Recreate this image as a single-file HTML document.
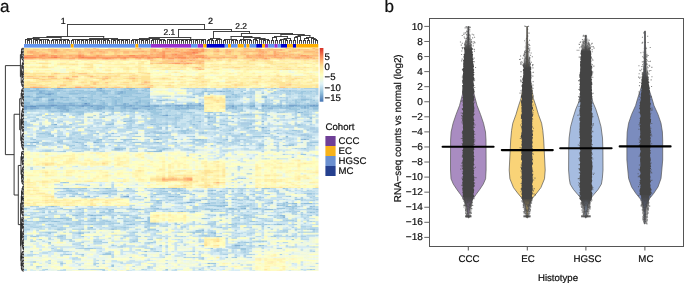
<!DOCTYPE html>
<html><head><meta charset="utf-8"><style>
html,body{margin:0;padding:0;background:#fff;width:685px;height:284px;overflow:hidden;}
body{position:relative;font-family:"Liberation Sans",sans-serif}
text{stroke:#111;stroke-width:0.22px;}
</style></head><body>
<div style="position:absolute;left:0;top:0;width:685px;height:284px;will-change:transform;filter:blur(0.3px)"><svg xmlns="http://www.w3.org/2000/svg" width="685" height="284" viewBox="0 0 685 284" style="position:absolute;left:0;top:0;text-rendering:geometricPrecision;font-family:"Liberation Sans",sans-serif" fill="#111" stroke-width="0.25"><defs><filter id="bl" x="0" y="0" width="1" height="1"><feGaussianBlur stdDeviation="0.35"/></filter></defs><g fill="none" stroke-width="1.61" filter="url(#bl)"><path stroke="#5686bd" d="M51.0 105.12h3.2"/><path stroke="#6494c4" d="M84.1 103.62h3.2M54.0 105.12h3.2M312.3 105.12h3.2M30.0 106.61h6.2"/><path stroke="#72a1cb" d="M99.1 88.69h3.2M48.0 94.66h3.2M51.0 99.14h3.2M39.0 105.12h6.2M48.0 105.12h3.2M63.0 105.12h3.2M69.0 105.12h6.2M81.1 105.12h9.2M129.1 105.12h3.2M174.2 105.12h9.2M186.2 105.12h3.2M198.2 105.12h3.2M261.2 105.12h3.2M288.3 105.12h9.2M309.3 105.12h3.2M315.3 105.12h3.2M24.0 106.61h6.2M81.1 106.61h3.2M90.1 106.61h3.2M144.1 106.61h6.2M231.2 106.61h3.2M24.0 108.11h3.2M30.0 108.11h9.2M57.0 108.11h3.2M99.1 108.11h3.2M132.1 108.11h6.2M165.1 115.58h3.2M126.1 196.25h3.2"/><path stroke="#80afd2" d="M57.0 88.69h6.2M99.1 90.18h3.2M39.0 91.67h3.2M120.1 91.67h3.2M219.2 91.67h3.2M39.0 93.17h6.2M48.0 93.17h6.2M117.1 93.17h6.2M45.0 94.66h3.2M27.0 96.16h3.2M36.0 97.65h6.2M60.0 97.65h3.2M81.1 97.65h3.2M48.0 100.64h6.2M135.1 102.13h3.2M69.0 103.62h3.2M87.1 103.62h3.2M123.1 103.62h3.2M198.2 103.62h3.2M24.0 105.12h3.2M30.0 105.12h3.2M36.0 105.12h3.2M45.0 105.12h3.2M57.0 105.12h6.2M66.0 105.12h3.2M75.1 105.12h6.2M90.1 105.12h12.2M114.1 105.12h12.2M132.1 105.12h3.2M147.1 105.12h3.2M153.1 105.12h6.2M165.1 105.12h6.2M183.2 105.12h3.2M189.2 105.12h9.2M201.2 105.12h3.2M231.2 105.12h3.2M240.2 105.12h3.2M252.2 105.12h3.2M264.2 105.12h3.2M279.3 105.12h3.2M297.3 105.12h3.2M306.3 105.12h3.2M36.0 106.61h18.2M57.0 106.61h9.2M78.1 106.61h3.2M96.1 106.61h9.2M123.1 106.61h9.2M141.1 106.61h3.2M153.1 106.61h6.2M177.2 106.61h3.2M186.2 106.61h3.2M249.2 106.61h6.2M261.2 106.61h3.2M288.3 106.61h6.2M303.3 106.61h3.2M309.3 106.61h9.2M27.0 108.11h3.2M45.0 108.11h6.2M60.0 108.11h6.2M96.1 108.11h3.2M102.1 108.11h3.2M111.1 108.11h3.2M123.1 108.11h3.2M138.1 108.11h3.2M180.2 108.11h15.2M231.2 108.11h3.2M267.2 108.11h6.2M303.3 108.11h3.2M24.0 109.60h3.2M63.0 109.60h6.2M96.1 109.60h3.2M147.1 109.60h3.2M60.0 111.09h3.2M66.0 111.09h3.2M297.3 112.59h3.2M162.1 115.58h3.2M207.2 117.07h3.2M54.0 124.54h3.2M261.2 127.53h3.2M153.1 132.01h3.2M300.3 135.00h6.2M156.1 139.48h3.2M303.3 139.48h3.2M237.2 140.97h3.2M33.0 142.47h3.2M93.1 142.47h3.2M114.1 149.94h6.2M123.1 196.25h3.2M186.2 202.23h6.2M243.2 208.20h3.2M90.1 215.67h3.2M282.3 217.17h3.2M111.1 229.12h3.2M234.2 245.56h6.2"/><path stroke="#8ebcda" d="M36.0 88.69h3.2M63.0 88.69h3.2M96.1 88.69h3.2M126.1 88.69h9.2M147.1 88.69h3.2M30.0 90.18h15.2M57.0 90.18h3.2M75.1 90.18h3.2M96.1 90.18h3.2M102.1 90.18h3.2M129.1 90.18h3.2M141.1 90.18h3.2M27.0 91.67h6.2M42.0 91.67h3.2M48.0 91.67h3.2M90.1 91.67h3.2M99.1 91.67h6.2M117.1 91.67h3.2M123.1 91.67h3.2M204.2 91.67h3.2M216.2 91.67h3.2M222.2 91.67h3.2M36.0 93.17h3.2M45.0 93.17h3.2M69.0 93.17h12.2M87.1 93.17h3.2M102.1 93.17h6.2M123.1 93.17h3.2M135.1 93.17h6.2M243.2 93.17h3.2M261.2 93.17h3.2M270.3 93.17h3.2M36.0 94.66h3.2M51.0 94.66h3.2M117.1 94.66h3.2M231.2 94.66h3.2M24.0 96.16h3.2M39.0 96.16h6.2M48.0 96.16h3.2M123.1 96.16h6.2M63.0 97.65h6.2M78.1 97.65h3.2M84.1 97.65h3.2M105.1 97.65h3.2M114.1 97.65h3.2M225.2 97.65h3.2M264.2 97.65h3.2M33.0 99.14h6.2M48.0 99.14h3.2M54.0 99.14h3.2M78.1 99.14h3.2M90.1 99.14h3.2M117.1 99.14h3.2M300.3 99.14h9.2M33.0 100.64h6.2M81.1 100.64h3.2M99.1 100.64h3.2M114.1 100.64h3.2M138.1 100.64h3.2M159.1 100.64h3.2M24.0 102.13h6.2M48.0 102.13h6.2M57.0 102.13h3.2M102.1 102.13h3.2M114.1 102.13h3.2M138.1 102.13h3.2M147.1 102.13h3.2M24.0 103.62h6.2M48.0 103.62h6.2M57.0 103.62h12.2M72.0 103.62h3.2M81.1 103.62h3.2M102.1 103.62h3.2M114.1 103.62h3.2M126.1 103.62h3.2M135.1 103.62h3.2M147.1 103.62h3.2M189.2 103.62h3.2M27.0 105.12h3.2M33.0 105.12h3.2M102.1 105.12h6.2M126.1 105.12h3.2M135.1 105.12h12.2M150.1 105.12h3.2M162.1 105.12h3.2M171.2 105.12h3.2M225.2 105.12h6.2M237.2 105.12h3.2M249.2 105.12h3.2M267.2 105.12h3.2M276.3 105.12h3.2M285.3 105.12h3.2M300.3 105.12h6.2M54.0 106.61h3.2M66.0 106.61h3.2M72.0 106.61h6.2M84.1 106.61h6.2M93.1 106.61h3.2M105.1 106.61h9.2M120.1 106.61h3.2M132.1 106.61h3.2M138.1 106.61h3.2M150.1 106.61h3.2M159.1 106.61h3.2M165.1 106.61h6.2M174.2 106.61h3.2M180.2 106.61h3.2M189.2 106.61h6.2M198.2 106.61h6.2M228.2 106.61h3.2M234.2 106.61h3.2M264.2 106.61h3.2M270.3 106.61h12.2M285.3 106.61h3.2M294.3 106.61h9.2M306.3 106.61h3.2M39.0 108.11h6.2M54.0 108.11h3.2M66.0 108.11h6.2M75.1 108.11h6.2M87.1 108.11h9.2M108.1 108.11h3.2M120.1 108.11h3.2M126.1 108.11h6.2M141.1 108.11h15.2M174.2 108.11h6.2M225.2 108.11h6.2M234.2 108.11h3.2M249.2 108.11h3.2M279.3 108.11h12.2M300.3 108.11h3.2M306.3 108.11h3.2M312.3 108.11h6.2M30.0 109.60h3.2M60.0 109.60h3.2M93.1 109.60h3.2M99.1 109.60h3.2M111.1 109.60h3.2M132.1 109.60h6.2M150.1 109.60h3.2M159.1 109.60h3.2M174.2 109.60h6.2M198.2 109.60h3.2M51.0 111.09h6.2M63.0 111.09h3.2M120.1 111.09h3.2M129.1 111.09h3.2M261.2 111.09h3.2M300.3 112.59h3.2M78.1 114.08h3.2M246.2 114.08h3.2M261.2 114.08h3.2M87.1 117.07h3.2M102.1 117.07h3.2M210.2 117.07h3.2M111.1 120.06h3.2M150.1 120.06h6.2M174.2 120.06h3.2M243.2 120.06h3.2M123.1 121.55h3.2M198.2 121.55h3.2M261.2 121.55h3.2M96.1 123.05h3.2M165.1 123.05h3.2M240.2 123.05h9.2M108.1 124.54h3.2M150.1 124.54h3.2M192.2 124.54h3.2M207.2 124.54h3.2M174.2 127.53h3.2M39.0 129.02h3.2M156.1 129.02h6.2M165.1 129.02h3.2M210.2 129.02h6.2M231.2 129.02h3.2M309.3 129.02h6.2M45.0 132.01h3.2M150.1 132.01h3.2M156.1 132.01h3.2M297.3 132.01h3.2M312.3 132.01h6.2M111.1 133.50h3.2M162.1 133.50h3.2M306.3 135.00h3.2M261.2 136.49h3.2M285.3 136.49h3.2M69.0 137.99h3.2M249.2 137.99h3.2M99.1 139.48h3.2M153.1 139.48h3.2M198.2 139.48h3.2M225.2 139.48h3.2M300.3 139.48h3.2M60.0 140.97h3.2M201.2 140.97h3.2M234.2 140.97h3.2M30.0 142.47h3.2M36.0 142.47h3.2M75.1 142.47h3.2M96.1 142.47h3.2M156.1 142.47h3.2M45.0 143.96h6.2M81.1 143.96h3.2M258.2 143.96h3.2M27.0 145.46h3.2M84.1 145.46h3.2M288.3 145.46h3.2M57.0 146.95h3.2M114.1 148.44h6.2M87.1 149.94h3.2M93.1 149.94h3.2M159.1 149.94h3.2M186.2 149.94h6.2M153.1 151.43h9.2M63.0 188.78h6.2M105.1 188.78h3.2M126.1 188.78h3.2M162.1 188.78h3.2M171.2 188.78h6.2M210.2 190.28h3.2M219.2 191.77h3.2M102.1 193.26h6.2M240.2 193.26h3.2M87.1 196.25h3.2M168.1 196.25h6.2M231.2 199.24h3.2M198.2 200.73h3.2M222.2 202.23h3.2M270.3 202.23h3.2M285.3 202.23h3.2M204.2 203.72h6.2M291.3 203.72h6.2M303.3 203.72h9.2M222.2 205.22h6.2M276.3 205.22h3.2M51.0 206.71h3.2M219.2 206.71h3.2M285.3 206.71h6.2M309.3 206.71h3.2M156.1 208.20h3.2M228.2 208.20h6.2M240.2 208.20h3.2M255.2 208.20h3.2M111.1 209.70h3.2M135.1 209.70h3.2M213.2 209.70h3.2M264.2 209.70h9.2M315.3 209.70h3.2M180.2 211.19h3.2M192.2 211.19h3.2M309.3 212.69h3.2M75.1 215.67h3.2M93.1 215.67h3.2M99.1 215.67h3.2M279.3 215.67h6.2M252.2 217.17h3.2M60.0 218.66h3.2M93.1 218.66h3.2M42.0 221.65h3.2M54.0 221.65h3.2M144.1 221.65h3.2M117.1 223.14h3.2M150.1 223.14h6.2M129.1 224.64h3.2M276.3 224.64h6.2M90.1 227.63h3.2M57.0 229.12h3.2M81.1 229.12h3.2M309.3 229.12h6.2M201.2 230.61h3.2M195.2 232.11h6.2M210.2 232.11h3.2M78.1 233.60h3.2M213.2 233.60h3.2M132.1 241.07h3.2M261.2 241.07h3.2M72.0 244.06h3.2M258.2 245.56h3.2M120.1 247.05h3.2M234.2 247.05h3.2M216.2 250.04h3.2M144.1 251.53h3.2M243.2 256.01h3.2M201.2 259.00h3.2M33.0 261.99h3.2M207.2 263.48h3.2"/><path stroke="#9cc7df" d="M24.0 88.69h6.2M33.0 88.69h3.2M39.0 88.69h6.2M51.0 88.69h6.2M66.0 88.69h6.2M87.1 88.69h3.2M102.1 88.69h3.2M111.1 88.69h3.2M123.1 88.69h3.2M144.1 88.69h3.2M273.3 88.69h3.2M24.0 90.18h6.2M45.0 90.18h3.2M54.0 90.18h3.2M60.0 90.18h3.2M72.0 90.18h3.2M78.1 90.18h6.2M105.1 90.18h6.2M123.1 90.18h6.2M132.1 90.18h6.2M144.1 90.18h3.2M228.2 90.18h3.2M243.2 90.18h3.2M279.3 90.18h6.2M288.3 90.18h3.2M24.0 91.67h3.2M33.0 91.67h6.2M45.0 91.67h3.2M51.0 91.67h9.2M63.0 91.67h3.2M69.0 91.67h6.2M78.1 91.67h12.2M93.1 91.67h6.2M105.1 91.67h6.2M114.1 91.67h3.2M126.1 91.67h12.2M144.1 91.67h6.2M201.2 91.67h3.2M207.2 91.67h9.2M225.2 91.67h6.2M240.2 91.67h3.2M288.3 91.67h3.2M300.3 91.67h6.2M309.3 91.67h3.2M54.0 93.17h3.2M66.0 93.17h3.2M81.1 93.17h6.2M90.1 93.17h6.2M114.1 93.17h3.2M126.1 93.17h9.2M141.1 93.17h3.2M198.2 93.17h6.2M249.2 93.17h3.2M273.3 93.17h3.2M297.3 93.17h6.2M39.0 94.66h6.2M54.0 94.66h3.2M69.0 94.66h9.2M90.1 94.66h6.2M99.1 94.66h9.2M114.1 94.66h3.2M120.1 94.66h12.2M147.1 94.66h3.2M192.2 94.66h3.2M207.2 94.66h3.2M234.2 94.66h3.2M30.0 96.16h3.2M36.0 96.16h3.2M45.0 96.16h3.2M51.0 96.16h12.2M90.1 96.16h3.2M99.1 96.16h3.2M108.1 96.16h6.2M120.1 96.16h3.2M129.1 96.16h9.2M144.1 96.16h6.2M225.2 96.16h6.2M234.2 96.16h6.2M261.2 96.16h6.2M300.3 96.16h3.2M24.0 97.65h12.2M42.0 97.65h18.2M75.1 97.65h3.2M87.1 97.65h6.2M102.1 97.65h3.2M108.1 97.65h6.2M117.1 97.65h6.2M135.1 97.65h15.2M192.2 97.65h3.2M228.2 97.65h3.2M234.2 97.65h3.2M261.2 97.65h3.2M60.0 99.14h3.2M66.0 99.14h3.2M81.1 99.14h3.2M87.1 99.14h3.2M93.1 99.14h6.2M111.1 99.14h6.2M120.1 99.14h3.2M129.1 99.14h12.2M309.3 99.14h3.2M24.0 100.64h3.2M63.0 100.64h6.2M84.1 100.64h3.2M90.1 100.64h6.2M102.1 100.64h3.2M111.1 100.64h3.2M117.1 100.64h6.2M129.1 100.64h3.2M141.1 100.64h9.2M156.1 100.64h3.2M162.1 100.64h3.2M228.2 100.64h3.2M294.3 100.64h3.2M300.3 100.64h6.2M312.3 100.64h3.2M54.0 102.13h3.2M60.0 102.13h3.2M69.0 102.13h27.2M99.1 102.13h3.2M111.1 102.13h3.2M117.1 102.13h6.2M132.1 102.13h3.2M141.1 102.13h6.2M285.3 102.13h3.2M294.3 102.13h6.2M36.0 103.62h12.2M54.0 103.62h3.2M75.1 103.62h3.2M90.1 103.62h3.2M99.1 103.62h3.2M105.1 103.62h3.2M111.1 103.62h3.2M120.1 103.62h3.2M132.1 103.62h3.2M138.1 103.62h3.2M144.1 103.62h3.2M171.2 103.62h3.2M186.2 103.62h3.2M249.2 103.62h6.2M294.3 103.62h3.2M306.3 103.62h3.2M315.3 103.62h3.2M111.1 105.12h3.2M159.1 105.12h3.2M234.2 105.12h3.2M243.2 105.12h6.2M270.3 105.12h6.2M282.3 105.12h3.2M69.0 106.61h3.2M114.1 106.61h6.2M135.1 106.61h3.2M162.1 106.61h3.2M171.2 106.61h3.2M183.2 106.61h3.2M195.2 106.61h3.2M225.2 106.61h3.2M237.2 106.61h6.2M267.2 106.61h3.2M282.3 106.61h3.2M51.0 108.11h3.2M72.0 108.11h3.2M81.1 108.11h3.2M105.1 108.11h3.2M165.1 108.11h9.2M195.2 108.11h9.2M252.2 108.11h6.2M261.2 108.11h6.2M273.3 108.11h6.2M291.3 108.11h6.2M27.0 109.60h3.2M33.0 109.60h3.2M45.0 109.60h6.2M57.0 109.60h3.2M69.0 109.60h6.2M84.1 109.60h6.2M102.1 109.60h3.2M108.1 109.60h3.2M120.1 109.60h6.2M129.1 109.60h3.2M144.1 109.60h3.2M153.1 109.60h6.2M180.2 109.60h9.2M201.2 109.60h3.2M225.2 109.60h3.2M234.2 109.60h3.2M240.2 109.60h3.2M255.2 109.60h3.2M261.2 109.60h3.2M288.3 109.60h12.2M312.3 109.60h6.2M48.0 111.09h3.2M57.0 111.09h3.2M69.0 111.09h3.2M75.1 111.09h9.2M87.1 111.09h3.2M96.1 111.09h6.2M111.1 111.09h9.2M123.1 111.09h6.2M132.1 111.09h3.2M138.1 111.09h6.2M147.1 111.09h9.2M237.2 111.09h6.2M264.2 111.09h3.2M294.3 111.09h3.2M303.3 111.09h3.2M75.1 112.59h9.2M102.1 112.59h3.2M150.1 112.59h12.2M186.2 112.59h6.2M207.2 112.59h6.2M219.2 112.59h3.2M276.3 112.59h3.2M81.1 114.08h3.2M99.1 114.08h3.2M111.1 114.08h3.2M123.1 114.08h3.2M153.1 114.08h6.2M165.1 114.08h3.2M180.2 114.08h3.2M213.2 114.08h3.2M243.2 114.08h3.2M249.2 114.08h3.2M264.2 114.08h3.2M303.3 114.08h6.2M63.0 115.58h3.2M141.1 115.58h3.2M150.1 115.58h3.2M159.1 115.58h3.2M168.1 115.58h3.2M219.2 115.58h6.2M228.2 115.58h6.2M267.2 115.58h3.2M90.1 117.07h3.2M99.1 117.07h3.2M174.2 117.07h6.2M192.2 117.07h3.2M204.2 117.07h3.2M306.3 117.07h6.2M174.2 118.56h3.2M207.2 118.56h3.2M291.3 118.56h3.2M309.3 118.56h3.2M51.0 120.06h3.2M78.1 120.06h3.2M93.1 120.06h3.2M129.1 120.06h6.2M159.1 120.06h3.2M165.1 120.06h9.2M177.2 120.06h3.2M192.2 120.06h3.2M213.2 120.06h3.2M219.2 120.06h3.2M240.2 120.06h3.2M246.2 120.06h3.2M273.3 120.06h3.2M282.3 120.06h3.2M126.1 121.55h6.2M207.2 121.55h6.2M231.2 121.55h3.2M306.3 121.55h6.2M78.1 123.05h6.2M99.1 123.05h3.2M111.1 123.05h3.2M132.1 123.05h3.2M147.1 123.05h3.2M162.1 123.05h3.2M237.2 123.05h3.2M249.2 123.05h3.2M294.3 123.05h3.2M51.0 124.54h3.2M69.0 124.54h3.2M105.1 124.54h3.2M111.1 124.54h3.2M153.1 124.54h3.2M159.1 124.54h3.2M165.1 124.54h3.2M219.2 124.54h6.2M249.2 124.54h3.2M297.3 124.54h3.2M27.0 126.03h3.2M63.0 126.03h3.2M90.1 126.03h3.2M174.2 126.03h3.2M192.2 126.03h6.2M228.2 126.03h3.2M240.2 126.03h6.2M276.3 126.03h9.2M294.3 126.03h12.2M54.0 127.53h3.2M159.1 127.53h3.2M165.1 127.53h3.2M177.2 127.53h3.2M216.2 127.53h3.2M246.2 127.53h6.2M264.2 127.53h3.2M141.1 129.02h3.2M153.1 129.02h3.2M186.2 129.02h3.2M204.2 129.02h6.2M243.2 129.02h6.2M261.2 129.02h3.2M315.3 129.02h3.2M180.2 130.52h9.2M228.2 130.52h3.2M267.2 130.52h3.2M291.3 130.52h6.2M78.1 132.01h3.2M159.1 132.01h3.2M165.1 132.01h6.2M180.2 132.01h6.2M201.2 132.01h3.2M249.2 132.01h6.2M261.2 132.01h3.2M300.3 132.01h3.2M39.0 133.50h6.2M48.0 133.50h3.2M96.1 133.50h3.2M105.1 133.50h3.2M135.1 133.50h3.2M156.1 133.50h6.2M165.1 133.50h3.2M183.2 133.50h3.2M201.2 133.50h3.2M228.2 133.50h3.2M240.2 133.50h3.2M264.2 133.50h6.2M276.3 133.50h3.2M45.0 135.00h9.2M69.0 135.00h3.2M87.1 135.00h6.2M126.1 135.00h3.2M240.2 135.00h3.2M270.3 135.00h3.2M297.3 135.00h3.2M309.3 135.00h3.2M51.0 136.49h3.2M57.0 136.49h3.2M105.1 136.49h3.2M147.1 136.49h3.2M153.1 136.49h3.2M192.2 136.49h3.2M252.2 136.49h9.2M306.3 136.49h3.2M30.0 137.99h3.2M66.0 137.99h3.2M72.0 137.99h3.2M90.1 137.99h3.2M165.1 137.99h3.2M234.2 137.99h3.2M270.3 137.99h6.2M285.3 137.99h3.2M312.3 137.99h3.2M33.0 139.48h3.2M81.1 139.48h3.2M96.1 139.48h3.2M123.1 139.48h12.2M174.2 139.48h3.2M192.2 139.48h6.2M201.2 139.48h3.2M279.3 139.48h3.2M306.3 139.48h3.2M36.0 140.97h6.2M57.0 140.97h3.2M93.1 140.97h9.2M123.1 140.97h3.2M165.1 140.97h3.2M195.2 140.97h6.2M246.2 140.97h6.2M261.2 140.97h3.2M57.0 142.47h3.2M78.1 142.47h3.2M117.1 142.47h6.2M132.1 142.47h9.2M153.1 142.47h3.2M174.2 142.47h3.2M216.2 142.47h6.2M309.3 142.47h9.2M36.0 143.96h3.2M42.0 143.96h3.2M63.0 143.96h3.2M144.1 143.96h9.2M159.1 143.96h3.2M195.2 143.96h9.2M222.2 143.96h3.2M231.2 143.96h6.2M249.2 143.96h3.2M261.2 143.96h3.2M288.3 143.96h6.2M24.0 145.46h3.2M30.0 145.46h6.2M72.0 145.46h3.2M210.2 145.46h3.2M240.2 145.46h3.2M258.2 145.46h6.2M282.3 145.46h6.2M291.3 145.46h3.2M309.3 145.46h3.2M81.1 146.95h3.2M141.1 146.95h3.2M150.1 146.95h3.2M156.1 146.95h3.2M192.2 146.95h3.2M120.1 148.44h6.2M162.1 148.44h6.2M303.3 148.44h3.2M84.1 149.94h3.2M111.1 149.94h3.2M120.1 149.94h3.2M156.1 149.94h3.2M162.1 149.94h3.2M183.2 149.94h3.2M192.2 149.94h3.2M270.3 149.94h3.2M63.0 151.43h3.2M147.1 151.43h6.2M300.3 154.42h6.2M240.2 178.32h3.2M63.0 182.81h3.2M81.1 188.78h6.2M96.1 188.78h3.2M108.1 188.78h3.2M159.1 188.78h3.2M177.2 188.78h3.2M228.2 188.78h3.2M261.2 188.78h9.2M282.3 188.78h3.2M66.0 190.28h6.2M114.1 190.28h3.2M177.2 190.28h6.2M207.2 190.28h3.2M213.2 190.28h3.2M69.0 191.77h6.2M162.1 191.77h6.2M231.2 191.77h3.2M75.1 193.26h3.2M183.2 193.26h3.2M210.2 193.26h3.2M306.3 193.26h6.2M78.1 194.76h3.2M153.1 194.76h6.2M177.2 194.76h3.2M192.2 194.76h3.2M252.2 194.76h3.2M72.0 196.25h3.2M84.1 196.25h3.2M150.1 196.25h3.2M174.2 196.25h3.2M288.3 196.25h3.2M144.1 197.75h3.2M246.2 197.75h3.2M258.2 197.75h3.2M204.2 199.24h3.2M210.2 199.24h6.2M234.2 199.24h3.2M246.2 199.24h3.2M294.3 199.24h6.2M156.1 200.73h6.2M195.2 200.73h3.2M156.1 202.23h3.2M192.2 202.23h3.2M180.2 203.72h3.2M282.3 203.72h3.2M300.3 203.72h3.2M207.2 205.22h15.2M246.2 205.22h3.2M279.3 205.22h6.2M294.3 205.22h3.2M150.1 206.71h3.2M216.2 206.71h3.2M222.2 206.71h3.2M237.2 206.71h9.2M291.3 206.71h6.2M312.3 206.71h3.2M24.0 208.20h3.2M42.0 208.20h3.2M60.0 208.20h3.2M129.1 208.20h3.2M153.1 208.20h3.2M252.2 208.20h3.2M276.3 208.20h9.2M291.3 208.20h3.2M306.3 208.20h6.2M78.1 209.70h3.2M108.1 209.70h3.2M132.1 209.70h3.2M138.1 209.70h3.2M165.1 209.70h3.2M204.2 209.70h9.2M216.2 209.70h3.2M228.2 209.70h9.2M312.3 209.70h3.2M108.1 211.19h3.2M189.2 211.19h3.2M210.2 211.19h3.2M288.3 211.19h3.2M42.0 212.69h3.2M81.1 212.69h3.2M99.1 212.69h6.2M117.1 212.69h3.2M312.3 212.69h3.2M225.2 214.18h3.2M294.3 214.18h3.2M300.3 214.18h3.2M72.0 215.67h3.2M87.1 215.67h3.2M96.1 215.67h3.2M123.1 215.67h6.2M213.2 215.67h3.2M219.2 215.67h3.2M243.2 215.67h6.2M309.3 215.67h3.2M36.0 217.17h6.2M111.1 217.17h3.2M132.1 217.17h6.2M147.1 217.17h3.2M237.2 217.17h3.2M249.2 217.17h3.2M273.3 217.17h3.2M45.0 218.66h6.2M57.0 218.66h3.2M63.0 218.66h9.2M90.1 218.66h3.2M117.1 218.66h3.2M135.1 218.66h3.2M147.1 218.66h3.2M201.2 218.66h6.2M243.2 218.66h3.2M24.0 220.16h3.2M66.0 220.16h3.2M102.1 220.16h3.2M147.1 220.16h3.2M219.2 220.16h3.2M237.2 220.16h3.2M285.3 220.16h9.2M39.0 221.65h3.2M45.0 221.65h3.2M51.0 221.65h3.2M57.0 221.65h3.2M90.1 221.65h3.2M105.1 221.65h6.2M123.1 221.65h6.2M141.1 221.65h3.2M147.1 221.65h3.2M249.2 221.65h6.2M66.0 223.14h3.2M111.1 223.14h6.2M147.1 223.14h3.2M174.2 223.14h3.2M234.2 223.14h3.2M24.0 224.64h3.2M48.0 224.64h3.2M78.1 224.64h3.2M90.1 224.64h3.2M126.1 224.64h3.2M132.1 224.64h3.2M228.2 224.64h6.2M255.2 224.64h6.2M264.2 224.64h3.2M273.3 224.64h3.2M51.0 226.13h6.2M72.0 226.13h3.2M162.1 226.13h6.2M261.2 226.13h3.2M123.1 227.63h3.2M144.1 227.63h3.2M219.2 227.63h3.2M267.2 227.63h3.2M27.0 229.12h3.2M60.0 229.12h6.2M87.1 229.12h3.2M114.1 229.12h3.2M147.1 229.12h9.2M294.3 229.12h3.2M306.3 229.12h3.2M156.1 230.61h3.2M195.2 230.61h6.2M45.0 232.11h12.2M78.1 232.11h3.2M87.1 232.11h3.2M132.1 232.11h6.2M189.2 232.11h6.2M213.2 232.11h3.2M285.3 232.11h3.2M297.3 232.11h3.2M48.0 233.60h3.2M81.1 233.60h3.2M201.2 235.10h6.2M33.0 236.59h3.2M57.0 236.59h6.2M81.1 236.59h3.2M216.2 236.59h6.2M273.3 236.59h3.2M291.3 236.59h3.2M252.2 238.08h3.2M291.3 239.58h3.2M30.0 241.07h3.2M69.0 241.07h3.2M93.1 241.07h3.2M99.1 241.07h3.2M135.1 241.07h3.2M255.2 241.07h6.2M264.2 241.07h3.2M48.0 242.57h3.2M150.1 242.57h3.2M237.2 242.57h3.2M243.2 242.57h6.2M75.1 244.06h3.2M234.2 244.06h3.2M111.1 245.56h3.2M159.1 245.56h3.2M201.2 245.56h3.2M240.2 245.56h3.2M261.2 245.56h3.2M117.1 247.05h3.2M141.1 247.05h3.2M165.1 247.05h3.2M225.2 247.05h9.2M237.2 247.05h3.2M291.3 247.05h3.2M84.1 248.54h9.2M210.2 248.54h3.2M240.2 248.54h6.2M57.0 250.04h3.2M138.1 250.04h3.2M219.2 250.04h9.2M240.2 250.04h6.2M156.1 251.53h3.2M42.0 253.03h6.2M105.1 253.03h6.2M66.0 254.52h3.2M81.1 254.52h3.2M102.1 254.52h9.2M165.1 254.52h3.2M144.1 256.01h3.2M225.2 257.51h3.2M234.2 257.51h3.2M72.0 259.00h3.2M60.0 263.48h3.2M210.2 263.48h6.2M111.1 264.98h3.2M111.1 266.47h3.2M207.2 266.47h3.2M147.1 267.97h3.2M165.1 269.46h3.2M309.3 269.46h3.2M60.0 270.95h3.2"/><path stroke="#abd0e5" d="M30.0 88.69h3.2M45.0 88.69h3.2M72.0 88.69h15.2M90.1 88.69h6.2M108.1 88.69h3.2M114.1 88.69h3.2M120.1 88.69h3.2M135.1 88.69h3.2M141.1 88.69h3.2M186.2 88.69h3.2M201.2 88.69h6.2M225.2 88.69h3.2M237.2 88.69h3.2M258.2 88.69h6.2M270.3 88.69h3.2M303.3 88.69h15.2M48.0 90.18h6.2M63.0 90.18h3.2M69.0 90.18h3.2M87.1 90.18h3.2M111.1 90.18h6.2M120.1 90.18h3.2M138.1 90.18h3.2M147.1 90.18h3.2M204.2 90.18h3.2M225.2 90.18h3.2M267.2 90.18h3.2M285.3 90.18h3.2M291.3 90.18h6.2M315.3 90.18h3.2M60.0 91.67h3.2M66.0 91.67h3.2M75.1 91.67h3.2M141.1 91.67h3.2M231.2 91.67h3.2M249.2 91.67h6.2M273.3 91.67h3.2M282.3 91.67h6.2M291.3 91.67h9.2M306.3 91.67h3.2M312.3 91.67h6.2M24.0 93.17h12.2M60.0 93.17h6.2M96.1 93.17h6.2M108.1 93.17h3.2M144.1 93.17h6.2M195.2 93.17h3.2M210.2 93.17h3.2M225.2 93.17h9.2M246.2 93.17h3.2M252.2 93.17h3.2M276.3 93.17h3.2M285.3 93.17h6.2M294.3 93.17h3.2M303.3 93.17h9.2M315.3 93.17h3.2M24.0 94.66h9.2M57.0 94.66h12.2M78.1 94.66h12.2M96.1 94.66h3.2M108.1 94.66h6.2M132.1 94.66h15.2M195.2 94.66h9.2M237.2 94.66h3.2M285.3 94.66h6.2M300.3 94.66h3.2M315.3 94.66h3.2M63.0 96.16h6.2M72.0 96.16h12.2M87.1 96.16h3.2M93.1 96.16h6.2M102.1 96.16h6.2M114.1 96.16h3.2M138.1 96.16h6.2M162.1 96.16h6.2M180.2 96.16h3.2M198.2 96.16h3.2M231.2 96.16h3.2M240.2 96.16h3.2M249.2 96.16h3.2M297.3 96.16h3.2M303.3 96.16h3.2M312.3 96.16h3.2M69.0 97.65h3.2M93.1 97.65h9.2M123.1 97.65h12.2M189.2 97.65h3.2M231.2 97.65h3.2M237.2 97.65h3.2M246.2 97.65h6.2M279.3 97.65h3.2M285.3 97.65h3.2M300.3 97.65h6.2M24.0 99.14h9.2M39.0 99.14h3.2M57.0 99.14h3.2M63.0 99.14h3.2M69.0 99.14h9.2M84.1 99.14h3.2M99.1 99.14h3.2M105.1 99.14h6.2M123.1 99.14h6.2M141.1 99.14h12.2M165.1 99.14h3.2M285.3 99.14h3.2M294.3 99.14h6.2M27.0 100.64h6.2M39.0 100.64h3.2M45.0 100.64h3.2M54.0 100.64h9.2M69.0 100.64h6.2M78.1 100.64h3.2M87.1 100.64h3.2M96.1 100.64h3.2M105.1 100.64h6.2M123.1 100.64h6.2M132.1 100.64h6.2M165.1 100.64h3.2M225.2 100.64h3.2M231.2 100.64h3.2M264.2 100.64h3.2M270.3 100.64h3.2M279.3 100.64h9.2M291.3 100.64h3.2M297.3 100.64h3.2M309.3 100.64h3.2M30.0 102.13h3.2M36.0 102.13h12.2M63.0 102.13h6.2M96.1 102.13h3.2M105.1 102.13h6.2M123.1 102.13h9.2M201.2 102.13h3.2M249.2 102.13h6.2M264.2 102.13h3.2M279.3 102.13h3.2M288.3 102.13h3.2M300.3 102.13h3.2M309.3 102.13h9.2M30.0 103.62h6.2M78.1 103.62h3.2M96.1 103.62h3.2M117.1 103.62h3.2M129.1 103.62h3.2M141.1 103.62h3.2M165.1 103.62h3.2M192.2 103.62h6.2M228.2 103.62h6.2M240.2 103.62h3.2M261.2 103.62h12.2M279.3 103.62h3.2M288.3 103.62h6.2M297.3 103.62h3.2M303.3 103.62h3.2M309.3 103.62h6.2M108.1 105.12h3.2M243.2 106.61h6.2M84.1 108.11h3.2M114.1 108.11h6.2M156.1 108.11h3.2M162.1 108.11h3.2M237.2 108.11h6.2M246.2 108.11h3.2M297.3 108.11h3.2M309.3 108.11h3.2M36.0 109.60h9.2M51.0 109.60h6.2M75.1 109.60h9.2M90.1 109.60h3.2M105.1 109.60h3.2M114.1 109.60h6.2M126.1 109.60h3.2M138.1 109.60h6.2M162.1 109.60h3.2M168.1 109.60h6.2M195.2 109.60h3.2M231.2 109.60h3.2M237.2 109.60h3.2M258.2 109.60h3.2M264.2 109.60h9.2M285.3 109.60h3.2M306.3 109.60h6.2M24.0 111.09h12.2M72.0 111.09h3.2M84.1 111.09h3.2M90.1 111.09h6.2M108.1 111.09h3.2M135.1 111.09h3.2M156.1 111.09h6.2M165.1 111.09h6.2M177.2 111.09h9.2M243.2 111.09h3.2M267.2 111.09h3.2M282.3 111.09h12.2M306.3 111.09h3.2M312.3 111.09h6.2M24.0 112.59h3.2M51.0 112.59h3.2M60.0 112.59h15.2M111.1 112.59h3.2M132.1 112.59h3.2M141.1 112.59h3.2M165.1 112.59h3.2M180.2 112.59h6.2M192.2 112.59h3.2M204.2 112.59h3.2M231.2 112.59h6.2M279.3 112.59h6.2M294.3 112.59h3.2M303.3 112.59h6.2M39.0 114.08h3.2M60.0 114.08h3.2M75.1 114.08h3.2M108.1 114.08h3.2M150.1 114.08h3.2M159.1 114.08h3.2M174.2 114.08h3.2M189.2 114.08h3.2M207.2 114.08h3.2M252.2 114.08h3.2M258.2 114.08h3.2M294.3 114.08h3.2M300.3 114.08h3.2M309.3 114.08h3.2M36.0 115.58h3.2M45.0 115.58h6.2M60.0 115.58h3.2M72.0 115.58h3.2M93.1 115.58h3.2M105.1 115.58h3.2M153.1 115.58h6.2M171.2 115.58h12.2M192.2 115.58h9.2M204.2 115.58h6.2M216.2 115.58h3.2M225.2 115.58h3.2M240.2 115.58h12.2M264.2 115.58h3.2M282.3 115.58h3.2M303.3 115.58h6.2M27.0 117.07h9.2M42.0 117.07h3.2M129.1 117.07h6.2M150.1 117.07h18.2M180.2 117.07h3.2M213.2 117.07h3.2M294.3 117.07h6.2M36.0 118.56h3.2M129.1 118.56h3.2M153.1 118.56h3.2M165.1 118.56h9.2M177.2 118.56h6.2M192.2 118.56h3.2M213.2 118.56h3.2M225.2 118.56h3.2M231.2 118.56h3.2M237.2 118.56h3.2M261.2 118.56h3.2M294.3 118.56h3.2M33.0 120.06h6.2M48.0 120.06h3.2M75.1 120.06h3.2M81.1 120.06h3.2M96.1 120.06h6.2M126.1 120.06h3.2M135.1 120.06h3.2M156.1 120.06h3.2M162.1 120.06h3.2M189.2 120.06h3.2M201.2 120.06h3.2M207.2 120.06h6.2M222.2 120.06h3.2M249.2 120.06h6.2M264.2 120.06h3.2M279.3 120.06h3.2M285.3 120.06h3.2M315.3 120.06h3.2M24.0 121.55h3.2M30.0 121.55h6.2M60.0 121.55h3.2M132.1 121.55h3.2M147.1 121.55h9.2M174.2 121.55h3.2M186.2 121.55h6.2M195.2 121.55h3.2M213.2 121.55h3.2M222.2 121.55h9.2M249.2 121.55h6.2M276.3 121.55h3.2M303.3 121.55h3.2M24.0 123.05h3.2M39.0 123.05h3.2M75.1 123.05h3.2M93.1 123.05h3.2M108.1 123.05h3.2M129.1 123.05h3.2M144.1 123.05h3.2M150.1 123.05h12.2M171.2 123.05h6.2M189.2 123.05h3.2M198.2 123.05h3.2M204.2 123.05h15.2M24.0 124.54h6.2M123.1 124.54h3.2M129.1 124.54h3.2M138.1 124.54h6.2M156.1 124.54h3.2M162.1 124.54h3.2M171.2 124.54h6.2M189.2 124.54h3.2M195.2 124.54h3.2M225.2 124.54h3.2M240.2 124.54h9.2M261.2 124.54h3.2M294.3 124.54h3.2M300.3 124.54h3.2M309.3 124.54h3.2M24.0 126.03h3.2M30.0 126.03h3.2M42.0 126.03h3.2M48.0 126.03h9.2M60.0 126.03h3.2M66.0 126.03h3.2M126.1 126.03h6.2M138.1 126.03h6.2M153.1 126.03h6.2M177.2 126.03h9.2M198.2 126.03h3.2M210.2 126.03h6.2M225.2 126.03h3.2M237.2 126.03h3.2M246.2 126.03h3.2M252.2 126.03h6.2M267.2 126.03h9.2M285.3 126.03h9.2M306.3 126.03h3.2M39.0 127.53h9.2M57.0 127.53h12.2M75.1 127.53h6.2M87.1 127.53h3.2M105.1 127.53h6.2M126.1 127.53h12.2M156.1 127.53h3.2M195.2 127.53h3.2M213.2 127.53h3.2M231.2 127.53h3.2M243.2 127.53h3.2M252.2 127.53h3.2M309.3 127.53h6.2M24.0 129.02h6.2M42.0 129.02h3.2M72.0 129.02h3.2M105.1 129.02h3.2M126.1 129.02h6.2M138.1 129.02h3.2M144.1 129.02h3.2M150.1 129.02h3.2M195.2 129.02h9.2M216.2 129.02h3.2M225.2 129.02h6.2M240.2 129.02h3.2M303.3 129.02h6.2M87.1 130.52h6.2M177.2 130.52h3.2M189.2 130.52h3.2M219.2 130.52h3.2M231.2 130.52h3.2M249.2 130.52h9.2M261.2 130.52h6.2M273.3 130.52h6.2M297.3 130.52h3.2M306.3 130.52h3.2M315.3 130.52h3.2M42.0 132.01h3.2M48.0 132.01h3.2M57.0 132.01h6.2M72.0 132.01h6.2M90.1 132.01h3.2M99.1 132.01h6.2M135.1 132.01h3.2M147.1 132.01h3.2M162.1 132.01h3.2M171.2 132.01h3.2M177.2 132.01h3.2M186.2 132.01h9.2M198.2 132.01h3.2M204.2 132.01h6.2M246.2 132.01h3.2M264.2 132.01h3.2M282.3 132.01h6.2M294.3 132.01h3.2M36.0 133.50h3.2M45.0 133.50h3.2M72.0 133.50h6.2M93.1 133.50h3.2M129.1 133.50h6.2M144.1 133.50h6.2M153.1 133.50h3.2M168.1 133.50h3.2M180.2 133.50h3.2M186.2 133.50h3.2M198.2 133.50h3.2M204.2 133.50h3.2M225.2 133.50h3.2M285.3 133.50h9.2M30.0 135.00h3.2M39.0 135.00h6.2M72.0 135.00h3.2M108.1 135.00h3.2M120.1 135.00h6.2M219.2 135.00h3.2M228.2 135.00h12.2M243.2 135.00h3.2M291.3 135.00h6.2M312.3 135.00h3.2M36.0 136.49h3.2M48.0 136.49h3.2M60.0 136.49h6.2M81.1 136.49h3.2M108.1 136.49h3.2M117.1 136.49h3.2M132.1 136.49h9.2M144.1 136.49h3.2M150.1 136.49h3.2M156.1 136.49h3.2M171.2 136.49h3.2M186.2 136.49h6.2M231.2 136.49h9.2M264.2 136.49h3.2M273.3 136.49h6.2M309.3 136.49h3.2M54.0 137.99h6.2M75.1 137.99h9.2M93.1 137.99h3.2M156.1 137.99h9.2M168.1 137.99h3.2M213.2 137.99h6.2M246.2 137.99h3.2M252.2 137.99h3.2M258.2 137.99h3.2M282.3 137.99h3.2M288.3 137.99h3.2M303.3 137.99h9.2M30.0 139.48h3.2M66.0 139.48h6.2M78.1 139.48h3.2M84.1 139.48h6.2M108.1 139.48h6.2M120.1 139.48h3.2M147.1 139.48h3.2M159.1 139.48h3.2M189.2 139.48h3.2M204.2 139.48h3.2M222.2 139.48h3.2M234.2 139.48h12.2M276.3 139.48h3.2M54.0 140.97h3.2M72.0 140.97h6.2M84.1 140.97h9.2M126.1 140.97h3.2M192.2 140.97h3.2M204.2 140.97h3.2M222.2 140.97h6.2M231.2 140.97h3.2M243.2 140.97h3.2M252.2 140.97h6.2M285.3 140.97h3.2M309.3 140.97h9.2M27.0 142.47h3.2M42.0 142.47h6.2M60.0 142.47h3.2M72.0 142.47h3.2M81.1 142.47h3.2M99.1 142.47h3.2M114.1 142.47h3.2M141.1 142.47h6.2M159.1 142.47h3.2M189.2 142.47h6.2M201.2 142.47h6.2M228.2 142.47h6.2M273.3 142.47h3.2M300.3 142.47h3.2M306.3 142.47h3.2M30.0 143.96h3.2M39.0 143.96h3.2M51.0 143.96h3.2M60.0 143.96h3.2M66.0 143.96h3.2M78.1 143.96h3.2M123.1 143.96h3.2M141.1 143.96h3.2M153.1 143.96h6.2M171.2 143.96h3.2M192.2 143.96h3.2M216.2 143.96h6.2M225.2 143.96h3.2M237.2 143.96h3.2M255.2 143.96h3.2M294.3 143.96h3.2M306.3 143.96h6.2M42.0 145.46h3.2M66.0 145.46h6.2M81.1 145.46h3.2M99.1 145.46h6.2M108.1 145.46h3.2M132.1 145.46h3.2M243.2 145.46h3.2M273.3 145.46h6.2M306.3 145.46h3.2M312.3 145.46h3.2M30.0 146.95h6.2M60.0 146.95h3.2M69.0 146.95h3.2M78.1 146.95h3.2M99.1 146.95h6.2M114.1 146.95h9.2M138.1 146.95h3.2M144.1 146.95h6.2M153.1 146.95h3.2M159.1 146.95h3.2M225.2 146.95h3.2M258.2 146.95h6.2M276.3 146.95h3.2M72.0 148.44h3.2M81.1 148.44h6.2M93.1 148.44h6.2M132.1 148.44h3.2M150.1 148.44h6.2M168.1 148.44h3.2M258.2 148.44h3.2M294.3 148.44h3.2M300.3 148.44h3.2M45.0 149.94h9.2M66.0 149.94h6.2M96.1 149.94h3.2M129.1 149.94h3.2M144.1 149.94h3.2M165.1 149.94h3.2M180.2 149.94h3.2M195.2 149.94h3.2M225.2 149.94h9.2M249.2 149.94h3.2M273.3 149.94h3.2M303.3 149.94h6.2M45.0 151.43h6.2M60.0 151.43h3.2M75.1 151.43h6.2M135.1 151.43h3.2M192.2 151.43h3.2M261.2 151.43h3.2M282.3 154.42h3.2M186.2 155.91h3.2M198.2 155.91h3.2M291.3 157.41h3.2M225.2 158.90h3.2M249.2 158.90h3.2M237.2 166.37h3.2M30.0 167.87h3.2M42.0 167.87h3.2M246.2 173.84h6.2M237.2 178.32h3.2M243.2 178.32h3.2M231.2 179.82h3.2M60.0 182.81h3.2M66.0 182.81h3.2M249.2 182.81h3.2M75.1 184.30h3.2M87.1 185.79h3.2M54.0 188.78h9.2M69.0 188.78h12.2M93.1 188.78h3.2M102.1 188.78h3.2M153.1 188.78h6.2M165.1 188.78h6.2M180.2 188.78h3.2M225.2 188.78h3.2M231.2 188.78h3.2M237.2 188.78h9.2M285.3 188.78h3.2M78.1 190.28h6.2M108.1 190.28h6.2M147.1 190.28h6.2M159.1 190.28h3.2M171.2 190.28h6.2M183.2 190.28h3.2M240.2 190.28h3.2M261.2 190.28h3.2M276.3 190.28h3.2M285.3 190.28h3.2M306.3 190.28h3.2M60.0 191.77h9.2M93.1 191.77h3.2M102.1 191.77h15.2M132.1 191.77h6.2M159.1 191.77h3.2M171.2 191.77h9.2M183.2 191.77h3.2M198.2 191.77h6.2M222.2 191.77h3.2M252.2 191.77h3.2M273.3 191.77h6.2M69.0 193.26h6.2M99.1 193.26h3.2M108.1 193.26h3.2M159.1 193.26h12.2M180.2 193.26h3.2M186.2 193.26h3.2M207.2 193.26h3.2M213.2 193.26h3.2M225.2 193.26h3.2M237.2 193.26h3.2M258.2 193.26h3.2M276.3 193.26h3.2M303.3 193.26h3.2M312.3 193.26h3.2M63.0 194.76h3.2M72.0 194.76h6.2M81.1 194.76h3.2M111.1 194.76h6.2M159.1 194.76h3.2M168.1 194.76h3.2M174.2 194.76h3.2M189.2 194.76h3.2M210.2 194.76h6.2M222.2 194.76h3.2M249.2 194.76h3.2M264.2 194.76h6.2M306.3 194.76h6.2M69.0 196.25h3.2M93.1 196.25h6.2M120.1 196.25h3.2M138.1 196.25h3.2M177.2 196.25h9.2M243.2 196.25h6.2M285.3 196.25h3.2M312.3 196.25h3.2M84.1 197.75h3.2M177.2 197.75h6.2M219.2 197.75h6.2M255.2 197.75h3.2M261.2 197.75h3.2M294.3 197.75h3.2M300.3 197.75h3.2M309.3 197.75h3.2M189.2 199.24h6.2M201.2 199.24h3.2M207.2 199.24h3.2M225.2 199.24h3.2M237.2 199.24h3.2M243.2 199.24h3.2M255.2 199.24h6.2M300.3 199.24h3.2M315.3 199.24h3.2M150.1 200.73h6.2M168.1 200.73h6.2M189.2 200.73h6.2M222.2 200.73h3.2M237.2 200.73h6.2M249.2 200.73h6.2M300.3 200.73h3.2M309.3 200.73h6.2M159.1 202.23h3.2M165.1 202.23h3.2M183.2 202.23h3.2M210.2 202.23h6.2M219.2 202.23h3.2M225.2 202.23h3.2M231.2 202.23h3.2M267.2 202.23h3.2M156.1 203.72h6.2M177.2 203.72h3.2M201.2 203.72h3.2M210.2 203.72h6.2M219.2 203.72h6.2M237.2 203.72h6.2M249.2 203.72h3.2M264.2 203.72h9.2M276.3 203.72h6.2M285.3 203.72h6.2M312.3 203.72h3.2M189.2 205.22h3.2M204.2 205.22h3.2M243.2 205.22h3.2M249.2 205.22h3.2M285.3 205.22h3.2M30.0 206.71h3.2M36.0 206.71h3.2M48.0 206.71h3.2M54.0 206.71h3.2M75.1 206.71h3.2M153.1 206.71h3.2M192.2 206.71h6.2M246.2 206.71h3.2M264.2 206.71h3.2M297.3 206.71h3.2M39.0 208.20h3.2M81.1 208.20h3.2M96.1 208.20h3.2M105.1 208.20h3.2M150.1 208.20h3.2M192.2 208.20h6.2M204.2 208.20h6.2M225.2 208.20h3.2M234.2 208.20h3.2M258.2 208.20h3.2M288.3 208.20h3.2M294.3 208.20h3.2M312.3 208.20h3.2M36.0 209.70h6.2M63.0 209.70h9.2M105.1 209.70h3.2M126.1 209.70h6.2M141.1 209.70h3.2M153.1 209.70h12.2M225.2 209.70h3.2M237.2 209.70h3.2M252.2 209.70h6.2M261.2 209.70h3.2M273.3 209.70h3.2M288.3 209.70h6.2M306.3 209.70h6.2M48.0 211.19h3.2M54.0 211.19h3.2M69.0 211.19h3.2M102.1 211.19h3.2M111.1 211.19h3.2M150.1 211.19h6.2M168.1 211.19h6.2M177.2 211.19h3.2M183.2 211.19h3.2M195.2 211.19h3.2M219.2 211.19h3.2M225.2 211.19h3.2M231.2 211.19h3.2M237.2 211.19h3.2M246.2 211.19h3.2M261.2 211.19h3.2M285.3 211.19h3.2M291.3 211.19h9.2M315.3 211.19h3.2M48.0 212.69h3.2M78.1 212.69h3.2M105.1 212.69h9.2M120.1 212.69h3.2M144.1 212.69h6.2M255.2 212.69h3.2M279.3 212.69h3.2M291.3 212.69h6.2M300.3 212.69h3.2M306.3 212.69h3.2M30.0 214.18h3.2M54.0 214.18h3.2M63.0 214.18h3.2M78.1 214.18h6.2M87.1 214.18h3.2M105.1 214.18h6.2M138.1 214.18h3.2M207.2 214.18h3.2M219.2 214.18h6.2M243.2 214.18h3.2M261.2 214.18h3.2M291.3 214.18h3.2M315.3 214.18h3.2M27.0 215.67h3.2M78.1 215.67h3.2M111.1 215.67h6.2M120.1 215.67h3.2M129.1 215.67h3.2M210.2 215.67h3.2M240.2 215.67h3.2M249.2 215.67h3.2M267.2 215.67h6.2M276.3 215.67h3.2M306.3 215.67h3.2M315.3 215.67h3.2M33.0 217.17h3.2M42.0 217.17h3.2M81.1 217.17h3.2M138.1 217.17h3.2M234.2 217.17h3.2M243.2 217.17h6.2M255.2 217.17h3.2M279.3 217.17h3.2M42.0 218.66h3.2M51.0 218.66h6.2M99.1 218.66h3.2M120.1 218.66h3.2M138.1 218.66h6.2M207.2 218.66h3.2M231.2 218.66h6.2M240.2 218.66h3.2M258.2 218.66h6.2M303.3 218.66h3.2M48.0 220.16h3.2M69.0 220.16h3.2M78.1 220.16h6.2M87.1 220.16h9.2M105.1 220.16h3.2M123.1 220.16h3.2M132.1 220.16h3.2M264.2 220.16h3.2M282.3 220.16h3.2M306.3 220.16h3.2M24.0 221.65h9.2M36.0 221.65h3.2M75.1 221.65h6.2M84.1 221.65h6.2M93.1 221.65h3.2M99.1 221.65h6.2M129.1 221.65h3.2M138.1 221.65h3.2M213.2 221.65h3.2M255.2 221.65h3.2M267.2 221.65h6.2M294.3 221.65h3.2M309.3 221.65h3.2M36.0 223.14h3.2M60.0 223.14h6.2M69.0 223.14h3.2M75.1 223.14h6.2M96.1 223.14h9.2M108.1 223.14h3.2M132.1 223.14h3.2M156.1 223.14h3.2M207.2 223.14h9.2M237.2 223.14h3.2M243.2 223.14h3.2M261.2 223.14h3.2M303.3 223.14h3.2M27.0 224.64h3.2M51.0 224.64h3.2M66.0 224.64h6.2M75.1 224.64h3.2M81.1 224.64h3.2M87.1 224.64h3.2M93.1 224.64h12.2M108.1 224.64h3.2M147.1 224.64h12.2M174.2 224.64h6.2M204.2 224.64h12.2M234.2 224.64h3.2M252.2 224.64h3.2M261.2 224.64h3.2M267.2 224.64h3.2M282.3 224.64h3.2M291.3 224.64h6.2M30.0 226.13h3.2M39.0 226.13h3.2M111.1 226.13h3.2M144.1 226.13h6.2M183.2 226.13h3.2M210.2 226.13h3.2M231.2 226.13h6.2M300.3 226.13h6.2M33.0 227.63h6.2M60.0 227.63h3.2M87.1 227.63h3.2M114.1 227.63h3.2M120.1 227.63h3.2M126.1 227.63h3.2M180.2 227.63h3.2M216.2 227.63h3.2M228.2 227.63h3.2M249.2 227.63h3.2M291.3 227.63h3.2M24.0 229.12h3.2M54.0 229.12h3.2M72.0 229.12h9.2M90.1 229.12h6.2M99.1 229.12h3.2M108.1 229.12h3.2M123.1 229.12h3.2M135.1 229.12h3.2M201.2 229.12h3.2M270.3 229.12h3.2M297.3 229.12h3.2M303.3 229.12h3.2M315.3 229.12h3.2M147.1 230.61h3.2M234.2 230.61h3.2M282.3 230.61h6.2M312.3 230.61h3.2M42.0 232.11h3.2M69.0 232.11h3.2M81.1 232.11h3.2M141.1 232.11h3.2M177.2 232.11h6.2M186.2 232.11h3.2M201.2 232.11h3.2M207.2 232.11h3.2M276.3 232.11h9.2M300.3 232.11h15.2M75.1 233.60h3.2M192.2 233.60h3.2M210.2 233.60h3.2M237.2 233.60h3.2M249.2 233.60h3.2M36.0 235.10h12.2M60.0 235.10h6.2M129.1 235.10h6.2M198.2 235.10h3.2M207.2 235.10h3.2M213.2 235.10h3.2M273.3 235.10h6.2M285.3 235.10h3.2M315.3 235.10h3.2M24.0 236.59h3.2M30.0 236.59h3.2M36.0 236.59h3.2M123.1 236.59h3.2M135.1 236.59h6.2M144.1 236.59h3.2M180.2 236.59h3.2M204.2 236.59h6.2M213.2 236.59h3.2M270.3 236.59h3.2M288.3 236.59h3.2M300.3 236.59h6.2M48.0 238.08h3.2M60.0 238.08h3.2M120.1 238.08h3.2M156.1 238.08h6.2M165.1 238.08h3.2M225.2 238.08h3.2M231.2 238.08h6.2M249.2 238.08h3.2M39.0 239.58h3.2M69.0 239.58h3.2M135.1 239.58h3.2M147.1 239.58h6.2M33.0 241.07h3.2M42.0 241.07h3.2M72.0 241.07h3.2M96.1 241.07h3.2M198.2 241.07h6.2M252.2 241.07h3.2M81.1 242.57h3.2M102.1 242.57h6.2M147.1 242.57h3.2M153.1 242.57h3.2M240.2 242.57h3.2M249.2 242.57h3.2M48.0 244.06h3.2M93.1 244.06h3.2M147.1 244.06h3.2M183.2 244.06h3.2M237.2 244.06h3.2M81.1 245.56h3.2M231.2 245.56h3.2M249.2 245.56h3.2M138.1 247.05h3.2M144.1 247.05h3.2M246.2 247.05h9.2M288.3 247.05h3.2M294.3 247.05h3.2M312.3 247.05h3.2M51.0 248.54h3.2M78.1 248.54h6.2M93.1 248.54h3.2M150.1 248.54h3.2M231.2 248.54h9.2M276.3 248.54h6.2M54.0 250.04h3.2M60.0 250.04h3.2M135.1 250.04h3.2M150.1 250.04h3.2M213.2 250.04h3.2M300.3 250.04h3.2M30.0 251.53h3.2M57.0 251.53h12.2M153.1 251.53h3.2M192.2 251.53h3.2M216.2 251.53h3.2M243.2 251.53h3.2M312.3 251.53h3.2M75.1 253.03h3.2M228.2 253.03h3.2M240.2 253.03h6.2M63.0 254.52h3.2M69.0 254.52h3.2M183.2 254.52h3.2M192.2 254.52h3.2M222.2 254.52h6.2M246.2 254.52h6.2M279.3 254.52h3.2M81.1 256.01h3.2M174.2 256.01h6.2M183.2 257.51h3.2M192.2 257.51h3.2M201.2 257.51h3.2M231.2 257.51h3.2M249.2 257.51h3.2M75.1 259.00h6.2M198.2 259.00h3.2M30.0 261.99h3.2M60.0 261.99h3.2M93.1 263.48h6.2M30.0 264.98h3.2M60.0 264.98h3.2M78.1 264.98h3.2M93.1 264.98h3.2M198.2 264.98h3.2M240.2 264.98h3.2M246.2 264.98h6.2M36.0 266.47h3.2M147.1 266.47h3.2M150.1 267.97h3.2M201.2 267.97h3.2M45.0 269.46h3.2M78.1 269.46h3.2M99.1 269.46h6.2M141.1 269.46h3.2M198.2 269.46h3.2M312.3 269.46h3.2M42.0 270.95h3.2M57.0 270.95h3.2M63.0 270.95h3.2M102.1 270.95h3.2M126.1 270.95h3.2M165.1 270.95h3.2M171.2 270.95h6.2"/><path stroke="#b9daea" d="M48.0 88.69h3.2M105.1 88.69h3.2M117.1 88.69h3.2M138.1 88.69h3.2M183.2 88.69h3.2M189.2 88.69h12.2M207.2 88.69h3.2M213.2 88.69h3.2M222.2 88.69h3.2M228.2 88.69h6.2M240.2 88.69h6.2M249.2 88.69h9.2M264.2 88.69h3.2M276.3 88.69h3.2M282.3 88.69h6.2M291.3 88.69h6.2M300.3 88.69h3.2M66.0 90.18h3.2M84.1 90.18h3.2M90.1 90.18h6.2M117.1 90.18h3.2M192.2 90.18h3.2M201.2 90.18h3.2M213.2 90.18h12.2M231.2 90.18h12.2M249.2 90.18h3.2M255.2 90.18h6.2M270.3 90.18h3.2M297.3 90.18h18.2M111.1 91.67h3.2M138.1 91.67h3.2M186.2 91.67h9.2M246.2 91.67h3.2M276.3 91.67h6.2M57.0 93.17h3.2M111.1 93.17h3.2M192.2 93.17h3.2M207.2 93.17h3.2M222.2 93.17h3.2M237.2 93.17h6.2M279.3 93.17h6.2M291.3 93.17h3.2M312.3 93.17h3.2M33.0 94.66h3.2M222.2 94.66h9.2M240.2 94.66h6.2M249.2 94.66h6.2M279.3 94.66h3.2M291.3 94.66h3.2M297.3 94.66h3.2M303.3 94.66h12.2M33.0 96.16h3.2M69.0 96.16h3.2M84.1 96.16h3.2M117.1 96.16h3.2M156.1 96.16h6.2M168.1 96.16h3.2M174.2 96.16h6.2M183.2 96.16h9.2M201.2 96.16h3.2M273.3 96.16h6.2M288.3 96.16h3.2M309.3 96.16h3.2M72.0 97.65h3.2M186.2 97.65h3.2M240.2 97.65h3.2M276.3 97.65h3.2M282.3 97.65h3.2M288.3 97.65h3.2M297.3 97.65h3.2M306.3 97.65h6.2M45.0 99.14h3.2M102.1 99.14h3.2M153.1 99.14h6.2M162.1 99.14h3.2M198.2 99.14h3.2M225.2 99.14h15.2M264.2 99.14h6.2M291.3 99.14h3.2M312.3 99.14h3.2M42.0 100.64h3.2M75.1 100.64h3.2M150.1 100.64h3.2M168.1 100.64h9.2M234.2 100.64h3.2M252.2 100.64h3.2M267.2 100.64h3.2M288.3 100.64h3.2M306.3 100.64h3.2M315.3 100.64h3.2M33.0 102.13h3.2M150.1 102.13h3.2M156.1 102.13h6.2M174.2 102.13h6.2M186.2 102.13h9.2M228.2 102.13h6.2M267.2 102.13h3.2M291.3 102.13h3.2M303.3 102.13h3.2M93.1 103.62h3.2M108.1 103.62h3.2M168.1 103.62h3.2M225.2 103.62h3.2M246.2 103.62h3.2M276.3 103.62h3.2M285.3 103.62h3.2M300.3 103.62h3.2M255.2 105.12h6.2M159.1 108.11h3.2M165.1 109.60h3.2M189.2 109.60h6.2M228.2 109.60h3.2M249.2 109.60h6.2M273.3 109.60h6.2M300.3 109.60h6.2M36.0 111.09h6.2M45.0 111.09h3.2M102.1 111.09h6.2M144.1 111.09h3.2M162.1 111.09h3.2M171.2 111.09h6.2M186.2 111.09h3.2M198.2 111.09h6.2M225.2 111.09h12.2M258.2 111.09h3.2M270.3 111.09h12.2M297.3 111.09h6.2M309.3 111.09h3.2M48.0 112.59h3.2M54.0 112.59h6.2M84.1 112.59h3.2M90.1 112.59h3.2M120.1 112.59h3.2M129.1 112.59h3.2M144.1 112.59h3.2M162.1 112.59h3.2M168.1 112.59h9.2M213.2 112.59h6.2M237.2 112.59h3.2M264.2 112.59h3.2M285.3 112.59h3.2M309.3 112.59h3.2M27.0 114.08h6.2M36.0 114.08h3.2M69.0 114.08h6.2M126.1 114.08h9.2M147.1 114.08h3.2M162.1 114.08h3.2M168.1 114.08h6.2M177.2 114.08h3.2M183.2 114.08h6.2M192.2 114.08h9.2M219.2 114.08h9.2M240.2 114.08h3.2M255.2 114.08h3.2M291.3 114.08h3.2M312.3 114.08h3.2M24.0 115.58h3.2M39.0 115.58h3.2M51.0 115.58h3.2M75.1 115.58h6.2M102.1 115.58h3.2M108.1 115.58h3.2M132.1 115.58h3.2M144.1 115.58h3.2M183.2 115.58h3.2M189.2 115.58h3.2M201.2 115.58h3.2M210.2 115.58h6.2M234.2 115.58h6.2M252.2 115.58h3.2M261.2 115.58h3.2M294.3 115.58h3.2M300.3 115.58h3.2M315.3 115.58h3.2M54.0 117.07h3.2M75.1 117.07h3.2M81.1 117.07h3.2M141.1 117.07h9.2M168.1 117.07h6.2M189.2 117.07h3.2M198.2 117.07h3.2M240.2 117.07h15.2M261.2 117.07h3.2M270.3 117.07h3.2M279.3 117.07h6.2M300.3 117.07h6.2M312.3 117.07h3.2M24.0 118.56h3.2M48.0 118.56h3.2M123.1 118.56h6.2M144.1 118.56h3.2M156.1 118.56h9.2M183.2 118.56h3.2M195.2 118.56h6.2M210.2 118.56h3.2M264.2 118.56h3.2M30.0 120.06h3.2M39.0 120.06h3.2M57.0 120.06h18.2M87.1 120.06h3.2M120.1 120.06h6.2M138.1 120.06h12.2M180.2 120.06h3.2M195.2 120.06h6.2M225.2 120.06h3.2M261.2 120.06h3.2M276.3 120.06h3.2M288.3 120.06h9.2M306.3 120.06h6.2M51.0 121.55h3.2M57.0 121.55h3.2M81.1 121.55h3.2M102.1 121.55h3.2M111.1 121.55h3.2M144.1 121.55h3.2M156.1 121.55h6.2M165.1 121.55h3.2M171.2 121.55h3.2M177.2 121.55h3.2M192.2 121.55h3.2M201.2 121.55h3.2M219.2 121.55h3.2M237.2 121.55h3.2M246.2 121.55h3.2M255.2 121.55h3.2M315.3 121.55h3.2M27.0 123.05h3.2M51.0 123.05h3.2M57.0 123.05h3.2M63.0 123.05h3.2M72.0 123.05h3.2M105.1 123.05h3.2M126.1 123.05h3.2M168.1 123.05h3.2M180.2 123.05h9.2M192.2 123.05h6.2M219.2 123.05h9.2M234.2 123.05h3.2M252.2 123.05h3.2M267.2 123.05h3.2M282.3 123.05h6.2M300.3 123.05h3.2M309.3 123.05h3.2M315.3 123.05h3.2M30.0 124.54h3.2M39.0 124.54h3.2M63.0 124.54h3.2M72.0 124.54h3.2M126.1 124.54h3.2M147.1 124.54h3.2M168.1 124.54h3.2M180.2 124.54h6.2M198.2 124.54h3.2M210.2 124.54h3.2M237.2 124.54h3.2M267.2 124.54h3.2M285.3 124.54h6.2M303.3 124.54h3.2M33.0 126.03h3.2M57.0 126.03h3.2M69.0 126.03h3.2M78.1 126.03h12.2M105.1 126.03h9.2M117.1 126.03h3.2M135.1 126.03h3.2M144.1 126.03h3.2M159.1 126.03h9.2M171.2 126.03h3.2M186.2 126.03h6.2M207.2 126.03h3.2M231.2 126.03h6.2M249.2 126.03h3.2M258.2 126.03h3.2M264.2 126.03h3.2M309.3 126.03h3.2M24.0 127.53h3.2M48.0 127.53h6.2M69.0 127.53h3.2M81.1 127.53h3.2M96.1 127.53h9.2M111.1 127.53h6.2M138.1 127.53h6.2M180.2 127.53h3.2M192.2 127.53h3.2M198.2 127.53h3.2M210.2 127.53h3.2M219.2 127.53h3.2M228.2 127.53h3.2M234.2 127.53h3.2M258.2 127.53h3.2M282.3 127.53h12.2M297.3 127.53h12.2M315.3 127.53h3.2M45.0 129.02h3.2M51.0 129.02h3.2M84.1 129.02h6.2M102.1 129.02h3.2M117.1 129.02h9.2M147.1 129.02h3.2M180.2 129.02h3.2M189.2 129.02h3.2M222.2 129.02h3.2M234.2 129.02h3.2M249.2 129.02h3.2M264.2 129.02h3.2M276.3 129.02h3.2M36.0 130.52h3.2M57.0 130.52h3.2M66.0 130.52h3.2M84.1 130.52h3.2M93.1 130.52h3.2M99.1 130.52h6.2M117.1 130.52h15.2M144.1 130.52h12.2M171.2 130.52h3.2M192.2 130.52h3.2M222.2 130.52h6.2M279.3 130.52h3.2M288.3 130.52h3.2M300.3 130.52h3.2M309.3 130.52h6.2M27.0 132.01h3.2M36.0 132.01h6.2M69.0 132.01h3.2M81.1 132.01h3.2M87.1 132.01h3.2M93.1 132.01h3.2M105.1 132.01h3.2M117.1 132.01h9.2M132.1 132.01h3.2M144.1 132.01h3.2M174.2 132.01h3.2M195.2 132.01h3.2M210.2 132.01h9.2M222.2 132.01h9.2M255.2 132.01h6.2M267.2 132.01h9.2M288.3 132.01h6.2M309.3 132.01h3.2M57.0 133.50h6.2M78.1 133.50h3.2M90.1 133.50h3.2M114.1 133.50h3.2M177.2 133.50h3.2M189.2 133.50h6.2M213.2 133.50h6.2M231.2 133.50h3.2M243.2 133.50h3.2M249.2 133.50h15.2M279.3 133.50h3.2M294.3 133.50h3.2M303.3 133.50h6.2M27.0 135.00h3.2M36.0 135.00h3.2M57.0 135.00h6.2M75.1 135.00h6.2M84.1 135.00h3.2M96.1 135.00h3.2M129.1 135.00h3.2M144.1 135.00h3.2M150.1 135.00h6.2M159.1 135.00h3.2M168.1 135.00h3.2M198.2 135.00h3.2M213.2 135.00h3.2M222.2 135.00h6.2M252.2 135.00h9.2M288.3 135.00h3.2M315.3 135.00h3.2M39.0 136.49h9.2M69.0 136.49h3.2M75.1 136.49h6.2M84.1 136.49h9.2M102.1 136.49h3.2M111.1 136.49h6.2M159.1 136.49h12.2M210.2 136.49h3.2M219.2 136.49h3.2M225.2 136.49h3.2M240.2 136.49h12.2M267.2 136.49h6.2M303.3 136.49h3.2M24.0 137.99h6.2M36.0 137.99h12.2M84.1 137.99h6.2M96.1 137.99h3.2M102.1 137.99h6.2M150.1 137.99h6.2M171.2 137.99h3.2M219.2 137.99h3.2M225.2 137.99h3.2M237.2 137.99h3.2M255.2 137.99h3.2M261.2 137.99h3.2M291.3 137.99h3.2M300.3 137.99h3.2M57.0 139.48h9.2M72.0 139.48h6.2M102.1 139.48h3.2M114.1 139.48h3.2M135.1 139.48h3.2M171.2 139.48h3.2M180.2 139.48h3.2M216.2 139.48h6.2M231.2 139.48h3.2M246.2 139.48h3.2M273.3 139.48h3.2M282.3 139.48h3.2M288.3 139.48h6.2M24.0 140.97h6.2M33.0 140.97h3.2M78.1 140.97h6.2M111.1 140.97h3.2M129.1 140.97h3.2M144.1 140.97h6.2M162.1 140.97h3.2M210.2 140.97h6.2M219.2 140.97h3.2M288.3 140.97h3.2M24.0 142.47h3.2M48.0 142.47h6.2M84.1 142.47h3.2M102.1 142.47h12.2M123.1 142.47h3.2M129.1 142.47h3.2M147.1 142.47h3.2M162.1 142.47h3.2M171.2 142.47h3.2M180.2 142.47h3.2M186.2 142.47h3.2M198.2 142.47h3.2M207.2 142.47h3.2M213.2 142.47h3.2M222.2 142.47h3.2M234.2 142.47h3.2M243.2 142.47h12.2M276.3 142.47h3.2M24.0 143.96h3.2M54.0 143.96h6.2M69.0 143.96h6.2M96.1 143.96h6.2M114.1 143.96h9.2M126.1 143.96h9.2M168.1 143.96h3.2M174.2 143.96h3.2M180.2 143.96h6.2M189.2 143.96h3.2M228.2 143.96h3.2M243.2 143.96h3.2M276.3 143.96h3.2M45.0 145.46h3.2M51.0 145.46h3.2M93.1 145.46h6.2M117.1 145.46h3.2M126.1 145.46h3.2M135.1 145.46h6.2M174.2 145.46h6.2M195.2 145.46h6.2M213.2 145.46h3.2M222.2 145.46h3.2M228.2 145.46h3.2M237.2 145.46h3.2M246.2 145.46h3.2M255.2 145.46h3.2M264.2 145.46h3.2M24.0 146.95h6.2M36.0 146.95h3.2M72.0 146.95h6.2M84.1 146.95h3.2M111.1 146.95h3.2M123.1 146.95h3.2M135.1 146.95h3.2M162.1 146.95h3.2M174.2 146.95h3.2M180.2 146.95h3.2M189.2 146.95h3.2M306.3 146.95h9.2M75.1 148.44h6.2M87.1 148.44h6.2M129.1 148.44h3.2M135.1 148.44h3.2M147.1 148.44h3.2M156.1 148.44h6.2M183.2 148.44h6.2M243.2 148.44h6.2M255.2 148.44h3.2M276.3 148.44h3.2M297.3 148.44h3.2M306.3 148.44h3.2M42.0 149.94h3.2M63.0 149.94h3.2M81.1 149.94h3.2M123.1 149.94h3.2M168.1 149.94h6.2M219.2 149.94h6.2M234.2 149.94h3.2M243.2 149.94h6.2M252.2 149.94h12.2M276.3 149.94h6.2M285.3 149.94h3.2M300.3 149.94h3.2M309.3 149.94h3.2M39.0 151.43h6.2M57.0 151.43h3.2M72.0 151.43h3.2M81.1 151.43h3.2M99.1 151.43h6.2M129.1 151.43h6.2M144.1 151.43h3.2M222.2 151.43h6.2M276.3 151.43h3.2M210.2 152.93h3.2M222.2 154.42h3.2M291.3 154.42h3.2M312.3 155.91h6.2M198.2 158.90h3.2M264.2 158.90h3.2M276.3 158.90h3.2M237.2 167.87h6.2M30.0 169.36h3.2M237.2 169.36h3.2M249.2 169.36h3.2M231.2 173.84h3.2M237.2 182.81h3.2M78.1 184.30h3.2M111.1 184.30h3.2M99.1 185.79h3.2M111.1 185.79h3.2M243.2 185.79h3.2M111.1 187.29h3.2M99.1 188.78h3.2M111.1 188.78h3.2M129.1 188.78h3.2M144.1 188.78h3.2M183.2 188.78h3.2M234.2 188.78h3.2M246.2 188.78h3.2M255.2 188.78h3.2M270.3 188.78h6.2M300.3 188.78h3.2M312.3 188.78h6.2M72.0 190.28h6.2M84.1 190.28h6.2M105.1 190.28h3.2M123.1 190.28h12.2M156.1 190.28h3.2M162.1 190.28h3.2M168.1 190.28h3.2M192.2 190.28h6.2M201.2 190.28h3.2M225.2 190.28h3.2M231.2 190.28h3.2M237.2 190.28h3.2M249.2 190.28h3.2M273.3 190.28h3.2M288.3 190.28h3.2M294.3 190.28h3.2M309.3 190.28h3.2M57.0 191.77h3.2M75.1 191.77h3.2M81.1 191.77h6.2M96.1 191.77h6.2M117.1 191.77h15.2M153.1 191.77h6.2M180.2 191.77h3.2M186.2 191.77h3.2M195.2 191.77h3.2M207.2 191.77h6.2M216.2 191.77h3.2M225.2 191.77h3.2M237.2 191.77h6.2M255.2 191.77h9.2M267.2 191.77h6.2M300.3 191.77h15.2M54.0 193.26h3.2M66.0 193.26h3.2M96.1 193.26h3.2M111.1 193.26h6.2M150.1 193.26h3.2M156.1 193.26h3.2M174.2 193.26h3.2M189.2 193.26h3.2M216.2 193.26h3.2M222.2 193.26h3.2M234.2 193.26h3.2M255.2 193.26h3.2M261.2 193.26h3.2M279.3 193.26h6.2M294.3 193.26h3.2M315.3 193.26h3.2M57.0 194.76h6.2M108.1 194.76h3.2M120.1 194.76h3.2M126.1 194.76h3.2M150.1 194.76h3.2M162.1 194.76h6.2M171.2 194.76h3.2M207.2 194.76h3.2M216.2 194.76h6.2M228.2 194.76h18.2M276.3 194.76h9.2M312.3 194.76h3.2M108.1 196.25h3.2M132.1 196.25h6.2M153.1 196.25h3.2M165.1 196.25h3.2M207.2 196.25h18.2M234.2 196.25h9.2M252.2 196.25h3.2M258.2 196.25h3.2M306.3 196.25h6.2M57.0 197.75h6.2M81.1 197.75h3.2M87.1 197.75h6.2M120.1 197.75h9.2M132.1 197.75h3.2M150.1 197.75h3.2M162.1 197.75h6.2M174.2 197.75h3.2M204.2 197.75h3.2M210.2 197.75h3.2M231.2 197.75h6.2M243.2 197.75h3.2M276.3 197.75h6.2M312.3 197.75h6.2M132.1 199.24h12.2M165.1 199.24h18.2M195.2 199.24h6.2M216.2 199.24h3.2M222.2 199.24h3.2M240.2 199.24h3.2M249.2 199.24h3.2M282.3 199.24h3.2M303.3 199.24h3.2M312.3 199.24h3.2M162.1 200.73h3.2M174.2 200.73h3.2M207.2 200.73h3.2M216.2 200.73h6.2M258.2 200.73h6.2M267.2 200.73h6.2M276.3 200.73h3.2M303.3 200.73h6.2M144.1 202.23h6.2M153.1 202.23h3.2M177.2 202.23h6.2M207.2 202.23h3.2M216.2 202.23h3.2M234.2 202.23h3.2M282.3 202.23h3.2M153.1 203.72h3.2M174.2 203.72h3.2M183.2 203.72h3.2M216.2 203.72h3.2M225.2 203.72h3.2M246.2 203.72h3.2M252.2 203.72h3.2M261.2 203.72h3.2M315.3 203.72h3.2M129.1 205.22h6.2M150.1 205.22h12.2M201.2 205.22h3.2M231.2 205.22h3.2M240.2 205.22h3.2M252.2 205.22h3.2M261.2 205.22h3.2M267.2 205.22h3.2M291.3 205.22h3.2M300.3 205.22h3.2M33.0 206.71h3.2M45.0 206.71h3.2M87.1 206.71h6.2M129.1 206.71h3.2M198.2 206.71h9.2M213.2 206.71h3.2M249.2 206.71h6.2M282.3 206.71h3.2M300.3 206.71h3.2M315.3 206.71h3.2M27.0 208.20h3.2M36.0 208.20h3.2M45.0 208.20h3.2M57.0 208.20h3.2M78.1 208.20h3.2M84.1 208.20h3.2M90.1 208.20h6.2M99.1 208.20h6.2M114.1 208.20h6.2M126.1 208.20h3.2M132.1 208.20h3.2M147.1 208.20h3.2M159.1 208.20h3.2M177.2 208.20h6.2M198.2 208.20h6.2M210.2 208.20h3.2M222.2 208.20h3.2M237.2 208.20h3.2M249.2 208.20h3.2M261.2 208.20h3.2M285.3 208.20h3.2M315.3 208.20h3.2M24.0 209.70h3.2M33.0 209.70h3.2M42.0 209.70h15.2M72.0 209.70h6.2M81.1 209.70h3.2M87.1 209.70h9.2M102.1 209.70h3.2M144.1 209.70h3.2M150.1 209.70h3.2M168.1 209.70h3.2M186.2 209.70h3.2M192.2 209.70h6.2M201.2 209.70h3.2M219.2 209.70h3.2M240.2 209.70h6.2M249.2 209.70h3.2M258.2 209.70h3.2M276.3 209.70h3.2M294.3 209.70h12.2M42.0 211.19h3.2M81.1 211.19h3.2M132.1 211.19h3.2M144.1 211.19h6.2M162.1 211.19h3.2M186.2 211.19h3.2M213.2 211.19h6.2M222.2 211.19h3.2M273.3 211.19h3.2M282.3 211.19h3.2M306.3 211.19h9.2M30.0 212.69h12.2M51.0 212.69h6.2M75.1 212.69h3.2M93.1 212.69h3.2M114.1 212.69h3.2M138.1 212.69h3.2M189.2 212.69h6.2M225.2 212.69h9.2M240.2 212.69h3.2M252.2 212.69h3.2M261.2 212.69h3.2M276.3 212.69h3.2M282.3 212.69h3.2M315.3 212.69h3.2M24.0 214.18h3.2M33.0 214.18h3.2M48.0 214.18h6.2M57.0 214.18h6.2M69.0 214.18h9.2M90.1 214.18h3.2M96.1 214.18h9.2M111.1 214.18h3.2M117.1 214.18h12.2M141.1 214.18h3.2M147.1 214.18h3.2M204.2 214.18h3.2M231.2 214.18h12.2M246.2 214.18h15.2M276.3 214.18h3.2M303.3 214.18h3.2M312.3 214.18h3.2M24.0 215.67h3.2M42.0 215.67h6.2M60.0 215.67h3.2M81.1 215.67h3.2M102.1 215.67h3.2M108.1 215.67h3.2M132.1 215.67h6.2M207.2 215.67h3.2M222.2 215.67h3.2M231.2 215.67h3.2M273.3 215.67h3.2M300.3 215.67h3.2M30.0 217.17h3.2M63.0 217.17h6.2M75.1 217.17h6.2M93.1 217.17h3.2M123.1 217.17h3.2M129.1 217.17h3.2M276.3 217.17h3.2M300.3 217.17h9.2M27.0 218.66h6.2M39.0 218.66h3.2M75.1 218.66h3.2M111.1 218.66h3.2M123.1 218.66h6.2M132.1 218.66h3.2M225.2 218.66h3.2M237.2 218.66h3.2M246.2 218.66h3.2M264.2 218.66h3.2M276.3 218.66h12.2M294.3 218.66h3.2M42.0 220.16h6.2M51.0 220.16h3.2M63.0 220.16h3.2M99.1 220.16h3.2M114.1 220.16h3.2M126.1 220.16h6.2M231.2 220.16h6.2M246.2 220.16h6.2M261.2 220.16h3.2M267.2 220.16h6.2M294.3 220.16h3.2M33.0 221.65h3.2M48.0 221.65h3.2M60.0 221.65h3.2M72.0 221.65h3.2M81.1 221.65h3.2M96.1 221.65h3.2M111.1 221.65h3.2M132.1 221.65h6.2M192.2 221.65h3.2M210.2 221.65h3.2M246.2 221.65h3.2M264.2 221.65h3.2M279.3 221.65h9.2M291.3 221.65h3.2M306.3 221.65h3.2M312.3 221.65h3.2M24.0 223.14h3.2M33.0 223.14h3.2M39.0 223.14h3.2M57.0 223.14h3.2M72.0 223.14h3.2M93.1 223.14h3.2M105.1 223.14h3.2M123.1 223.14h3.2M129.1 223.14h3.2M135.1 223.14h6.2M144.1 223.14h3.2M165.1 223.14h3.2M180.2 223.14h3.2M192.2 223.14h3.2M198.2 223.14h3.2M231.2 223.14h3.2M240.2 223.14h3.2M246.2 223.14h3.2M276.3 223.14h3.2M30.0 224.64h6.2M45.0 224.64h3.2M57.0 224.64h9.2M72.0 224.64h3.2M84.1 224.64h3.2M105.1 224.64h3.2M111.1 224.64h3.2M123.1 224.64h3.2M144.1 224.64h3.2M159.1 224.64h3.2M165.1 224.64h6.2M189.2 224.64h6.2M201.2 224.64h3.2M225.2 224.64h3.2M237.2 224.64h15.2M270.3 224.64h3.2M315.3 224.64h3.2M27.0 226.13h3.2M33.0 226.13h6.2M42.0 226.13h3.2M69.0 226.13h3.2M75.1 226.13h3.2M99.1 226.13h3.2M108.1 226.13h3.2M114.1 226.13h12.2M150.1 226.13h6.2M159.1 226.13h3.2M180.2 226.13h3.2M213.2 226.13h3.2M306.3 226.13h6.2M24.0 227.63h3.2M30.0 227.63h3.2M39.0 227.63h3.2M48.0 227.63h3.2M57.0 227.63h3.2M63.0 227.63h3.2M102.1 227.63h3.2M111.1 227.63h3.2M117.1 227.63h3.2M129.1 227.63h3.2M147.1 227.63h3.2M183.2 227.63h3.2M222.2 227.63h6.2M231.2 227.63h9.2M243.2 227.63h6.2M261.2 227.63h3.2M300.3 227.63h6.2M309.3 227.63h9.2M39.0 229.12h6.2M48.0 229.12h3.2M117.1 229.12h6.2M126.1 229.12h3.2M138.1 229.12h3.2M180.2 229.12h3.2M186.2 229.12h3.2M222.2 229.12h6.2M252.2 229.12h3.2M261.2 229.12h3.2M282.3 229.12h9.2M300.3 229.12h3.2M24.0 230.61h3.2M36.0 230.61h3.2M144.1 230.61h3.2M150.1 230.61h6.2M207.2 230.61h6.2M279.3 230.61h3.2M294.3 230.61h3.2M315.3 230.61h3.2M39.0 232.11h3.2M63.0 232.11h3.2M72.0 232.11h6.2M84.1 232.11h3.2M93.1 232.11h3.2M111.1 232.11h3.2M126.1 232.11h6.2M144.1 232.11h3.2M156.1 232.11h6.2M174.2 232.11h3.2M204.2 232.11h3.2M225.2 232.11h9.2M243.2 232.11h3.2M249.2 232.11h6.2M267.2 232.11h3.2M273.3 232.11h3.2M315.3 232.11h3.2M72.0 233.60h3.2M129.1 233.60h6.2M153.1 233.60h3.2M201.2 233.60h3.2M207.2 233.60h3.2M219.2 233.60h3.2M234.2 233.60h3.2M240.2 233.60h3.2M246.2 233.60h3.2M252.2 233.60h3.2M294.3 233.60h3.2M24.0 235.10h3.2M30.0 235.10h3.2M78.1 235.10h3.2M114.1 235.10h3.2M120.1 235.10h9.2M153.1 235.10h9.2M174.2 235.10h3.2M189.2 235.10h3.2M210.2 235.10h3.2M225.2 235.10h3.2M231.2 235.10h3.2M246.2 235.10h6.2M261.2 235.10h3.2M279.3 235.10h3.2M291.3 235.10h6.2M300.3 235.10h3.2M306.3 235.10h9.2M54.0 236.59h3.2M63.0 236.59h3.2M78.1 236.59h3.2M93.1 236.59h6.2M126.1 236.59h3.2M147.1 236.59h3.2M162.1 236.59h3.2M174.2 236.59h6.2M183.2 236.59h3.2M198.2 236.59h6.2M210.2 236.59h3.2M228.2 236.59h3.2M234.2 236.59h6.2M243.2 236.59h3.2M255.2 236.59h6.2M276.3 236.59h12.2M294.3 236.59h3.2M24.0 238.08h3.2M57.0 238.08h3.2M63.0 238.08h3.2M72.0 238.08h3.2M108.1 238.08h3.2M135.1 238.08h3.2M300.3 238.08h3.2M24.0 239.58h3.2M48.0 239.58h3.2M60.0 239.58h9.2M93.1 239.58h6.2M129.1 239.58h6.2M177.2 239.58h3.2M198.2 239.58h3.2M249.2 239.58h3.2M300.3 239.58h9.2M60.0 241.07h3.2M111.1 241.07h3.2M129.1 241.07h3.2M153.1 241.07h3.2M180.2 241.07h3.2M192.2 241.07h3.2M240.2 241.07h3.2M78.1 242.57h3.2M93.1 242.57h9.2M129.1 242.57h3.2M144.1 242.57h3.2M180.2 242.57h3.2M276.3 242.57h3.2M282.3 242.57h6.2M78.1 244.06h3.2M96.1 244.06h6.2M123.1 244.06h3.2M144.1 244.06h3.2M186.2 244.06h3.2M225.2 244.06h3.2M231.2 244.06h3.2M240.2 244.06h6.2M249.2 244.06h3.2M267.2 244.06h3.2M51.0 245.56h3.2M78.1 245.56h3.2M87.1 245.56h3.2M114.1 245.56h3.2M120.1 245.56h6.2M165.1 245.56h3.2M183.2 245.56h3.2M243.2 245.56h6.2M252.2 245.56h3.2M285.3 245.56h3.2M24.0 247.05h3.2M54.0 247.05h21.2M81.1 247.05h3.2M108.1 247.05h3.2M123.1 247.05h3.2M135.1 247.05h3.2M159.1 247.05h3.2M174.2 247.05h3.2M255.2 247.05h9.2M270.3 247.05h3.2M285.3 247.05h3.2M309.3 247.05h3.2M315.3 247.05h3.2M75.1 248.54h3.2M96.1 248.54h6.2M144.1 248.54h6.2M153.1 248.54h3.2M216.2 248.54h6.2M246.2 248.54h6.2M261.2 248.54h3.2M39.0 250.04h3.2M84.1 250.04h6.2M120.1 250.04h3.2M129.1 250.04h3.2M153.1 250.04h3.2M192.2 250.04h3.2M231.2 250.04h3.2M246.2 250.04h3.2M309.3 250.04h3.2M48.0 251.53h3.2M54.0 251.53h3.2M99.1 251.53h3.2M108.1 251.53h3.2M159.1 251.53h3.2M189.2 251.53h3.2M198.2 251.53h3.2M213.2 251.53h3.2M219.2 251.53h3.2M231.2 251.53h3.2M240.2 251.53h3.2M246.2 251.53h6.2M309.3 251.53h3.2M39.0 253.03h3.2M63.0 253.03h3.2M102.1 253.03h3.2M132.1 253.03h3.2M177.2 253.03h6.2M201.2 253.03h3.2M210.2 253.03h3.2M219.2 253.03h9.2M231.2 253.03h3.2M237.2 253.03h3.2M246.2 253.03h3.2M27.0 254.52h9.2M60.0 254.52h3.2M78.1 254.52h3.2M111.1 254.52h3.2M141.1 254.52h6.2M168.1 254.52h3.2M198.2 254.52h3.2M219.2 254.52h3.2M234.2 254.52h3.2M243.2 254.52h3.2M252.2 254.52h3.2M24.0 256.01h9.2M39.0 256.01h3.2M60.0 256.01h3.2M111.1 256.01h3.2M159.1 256.01h3.2M180.2 256.01h3.2M234.2 256.01h6.2M75.1 257.51h3.2M111.1 257.51h3.2M129.1 257.51h3.2M162.1 257.51h3.2M186.2 257.51h6.2M195.2 257.51h6.2M246.2 257.51h3.2M93.1 259.00h3.2M219.2 259.00h6.2M48.0 260.50h3.2M96.1 260.50h3.2M102.1 260.50h3.2M147.1 260.50h3.2M174.2 260.50h3.2M45.0 261.99h3.2M57.0 261.99h3.2M72.0 261.99h3.2M93.1 261.99h3.2M117.1 261.99h6.2M126.1 261.99h15.2M300.3 261.99h3.2M48.0 263.48h3.2M63.0 263.48h3.2M102.1 263.48h3.2M120.1 263.48h3.2M165.1 263.48h3.2M315.3 263.48h3.2M135.1 264.98h6.2M153.1 264.98h3.2M213.2 264.98h3.2M300.3 264.98h3.2M39.0 266.47h3.2M96.1 266.47h3.2M132.1 266.47h3.2M210.2 266.47h6.2M219.2 266.47h6.2M36.0 267.97h3.2M192.2 267.97h3.2M207.2 267.97h3.2M249.2 267.97h3.2M24.0 269.46h3.2M42.0 269.46h3.2M63.0 269.46h3.2M81.1 269.46h3.2M90.1 269.46h9.2M144.1 269.46h3.2M174.2 269.46h3.2M210.2 269.46h3.2M300.3 269.46h3.2M306.3 269.46h3.2M24.0 270.95h3.2M39.0 270.95h3.2M129.1 270.95h3.2M162.1 270.95h3.2M192.2 270.95h3.2M213.2 270.95h3.2M252.2 270.95h3.2M288.3 270.95h3.2M303.3 270.95h3.2"/><path stroke="#c8e3ef" d="M180.2 88.69h3.2M210.2 88.69h3.2M234.2 88.69h3.2M279.3 88.69h3.2M288.3 88.69h3.2M297.3 88.69h3.2M186.2 90.18h6.2M195.2 90.18h6.2M207.2 90.18h6.2M252.2 90.18h3.2M276.3 90.18h3.2M195.2 91.67h6.2M234.2 91.67h6.2M261.2 91.67h3.2M186.2 93.17h3.2M213.2 93.17h3.2M219.2 93.17h3.2M234.2 93.17h3.2M219.2 94.66h3.2M246.2 94.66h3.2M267.2 94.66h12.2M294.3 94.66h3.2M153.1 96.16h3.2M192.2 96.16h3.2M243.2 96.16h6.2M252.2 96.16h3.2M267.2 96.16h6.2M285.3 96.16h3.2M291.3 96.16h6.2M306.3 96.16h3.2M315.3 96.16h3.2M159.1 97.65h3.2M252.2 97.65h3.2M273.3 97.65h3.2M291.3 97.65h3.2M312.3 97.65h3.2M42.0 99.14h3.2M159.1 99.14h3.2M168.1 99.14h3.2M201.2 99.14h3.2M249.2 99.14h6.2M270.3 99.14h15.2M288.3 99.14h3.2M315.3 99.14h3.2M201.2 100.64h3.2M249.2 100.64h3.2M153.1 102.13h3.2M180.2 102.13h6.2M198.2 102.13h3.2M225.2 102.13h3.2M234.2 102.13h9.2M255.2 102.13h3.2M270.3 102.13h6.2M282.3 102.13h3.2M306.3 102.13h3.2M150.1 103.62h6.2M159.1 103.62h3.2M174.2 103.62h3.2M201.2 103.62h3.2M234.2 103.62h6.2M243.2 103.62h3.2M258.2 103.62h3.2M255.2 106.61h6.2M243.2 108.11h3.2M279.3 109.60h6.2M42.0 111.09h3.2M189.2 111.09h9.2M39.0 112.59h9.2M87.1 112.59h3.2M123.1 112.59h3.2M138.1 112.59h3.2M147.1 112.59h3.2M177.2 112.59h3.2M201.2 112.59h3.2M249.2 112.59h3.2M267.2 112.59h3.2M288.3 112.59h6.2M24.0 114.08h3.2M33.0 114.08h3.2M42.0 114.08h3.2M48.0 114.08h3.2M54.0 114.08h6.2M117.1 114.08h3.2M135.1 114.08h6.2M144.1 114.08h3.2M201.2 114.08h3.2M237.2 114.08h3.2M315.3 114.08h3.2M27.0 115.58h3.2M33.0 115.58h3.2M54.0 115.58h6.2M81.1 115.58h3.2M99.1 115.58h3.2M120.1 115.58h3.2M129.1 115.58h3.2M147.1 115.58h3.2M186.2 115.58h3.2M276.3 115.58h6.2M291.3 115.58h3.2M309.3 115.58h3.2M45.0 117.07h3.2M51.0 117.07h3.2M63.0 117.07h3.2M78.1 117.07h3.2M183.2 117.07h6.2M195.2 117.07h3.2M201.2 117.07h3.2M225.2 117.07h3.2M231.2 117.07h9.2M264.2 117.07h3.2M276.3 117.07h3.2M315.3 117.07h3.2M27.0 118.56h3.2M33.0 118.56h3.2M45.0 118.56h3.2M60.0 118.56h3.2M72.0 118.56h6.2M150.1 118.56h3.2M186.2 118.56h6.2M201.2 118.56h3.2M222.2 118.56h3.2M42.0 120.06h3.2M102.1 120.06h3.2M114.1 120.06h3.2M183.2 120.06h6.2M228.2 120.06h3.2M237.2 120.06h3.2M255.2 120.06h6.2M297.3 120.06h9.2M48.0 121.55h3.2M54.0 121.55h3.2M72.0 121.55h3.2M93.1 121.55h3.2M99.1 121.55h3.2M105.1 121.55h6.2M114.1 121.55h3.2M135.1 121.55h3.2M162.1 121.55h3.2M168.1 121.55h3.2M180.2 121.55h6.2M243.2 121.55h3.2M60.0 123.05h3.2M141.1 123.05h3.2M177.2 123.05h3.2M201.2 123.05h3.2M231.2 123.05h3.2M261.2 123.05h3.2M303.3 123.05h6.2M75.1 124.54h3.2M93.1 124.54h9.2M132.1 124.54h6.2M144.1 124.54h3.2M177.2 124.54h3.2M186.2 124.54h3.2M201.2 124.54h3.2M270.3 124.54h3.2M312.3 124.54h3.2M36.0 126.03h6.2M72.0 126.03h6.2M96.1 126.03h3.2M102.1 126.03h3.2M114.1 126.03h3.2M120.1 126.03h6.2M132.1 126.03h3.2M147.1 126.03h6.2M201.2 126.03h6.2M219.2 126.03h6.2M261.2 126.03h3.2M312.3 126.03h3.2M90.1 127.53h6.2M123.1 127.53h3.2M153.1 127.53h3.2M168.1 127.53h3.2M183.2 127.53h6.2M201.2 127.53h9.2M225.2 127.53h3.2M237.2 127.53h6.2M267.2 127.53h3.2M30.0 129.02h3.2M48.0 129.02h3.2M63.0 129.02h3.2M75.1 129.02h3.2M90.1 129.02h12.2M108.1 129.02h9.2M132.1 129.02h6.2M171.2 129.02h3.2M192.2 129.02h3.2M219.2 129.02h3.2M252.2 129.02h3.2M267.2 129.02h3.2M279.3 129.02h3.2M288.3 129.02h6.2M24.0 130.52h3.2M39.0 130.52h3.2M48.0 130.52h6.2M69.0 130.52h6.2M96.1 130.52h3.2M105.1 130.52h6.2M132.1 130.52h3.2M156.1 130.52h3.2M162.1 130.52h6.2M174.2 130.52h3.2M198.2 130.52h6.2M213.2 130.52h3.2M237.2 130.52h12.2M282.3 130.52h6.2M30.0 132.01h6.2M84.1 132.01h3.2M219.2 132.01h3.2M231.2 132.01h3.2M276.3 132.01h6.2M54.0 133.50h3.2M69.0 133.50h3.2M87.1 133.50h3.2M108.1 133.50h3.2M150.1 133.50h3.2M207.2 133.50h6.2M219.2 133.50h6.2M237.2 133.50h3.2M246.2 133.50h3.2M282.3 133.50h3.2M297.3 133.50h6.2M309.3 133.50h9.2M24.0 135.00h3.2M63.0 135.00h3.2M81.1 135.00h3.2M102.1 135.00h6.2M132.1 135.00h3.2M147.1 135.00h3.2M162.1 135.00h6.2M177.2 135.00h3.2M201.2 135.00h12.2M261.2 135.00h3.2M267.2 135.00h3.2M279.3 135.00h3.2M285.3 135.00h3.2M72.0 136.49h3.2M93.1 136.49h3.2M126.1 136.49h6.2M297.3 136.49h6.2M48.0 137.99h6.2M60.0 137.99h6.2M129.1 137.99h3.2M192.2 137.99h3.2M222.2 137.99h3.2M240.2 137.99h6.2M276.3 137.99h3.2M294.3 137.99h3.2M36.0 139.48h21.2M90.1 139.48h6.2M105.1 139.48h3.2M144.1 139.48h3.2M162.1 139.48h6.2M186.2 139.48h3.2M207.2 139.48h3.2M213.2 139.48h3.2M249.2 139.48h3.2M264.2 139.48h3.2M285.3 139.48h3.2M294.3 139.48h3.2M309.3 139.48h3.2M30.0 140.97h3.2M51.0 140.97h3.2M69.0 140.97h3.2M105.1 140.97h6.2M153.1 140.97h3.2M207.2 140.97h3.2M216.2 140.97h3.2M276.3 140.97h6.2M291.3 140.97h3.2M63.0 142.47h9.2M150.1 142.47h3.2M165.1 142.47h3.2M183.2 142.47h3.2M210.2 142.47h3.2M225.2 142.47h3.2M237.2 142.47h6.2M255.2 142.47h9.2M282.3 142.47h3.2M288.3 142.47h12.2M75.1 143.96h3.2M93.1 143.96h3.2M102.1 143.96h3.2M111.1 143.96h3.2M165.1 143.96h3.2M177.2 143.96h3.2M186.2 143.96h3.2M285.3 143.96h3.2M312.3 143.96h6.2M48.0 145.46h3.2M54.0 145.46h3.2M75.1 145.46h6.2M129.1 145.46h3.2M141.1 145.46h3.2M147.1 145.46h3.2M159.1 145.46h9.2M201.2 145.46h6.2M225.2 145.46h3.2M231.2 145.46h3.2M249.2 145.46h6.2M294.3 145.46h3.2M315.3 145.46h3.2M87.1 146.95h3.2M105.1 146.95h3.2M132.1 146.95h3.2M165.1 146.95h6.2M177.2 146.95h3.2M201.2 146.95h3.2M210.2 146.95h6.2M219.2 146.95h6.2M243.2 146.95h3.2M255.2 146.95h3.2M285.3 146.95h3.2M27.0 148.44h6.2M69.0 148.44h3.2M99.1 148.44h3.2M171.2 148.44h3.2M177.2 148.44h6.2M219.2 148.44h3.2M240.2 148.44h3.2M261.2 148.44h3.2M291.3 148.44h3.2M309.3 148.44h6.2M27.0 149.94h6.2M39.0 149.94h3.2M72.0 149.94h9.2M102.1 149.94h3.2M132.1 149.94h6.2M198.2 149.94h6.2M240.2 149.94h3.2M264.2 149.94h3.2M282.3 149.94h3.2M288.3 149.94h3.2M297.3 149.94h3.2M312.3 149.94h3.2M51.0 151.43h6.2M93.1 151.43h3.2M219.2 151.43h3.2M282.3 151.43h3.2M306.3 151.43h3.2M186.2 152.93h3.2M192.2 152.93h3.2M207.2 152.93h3.2M213.2 152.93h3.2M219.2 152.93h3.2M300.3 152.93h3.2M234.2 154.42h3.2M246.2 154.42h3.2M255.2 154.42h3.2M285.3 154.42h3.2M213.2 155.91h3.2M219.2 155.91h6.2M252.2 155.91h3.2M261.2 155.91h3.2M216.2 157.41h6.2M201.2 158.90h3.2M213.2 158.90h6.2M240.2 158.90h3.2M261.2 158.90h3.2M267.2 158.90h3.2M279.3 158.90h9.2M237.2 160.40h3.2M240.2 161.89h6.2M75.1 166.37h3.2M60.0 167.87h3.2M225.2 167.87h3.2M237.2 170.85h3.2M231.2 175.34h3.2M237.2 176.83h3.2M234.2 178.32h3.2M234.2 179.82h3.2M111.1 182.81h3.2M231.2 182.81h3.2M54.0 184.30h6.2M81.1 184.30h3.2M99.1 184.30h3.2M135.1 184.30h3.2M243.2 184.30h3.2M60.0 185.79h3.2M84.1 185.79h3.2M114.1 188.78h3.2M150.1 188.78h3.2M207.2 188.78h6.2M222.2 188.78h3.2M249.2 188.78h6.2M294.3 188.78h3.2M63.0 190.28h3.2M99.1 190.28h6.2M153.1 190.28h3.2M165.1 190.28h3.2M186.2 190.28h3.2M198.2 190.28h3.2M219.2 190.28h6.2M243.2 190.28h3.2M252.2 190.28h3.2M270.3 190.28h3.2M297.3 190.28h6.2M312.3 190.28h6.2M78.1 191.77h3.2M87.1 191.77h6.2M150.1 191.77h3.2M192.2 191.77h3.2M243.2 191.77h3.2M249.2 191.77h3.2M288.3 191.77h6.2M315.3 191.77h3.2M60.0 193.26h6.2M81.1 193.26h3.2M87.1 193.26h9.2M129.1 193.26h6.2M219.2 193.26h3.2M231.2 193.26h3.2M252.2 193.26h3.2M300.3 193.26h3.2M54.0 194.76h3.2M96.1 194.76h12.2M261.2 194.76h3.2M315.3 194.76h3.2M60.0 196.25h6.2M78.1 196.25h6.2M192.2 196.25h3.2M255.2 196.25h3.2M276.3 196.25h9.2M93.1 197.75h3.2M105.1 197.75h3.2M129.1 197.75h3.2M153.1 197.75h9.2M168.1 197.75h6.2M192.2 197.75h3.2M201.2 197.75h3.2M213.2 197.75h3.2M228.2 197.75h3.2M270.3 197.75h6.2M129.1 199.24h3.2M150.1 199.24h3.2M162.1 199.24h3.2M219.2 199.24h3.2M252.2 199.24h3.2M261.2 199.24h21.2M285.3 199.24h3.2M306.3 199.24h6.2M129.1 200.73h3.2M138.1 200.73h3.2M165.1 200.73h3.2M177.2 200.73h6.2M210.2 200.73h6.2M234.2 200.73h3.2M243.2 200.73h6.2M264.2 200.73h3.2M291.3 200.73h3.2M315.3 200.73h3.2M150.1 202.23h3.2M168.1 202.23h3.2M174.2 202.23h3.2M237.2 202.23h9.2M252.2 202.23h3.2M264.2 202.23h3.2M291.3 202.23h3.2M306.3 202.23h3.2M186.2 203.72h3.2M198.2 203.72h3.2M234.2 203.72h3.2M243.2 203.72h3.2M255.2 203.72h3.2M180.2 205.22h3.2M192.2 205.22h3.2M234.2 205.22h3.2M255.2 205.22h3.2M303.3 205.22h3.2M312.3 205.22h3.2M57.0 206.71h3.2M99.1 206.71h3.2M105.1 206.71h12.2M120.1 206.71h3.2M171.2 206.71h15.2M207.2 206.71h6.2M234.2 206.71h3.2M255.2 206.71h3.2M261.2 206.71h3.2M54.0 208.20h3.2M75.1 208.20h3.2M87.1 208.20h3.2M108.1 208.20h6.2M120.1 208.20h6.2M144.1 208.20h3.2M165.1 208.20h6.2M174.2 208.20h3.2M183.2 208.20h3.2M213.2 208.20h9.2M264.2 208.20h3.2M57.0 209.70h6.2M96.1 209.70h6.2M147.1 209.70h3.2M183.2 209.70h3.2M189.2 209.70h3.2M198.2 209.70h3.2M222.2 209.70h3.2M246.2 209.70h3.2M279.3 209.70h3.2M285.3 209.70h3.2M39.0 211.19h3.2M75.1 211.19h6.2M99.1 211.19h3.2M129.1 211.19h3.2M135.1 211.19h3.2M165.1 211.19h3.2M174.2 211.19h3.2M198.2 211.19h3.2M249.2 211.19h3.2M276.3 211.19h3.2M27.0 212.69h3.2M66.0 212.69h9.2M84.1 212.69h3.2M90.1 212.69h3.2M123.1 212.69h9.2M234.2 212.69h6.2M243.2 212.69h9.2M264.2 212.69h3.2M270.3 212.69h6.2M288.3 212.69h3.2M36.0 214.18h3.2M45.0 214.18h3.2M93.1 214.18h3.2M114.1 214.18h3.2M135.1 214.18h3.2M144.1 214.18h3.2M210.2 214.18h6.2M279.3 214.18h3.2M297.3 214.18h3.2M306.3 214.18h6.2M30.0 215.67h3.2M39.0 215.67h3.2M48.0 215.67h6.2M63.0 215.67h3.2M84.1 215.67h3.2M225.2 215.67h3.2M237.2 215.67h3.2M252.2 215.67h3.2M303.3 215.67h3.2M48.0 217.17h6.2M60.0 217.17h3.2M84.1 217.17h3.2M90.1 217.17h3.2M210.2 217.17h3.2M219.2 217.17h3.2M78.1 218.66h3.2M87.1 218.66h3.2M96.1 218.66h3.2M129.1 218.66h3.2M249.2 218.66h3.2M255.2 218.66h3.2M267.2 218.66h6.2M291.3 218.66h3.2M306.3 218.66h9.2M39.0 220.16h3.2M54.0 220.16h9.2M108.1 220.16h6.2M243.2 220.16h3.2M303.3 220.16h3.2M63.0 221.65h9.2M114.1 221.65h3.2M207.2 221.65h3.2M216.2 221.65h3.2M231.2 221.65h9.2M243.2 221.65h3.2M258.2 221.65h6.2M273.3 221.65h6.2M288.3 221.65h3.2M300.3 221.65h3.2M315.3 221.65h3.2M27.0 223.14h6.2M42.0 223.14h3.2M48.0 223.14h9.2M81.1 223.14h3.2M87.1 223.14h6.2M126.1 223.14h3.2M159.1 223.14h3.2M189.2 223.14h3.2M225.2 223.14h3.2M255.2 223.14h6.2M279.3 223.14h9.2M291.3 223.14h3.2M315.3 223.14h3.2M36.0 224.64h3.2M54.0 224.64h3.2M135.1 224.64h9.2M162.1 224.64h3.2M183.2 224.64h6.2M195.2 224.64h6.2M219.2 224.64h6.2M285.3 224.64h6.2M300.3 224.64h3.2M309.3 224.64h6.2M24.0 226.13h3.2M48.0 226.13h3.2M57.0 226.13h6.2M78.1 226.13h6.2M93.1 226.13h6.2M126.1 226.13h3.2M135.1 226.13h3.2M186.2 226.13h3.2M216.2 226.13h6.2M225.2 226.13h3.2M246.2 226.13h3.2M288.3 226.13h6.2M27.0 227.63h3.2M42.0 227.63h6.2M51.0 227.63h6.2M66.0 227.63h6.2M78.1 227.63h6.2M96.1 227.63h6.2M105.1 227.63h6.2M132.1 227.63h3.2M174.2 227.63h3.2M210.2 227.63h6.2M285.3 227.63h3.2M294.3 227.63h3.2M306.3 227.63h3.2M30.0 229.12h3.2M36.0 229.12h3.2M51.0 229.12h3.2M102.1 229.12h6.2M165.1 229.12h3.2M171.2 229.12h9.2M198.2 229.12h3.2M207.2 229.12h3.2M234.2 229.12h6.2M249.2 229.12h3.2M255.2 229.12h3.2M276.3 229.12h3.2M27.0 230.61h3.2M57.0 230.61h6.2M78.1 230.61h3.2M123.1 230.61h3.2M165.1 230.61h3.2M213.2 230.61h3.2M246.2 230.61h9.2M258.2 230.61h3.2M276.3 230.61h3.2M300.3 230.61h3.2M24.0 232.11h3.2M147.1 232.11h3.2M153.1 232.11h3.2M171.2 232.11h3.2M222.2 232.11h3.2M234.2 232.11h3.2M240.2 232.11h3.2M246.2 232.11h3.2M255.2 232.11h3.2M261.2 232.11h3.2M270.3 232.11h3.2M39.0 233.60h3.2M45.0 233.60h3.2M150.1 233.60h3.2M231.2 233.60h3.2M261.2 233.60h3.2M291.3 233.60h3.2M27.0 235.10h3.2M48.0 235.10h3.2M57.0 235.10h3.2M72.0 235.10h6.2M102.1 235.10h3.2M111.1 235.10h3.2M117.1 235.10h3.2M135.1 235.10h3.2M150.1 235.10h3.2M165.1 235.10h3.2M234.2 235.10h6.2M303.3 235.10h3.2M45.0 236.59h9.2M72.0 236.59h3.2M129.1 236.59h6.2M150.1 236.59h3.2M159.1 236.59h3.2M165.1 236.59h6.2M192.2 236.59h6.2M231.2 236.59h3.2M240.2 236.59h3.2M297.3 236.59h3.2M306.3 236.59h9.2M75.1 238.08h6.2M96.1 238.08h3.2M123.1 238.08h3.2M132.1 238.08h3.2M150.1 238.08h3.2M261.2 238.08h3.2M276.3 238.08h3.2M294.3 238.08h3.2M303.3 238.08h6.2M30.0 239.58h3.2M36.0 239.58h3.2M51.0 239.58h3.2M99.1 239.58h6.2M174.2 239.58h3.2M180.2 239.58h3.2M201.2 239.58h3.2M225.2 239.58h3.2M81.1 241.07h9.2M114.1 241.07h12.2M225.2 241.07h3.2M231.2 241.07h3.2M243.2 241.07h3.2M249.2 241.07h3.2M75.1 242.57h3.2M132.1 242.57h3.2M138.1 242.57h3.2M165.1 242.57h3.2M174.2 242.57h6.2M198.2 242.57h3.2M225.2 242.57h3.2M252.2 242.57h3.2M258.2 242.57h3.2M300.3 242.57h3.2M33.0 244.06h6.2M111.1 244.06h3.2M150.1 244.06h3.2M171.2 244.06h6.2M228.2 244.06h3.2M294.3 244.06h3.2M315.3 244.06h3.2M75.1 245.56h3.2M126.1 245.56h9.2M141.1 245.56h6.2M174.2 245.56h6.2M198.2 245.56h3.2M264.2 245.56h3.2M276.3 245.56h3.2M294.3 245.56h3.2M306.3 245.56h3.2M27.0 247.05h3.2M36.0 247.05h9.2M48.0 247.05h6.2M75.1 247.05h6.2M93.1 247.05h9.2M111.1 247.05h6.2M126.1 247.05h9.2M147.1 247.05h3.2M156.1 247.05h3.2M192.2 247.05h3.2M201.2 247.05h3.2M240.2 247.05h6.2M264.2 247.05h6.2M297.3 247.05h12.2M54.0 248.54h3.2M60.0 248.54h3.2M129.1 248.54h3.2M174.2 248.54h3.2M192.2 248.54h3.2M207.2 248.54h3.2M228.2 248.54h3.2M51.0 250.04h3.2M99.1 250.04h6.2M174.2 250.04h3.2M210.2 250.04h3.2M234.2 250.04h3.2M249.2 250.04h3.2M267.2 250.04h3.2M282.3 250.04h3.2M312.3 250.04h3.2M51.0 251.53h3.2M69.0 251.53h3.2M111.1 251.53h3.2M120.1 251.53h15.2M141.1 251.53h3.2M147.1 251.53h6.2M165.1 251.53h3.2M171.2 251.53h3.2M183.2 251.53h6.2M210.2 251.53h3.2M225.2 251.53h3.2M234.2 251.53h3.2M261.2 251.53h3.2M30.0 253.03h3.2M48.0 253.03h3.2M96.1 253.03h3.2M111.1 253.03h3.2M120.1 253.03h3.2M135.1 253.03h3.2M165.1 253.03h3.2M198.2 253.03h3.2M207.2 253.03h3.2M213.2 253.03h3.2M234.2 253.03h3.2M291.3 253.03h3.2M36.0 254.52h3.2M75.1 254.52h3.2M99.1 254.52h3.2M120.1 254.52h3.2M159.1 254.52h3.2M180.2 254.52h3.2M210.2 254.52h3.2M288.3 254.52h3.2M48.0 256.01h3.2M162.1 256.01h3.2M198.2 256.01h3.2M72.0 257.51h3.2M159.1 257.51h3.2M219.2 257.51h3.2M243.2 257.51h3.2M147.1 259.00h3.2M93.1 260.50h3.2M111.1 260.50h6.2M129.1 260.50h6.2M144.1 260.50h3.2M165.1 260.50h3.2M27.0 261.99h3.2M48.0 261.99h3.2M111.1 261.99h6.2M141.1 261.99h3.2M75.1 263.48h3.2M81.1 263.48h3.2M123.1 263.48h9.2M138.1 263.48h3.2M150.1 263.48h6.2M231.2 263.48h3.2M237.2 263.48h3.2M291.3 263.48h3.2M177.2 264.98h3.2M294.3 264.98h3.2M150.1 266.47h6.2M225.2 266.47h3.2M309.3 266.47h6.2M189.2 267.97h3.2M195.2 267.97h6.2M243.2 267.97h6.2M84.1 269.46h6.2M132.1 269.46h3.2M192.2 269.46h3.2M201.2 269.46h3.2M222.2 269.46h3.2M249.2 269.46h3.2M303.3 269.46h3.2M33.0 270.95h3.2M105.1 270.95h3.2M114.1 270.95h3.2M144.1 270.95h3.2M153.1 270.95h3.2M195.2 270.95h12.2M234.2 270.95h6.2"/><path stroke="#d6edf4" d="M267.2 88.69h3.2M261.2 90.18h3.2M174.2 93.17h3.2M216.2 93.17h3.2M267.2 93.17h3.2M213.2 94.66h6.2M150.1 96.16h3.2M156.1 97.65h3.2M267.2 97.65h3.2M294.3 97.65h3.2M315.3 97.65h3.2M171.2 99.14h6.2M183.2 99.14h3.2M240.2 99.14h3.2M198.2 100.64h3.2M237.2 100.64h3.2M243.2 100.64h3.2M246.2 102.13h3.2M156.1 103.62h3.2M180.2 103.62h3.2M255.2 103.62h3.2M243.2 109.60h6.2M249.2 111.09h6.2M30.0 112.59h3.2M99.1 112.59h3.2M126.1 112.59h3.2M195.2 112.59h6.2M273.3 112.59h3.2M312.3 112.59h3.2M114.1 114.08h3.2M120.1 114.08h3.2M141.1 114.08h3.2M30.0 115.58h3.2M111.1 115.58h6.2M123.1 115.58h3.2M258.2 115.58h3.2M285.3 115.58h3.2M48.0 117.07h3.2M66.0 117.07h3.2M117.1 117.07h3.2M222.2 117.07h3.2M267.2 117.07h3.2M30.0 118.56h3.2M57.0 118.56h3.2M63.0 118.56h9.2M78.1 118.56h3.2M99.1 118.56h3.2M114.1 118.56h3.2M132.1 118.56h3.2M219.2 118.56h3.2M249.2 118.56h3.2M279.3 118.56h6.2M288.3 118.56h3.2M303.3 118.56h3.2M24.0 120.06h6.2M270.3 120.06h3.2M69.0 121.55h3.2M87.1 121.55h6.2M96.1 121.55h3.2M240.2 121.55h3.2M285.3 121.55h3.2M294.3 121.55h3.2M273.3 123.05h3.2M87.1 124.54h6.2M282.3 124.54h3.2M99.1 126.03h3.2M315.3 126.03h3.2M144.1 127.53h3.2M171.2 127.53h3.2M222.2 127.53h3.2M270.3 127.53h3.2M276.3 127.53h3.2M54.0 129.02h6.2M162.1 129.02h3.2M174.2 129.02h6.2M183.2 129.02h3.2M282.3 129.02h3.2M27.0 130.52h6.2M45.0 130.52h3.2M135.1 130.52h3.2M159.1 130.52h3.2M207.2 130.52h6.2M63.0 132.01h6.2M111.1 132.01h3.2M234.2 132.01h6.2M306.3 132.01h3.2M30.0 133.50h3.2M117.1 133.50h6.2M234.2 133.50h3.2M111.1 135.00h3.2M180.2 135.00h15.2M249.2 135.00h3.2M264.2 135.00h3.2M273.3 135.00h3.2M282.3 135.00h3.2M24.0 136.49h3.2M96.1 136.49h6.2M174.2 136.49h6.2M204.2 136.49h6.2M291.3 136.49h6.2M312.3 136.49h6.2M126.1 137.99h3.2M180.2 137.99h3.2M189.2 137.99h3.2M210.2 137.99h3.2M231.2 137.99h3.2M279.3 137.99h3.2M315.3 137.99h3.2M24.0 139.48h6.2M210.2 139.48h3.2M252.2 139.48h3.2M261.2 139.48h3.2M45.0 140.97h6.2M66.0 140.97h3.2M135.1 140.97h6.2M240.2 140.97h3.2M273.3 140.97h3.2M294.3 140.97h3.2M300.3 140.97h3.2M126.1 142.47h3.2M168.1 142.47h3.2M285.3 142.47h3.2M108.1 143.96h3.2M213.2 143.96h3.2M267.2 143.96h3.2M273.3 143.96h3.2M87.1 145.46h3.2M111.1 145.46h3.2M144.1 145.46h3.2M150.1 145.46h3.2M156.1 145.46h3.2M192.2 145.46h3.2M234.2 145.46h3.2M48.0 146.95h3.2M93.1 146.95h3.2M108.1 146.95h3.2M126.1 146.95h3.2M186.2 146.95h3.2M228.2 146.95h3.2M249.2 146.95h6.2M33.0 148.44h3.2M102.1 148.44h6.2M111.1 148.44h3.2M174.2 148.44h3.2M189.2 148.44h6.2M216.2 148.44h3.2M234.2 148.44h6.2M33.0 149.94h6.2M90.1 149.94h3.2M99.1 149.94h3.2M153.1 149.94h3.2M204.2 149.94h3.2M213.2 149.94h3.2M237.2 149.94h3.2M315.3 149.94h3.2M30.0 151.43h3.2M36.0 151.43h3.2M96.1 151.43h3.2M210.2 151.43h3.2M228.2 151.43h6.2M189.2 152.93h3.2M222.2 152.93h6.2M231.2 152.93h3.2M216.2 154.42h6.2M231.2 154.42h3.2M252.2 154.42h3.2M288.3 154.42h3.2M309.3 154.42h3.2M207.2 155.91h6.2M270.3 155.91h3.2M291.3 155.91h3.2M309.3 155.91h3.2M225.2 157.41h3.2M249.2 157.41h3.2M207.2 158.90h6.2M306.3 158.90h3.2M240.2 160.40h3.2M72.0 166.37h3.2M111.1 166.37h3.2M108.1 167.87h3.2M300.3 173.84h3.2M240.2 176.83h6.2M240.2 181.31h3.2M99.1 182.81h3.2M120.1 182.81h3.2M147.1 182.81h3.2M60.0 184.30h3.2M84.1 184.30h3.2M81.1 185.79h3.2M231.2 185.79h3.2M87.1 188.78h6.2M132.1 188.78h3.2M147.1 188.78h3.2M213.2 188.78h9.2M288.3 188.78h3.2M306.3 188.78h3.2M144.1 190.28h3.2M234.2 190.28h3.2M267.2 190.28h3.2M141.1 191.77h3.2M189.2 191.77h3.2M213.2 191.77h3.2M246.2 191.77h3.2M294.3 191.77h6.2M57.0 193.26h3.2M243.2 193.26h3.2M249.2 193.26h3.2M297.3 193.26h3.2M69.0 194.76h3.2M87.1 194.76h9.2M129.1 194.76h3.2M147.1 194.76h3.2M162.1 196.25h3.2M195.2 196.25h3.2M231.2 196.25h3.2M261.2 196.25h6.2M108.1 197.75h6.2M189.2 197.75h3.2M153.1 199.24h3.2M159.1 199.24h3.2M288.3 199.24h3.2M141.1 200.73h3.2M231.2 200.73h3.2M285.3 200.73h6.2M294.3 200.73h3.2M195.2 202.23h3.2M246.2 202.23h6.2M276.3 202.23h3.2M300.3 202.23h6.2M312.3 202.23h3.2M171.2 203.72h3.2M189.2 203.72h6.2M231.2 203.72h3.2M198.2 205.22h3.2M237.2 205.22h3.2M306.3 205.22h6.2M102.1 206.71h3.2M123.1 206.71h6.2M156.1 206.71h6.2M231.2 206.71h3.2M276.3 206.71h6.2M48.0 208.20h6.2M135.1 208.20h6.2M162.1 208.20h3.2M171.2 208.20h3.2M267.2 208.20h3.2M297.3 208.20h3.2M27.0 209.70h6.2M171.2 209.70h12.2M282.3 209.70h3.2M87.1 211.19h9.2M105.1 211.19h3.2M258.2 211.19h3.2M279.3 211.19h3.2M24.0 212.69h3.2M57.0 212.69h3.2M87.1 212.69h3.2M132.1 212.69h6.2M267.2 212.69h3.2M285.3 212.69h3.2M39.0 214.18h6.2M129.1 214.18h3.2M273.3 214.18h3.2M33.0 215.67h6.2M105.1 215.67h3.2M87.1 217.17h3.2M96.1 217.17h6.2M144.1 217.17h3.2M207.2 217.17h3.2M294.3 217.17h6.2M30.0 220.16h3.2M144.1 220.16h3.2M258.2 220.16h3.2M300.3 220.16h3.2M240.2 221.65h3.2M45.0 223.14h3.2M84.1 223.14h3.2M162.1 223.14h3.2M171.2 223.14h3.2M186.2 223.14h3.2M249.2 223.14h6.2M273.3 223.14h3.2M306.3 223.14h3.2M39.0 224.64h3.2M114.1 224.64h9.2M303.3 224.64h6.2M45.0 226.13h3.2M87.1 226.13h3.2M129.1 226.13h6.2M174.2 226.13h3.2M192.2 226.13h3.2M237.2 226.13h3.2M249.2 226.13h3.2M72.0 227.63h6.2M186.2 227.63h3.2M282.3 227.63h3.2M33.0 229.12h3.2M84.1 229.12h3.2M231.2 229.12h3.2M30.0 230.61h3.2M69.0 230.61h3.2M120.1 230.61h3.2M129.1 230.61h9.2M177.2 230.61h3.2M192.2 230.61h3.2M261.2 230.61h3.2M36.0 232.11h3.2M99.1 232.11h3.2M150.1 232.11h3.2M237.2 232.11h3.2M258.2 232.11h3.2M42.0 233.60h3.2M51.0 233.60h3.2M144.1 233.60h3.2M216.2 233.60h3.2M243.2 233.60h3.2M276.3 233.60h3.2M300.3 233.60h3.2M51.0 235.10h3.2M192.2 235.10h6.2M222.2 235.10h3.2M240.2 235.10h6.2M252.2 235.10h3.2M39.0 236.59h3.2M75.1 236.59h3.2M84.1 236.59h3.2M99.1 236.59h3.2M111.1 236.59h3.2M153.1 236.59h6.2M186.2 236.59h3.2M261.2 236.59h3.2M267.2 236.59h3.2M315.3 236.59h3.2M81.1 238.08h3.2M87.1 238.08h3.2M129.1 238.08h3.2M147.1 238.08h3.2M198.2 238.08h3.2M285.3 238.08h6.2M111.1 239.58h3.2M120.1 239.58h3.2M165.1 239.58h3.2M171.2 239.58h3.2M186.2 239.58h3.2M258.2 239.58h3.2M285.3 239.58h3.2M45.0 241.07h3.2M126.1 241.07h3.2M159.1 241.07h3.2M177.2 241.07h3.2M234.2 241.07h6.2M246.2 241.07h3.2M306.3 241.07h3.2M36.0 242.57h3.2M45.0 242.57h3.2M72.0 242.57h3.2M135.1 242.57h3.2M201.2 242.57h3.2M255.2 242.57h3.2M261.2 242.57h3.2M267.2 242.57h3.2M90.1 244.06h3.2M153.1 244.06h3.2M279.3 244.06h3.2M36.0 245.56h6.2M72.0 245.56h3.2M138.1 245.56h3.2M225.2 245.56h3.2M30.0 247.05h3.2M87.1 247.05h6.2M153.1 247.05h3.2M189.2 247.05h3.2M276.3 247.05h3.2M102.1 248.54h3.2M156.1 248.54h6.2M165.1 248.54h3.2M204.2 248.54h3.2M222.2 248.54h3.2M300.3 248.54h3.2M96.1 250.04h3.2M156.1 250.04h6.2M165.1 250.04h3.2M42.0 251.53h6.2M72.0 251.53h3.2M96.1 251.53h3.2M174.2 251.53h9.2M201.2 251.53h3.2M207.2 251.53h3.2M222.2 251.53h3.2M237.2 251.53h3.2M51.0 253.03h3.2M66.0 253.03h6.2M99.1 253.03h3.2M129.1 253.03h3.2M162.1 253.03h3.2M216.2 253.03h3.2M24.0 254.52h3.2M39.0 254.52h3.2M48.0 254.52h6.2M123.1 254.52h3.2M213.2 254.52h6.2M237.2 254.52h6.2M261.2 254.52h3.2M93.1 256.01h6.2M183.2 256.01h3.2M219.2 256.01h3.2M225.2 256.01h3.2M69.0 257.51h3.2M150.1 257.51h9.2M222.2 257.51h3.2M69.0 259.00h3.2M192.2 259.00h3.2M72.0 260.50h9.2M150.1 260.50h3.2M210.2 260.50h3.2M24.0 261.99h3.2M36.0 261.99h3.2M102.1 261.99h3.2M144.1 261.99h3.2M174.2 261.99h3.2M195.2 261.99h3.2M30.0 263.48h3.2M39.0 263.48h3.2M78.1 263.48h3.2M147.1 263.48h3.2M198.2 263.48h3.2M204.2 263.48h3.2M294.3 263.48h3.2M300.3 263.48h3.2M72.0 264.98h3.2M123.1 264.98h3.2M291.3 264.98h3.2M108.1 266.47h3.2M117.1 266.47h3.2M204.2 266.47h3.2M39.0 267.97h3.2M216.2 267.97h3.2M222.2 267.97h3.2M231.2 267.97h3.2M30.0 269.46h3.2M60.0 269.46h3.2M111.1 269.46h3.2M147.1 269.46h3.2M171.2 269.46h3.2M177.2 269.46h6.2M219.2 269.46h3.2M231.2 269.46h3.2M30.0 270.95h3.2M132.1 270.95h3.2M138.1 270.95h6.2M147.1 270.95h6.2M210.2 270.95h3.2M228.2 270.95h6.2M249.2 270.95h3.2"/><path stroke="#e2f4f5" d="M219.2 88.69h3.2M168.1 90.18h3.2M246.2 90.18h3.2M150.1 91.67h3.2M243.2 91.67h3.2M264.2 91.67h3.2M258.2 93.17h3.2M264.2 93.17h3.2M189.2 94.66h3.2M204.2 94.66h3.2M150.1 97.65h3.2M174.2 97.65h6.2M195.2 97.65h3.2M186.2 99.14h3.2M240.2 100.64h3.2M261.2 100.64h3.2M165.1 102.13h3.2M177.2 103.62h3.2M258.2 108.11h3.2M246.2 111.09h3.2M33.0 112.59h6.2M108.1 112.59h3.2M222.2 112.59h3.2M63.0 114.08h3.2M102.1 114.08h3.2M210.2 114.08h3.2M231.2 114.08h3.2M66.0 115.58h6.2M135.1 115.58h6.2M39.0 117.07h3.2M84.1 117.07h3.2M105.1 117.07h3.2M111.1 117.07h3.2M219.2 117.07h3.2M39.0 118.56h3.2M81.1 118.56h3.2M111.1 118.56h3.2M117.1 118.56h3.2M135.1 118.56h3.2M246.2 118.56h3.2M54.0 120.06h3.2M90.1 120.06h3.2M204.2 120.06h3.2M216.2 120.06h3.2M39.0 121.55h3.2M234.2 121.55h3.2M264.2 121.55h3.2M282.3 121.55h3.2M288.3 121.55h3.2M270.3 123.05h3.2M276.3 123.05h3.2M297.3 123.05h3.2M57.0 124.54h3.2M66.0 124.54h3.2M117.1 124.54h6.2M204.2 124.54h3.2M252.2 124.54h3.2M315.3 124.54h3.2M93.1 126.03h3.2M36.0 127.53h3.2M162.1 127.53h3.2M273.3 127.53h3.2M168.1 129.02h3.2M237.2 129.02h3.2M63.0 130.52h3.2M75.1 130.52h3.2M270.3 130.52h3.2M138.1 132.01h3.2M27.0 133.50h3.2M51.0 133.50h3.2M63.0 133.50h3.2M126.1 133.50h3.2M114.1 135.00h6.2M276.3 135.00h3.2M33.0 136.49h3.2M54.0 136.49h3.2M120.1 136.49h3.2M180.2 136.49h6.2M213.2 136.49h6.2M288.3 136.49h3.2M33.0 137.99h3.2M177.2 137.99h3.2M207.2 137.99h3.2M228.2 137.99h3.2M177.2 139.48h3.2M228.2 139.48h3.2M255.2 139.48h3.2M312.3 139.48h6.2M120.1 140.97h3.2M168.1 140.97h6.2M258.2 140.97h3.2M267.2 140.97h3.2M90.1 142.47h3.2M33.0 143.96h3.2M84.1 143.96h3.2M57.0 145.46h6.2M105.1 145.46h3.2M120.1 145.46h6.2M153.1 145.46h3.2M183.2 145.46h3.2M129.1 146.95h3.2M207.2 146.95h3.2M231.2 146.95h3.2M237.2 146.95h3.2M246.2 146.95h3.2M60.0 148.44h3.2M108.1 148.44h3.2M213.2 148.44h3.2M231.2 148.44h3.2M249.2 148.44h6.2M108.1 149.94h3.2M141.1 149.94h3.2M147.1 149.94h3.2M207.2 149.94h6.2M33.0 151.43h3.2M66.0 151.43h3.2M105.1 151.43h3.2M117.1 151.43h6.2M138.1 151.43h3.2M162.1 151.43h3.2M186.2 151.43h3.2M195.2 151.43h3.2M258.2 151.43h3.2M198.2 152.93h3.2M261.2 152.93h3.2M165.1 154.42h3.2M186.2 154.42h3.2M249.2 154.42h3.2M312.3 154.42h3.2M246.2 155.91h6.2M273.3 155.91h3.2M294.3 155.91h3.2M303.3 155.91h3.2M192.2 157.41h3.2M213.2 157.41h3.2M228.2 157.41h3.2M243.2 157.41h3.2M252.2 157.41h3.2M315.3 157.41h3.2M234.2 158.90h3.2M306.3 160.40h3.2M231.2 161.89h3.2M54.0 166.37h3.2M87.1 166.37h3.2M105.1 167.87h3.2M57.0 169.36h3.2M84.1 169.36h6.2M129.1 169.36h3.2M192.2 169.36h3.2M129.1 170.85h3.2M111.1 173.84h3.2M237.2 173.84h3.2M117.1 178.32h6.2M246.2 178.32h3.2M90.1 182.81h9.2M102.1 182.81h3.2M72.0 184.30h3.2M87.1 184.30h3.2M102.1 184.30h3.2M123.1 184.30h3.2M225.2 184.30h3.2M78.1 185.79h3.2M132.1 185.79h3.2M225.2 187.29h3.2M240.2 187.29h3.2M123.1 188.78h3.2M135.1 188.78h3.2M195.2 188.78h3.2M276.3 188.78h3.2M291.3 188.78h3.2M60.0 190.28h3.2M234.2 191.77h3.2M66.0 194.76h3.2M132.1 194.76h6.2M258.2 194.76h3.2M270.3 194.76h3.2M54.0 196.25h6.2M99.1 196.25h3.2M129.1 196.25h3.2M156.1 196.25h6.2M303.3 196.25h3.2M141.1 197.75h3.2M249.2 197.75h3.2M297.3 197.75h3.2M228.2 199.24h3.2M186.2 200.73h3.2M132.1 202.23h3.2M171.2 202.23h3.2M273.3 202.23h3.2M279.3 202.23h3.2M138.1 203.72h6.2M165.1 203.72h3.2M174.2 205.22h6.2M297.3 205.22h3.2M66.0 206.71h3.2M78.1 206.71h6.2M138.1 206.71h6.2M306.3 206.71h3.2M30.0 208.20h6.2M273.3 208.20h3.2M300.3 208.20h3.2M114.1 209.70h3.2M27.0 211.19h6.2M45.0 211.19h3.2M156.1 211.19h6.2M228.2 211.19h3.2M243.2 211.19h3.2M252.2 211.19h6.2M45.0 212.69h3.2M63.0 212.69h3.2M132.1 214.18h3.2M228.2 214.18h3.2M264.2 214.18h3.2M270.3 214.18h3.2M312.3 215.67h3.2M114.1 217.17h3.2M141.1 217.17h3.2M213.2 217.17h3.2M225.2 217.17h3.2M270.3 217.17h3.2M285.3 217.17h3.2M81.1 218.66h3.2M114.1 218.66h3.2M144.1 218.66h3.2M300.3 218.66h3.2M120.1 220.16h3.2M141.1 220.16h3.2M204.2 220.16h6.2M240.2 220.16h3.2M255.2 220.16h3.2M165.1 221.65h3.2M120.1 223.14h3.2M168.1 223.14h3.2M264.2 223.14h3.2M270.3 223.14h3.2M300.3 223.14h3.2M141.1 226.13h3.2M168.1 226.13h3.2M264.2 226.13h3.2M273.3 226.13h3.2M93.1 227.63h3.2M141.1 227.63h3.2M270.3 227.63h3.2M96.1 229.12h3.2M156.1 229.12h3.2M210.2 229.12h3.2M291.3 229.12h3.2M48.0 230.61h3.2M138.1 230.61h3.2M159.1 230.61h3.2M174.2 230.61h3.2M204.2 230.61h3.2M237.2 230.61h6.2M309.3 230.61h3.2M27.0 232.11h3.2M90.1 232.11h3.2M138.1 232.11h3.2M219.2 232.11h3.2M141.1 233.60h3.2M33.0 235.10h3.2M42.0 236.59h3.2M87.1 236.59h3.2M102.1 236.59h3.2M246.2 236.59h6.2M93.1 238.08h3.2M183.2 238.08h3.2M138.1 239.58h6.2M189.2 239.58h3.2M273.3 239.58h3.2M54.0 241.07h3.2M102.1 241.07h6.2M162.1 241.07h3.2M42.0 242.57h3.2M66.0 242.57h3.2M114.1 242.57h6.2M264.2 242.57h3.2M69.0 244.06h3.2M87.1 244.06h3.2M192.2 244.06h3.2M309.3 244.06h6.2M228.2 245.56h3.2M273.3 245.56h3.2M186.2 247.05h3.2M198.2 247.05h3.2M279.3 247.05h6.2M39.0 248.54h3.2M66.0 248.54h3.2M111.1 248.54h3.2M213.2 248.54h3.2M225.2 248.54h3.2M264.2 248.54h3.2M303.3 248.54h3.2M138.1 251.53h3.2M204.2 251.53h3.2M57.0 253.03h6.2M123.1 253.03h3.2M159.1 253.03h3.2M192.2 253.03h3.2M42.0 254.52h6.2M174.2 254.52h6.2M255.2 254.52h3.2M36.0 256.01h3.2M69.0 256.01h3.2M147.1 256.01h3.2M222.2 256.01h3.2M240.2 256.01h3.2M315.3 256.01h3.2M87.1 257.51h6.2M96.1 257.51h3.2M204.2 257.51h3.2M66.0 259.00h3.2M312.3 259.00h3.2M138.1 260.50h3.2M153.1 260.50h3.2M183.2 260.50h3.2M207.2 260.50h3.2M216.2 260.50h3.2M303.3 261.99h3.2M108.1 263.48h6.2M132.1 263.48h6.2M216.2 263.48h3.2M69.0 264.98h3.2M243.2 264.98h3.2M60.0 266.47h3.2M72.0 266.47h6.2M120.1 266.47h3.2M165.1 266.47h3.2M303.3 266.47h3.2M108.1 267.97h3.2M129.1 267.97h3.2M168.1 267.97h3.2M219.2 267.97h3.2M48.0 269.46h3.2M72.0 269.46h6.2M120.1 269.46h3.2M129.1 269.46h3.2M150.1 269.46h3.2M213.2 269.46h3.2M234.2 269.46h6.2M45.0 270.95h3.2M99.1 270.95h3.2M111.1 270.95h3.2M135.1 270.95h3.2M207.2 270.95h3.2M219.2 270.95h3.2"/><path stroke="#e8f6ea" d="M156.1 70.76h3.2M165.1 72.25h3.2M291.3 72.25h3.2M168.1 88.69h3.2M216.2 88.69h3.2M246.2 88.69h3.2M165.1 90.18h3.2M168.1 91.67h6.2M255.2 93.17h3.2M177.2 94.66h3.2M186.2 94.66h3.2M279.3 96.16h3.2M153.1 97.65h3.2M180.2 97.65h3.2M198.2 97.65h3.2M243.2 97.65h3.2M180.2 99.14h3.2M189.2 99.14h3.2M153.1 100.64h3.2M177.2 100.64h15.2M246.2 100.64h3.2M258.2 100.64h3.2M162.1 102.13h3.2M168.1 102.13h3.2M261.2 102.13h3.2M276.3 102.13h3.2M162.1 103.62h3.2M282.3 103.62h3.2M93.1 112.59h6.2M105.1 112.59h3.2M243.2 112.59h3.2M270.3 112.59h3.2M228.2 114.08h3.2M273.3 114.08h6.2M297.3 114.08h3.2M270.3 115.58h3.2M288.3 115.58h3.2M24.0 117.07h3.2M36.0 117.07h3.2M57.0 117.07h6.2M93.1 117.07h6.2M114.1 117.07h3.2M135.1 117.07h3.2M285.3 117.07h9.2M87.1 118.56h9.2M108.1 118.56h3.2M141.1 118.56h3.2M204.2 118.56h3.2M216.2 118.56h3.2M234.2 118.56h3.2M240.2 118.56h3.2M252.2 118.56h3.2M285.3 118.56h3.2M297.3 118.56h3.2M306.3 118.56h3.2M117.1 120.06h3.2M231.2 120.06h6.2M267.2 120.06h3.2M312.3 120.06h3.2M27.0 121.55h3.2M36.0 121.55h3.2M120.1 121.55h3.2M204.2 121.55h3.2M267.2 121.55h3.2M279.3 121.55h3.2M300.3 121.55h3.2M33.0 123.05h6.2M54.0 123.05h3.2M84.1 123.05h3.2M114.1 123.05h3.2M135.1 123.05h3.2M279.3 123.05h3.2M114.1 124.54h3.2M228.2 124.54h3.2M306.3 124.54h3.2M45.0 126.03h3.2M33.0 127.53h3.2M84.1 127.53h3.2M36.0 129.02h3.2M60.0 129.02h3.2M69.0 129.02h3.2M273.3 129.02h3.2M300.3 129.02h3.2M60.0 130.52h3.2M216.2 130.52h3.2M141.1 132.01h3.2M99.1 133.50h3.2M123.1 133.50h3.2M171.2 133.50h3.2M33.0 135.00h3.2M54.0 135.00h3.2M30.0 136.49h3.2M66.0 136.49h3.2M141.1 136.49h3.2M195.2 136.49h3.2M228.2 136.49h3.2M108.1 137.99h6.2M144.1 137.99h3.2M183.2 137.99h3.2M195.2 137.99h3.2M150.1 139.48h3.2M258.2 139.48h3.2M297.3 139.48h3.2M63.0 140.97h3.2M102.1 140.97h3.2M117.1 140.97h3.2M132.1 140.97h3.2M183.2 140.97h9.2M264.2 140.97h3.2M306.3 140.97h3.2M39.0 142.47h3.2M54.0 142.47h3.2M177.2 142.47h3.2M195.2 142.47h3.2M267.2 142.47h6.2M204.2 143.96h3.2M240.2 143.96h3.2M246.2 143.96h3.2M252.2 143.96h3.2M279.3 143.96h3.2M297.3 143.96h6.2M36.0 145.46h3.2M90.1 145.46h3.2M219.2 145.46h3.2M279.3 145.46h3.2M39.0 146.95h3.2M51.0 146.95h3.2M183.2 146.95h3.2M198.2 146.95h3.2M234.2 146.95h3.2M240.2 146.95h3.2M279.3 146.95h3.2M300.3 146.95h6.2M39.0 148.44h9.2M57.0 148.44h3.2M54.0 149.94h9.2M105.1 149.94h3.2M126.1 149.94h3.2M150.1 149.94h3.2M174.2 149.94h6.2M291.3 149.94h6.2M90.1 151.43h3.2M108.1 151.43h3.2M123.1 151.43h3.2M141.1 151.43h3.2M165.1 151.43h9.2M183.2 151.43h3.2M189.2 151.43h3.2M300.3 151.43h6.2M195.2 152.93h3.2M237.2 152.93h3.2M243.2 152.93h3.2M111.1 154.42h3.2M267.2 154.42h3.2M294.3 154.42h6.2M51.0 155.91h3.2M144.1 155.91h3.2M165.1 155.91h3.2M195.2 155.91h3.2M234.2 155.91h3.2M267.2 155.91h3.2M306.3 155.91h3.2M240.2 157.41h3.2M246.2 157.41h3.2M24.0 158.90h3.2M30.0 158.90h3.2M96.1 158.90h3.2M111.1 158.90h3.2M132.1 158.90h6.2M147.1 158.90h6.2M222.2 158.90h3.2M228.2 158.90h6.2M237.2 158.90h3.2M252.2 158.90h3.2M300.3 158.90h6.2M309.3 158.90h3.2M96.1 160.40h3.2M132.1 160.40h3.2M192.2 161.89h3.2M234.2 161.89h3.2M282.3 161.89h3.2M249.2 163.38h3.2M36.0 166.37h3.2M99.1 166.37h6.2M240.2 166.37h3.2M27.0 167.87h3.2M87.1 167.87h9.2M111.1 167.87h3.2M126.1 167.87h3.2M33.0 169.36h6.2M60.0 169.36h3.2M81.1 169.36h3.2M105.1 169.36h3.2M117.1 169.36h3.2M126.1 169.36h3.2M147.1 172.35h3.2M282.3 173.84h3.2M303.3 173.84h3.2M282.3 175.34h3.2M72.0 176.83h3.2M228.2 176.83h3.2M282.3 176.83h3.2M237.2 181.31h3.2M87.1 182.81h3.2M105.1 182.81h3.2M240.2 182.81h3.2M249.2 184.30h3.2M57.0 185.79h3.2M69.0 185.79h3.2M102.1 185.79h3.2M129.1 185.79h3.2M135.1 185.79h6.2M240.2 185.79h3.2M66.0 187.29h3.2M117.1 187.29h3.2M237.2 187.29h3.2M198.2 188.78h6.2M258.2 188.78h3.2M279.3 188.78h3.2M303.3 188.78h3.2M309.3 188.78h3.2M117.1 190.28h3.2M204.2 190.28h3.2M216.2 190.28h3.2M228.2 190.28h3.2M279.3 190.28h6.2M291.3 190.28h3.2M303.3 190.28h3.2M147.1 191.77h3.2M168.1 191.77h3.2M78.1 193.26h3.2M171.2 193.26h3.2M204.2 193.26h3.2M273.3 193.26h3.2M123.1 194.76h3.2M180.2 194.76h3.2M195.2 194.76h3.2M225.2 194.76h3.2M273.3 194.76h3.2M75.1 196.25h3.2M90.1 196.25h3.2M111.1 196.25h6.2M249.2 196.25h3.2M291.3 196.25h3.2M300.3 196.25h3.2M63.0 197.75h6.2M135.1 197.75h6.2M252.2 197.75h3.2M282.3 197.75h12.2M303.3 197.75h6.2M183.2 199.24h6.2M291.3 199.24h3.2M132.1 200.73h6.2M183.2 200.73h3.2M201.2 200.73h3.2M279.3 200.73h6.2M129.1 202.23h3.2M135.1 202.23h3.2M162.1 202.23h3.2M198.2 202.23h3.2M204.2 202.23h3.2M288.3 202.23h3.2M273.3 203.72h3.2M297.3 203.72h3.2M165.1 205.22h6.2M183.2 205.22h6.2M228.2 205.22h3.2M264.2 205.22h3.2M273.3 205.22h3.2M39.0 206.71h6.2M63.0 206.71h3.2M69.0 206.71h6.2M84.1 206.71h3.2M93.1 206.71h6.2M135.1 206.71h3.2M144.1 206.71h3.2M225.2 206.71h3.2M267.2 206.71h3.2M72.0 208.20h3.2M246.2 208.20h3.2M117.1 209.70h9.2M51.0 211.19h3.2M66.0 211.19h3.2M117.1 211.19h6.2M207.2 211.19h3.2M234.2 211.19h3.2M240.2 211.19h3.2M264.2 211.19h3.2M60.0 212.69h3.2M96.1 212.69h3.2M141.1 212.69h3.2M258.2 212.69h3.2M303.3 212.69h3.2M27.0 214.18h3.2M66.0 214.18h3.2M84.1 214.18h3.2M216.2 214.18h3.2M267.2 214.18h3.2M117.1 215.67h3.2M144.1 215.67h6.2M204.2 215.67h3.2M216.2 215.67h3.2M297.3 215.67h3.2M72.0 217.17h3.2M108.1 217.17h3.2M117.1 217.17h6.2M204.2 217.17h3.2M228.2 217.17h3.2M240.2 217.17h3.2M258.2 217.17h3.2M288.3 217.17h3.2M24.0 218.66h3.2M105.1 218.66h6.2M198.2 218.66h3.2M273.3 218.66h3.2M297.3 218.66h3.2M84.1 220.16h3.2M117.1 220.16h3.2M216.2 220.16h3.2M309.3 220.16h3.2M120.1 221.65h3.2M177.2 223.14h3.2M195.2 223.14h3.2M219.2 223.14h6.2M267.2 223.14h3.2M309.3 223.14h3.2M180.2 224.64h3.2M102.1 226.13h3.2M138.1 226.13h3.2M207.2 226.13h3.2M258.2 226.13h3.2M270.3 226.13h3.2M276.3 226.13h3.2M282.3 226.13h6.2M156.1 227.63h6.2M264.2 227.63h3.2M273.3 227.63h3.2M288.3 227.63h3.2M66.0 229.12h6.2M132.1 229.12h3.2M144.1 229.12h3.2M204.2 229.12h3.2M216.2 229.12h6.2M243.2 229.12h3.2M264.2 229.12h6.2M51.0 230.61h3.2M90.1 230.61h6.2M126.1 230.61h3.2M189.2 230.61h3.2M243.2 230.61h3.2M297.3 230.61h3.2M30.0 232.11h3.2M57.0 232.11h3.2M66.0 232.11h3.2M183.2 232.11h3.2M288.3 232.11h3.2M294.3 232.11h3.2M24.0 233.60h3.2M54.0 233.60h3.2M84.1 233.60h6.2M126.1 233.60h3.2M171.2 233.60h6.2M273.3 233.60h3.2M279.3 233.60h6.2M69.0 235.10h3.2M162.1 235.10h3.2M219.2 235.10h3.2M288.3 235.10h3.2M297.3 235.10h3.2M66.0 236.59h6.2M141.1 236.59h3.2M222.2 236.59h3.2M36.0 238.08h3.2M51.0 238.08h3.2M111.1 238.08h3.2M117.1 238.08h3.2M153.1 238.08h3.2M162.1 238.08h3.2M180.2 238.08h3.2M255.2 238.08h6.2M42.0 239.58h3.2M72.0 239.58h3.2M144.1 239.58h3.2M162.1 239.58h3.2M237.2 239.58h12.2M270.3 239.58h3.2M276.3 239.58h6.2M288.3 239.58h3.2M309.3 239.58h3.2M27.0 241.07h3.2M39.0 241.07h3.2M48.0 241.07h6.2M63.0 241.07h6.2M90.1 241.07h3.2M144.1 241.07h6.2M165.1 241.07h3.2M183.2 241.07h3.2M228.2 241.07h3.2M267.2 241.07h3.2M303.3 241.07h3.2M30.0 242.57h3.2M84.1 242.57h3.2M195.2 242.57h3.2M234.2 242.57h3.2M24.0 244.06h3.2M51.0 244.06h3.2M57.0 244.06h6.2M102.1 244.06h6.2M138.1 244.06h3.2M165.1 244.06h3.2M180.2 244.06h3.2M189.2 244.06h3.2M276.3 244.06h3.2M282.3 244.06h3.2M90.1 245.56h3.2M108.1 245.56h3.2M153.1 245.56h6.2M162.1 245.56h3.2M255.2 245.56h3.2M270.3 245.56h3.2M297.3 245.56h6.2M162.1 247.05h3.2M195.2 247.05h3.2M24.0 248.54h6.2M48.0 248.54h3.2M63.0 248.54h3.2M69.0 248.54h3.2M114.1 248.54h3.2M252.2 248.54h3.2M267.2 248.54h3.2M288.3 248.54h3.2M297.3 248.54h3.2M306.3 248.54h3.2M63.0 250.04h3.2M117.1 250.04h3.2M189.2 250.04h3.2M195.2 250.04h3.2M33.0 251.53h6.2M102.1 251.53h3.2M135.1 251.53h3.2M195.2 251.53h3.2M276.3 251.53h3.2M303.3 251.53h3.2M24.0 253.03h3.2M78.1 253.03h12.2M126.1 253.03h3.2M150.1 253.03h6.2M168.1 253.03h6.2M285.3 253.03h3.2M294.3 253.03h6.2M84.1 254.52h3.2M93.1 254.52h6.2M135.1 254.52h6.2M195.2 254.52h3.2M291.3 254.52h9.2M33.0 256.01h3.2M84.1 256.01h3.2M117.1 256.01h6.2M138.1 256.01h6.2M165.1 256.01h3.2M171.2 256.01h3.2M213.2 256.01h3.2M231.2 256.01h3.2M246.2 256.01h3.2M285.3 256.01h3.2M312.3 256.01h3.2M51.0 257.51h3.2M93.1 257.51h3.2M99.1 257.51h6.2M171.2 257.51h6.2M180.2 257.51h3.2M273.3 257.51h3.2M27.0 259.00h12.2M54.0 259.00h12.2M99.1 259.00h9.2M144.1 259.00h3.2M174.2 259.00h3.2M204.2 259.00h3.2M246.2 259.00h9.2M309.3 259.00h3.2M315.3 259.00h3.2M30.0 260.50h3.2M57.0 260.50h6.2M99.1 260.50h3.2M141.1 260.50h3.2M168.1 260.50h6.2M186.2 260.50h3.2M237.2 260.50h6.2M249.2 260.50h6.2M39.0 261.99h3.2M81.1 261.99h6.2M183.2 261.99h3.2M192.2 261.99h3.2M198.2 261.99h3.2M234.2 261.99h3.2M285.3 261.99h3.2M306.3 261.99h3.2M72.0 263.48h3.2M105.1 263.48h3.2M114.1 263.48h6.2M201.2 263.48h3.2M27.0 264.98h3.2M45.0 264.98h3.2M57.0 264.98h3.2M75.1 264.98h3.2M81.1 264.98h3.2M114.1 264.98h3.2M165.1 264.98h6.2M180.2 264.98h3.2M42.0 266.47h6.2M69.0 266.47h3.2M105.1 266.47h3.2M114.1 266.47h3.2M171.2 266.47h3.2M183.2 266.47h3.2M192.2 266.47h3.2M201.2 266.47h3.2M291.3 266.47h6.2M306.3 266.47h3.2M78.1 267.97h6.2M120.1 267.97h3.2M144.1 267.97h3.2M177.2 267.97h6.2M204.2 267.97h3.2M210.2 267.97h6.2M294.3 267.97h3.2M303.3 267.97h3.2M36.0 269.46h3.2M51.0 269.46h3.2M153.1 269.46h3.2M216.2 269.46h3.2M243.2 269.46h3.2M48.0 270.95h9.2M168.1 270.95h3.2M285.3 270.95h3.2M291.3 270.95h3.2M300.3 270.95h3.2"/><path stroke="#edf8e0" d="M63.0 69.26h3.2M165.1 70.76h3.2M180.2 70.76h3.2M231.2 70.76h3.2M279.3 70.76h3.2M288.3 70.76h3.2M288.3 72.25h3.2M210.2 75.24h3.2M294.3 75.24h3.2M222.2 81.22h3.2M153.1 88.69h3.2M171.2 88.69h3.2M153.1 90.18h9.2M171.2 90.18h3.2M174.2 91.67h9.2M255.2 91.67h6.2M189.2 93.17h3.2M204.2 93.17h3.2M159.1 94.66h6.2M174.2 94.66h3.2M180.2 94.66h3.2M258.2 94.66h9.2M282.3 94.66h3.2M171.2 96.16h3.2M195.2 96.16h3.2M282.3 96.16h3.2M171.2 97.65h3.2M183.2 97.65h3.2M201.2 97.65h3.2M255.2 97.65h6.2M270.3 97.65h3.2M192.2 99.14h6.2M243.2 99.14h3.2M261.2 99.14h3.2M243.2 102.13h3.2M273.3 103.62h3.2M255.2 111.09h3.2M27.0 112.59h3.2M225.2 112.59h3.2M240.2 112.59h3.2M246.2 112.59h3.2M252.2 112.59h3.2M261.2 112.59h3.2M51.0 114.08h3.2M66.0 114.08h3.2M84.1 114.08h3.2M96.1 114.08h3.2M105.1 114.08h3.2M204.2 114.08h3.2M216.2 114.08h3.2M234.2 114.08h3.2M267.2 114.08h6.2M279.3 114.08h3.2M285.3 114.08h6.2M96.1 115.58h3.2M117.1 115.58h3.2M108.1 117.07h3.2M120.1 117.07h9.2M138.1 117.07h3.2M258.2 117.07h3.2M273.3 117.07h3.2M42.0 118.56h3.2M51.0 118.56h3.2M96.1 118.56h3.2M105.1 118.56h3.2M120.1 118.56h3.2M228.2 118.56h3.2M267.2 118.56h6.2M312.3 118.56h6.2M108.1 120.06h3.2M42.0 121.55h3.2M63.0 121.55h3.2M78.1 121.55h3.2M258.2 121.55h3.2M270.3 121.55h6.2M312.3 121.55h3.2M30.0 123.05h3.2M42.0 123.05h3.2M66.0 123.05h3.2M87.1 123.05h6.2M102.1 123.05h3.2M138.1 123.05h3.2M228.2 123.05h3.2M264.2 123.05h3.2M288.3 123.05h6.2M312.3 123.05h3.2M42.0 124.54h3.2M48.0 124.54h3.2M102.1 124.54h3.2M216.2 124.54h3.2M255.2 124.54h6.2M264.2 124.54h3.2M273.3 124.54h6.2M291.3 124.54h3.2M216.2 126.03h3.2M30.0 127.53h3.2M72.0 127.53h3.2M117.1 127.53h3.2M294.3 127.53h3.2M258.2 129.02h3.2M270.3 129.02h3.2M297.3 129.02h3.2M33.0 130.52h3.2M114.1 130.52h3.2M168.1 130.52h3.2M195.2 130.52h3.2M234.2 130.52h3.2M258.2 130.52h3.2M303.3 130.52h3.2M24.0 132.01h3.2M96.1 132.01h3.2M126.1 132.01h6.2M243.2 132.01h3.2M33.0 133.50h3.2M102.1 133.50h3.2M138.1 133.50h3.2M174.2 133.50h3.2M195.2 133.50h3.2M270.3 133.50h6.2M93.1 135.00h3.2M99.1 135.00h3.2M135.1 135.00h3.2M141.1 135.00h3.2M156.1 135.00h3.2M195.2 135.00h3.2M216.2 135.00h3.2M123.1 136.49h3.2M198.2 136.49h3.2M279.3 136.49h6.2M99.1 137.99h3.2M114.1 137.99h9.2M147.1 137.99h3.2M174.2 137.99h3.2M264.2 137.99h6.2M270.3 139.48h3.2M42.0 140.97h3.2M114.1 140.97h3.2M141.1 140.97h3.2M156.1 140.97h6.2M174.2 140.97h3.2M180.2 140.97h3.2M228.2 140.97h3.2M282.3 140.97h3.2M303.3 140.97h3.2M87.1 142.47h3.2M264.2 142.47h3.2M303.3 142.47h3.2M27.0 143.96h3.2M87.1 143.96h3.2M162.1 143.96h3.2M264.2 143.96h3.2M303.3 143.96h3.2M39.0 145.46h3.2M180.2 145.46h3.2M186.2 145.46h3.2M207.2 145.46h3.2M216.2 145.46h3.2M270.3 145.46h3.2M300.3 145.46h6.2M96.1 146.95h3.2M171.2 146.95h3.2M195.2 146.95h3.2M264.2 146.95h3.2M273.3 146.95h3.2M282.3 146.95h3.2M24.0 148.44h3.2M48.0 148.44h3.2M54.0 148.44h3.2M126.1 148.44h3.2M144.1 148.44h3.2M195.2 148.44h6.2M222.2 148.44h6.2M267.2 148.44h9.2M279.3 148.44h6.2M24.0 149.94h3.2M138.1 149.94h3.2M216.2 149.94h3.2M267.2 149.94h3.2M69.0 151.43h3.2M84.1 151.43h3.2M126.1 151.43h3.2M180.2 151.43h3.2M198.2 151.43h9.2M237.2 151.43h3.2M243.2 151.43h6.2M255.2 151.43h3.2M273.3 151.43h3.2M294.3 151.43h6.2M57.0 152.93h9.2M156.1 152.93h3.2M201.2 152.93h3.2M240.2 152.93h3.2M246.2 152.93h3.2M282.3 152.93h3.2M294.3 152.93h3.2M93.1 154.42h3.2M129.1 154.42h3.2M144.1 154.42h3.2M201.2 154.42h3.2M213.2 154.42h3.2M270.3 154.42h3.2M279.3 154.42h3.2M306.3 154.42h3.2M39.0 155.91h6.2M48.0 155.91h3.2M108.1 155.91h3.2M147.1 155.91h3.2M159.1 155.91h3.2M231.2 155.91h3.2M237.2 155.91h6.2M255.2 155.91h3.2M264.2 155.91h3.2M276.3 155.91h3.2M147.1 157.41h6.2M204.2 157.41h6.2M222.2 157.41h3.2M234.2 157.41h6.2M261.2 157.41h3.2M294.3 157.41h3.2M81.1 158.90h3.2M93.1 158.90h3.2M99.1 158.90h3.2M129.1 158.90h3.2M165.1 158.90h3.2M174.2 158.90h3.2M219.2 158.90h3.2M246.2 158.90h3.2M273.3 158.90h3.2M297.3 158.90h3.2M93.1 160.40h3.2M141.1 160.40h3.2M207.2 160.40h9.2M225.2 160.40h3.2M255.2 160.40h3.2M285.3 160.40h3.2M309.3 160.40h3.2M54.0 161.89h3.2M249.2 161.89h6.2M111.1 163.38h3.2M225.2 163.38h3.2M246.2 163.38h3.2M252.2 163.38h3.2M27.0 166.37h9.2M39.0 166.37h3.2M63.0 166.37h3.2M81.1 166.37h3.2M96.1 166.37h3.2M105.1 166.37h3.2M147.1 166.37h3.2M243.2 166.37h12.2M33.0 167.87h3.2M39.0 167.87h3.2M69.0 167.87h12.2M84.1 167.87h3.2M102.1 167.87h3.2M120.1 167.87h6.2M231.2 167.87h6.2M24.0 169.36h3.2M54.0 169.36h3.2M78.1 169.36h3.2M90.1 169.36h3.2M99.1 169.36h6.2M108.1 169.36h3.2M114.1 169.36h3.2M120.1 169.36h3.2M180.2 169.36h6.2M198.2 169.36h3.2M234.2 169.36h3.2M240.2 169.36h9.2M252.2 169.36h3.2M261.2 169.36h3.2M306.3 169.36h3.2M111.1 170.85h3.2M126.1 170.85h3.2M249.2 170.85h6.2M60.0 172.35h3.2M81.1 172.35h3.2M150.1 172.35h3.2M231.2 172.35h3.2M243.2 172.35h3.2M276.3 172.35h6.2M108.1 173.84h3.2M147.1 173.84h3.2M24.0 176.83h3.2M39.0 176.83h3.2M60.0 176.83h6.2M225.2 176.83h3.2M285.3 176.83h3.2M66.0 178.32h12.2M87.1 178.32h3.2M129.1 178.32h6.2M315.3 178.32h3.2M228.2 179.82h3.2M249.2 179.82h6.2M306.3 179.82h3.2M111.1 181.31h3.2M114.1 182.81h6.2M126.1 182.81h3.2M132.1 182.81h6.2M225.2 182.81h3.2M252.2 182.81h3.2M108.1 184.30h3.2M129.1 184.30h6.2M246.2 184.30h3.2M252.2 184.30h3.2M54.0 185.79h3.2M63.0 185.79h6.2M72.0 185.79h3.2M90.1 185.79h3.2M105.1 185.79h6.2M141.1 185.79h3.2M237.2 185.79h3.2M57.0 187.29h9.2M99.1 187.29h6.2M114.1 187.29h3.2M120.1 187.29h3.2M243.2 187.29h3.2M252.2 187.29h3.2M141.1 188.78h3.2M297.3 188.78h3.2M54.0 190.28h3.2M90.1 190.28h6.2M258.2 190.28h3.2M48.0 191.77h3.2M138.1 191.77h3.2M144.1 191.77h3.2M228.2 191.77h3.2M264.2 191.77h3.2M279.3 191.77h6.2M117.1 193.26h3.2M123.1 193.26h6.2M177.2 193.26h3.2M195.2 193.26h9.2M246.2 193.26h3.2M285.3 193.26h9.2M117.1 194.76h3.2M183.2 194.76h3.2M198.2 194.76h9.2M297.3 194.76h3.2M66.0 196.25h3.2M102.1 196.25h3.2M117.1 196.25h3.2M141.1 196.25h3.2M147.1 196.25h3.2M186.2 196.25h3.2M204.2 196.25h3.2M315.3 196.25h3.2M69.0 197.75h9.2M99.1 197.75h6.2M147.1 197.75h3.2M183.2 197.75h3.2M195.2 197.75h6.2M207.2 197.75h3.2M225.2 197.75h3.2M237.2 197.75h3.2M204.2 200.73h3.2M255.2 200.73h3.2M297.3 200.73h3.2M228.2 202.23h3.2M258.2 202.23h6.2M315.3 202.23h3.2M162.1 203.72h3.2M168.1 203.72h3.2M135.1 205.22h3.2M162.1 205.22h3.2M288.3 205.22h3.2M27.0 206.71h3.2M132.1 206.71h3.2M147.1 206.71h3.2M165.1 206.71h6.2M270.3 206.71h3.2M303.3 206.71h3.2M63.0 208.20h3.2M69.0 208.20h3.2M189.2 208.20h3.2M270.3 208.20h3.2M24.0 211.19h3.2M33.0 211.19h3.2M57.0 211.19h9.2M72.0 211.19h3.2M114.1 211.19h3.2M123.1 211.19h3.2M204.2 211.19h3.2M267.2 211.19h3.2M300.3 211.19h6.2M201.2 212.69h15.2M297.3 212.69h3.2M282.3 214.18h9.2M69.0 215.67h3.2M138.1 215.67h6.2M186.2 215.67h6.2M201.2 215.67h3.2M228.2 215.67h3.2M258.2 215.67h6.2M285.3 215.67h3.2M291.3 215.67h6.2M45.0 217.17h3.2M69.0 217.17h3.2M126.1 217.17h3.2M222.2 217.17h3.2M231.2 217.17h3.2M261.2 217.17h3.2M267.2 217.17h3.2M291.3 217.17h3.2M309.3 217.17h3.2M33.0 218.66h3.2M72.0 218.66h3.2M102.1 218.66h3.2M210.2 218.66h3.2M228.2 218.66h3.2M27.0 220.16h3.2M96.1 220.16h3.2M135.1 220.16h6.2M201.2 220.16h3.2M210.2 220.16h3.2M222.2 220.16h3.2M279.3 220.16h3.2M312.3 220.16h3.2M189.2 221.65h3.2M195.2 221.65h3.2M204.2 221.65h3.2M228.2 221.65h3.2M297.3 221.65h3.2M141.1 223.14h3.2M204.2 223.14h3.2M216.2 223.14h3.2M297.3 223.14h3.2M171.2 224.64h3.2M216.2 224.64h3.2M297.3 224.64h3.2M105.1 226.13h3.2M171.2 226.13h3.2M204.2 226.13h3.2M228.2 226.13h3.2M267.2 226.13h3.2M279.3 226.13h3.2M297.3 226.13h3.2M138.1 227.63h3.2M162.1 227.63h12.2M204.2 227.63h6.2M252.2 227.63h9.2M276.3 227.63h6.2M45.0 229.12h3.2M129.1 229.12h3.2M141.1 229.12h3.2M159.1 229.12h3.2M183.2 229.12h3.2M192.2 229.12h6.2M240.2 229.12h3.2M246.2 229.12h3.2M273.3 229.12h3.2M45.0 230.61h3.2M54.0 230.61h3.2M63.0 230.61h6.2M87.1 230.61h3.2M108.1 230.61h6.2M141.1 230.61h3.2M162.1 230.61h3.2M180.2 230.61h9.2M219.2 230.61h6.2M231.2 230.61h3.2M288.3 230.61h3.2M306.3 230.61h3.2M102.1 232.11h9.2M114.1 232.11h3.2M120.1 232.11h3.2M264.2 232.11h3.2M291.3 232.11h3.2M57.0 233.60h3.2M90.1 233.60h3.2M99.1 233.60h9.2M123.1 233.60h3.2M135.1 233.60h6.2M147.1 233.60h3.2M165.1 233.60h6.2M195.2 233.60h6.2M285.3 233.60h6.2M66.0 235.10h3.2M105.1 235.10h6.2M138.1 235.10h9.2M171.2 235.10h3.2M177.2 235.10h3.2M186.2 235.10h3.2M216.2 235.10h3.2M228.2 235.10h3.2M258.2 235.10h3.2M264.2 235.10h9.2M282.3 235.10h3.2M27.0 236.59h3.2M90.1 236.59h3.2M120.1 236.59h3.2M171.2 236.59h3.2M225.2 236.59h3.2M252.2 236.59h3.2M54.0 238.08h3.2M66.0 238.08h6.2M105.1 238.08h3.2M114.1 238.08h3.2M228.2 238.08h3.2M279.3 238.08h3.2M309.3 238.08h9.2M45.0 239.58h3.2M81.1 239.58h3.2M105.1 239.58h3.2M153.1 239.58h3.2M183.2 239.58h3.2M192.2 239.58h3.2M312.3 239.58h3.2M24.0 241.07h3.2M36.0 241.07h3.2M75.1 241.07h6.2M108.1 241.07h3.2M150.1 241.07h3.2M186.2 241.07h3.2M195.2 241.07h3.2M294.3 241.07h6.2M309.3 241.07h3.2M24.0 242.57h6.2M33.0 242.57h3.2M39.0 242.57h3.2M69.0 242.57h3.2M87.1 242.57h3.2M123.1 242.57h6.2M141.1 242.57h3.2M183.2 242.57h3.2M279.3 242.57h3.2M303.3 242.57h9.2M39.0 244.06h6.2M54.0 244.06h3.2M63.0 244.06h6.2M84.1 244.06h3.2M108.1 244.06h3.2M114.1 244.06h9.2M135.1 244.06h3.2M141.1 244.06h3.2M159.1 244.06h3.2M195.2 244.06h3.2M246.2 244.06h3.2M252.2 244.06h6.2M300.3 244.06h6.2M27.0 245.56h3.2M54.0 245.56h3.2M63.0 245.56h6.2M84.1 245.56h3.2M93.1 245.56h3.2M117.1 245.56h3.2M150.1 245.56h3.2M180.2 245.56h3.2M186.2 245.56h9.2M288.3 245.56h3.2M303.3 245.56h3.2M84.1 247.05h3.2M105.1 247.05h3.2M168.1 247.05h3.2M177.2 247.05h9.2M108.1 248.54h3.2M117.1 248.54h6.2M132.1 248.54h3.2M177.2 248.54h9.2M270.3 248.54h6.2M291.3 248.54h3.2M309.3 248.54h6.2M24.0 250.04h9.2M36.0 250.04h3.2M66.0 250.04h3.2M72.0 250.04h12.2M132.1 250.04h3.2M141.1 250.04h3.2M186.2 250.04h3.2M198.2 250.04h3.2M228.2 250.04h3.2M237.2 250.04h3.2M252.2 250.04h12.2M297.3 250.04h3.2M303.3 250.04h6.2M27.0 251.53h3.2M78.1 251.53h6.2M87.1 251.53h6.2M105.1 251.53h3.2M168.1 251.53h3.2M228.2 251.53h3.2M273.3 251.53h3.2M279.3 251.53h3.2M291.3 251.53h3.2M300.3 251.53h3.2M306.3 251.53h3.2M315.3 251.53h3.2M27.0 253.03h3.2M90.1 253.03h6.2M144.1 253.03h6.2M174.2 253.03h3.2M183.2 253.03h3.2M204.2 253.03h3.2M249.2 253.03h6.2M288.3 253.03h3.2M306.3 253.03h6.2M57.0 254.52h3.2M72.0 254.52h3.2M126.1 254.52h3.2M162.1 254.52h3.2M186.2 254.52h6.2M228.2 254.52h6.2M300.3 254.52h6.2M54.0 256.01h6.2M63.0 256.01h3.2M78.1 256.01h3.2M87.1 256.01h6.2M102.1 256.01h6.2M114.1 256.01h3.2M123.1 256.01h6.2M150.1 256.01h3.2M189.2 256.01h3.2M210.2 256.01h3.2M216.2 256.01h3.2M249.2 256.01h3.2M282.3 256.01h3.2M306.3 256.01h6.2M39.0 257.51h6.2M48.0 257.51h3.2M54.0 257.51h3.2M105.1 257.51h3.2M114.1 257.51h3.2M120.1 257.51h6.2M132.1 257.51h3.2M207.2 257.51h3.2M213.2 257.51h3.2M228.2 257.51h3.2M237.2 257.51h3.2M252.2 257.51h3.2M258.2 257.51h3.2M276.3 257.51h6.2M303.3 257.51h3.2M24.0 259.00h3.2M39.0 259.00h3.2M51.0 259.00h3.2M81.1 259.00h12.2M96.1 259.00h3.2M108.1 259.00h3.2M129.1 259.00h6.2M156.1 259.00h6.2M171.2 259.00h3.2M177.2 259.00h6.2M216.2 259.00h3.2M225.2 259.00h6.2M306.3 259.00h3.2M27.0 260.50h3.2M126.1 260.50h3.2M135.1 260.50h3.2M180.2 260.50h3.2M189.2 260.50h3.2M213.2 260.50h3.2M219.2 260.50h3.2M228.2 260.50h3.2M243.2 260.50h6.2M42.0 261.99h3.2M63.0 261.99h3.2M75.1 261.99h6.2M87.1 261.99h3.2M96.1 261.99h3.2M123.1 261.99h3.2M168.1 261.99h6.2M186.2 261.99h6.2M222.2 261.99h6.2M231.2 261.99h3.2M237.2 261.99h9.2M261.2 261.99h3.2M45.0 263.48h3.2M99.1 263.48h3.2M156.1 263.48h9.2M189.2 263.48h6.2M234.2 263.48h3.2M252.2 263.48h3.2M285.3 263.48h3.2M312.3 263.48h3.2M24.0 264.98h3.2M54.0 264.98h3.2M66.0 264.98h3.2M90.1 264.98h3.2M96.1 264.98h3.2M108.1 264.98h3.2M117.1 264.98h6.2M132.1 264.98h3.2M141.1 264.98h3.2M156.1 264.98h3.2M162.1 264.98h3.2M183.2 264.98h3.2M195.2 264.98h3.2M210.2 264.98h3.2M231.2 264.98h3.2M252.2 264.98h3.2M297.3 264.98h3.2M306.3 264.98h6.2M24.0 266.47h6.2M78.1 266.47h3.2M90.1 266.47h6.2M129.1 266.47h3.2M135.1 266.47h3.2M144.1 266.47h3.2M186.2 266.47h6.2M195.2 266.47h3.2M216.2 266.47h3.2M288.3 266.47h3.2M300.3 266.47h3.2M315.3 266.47h3.2M24.0 267.97h3.2M48.0 267.97h3.2M75.1 267.97h3.2M114.1 267.97h6.2M123.1 267.97h3.2M135.1 267.97h3.2M225.2 267.97h6.2M273.3 267.97h6.2M300.3 267.97h3.2M39.0 269.46h3.2M54.0 269.46h3.2M66.0 269.46h6.2M117.1 269.46h3.2M123.1 269.46h3.2M138.1 269.46h3.2M162.1 269.46h3.2M168.1 269.46h3.2M195.2 269.46h3.2M207.2 269.46h3.2M240.2 269.46h3.2M246.2 269.46h3.2M315.3 269.46h3.2M36.0 270.95h3.2M66.0 270.95h6.2M96.1 270.95h3.2M189.2 270.95h3.2M255.2 270.95h3.2M294.3 270.95h3.2"/><path stroke="#f3fad5" d="M99.1 64.78h3.2M147.1 66.28h3.2M51.0 69.26h3.2M60.0 69.26h3.2M96.1 69.26h6.2M228.2 69.26h3.2M30.0 70.76h3.2M54.0 70.76h3.2M60.0 70.76h6.2M153.1 70.76h3.2M60.0 72.25h6.2M192.2 72.25h6.2M258.2 72.25h3.2M309.3 72.25h3.2M315.3 72.25h3.2M174.2 73.75h3.2M234.2 73.75h3.2M174.2 75.24h3.2M192.2 75.24h3.2M213.2 75.24h3.2M297.3 75.24h6.2M204.2 76.73h3.2M174.2 81.22h3.2M219.2 81.22h3.2M150.1 88.69h3.2M156.1 88.69h6.2M174.2 88.69h6.2M150.1 90.18h3.2M162.1 90.18h3.2M183.2 91.67h3.2M270.3 91.67h3.2M150.1 93.17h9.2M150.1 94.66h9.2M165.1 94.66h3.2M183.2 94.66h3.2M210.2 94.66h3.2M255.2 94.66h3.2M258.2 96.16h3.2M162.1 97.65h3.2M168.1 97.65h3.2M246.2 99.14h3.2M258.2 99.14h3.2M192.2 100.64h3.2M273.3 100.64h6.2M171.2 102.13h3.2M258.2 102.13h3.2M183.2 103.62h3.2M114.1 112.59h6.2M135.1 112.59h3.2M228.2 112.59h3.2M255.2 112.59h6.2M87.1 114.08h9.2M282.3 114.08h3.2M42.0 115.58h3.2M84.1 115.58h9.2M273.3 115.58h3.2M297.3 115.58h3.2M312.3 115.58h3.2M72.0 117.07h3.2M255.2 117.07h3.2M54.0 118.56h3.2M84.1 118.56h3.2M138.1 118.56h3.2M243.2 118.56h3.2M255.2 118.56h6.2M273.3 118.56h3.2M300.3 118.56h3.2M45.0 120.06h3.2M84.1 120.06h3.2M66.0 121.55h3.2M75.1 121.55h3.2M84.1 121.55h3.2M216.2 121.55h3.2M291.3 121.55h3.2M297.3 121.55h3.2M69.0 123.05h3.2M117.1 123.05h9.2M45.0 124.54h3.2M60.0 124.54h3.2M78.1 124.54h6.2M213.2 124.54h3.2M231.2 124.54h6.2M279.3 124.54h3.2M168.1 126.03h3.2M27.0 127.53h3.2M120.1 127.53h3.2M255.2 127.53h3.2M279.3 127.53h3.2M66.0 129.02h3.2M78.1 129.02h6.2M285.3 129.02h3.2M294.3 129.02h3.2M111.1 130.52h3.2M204.2 130.52h3.2M54.0 132.01h3.2M240.2 132.01h3.2M303.3 132.01h3.2M81.1 133.50h6.2M141.1 133.50h3.2M66.0 135.00h3.2M138.1 135.00h3.2M171.2 135.00h3.2M201.2 136.49h3.2M222.2 136.49h3.2M123.1 137.99h3.2M141.1 137.99h3.2M186.2 137.99h3.2M198.2 137.99h3.2M297.3 137.99h3.2M117.1 139.48h3.2M138.1 139.48h3.2M168.1 139.48h3.2M267.2 139.48h3.2M150.1 140.97h3.2M177.2 140.97h3.2M270.3 140.97h3.2M279.3 142.47h3.2M90.1 143.96h3.2M135.1 143.96h6.2M207.2 143.96h3.2M282.3 143.96h3.2M63.0 145.46h3.2M267.2 145.46h3.2M297.3 145.46h3.2M42.0 146.95h3.2M66.0 146.95h3.2M216.2 146.95h3.2M267.2 146.95h6.2M288.3 146.95h6.2M297.3 146.95h3.2M315.3 146.95h3.2M36.0 148.44h3.2M51.0 148.44h3.2M63.0 148.44h3.2M141.1 148.44h3.2M201.2 148.44h9.2M264.2 148.44h3.2M285.3 148.44h3.2M315.3 148.44h3.2M24.0 151.43h3.2M87.1 151.43h3.2M114.1 151.43h3.2M174.2 151.43h3.2M207.2 151.43h3.2M213.2 151.43h6.2M234.2 151.43h3.2M240.2 151.43h3.2M249.2 151.43h6.2M264.2 151.43h3.2M279.3 151.43h3.2M285.3 151.43h9.2M75.1 152.93h3.2M81.1 152.93h3.2M111.1 152.93h3.2M132.1 152.93h3.2M153.1 152.93h3.2M159.1 152.93h3.2M165.1 152.93h3.2M204.2 152.93h3.2M216.2 152.93h3.2M234.2 152.93h3.2M249.2 152.93h6.2M285.3 152.93h3.2M309.3 152.93h3.2M30.0 154.42h3.2M39.0 154.42h3.2M57.0 154.42h3.2M90.1 154.42h3.2M108.1 154.42h3.2M114.1 154.42h3.2M147.1 154.42h3.2M153.1 154.42h3.2M162.1 154.42h3.2M177.2 154.42h3.2M204.2 154.42h3.2M210.2 154.42h3.2M225.2 154.42h3.2M243.2 154.42h3.2M54.0 155.91h3.2M81.1 155.91h3.2M93.1 155.91h3.2M111.1 155.91h3.2M129.1 155.91h3.2M150.1 155.91h6.2M168.1 155.91h15.2M189.2 155.91h3.2M216.2 155.91h3.2M243.2 155.91h3.2M258.2 155.91h3.2M279.3 155.91h6.2M39.0 157.41h6.2M81.1 157.41h3.2M87.1 157.41h3.2M132.1 157.41h3.2M144.1 157.41h3.2M174.2 157.41h3.2M231.2 157.41h3.2M258.2 157.41h3.2M288.3 157.41h3.2M306.3 157.41h3.2M78.1 158.90h3.2M102.1 158.90h3.2M138.1 158.90h3.2M195.2 158.90h3.2M243.2 158.90h3.2M255.2 158.90h6.2M270.3 158.90h3.2M288.3 158.90h3.2M294.3 158.90h3.2M315.3 158.90h3.2M24.0 160.40h3.2M60.0 160.40h3.2M78.1 160.40h6.2M129.1 160.40h3.2M135.1 160.40h6.2M150.1 160.40h9.2M165.1 160.40h6.2M186.2 160.40h3.2M198.2 160.40h3.2M30.0 161.89h3.2M129.1 161.89h3.2M168.1 161.89h3.2M198.2 161.89h3.2M228.2 161.89h3.2M237.2 161.89h3.2M246.2 161.89h3.2M285.3 161.89h3.2M300.3 161.89h3.2M30.0 163.38h3.2M129.1 163.38h3.2M147.1 163.38h3.2M192.2 163.38h3.2M228.2 163.38h3.2M243.2 163.38h3.2M261.2 163.38h3.2M69.0 164.88h3.2M123.1 164.88h3.2M144.1 164.88h3.2M189.2 164.88h6.2M198.2 164.88h3.2M225.2 164.88h6.2M24.0 166.37h3.2M42.0 166.37h9.2M60.0 166.37h3.2M78.1 166.37h3.2M93.1 166.37h3.2M108.1 166.37h3.2M132.1 166.37h3.2M141.1 166.37h6.2M192.2 166.37h3.2M234.2 166.37h3.2M261.2 166.37h3.2M24.0 167.87h3.2M36.0 167.87h3.2M45.0 167.87h9.2M57.0 167.87h3.2M63.0 167.87h6.2M81.1 167.87h3.2M96.1 167.87h3.2M114.1 167.87h6.2M150.1 167.87h3.2M192.2 167.87h3.2M228.2 167.87h3.2M243.2 167.87h9.2M294.3 167.87h3.2M306.3 167.87h3.2M27.0 169.36h3.2M39.0 169.36h3.2M63.0 169.36h3.2M72.0 169.36h6.2M93.1 169.36h6.2M111.1 169.36h3.2M132.1 169.36h3.2M165.1 169.36h3.2M186.2 169.36h3.2M201.2 169.36h3.2M225.2 169.36h9.2M291.3 169.36h3.2M309.3 169.36h3.2M27.0 170.85h3.2M114.1 170.85h3.2M228.2 170.85h3.2M243.2 170.85h6.2M261.2 170.85h3.2M276.3 170.85h3.2M57.0 172.35h3.2M90.1 172.35h6.2M225.2 172.35h6.2M234.2 172.35h3.2M240.2 172.35h3.2M246.2 172.35h3.2M291.3 172.35h3.2M39.0 173.84h3.2M123.1 173.84h9.2M153.1 173.84h3.2M234.2 173.84h3.2M243.2 173.84h3.2M252.2 173.84h3.2M261.2 173.84h3.2M306.3 173.84h9.2M87.1 175.34h3.2M228.2 175.34h3.2M237.2 175.34h6.2M246.2 175.34h3.2M42.0 176.83h3.2M51.0 176.83h6.2M66.0 176.83h6.2M87.1 176.83h3.2M111.1 176.83h6.2M129.1 176.83h3.2M207.2 176.83h3.2M231.2 176.83h6.2M249.2 176.83h15.2M279.3 176.83h3.2M288.3 176.83h3.2M315.3 176.83h3.2M48.0 178.32h3.2M81.1 178.32h3.2M111.1 178.32h6.2M123.1 178.32h3.2M276.3 178.32h3.2M39.0 179.82h3.2M69.0 179.82h9.2M81.1 179.82h3.2M132.1 179.82h3.2M243.2 179.82h6.2M300.3 179.82h6.2M309.3 179.82h3.2M129.1 181.31h6.2M243.2 181.31h9.2M291.3 181.31h6.2M300.3 181.31h9.2M81.1 182.81h6.2M108.1 182.81h3.2M129.1 182.81h3.2M138.1 182.81h9.2M150.1 182.81h6.2M228.2 182.81h3.2M234.2 182.81h3.2M243.2 182.81h6.2M261.2 182.81h3.2M282.3 182.81h3.2M303.3 182.81h3.2M48.0 184.30h3.2M69.0 184.30h3.2M96.1 184.30h3.2M114.1 184.30h3.2M126.1 184.30h3.2M141.1 184.30h3.2M147.1 184.30h3.2M228.2 184.30h3.2M234.2 184.30h6.2M276.3 184.30h3.2M300.3 184.30h3.2M306.3 184.30h9.2M36.0 185.79h3.2M93.1 185.79h6.2M123.1 185.79h6.2M159.1 185.79h3.2M219.2 185.79h3.2M228.2 185.79h3.2M69.0 187.29h3.2M90.1 187.29h9.2M126.1 187.29h3.2M132.1 187.29h6.2M42.0 188.78h6.2M51.0 188.78h3.2M120.1 188.78h3.2M192.2 188.78h3.2M96.1 190.28h3.2M120.1 190.28h3.2M135.1 190.28h3.2M189.2 190.28h3.2M246.2 190.28h3.2M264.2 190.28h3.2M54.0 191.77h3.2M204.2 191.77h3.2M285.3 191.77h3.2M48.0 193.26h3.2M120.1 193.26h3.2M141.1 193.26h9.2M153.1 193.26h3.2M192.2 193.26h3.2M228.2 193.26h3.2M270.3 193.26h3.2M84.1 194.76h3.2M186.2 194.76h3.2M246.2 194.76h3.2M285.3 194.76h6.2M300.3 194.76h6.2M189.2 196.25h3.2M267.2 196.25h3.2M294.3 196.25h6.2M54.0 197.75h3.2M78.1 197.75h3.2M117.1 197.75h3.2M216.2 197.75h3.2M240.2 197.75h3.2M264.2 197.75h6.2M144.1 199.24h3.2M147.1 200.73h3.2M225.2 200.73h3.2M273.3 200.73h3.2M201.2 202.23h3.2M255.2 202.23h3.2M96.1 203.72h6.2M114.1 203.72h3.2M135.1 203.72h3.2M144.1 203.72h3.2M150.1 203.72h3.2M195.2 203.72h3.2M228.2 203.72h3.2M258.2 203.72h3.2M138.1 205.22h3.2M144.1 205.22h6.2M258.2 205.22h3.2M270.3 205.22h3.2M315.3 205.22h3.2M24.0 206.71h3.2M60.0 206.71h3.2M117.1 206.71h3.2M162.1 206.71h3.2M189.2 206.71h3.2M228.2 206.71h3.2M273.3 206.71h3.2M141.1 208.20h3.2M186.2 208.20h3.2M303.3 208.20h3.2M36.0 211.19h3.2M84.1 211.19h3.2M126.1 211.19h3.2M138.1 211.19h6.2M201.2 211.19h3.2M270.3 211.19h3.2M165.1 212.69h3.2M186.2 212.69h3.2M195.2 212.69h6.2M216.2 212.69h3.2M174.2 214.18h3.2M180.2 214.18h3.2M54.0 215.67h6.2M192.2 215.67h3.2M234.2 215.67h3.2M255.2 215.67h3.2M264.2 215.67h3.2M288.3 215.67h3.2M54.0 217.17h6.2M105.1 217.17h3.2M165.1 217.17h3.2M189.2 217.17h15.2M216.2 217.17h3.2M264.2 217.17h3.2M36.0 218.66h3.2M189.2 218.66h9.2M213.2 218.66h3.2M252.2 218.66h3.2M315.3 218.66h3.2M33.0 220.16h6.2M72.0 220.16h6.2M198.2 220.16h3.2M213.2 220.16h3.2M225.2 220.16h6.2M273.3 220.16h3.2M315.3 220.16h3.2M117.1 221.65h3.2M162.1 221.65h3.2M198.2 221.65h6.2M225.2 221.65h3.2M201.2 223.14h3.2M294.3 223.14h3.2M63.0 226.13h3.2M84.1 226.13h3.2M156.1 226.13h3.2M201.2 226.13h3.2M255.2 226.13h3.2M294.3 226.13h3.2M84.1 227.63h3.2M135.1 227.63h3.2M153.1 227.63h3.2M177.2 227.63h3.2M192.2 227.63h12.2M240.2 227.63h3.2M162.1 229.12h3.2M189.2 229.12h3.2M213.2 229.12h3.2M258.2 229.12h3.2M279.3 229.12h3.2M33.0 230.61h3.2M39.0 230.61h3.2M75.1 230.61h3.2M81.1 230.61h6.2M96.1 230.61h3.2M105.1 230.61h3.2M216.2 230.61h3.2M225.2 230.61h6.2M255.2 230.61h3.2M267.2 230.61h6.2M291.3 230.61h3.2M60.0 232.11h3.2M117.1 232.11h3.2M123.1 232.11h3.2M69.0 233.60h3.2M93.1 233.60h6.2M120.1 233.60h3.2M156.1 233.60h3.2M162.1 233.60h3.2M183.2 233.60h3.2M189.2 233.60h3.2M204.2 233.60h3.2M228.2 233.60h3.2M258.2 233.60h3.2M297.3 233.60h3.2M306.3 233.60h12.2M96.1 235.10h3.2M147.1 235.10h3.2M168.1 235.10h3.2M180.2 235.10h3.2M255.2 235.10h3.2M189.2 236.59h3.2M27.0 238.08h3.2M45.0 238.08h3.2M99.1 238.08h6.2M138.1 238.08h6.2M168.1 238.08h12.2M186.2 238.08h3.2M237.2 238.08h3.2M246.2 238.08h3.2M267.2 238.08h6.2M282.3 238.08h3.2M291.3 238.08h3.2M297.3 238.08h3.2M27.0 239.58h3.2M54.0 239.58h6.2M75.1 239.58h3.2M84.1 239.58h3.2M90.1 239.58h3.2M108.1 239.58h3.2M117.1 239.58h3.2M126.1 239.58h3.2M195.2 239.58h3.2M252.2 239.58h6.2M267.2 239.58h3.2M282.3 239.58h3.2M57.0 241.07h3.2M141.1 241.07h3.2M156.1 241.07h3.2M189.2 241.07h3.2M270.3 241.07h3.2M291.3 241.07h3.2M312.3 241.07h3.2M51.0 242.57h3.2M90.1 242.57h3.2M156.1 242.57h6.2M168.1 242.57h6.2M273.3 242.57h3.2M288.3 242.57h3.2M297.3 242.57h3.2M312.3 242.57h3.2M27.0 244.06h6.2M45.0 244.06h3.2M81.1 244.06h3.2M126.1 244.06h3.2M156.1 244.06h3.2M177.2 244.06h3.2M264.2 244.06h3.2M270.3 244.06h3.2M285.3 244.06h9.2M297.3 244.06h3.2M306.3 244.06h3.2M24.0 245.56h3.2M30.0 245.56h3.2M48.0 245.56h3.2M57.0 245.56h6.2M69.0 245.56h3.2M96.1 245.56h12.2M135.1 245.56h3.2M147.1 245.56h3.2M267.2 245.56h3.2M309.3 245.56h3.2M45.0 247.05h3.2M102.1 247.05h3.2M171.2 247.05h3.2M219.2 247.05h3.2M273.3 247.05h3.2M45.0 248.54h3.2M72.0 248.54h3.2M123.1 248.54h3.2M141.1 248.54h3.2M186.2 248.54h3.2M195.2 248.54h3.2M255.2 248.54h3.2M282.3 248.54h6.2M294.3 248.54h3.2M315.3 248.54h3.2M33.0 250.04h3.2M45.0 250.04h3.2M69.0 250.04h3.2M105.1 250.04h6.2M126.1 250.04h3.2M147.1 250.04h3.2M162.1 250.04h3.2M171.2 250.04h3.2M180.2 250.04h6.2M201.2 250.04h3.2M264.2 250.04h3.2M270.3 250.04h12.2M24.0 251.53h3.2M39.0 251.53h3.2M75.1 251.53h3.2M84.1 251.53h3.2M93.1 251.53h3.2M252.2 251.53h3.2M264.2 251.53h3.2M288.3 251.53h3.2M294.3 251.53h6.2M54.0 253.03h3.2M72.0 253.03h3.2M156.1 253.03h3.2M255.2 253.03h9.2M270.3 253.03h6.2M282.3 253.03h3.2M300.3 253.03h6.2M312.3 253.03h6.2M54.0 254.52h3.2M117.1 254.52h3.2M129.1 254.52h6.2M147.1 254.52h12.2M204.2 254.52h6.2M264.2 254.52h6.2M282.3 254.52h3.2M306.3 254.52h3.2M45.0 256.01h3.2M51.0 256.01h3.2M66.0 256.01h3.2M108.1 256.01h3.2M129.1 256.01h3.2M156.1 256.01h3.2M186.2 256.01h3.2M195.2 256.01h3.2M228.2 256.01h3.2M252.2 256.01h3.2M279.3 256.01h3.2M288.3 256.01h3.2M297.3 256.01h9.2M30.0 257.51h3.2M36.0 257.51h3.2M45.0 257.51h3.2M108.1 257.51h3.2M117.1 257.51h3.2M126.1 257.51h3.2M147.1 257.51h3.2M165.1 257.51h3.2M177.2 257.51h3.2M240.2 257.51h3.2M255.2 257.51h3.2M261.2 257.51h3.2M270.3 257.51h3.2M282.3 257.51h3.2M288.3 257.51h9.2M306.3 257.51h3.2M312.3 257.51h3.2M135.1 259.00h6.2M150.1 259.00h3.2M231.2 259.00h9.2M303.3 259.00h3.2M33.0 260.50h3.2M39.0 260.50h3.2M45.0 260.50h3.2M54.0 260.50h3.2M63.0 260.50h3.2M84.1 260.50h3.2M105.1 260.50h6.2M117.1 260.50h3.2M123.1 260.50h3.2M156.1 260.50h3.2M192.2 260.50h3.2M201.2 260.50h6.2M225.2 260.50h3.2M234.2 260.50h3.2M261.2 260.50h3.2M288.3 260.50h3.2M51.0 261.99h6.2M90.1 261.99h3.2M99.1 261.99h3.2M108.1 261.99h3.2M153.1 261.99h6.2M165.1 261.99h3.2M180.2 261.99h3.2M210.2 261.99h3.2M228.2 261.99h3.2M288.3 261.99h3.2M309.3 261.99h3.2M315.3 261.99h3.2M42.0 263.48h3.2M51.0 263.48h3.2M57.0 263.48h3.2M69.0 263.48h3.2M168.1 263.48h3.2M174.2 263.48h15.2M240.2 263.48h12.2M288.3 263.48h3.2M303.3 263.48h3.2M309.3 263.48h3.2M42.0 264.98h3.2M48.0 264.98h6.2M63.0 264.98h3.2M84.1 264.98h6.2M99.1 264.98h3.2M159.1 264.98h3.2M171.2 264.98h3.2M186.2 264.98h6.2M201.2 264.98h3.2M216.2 264.98h3.2M228.2 264.98h3.2M234.2 264.98h6.2M285.3 264.98h3.2M303.3 264.98h3.2M312.3 264.98h3.2M30.0 266.47h6.2M48.0 266.47h3.2M84.1 266.47h6.2M99.1 266.47h6.2M123.1 266.47h6.2M138.1 266.47h6.2M156.1 266.47h3.2M168.1 266.47h3.2M174.2 266.47h3.2M180.2 266.47h3.2M198.2 266.47h3.2M249.2 266.47h3.2M297.3 266.47h3.2M27.0 267.97h3.2M33.0 267.97h3.2M45.0 267.97h3.2M51.0 267.97h3.2M84.1 267.97h3.2M93.1 267.97h3.2M111.1 267.97h3.2M138.1 267.97h6.2M153.1 267.97h12.2M174.2 267.97h3.2M183.2 267.97h3.2M240.2 267.97h3.2M252.2 267.97h3.2M270.3 267.97h3.2M288.3 267.97h3.2M306.3 267.97h3.2M315.3 267.97h3.2M27.0 269.46h3.2M33.0 269.46h3.2M105.1 269.46h3.2M114.1 269.46h3.2M159.1 269.46h3.2M204.2 269.46h3.2M225.2 269.46h6.2M252.2 269.46h3.2M285.3 269.46h3.2M297.3 269.46h3.2M81.1 270.95h6.2M177.2 270.95h3.2M240.2 270.95h3.2M258.2 270.95h3.2M297.3 270.95h3.2M306.3 270.95h6.2"/><path stroke="#f9fdcb" d="M39.0 61.79h6.2M51.0 61.79h3.2M81.1 61.79h3.2M102.1 61.79h3.2M126.1 61.79h3.2M222.2 61.79h3.2M51.0 63.29h3.2M27.0 64.78h12.2M51.0 64.78h3.2M93.1 64.78h6.2M261.2 64.78h3.2M303.3 64.78h3.2M48.0 66.28h3.2M57.0 66.28h3.2M78.1 66.28h3.2M96.1 66.28h6.2M54.0 67.77h6.2M24.0 69.26h3.2M42.0 69.26h3.2M48.0 69.26h3.2M54.0 69.26h6.2M78.1 69.26h3.2M114.1 69.26h3.2M207.2 69.26h3.2M222.2 69.26h6.2M231.2 69.26h3.2M57.0 70.76h3.2M99.1 70.76h3.2M120.1 70.76h3.2M129.1 70.76h6.2M150.1 70.76h3.2M159.1 70.76h3.2M168.1 70.76h12.2M189.2 70.76h3.2M204.2 70.76h3.2M216.2 70.76h3.2M228.2 70.76h3.2M234.2 70.76h6.2M282.3 70.76h6.2M291.3 70.76h3.2M30.0 72.25h3.2M66.0 72.25h3.2M102.1 72.25h6.2M111.1 72.25h3.2M150.1 72.25h3.2M162.1 72.25h3.2M168.1 72.25h3.2M180.2 72.25h12.2M222.2 72.25h3.2M231.2 72.25h3.2M249.2 72.25h3.2M255.2 72.25h3.2M261.2 72.25h3.2M279.3 72.25h9.2M294.3 72.25h3.2M312.3 72.25h3.2M171.2 73.75h3.2M177.2 73.75h3.2M186.2 73.75h9.2M222.2 73.75h3.2M291.3 73.75h3.2M300.3 73.75h3.2M153.1 75.24h9.2M177.2 75.24h3.2M207.2 75.24h3.2M216.2 75.24h6.2M291.3 75.24h3.2M303.3 75.24h3.2M213.2 78.23h3.2M27.0 79.72h3.2M189.2 79.72h3.2M222.2 79.72h3.2M309.3 79.72h3.2M156.1 81.22h3.2M165.1 81.22h3.2M177.2 81.22h3.2M216.2 81.22h3.2M261.2 85.70h3.2M162.1 88.69h6.2M174.2 90.18h3.2M183.2 90.18h3.2M264.2 90.18h3.2M273.3 90.18h3.2M153.1 91.67h3.2M165.1 91.67h3.2M159.1 93.17h9.2M168.1 94.66h6.2M255.2 96.16h3.2M165.1 97.65h3.2M177.2 99.14h3.2M255.2 99.14h3.2M195.2 100.64h3.2M255.2 100.64h3.2M195.2 102.13h3.2M222.2 109.60h3.2M315.3 112.59h3.2M69.0 117.07h3.2M216.2 117.07h3.2M228.2 117.07h3.2M102.1 118.56h3.2M147.1 118.56h3.2M276.3 118.56h3.2M105.1 120.06h3.2M45.0 121.55h3.2M117.1 121.55h3.2M138.1 121.55h6.2M45.0 123.05h6.2M33.0 124.54h6.2M84.1 124.54h3.2M189.2 127.53h3.2M33.0 129.02h3.2M255.2 129.02h3.2M42.0 130.52h3.2M54.0 130.52h3.2M81.1 130.52h3.2M138.1 130.52h6.2M51.0 132.01h3.2M108.1 132.01h3.2M114.1 132.01h3.2M24.0 133.50h3.2M174.2 135.00h3.2M246.2 135.00h3.2M27.0 136.49h3.2M132.1 137.99h9.2M201.2 137.99h3.2M141.1 139.48h3.2M183.2 139.48h3.2M105.1 143.96h3.2M114.1 145.46h3.2M171.2 145.46h3.2M45.0 146.95h3.2M54.0 146.95h3.2M63.0 146.95h3.2M90.1 146.95h3.2M294.3 146.95h3.2M138.1 148.44h3.2M210.2 148.44h3.2M228.2 148.44h3.2M288.3 148.44h3.2M27.0 151.43h3.2M111.1 151.43h3.2M177.2 151.43h3.2M267.2 151.43h6.2M309.3 151.43h6.2M30.0 152.93h3.2M39.0 152.93h3.2M51.0 152.93h6.2M78.1 152.93h3.2M84.1 152.93h6.2M114.1 152.93h3.2M120.1 152.93h3.2M129.1 152.93h3.2M135.1 152.93h3.2M180.2 152.93h6.2M228.2 152.93h3.2M255.2 152.93h3.2M270.3 152.93h6.2M279.3 152.93h3.2M288.3 152.93h3.2M303.3 152.93h6.2M312.3 152.93h3.2M33.0 154.42h3.2M42.0 154.42h3.2M51.0 154.42h6.2M60.0 154.42h3.2M87.1 154.42h3.2M117.1 154.42h6.2M126.1 154.42h3.2M132.1 154.42h3.2M168.1 154.42h3.2M180.2 154.42h6.2M198.2 154.42h3.2M207.2 154.42h3.2M237.2 154.42h3.2M258.2 154.42h6.2M276.3 154.42h3.2M315.3 154.42h3.2M24.0 155.91h3.2M30.0 155.91h9.2M45.0 155.91h3.2M78.1 155.91h3.2M87.1 155.91h6.2M96.1 155.91h3.2M114.1 155.91h3.2M132.1 155.91h3.2M141.1 155.91h3.2M156.1 155.91h3.2M162.1 155.91h3.2M183.2 155.91h3.2M192.2 155.91h3.2M201.2 155.91h6.2M225.2 155.91h6.2M285.3 155.91h6.2M300.3 155.91h3.2M24.0 157.41h3.2M30.0 157.41h9.2M78.1 157.41h3.2M84.1 157.41h3.2M90.1 157.41h9.2M111.1 157.41h3.2M129.1 157.41h3.2M135.1 157.41h3.2M153.1 157.41h3.2M165.1 157.41h3.2M198.2 157.41h6.2M210.2 157.41h3.2M255.2 157.41h3.2M264.2 157.41h3.2M273.3 157.41h15.2M297.3 157.41h3.2M303.3 157.41h3.2M309.3 157.41h3.2M27.0 158.90h3.2M48.0 158.90h3.2M90.1 158.90h3.2M108.1 158.90h3.2M123.1 158.90h3.2M144.1 158.90h3.2M153.1 158.90h6.2M177.2 158.90h3.2M192.2 158.90h3.2M204.2 158.90h3.2M291.3 158.90h3.2M30.0 160.40h3.2M39.0 160.40h3.2M63.0 160.40h3.2M99.1 160.40h3.2M111.1 160.40h3.2M120.1 160.40h6.2M144.1 160.40h3.2M159.1 160.40h3.2M189.2 160.40h3.2M216.2 160.40h3.2M222.2 160.40h3.2M228.2 160.40h3.2M234.2 160.40h3.2M249.2 160.40h6.2M258.2 160.40h3.2M282.3 160.40h3.2M288.3 160.40h3.2M300.3 160.40h6.2M315.3 160.40h3.2M24.0 161.89h6.2M57.0 161.89h3.2M81.1 161.89h3.2M111.1 161.89h3.2M138.1 161.89h3.2M144.1 161.89h3.2M153.1 161.89h6.2M189.2 161.89h3.2M207.2 161.89h3.2M255.2 161.89h3.2M279.3 161.89h3.2M288.3 161.89h3.2M294.3 161.89h3.2M132.1 163.38h3.2M144.1 163.38h3.2M156.1 163.38h6.2M165.1 163.38h3.2M186.2 163.38h6.2M195.2 163.38h6.2M234.2 163.38h9.2M258.2 163.38h3.2M30.0 164.88h3.2M75.1 164.88h6.2M108.1 164.88h6.2M126.1 164.88h3.2M135.1 164.88h3.2M195.2 164.88h3.2M210.2 164.88h3.2M231.2 164.88h3.2M240.2 164.88h15.2M261.2 164.88h3.2M276.3 164.88h3.2M51.0 166.37h3.2M84.1 166.37h3.2M138.1 166.37h3.2M150.1 166.37h3.2M159.1 166.37h3.2M174.2 166.37h3.2M189.2 166.37h3.2M198.2 166.37h3.2M225.2 166.37h3.2M54.0 167.87h3.2M99.1 167.87h3.2M129.1 167.87h6.2M147.1 167.87h3.2M153.1 167.87h3.2M165.1 167.87h3.2M174.2 167.87h3.2M198.2 167.87h6.2M252.2 167.87h3.2M291.3 167.87h3.2M300.3 167.87h6.2M309.3 167.87h6.2M42.0 169.36h12.2M66.0 169.36h3.2M123.1 169.36h3.2M135.1 169.36h3.2M171.2 169.36h9.2M189.2 169.36h3.2M195.2 169.36h3.2M264.2 169.36h3.2M276.3 169.36h3.2M294.3 169.36h3.2M303.3 169.36h3.2M312.3 169.36h3.2M24.0 170.85h3.2M30.0 170.85h3.2M60.0 170.85h3.2M108.1 170.85h3.2M123.1 170.85h3.2M132.1 170.85h3.2M165.1 170.85h3.2M192.2 170.85h3.2M225.2 170.85h3.2M231.2 170.85h6.2M240.2 170.85h3.2M267.2 170.85h3.2M279.3 170.85h6.2M30.0 172.35h3.2M63.0 172.35h3.2M78.1 172.35h3.2M108.1 172.35h9.2M144.1 172.35h3.2M153.1 172.35h3.2M180.2 172.35h3.2M192.2 172.35h6.2M237.2 172.35h3.2M249.2 172.35h6.2M261.2 172.35h3.2M282.3 172.35h3.2M300.3 172.35h3.2M42.0 173.84h3.2M57.0 173.84h6.2M75.1 173.84h9.2M87.1 173.84h3.2M93.1 173.84h3.2M144.1 173.84h3.2M150.1 173.84h3.2M165.1 173.84h3.2M177.2 173.84h6.2M219.2 173.84h3.2M228.2 173.84h3.2M276.3 173.84h6.2M285.3 173.84h9.2M39.0 175.34h3.2M60.0 175.34h3.2M72.0 175.34h6.2M81.1 175.34h3.2M111.1 175.34h3.2M129.1 175.34h3.2M225.2 175.34h3.2M234.2 175.34h3.2M243.2 175.34h3.2M249.2 175.34h3.2M285.3 175.34h3.2M306.3 175.34h3.2M27.0 176.83h12.2M57.0 176.83h3.2M93.1 176.83h3.2M108.1 176.83h3.2M123.1 176.83h6.2M144.1 176.83h3.2M210.2 176.83h3.2M246.2 176.83h3.2M276.3 176.83h3.2M312.3 176.83h3.2M24.0 178.32h3.2M30.0 178.32h9.2M45.0 178.32h3.2M51.0 178.32h12.2M78.1 178.32h3.2M84.1 178.32h3.2M90.1 178.32h3.2M108.1 178.32h3.2M141.1 178.32h3.2M225.2 178.32h3.2M252.2 178.32h3.2M261.2 178.32h3.2M267.2 178.32h3.2M279.3 178.32h3.2M312.3 178.32h3.2M24.0 179.82h3.2M33.0 179.82h6.2M66.0 179.82h3.2M99.1 179.82h6.2M108.1 179.82h3.2M120.1 179.82h3.2M129.1 179.82h3.2M225.2 179.82h3.2M237.2 179.82h6.2M288.3 179.82h6.2M30.0 181.31h3.2M108.1 181.31h3.2M135.1 181.31h3.2M225.2 181.31h3.2M252.2 181.31h3.2M309.3 181.31h3.2M36.0 182.81h3.2M57.0 182.81h3.2M69.0 182.81h3.2M75.1 182.81h6.2M123.1 182.81h3.2M165.1 182.81h3.2M174.2 182.81h3.2M264.2 182.81h3.2M276.3 182.81h6.2M306.3 182.81h3.2M36.0 184.30h3.2M51.0 184.30h3.2M66.0 184.30h3.2M93.1 184.30h3.2M105.1 184.30h3.2M138.1 184.30h3.2M144.1 184.30h3.2M153.1 184.30h3.2M165.1 184.30h9.2M177.2 184.30h3.2M231.2 184.30h3.2M240.2 184.30h3.2M261.2 184.30h3.2M282.3 184.30h3.2M297.3 184.30h3.2M303.3 184.30h3.2M315.3 184.30h3.2M39.0 185.79h3.2M48.0 185.79h3.2M75.1 185.79h3.2M156.1 185.79h3.2M225.2 185.79h3.2M234.2 185.79h3.2M252.2 185.79h3.2M54.0 187.29h3.2M72.0 187.29h3.2M105.1 187.29h6.2M123.1 187.29h3.2M129.1 187.29h3.2M138.1 187.29h9.2M159.1 187.29h3.2M165.1 187.29h3.2M228.2 187.29h9.2M249.2 187.29h3.2M30.0 188.78h3.2M48.0 188.78h3.2M117.1 188.78h3.2M186.2 188.78h6.2M204.2 188.78h3.2M57.0 190.28h3.2M138.1 190.28h3.2M255.2 190.28h3.2M84.1 193.26h3.2M135.1 193.26h6.2M264.2 193.26h3.2M138.1 194.76h9.2M255.2 194.76h3.2M294.3 194.76h3.2M105.1 196.25h3.2M144.1 196.25h3.2M201.2 196.25h3.2M225.2 196.25h3.2M270.3 196.25h6.2M30.0 197.75h3.2M96.1 197.75h3.2M114.1 197.75h3.2M186.2 197.75h3.2M126.1 199.24h3.2M147.1 199.24h3.2M144.1 200.73h3.2M228.2 200.73h3.2M138.1 202.23h6.2M294.3 202.23h3.2M117.1 203.72h3.2M129.1 203.72h3.2M147.1 203.72h3.2M99.1 205.22h3.2M141.1 205.22h3.2M171.2 205.22h3.2M186.2 206.71h3.2M66.0 208.20h3.2M84.1 209.70h3.2M96.1 211.19h3.2M150.1 212.69h3.2M162.1 212.69h3.2M171.2 212.69h6.2M219.2 212.69h6.2M159.1 214.18h3.2M165.1 214.18h3.2M177.2 214.18h3.2M186.2 214.18h6.2M201.2 214.18h3.2M66.0 215.67h3.2M198.2 215.67h3.2M24.0 217.17h6.2M102.1 217.17h3.2M162.1 217.17h3.2M312.3 217.17h6.2M186.2 218.66h3.2M216.2 218.66h3.2M222.2 218.66h3.2M288.3 218.66h3.2M159.1 220.16h3.2M186.2 220.16h6.2M195.2 220.16h3.2M252.2 220.16h3.2M276.3 220.16h3.2M297.3 220.16h3.2M159.1 221.65h3.2M180.2 221.65h3.2M186.2 221.65h3.2M303.3 221.65h3.2M183.2 223.14h3.2M228.2 223.14h3.2M288.3 223.14h3.2M66.0 226.13h3.2M90.1 226.13h3.2M189.2 226.13h3.2M195.2 226.13h3.2M222.2 226.13h3.2M252.2 226.13h3.2M312.3 226.13h6.2M189.2 227.63h3.2M297.3 227.63h3.2M168.1 229.12h3.2M228.2 229.12h3.2M42.0 230.61h3.2M102.1 230.61h3.2M114.1 230.61h3.2M168.1 230.61h3.2M264.2 230.61h3.2M273.3 230.61h3.2M303.3 230.61h3.2M96.1 232.11h3.2M162.1 232.11h3.2M168.1 232.11h3.2M216.2 232.11h3.2M30.0 233.60h9.2M60.0 233.60h3.2M66.0 233.60h3.2M108.1 233.60h3.2M117.1 233.60h3.2M159.1 233.60h3.2M177.2 233.60h6.2M186.2 233.60h3.2M222.2 233.60h3.2M255.2 233.60h3.2M264.2 233.60h9.2M303.3 233.60h3.2M54.0 235.10h3.2M81.1 235.10h3.2M90.1 235.10h6.2M99.1 235.10h3.2M183.2 235.10h3.2M114.1 236.59h6.2M30.0 238.08h3.2M42.0 238.08h3.2M84.1 238.08h3.2M126.1 238.08h3.2M144.1 238.08h3.2M189.2 238.08h3.2M195.2 238.08h3.2M201.2 238.08h3.2M210.2 238.08h3.2M264.2 238.08h3.2M273.3 238.08h3.2M78.1 239.58h3.2M87.1 239.58h3.2M114.1 239.58h3.2M123.1 239.58h3.2M168.1 239.58h3.2M222.2 239.58h3.2M234.2 239.58h3.2M261.2 239.58h6.2M294.3 239.58h6.2M315.3 239.58h3.2M138.1 241.07h3.2M174.2 241.07h3.2M273.3 241.07h3.2M300.3 241.07h3.2M315.3 241.07h3.2M54.0 242.57h3.2M63.0 242.57h3.2M108.1 242.57h3.2M120.1 242.57h3.2M162.1 242.57h3.2M186.2 242.57h3.2M192.2 242.57h3.2M228.2 242.57h6.2M270.3 242.57h3.2M291.3 242.57h6.2M315.3 242.57h3.2M129.1 244.06h6.2M198.2 244.06h6.2M258.2 244.06h6.2M33.0 245.56h3.2M168.1 245.56h6.2M282.3 245.56h3.2M291.3 245.56h3.2M312.3 245.56h3.2M33.0 247.05h3.2M150.1 247.05h3.2M207.2 247.05h3.2M30.0 248.54h6.2M42.0 248.54h3.2M57.0 248.54h3.2M135.1 248.54h6.2M162.1 248.54h3.2M171.2 248.54h3.2M198.2 248.54h6.2M258.2 248.54h3.2M42.0 250.04h3.2M48.0 250.04h3.2M114.1 250.04h3.2M123.1 250.04h3.2M168.1 250.04h3.2M177.2 250.04h3.2M294.3 250.04h3.2M315.3 250.04h3.2M114.1 251.53h6.2M162.1 251.53h3.2M258.2 251.53h3.2M267.2 251.53h6.2M282.3 251.53h3.2M33.0 253.03h6.2M117.1 253.03h3.2M141.1 253.03h3.2M186.2 253.03h3.2M264.2 253.03h3.2M87.1 254.52h3.2M114.1 254.52h3.2M201.2 254.52h3.2M276.3 254.52h3.2M42.0 256.01h3.2M75.1 256.01h3.2M99.1 256.01h3.2M153.1 256.01h3.2M168.1 256.01h3.2M192.2 256.01h3.2M207.2 256.01h3.2M261.2 256.01h3.2M27.0 257.51h3.2M33.0 257.51h3.2M57.0 257.51h9.2M78.1 257.51h3.2M84.1 257.51h3.2M135.1 257.51h3.2M144.1 257.51h3.2M168.1 257.51h3.2M264.2 257.51h6.2M285.3 257.51h3.2M297.3 257.51h6.2M309.3 257.51h3.2M315.3 257.51h3.2M42.0 259.00h3.2M48.0 259.00h3.2M111.1 259.00h3.2M120.1 259.00h3.2M126.1 259.00h3.2M153.1 259.00h3.2M162.1 259.00h3.2M168.1 259.00h3.2M183.2 259.00h3.2M189.2 259.00h3.2M195.2 259.00h3.2M213.2 259.00h3.2M240.2 259.00h6.2M285.3 259.00h3.2M297.3 259.00h6.2M24.0 260.50h3.2M36.0 260.50h3.2M42.0 260.50h3.2M51.0 260.50h3.2M66.0 260.50h6.2M81.1 260.50h3.2M87.1 260.50h6.2M120.1 260.50h3.2M159.1 260.50h6.2M177.2 260.50h3.2M222.2 260.50h3.2M231.2 260.50h3.2M291.3 260.50h6.2M303.3 260.50h3.2M315.3 260.50h3.2M66.0 261.99h6.2M105.1 261.99h3.2M150.1 261.99h3.2M159.1 261.99h6.2M201.2 261.99h3.2M207.2 261.99h3.2M213.2 261.99h3.2M219.2 261.99h3.2M246.2 261.99h3.2M255.2 261.99h6.2M276.3 261.99h3.2M291.3 261.99h3.2M312.3 261.99h3.2M24.0 263.48h6.2M66.0 263.48h3.2M84.1 263.48h3.2M90.1 263.48h3.2M141.1 263.48h3.2M171.2 263.48h3.2M195.2 263.48h3.2M219.2 263.48h3.2M261.2 263.48h3.2M282.3 263.48h3.2M306.3 263.48h3.2M33.0 264.98h3.2M102.1 264.98h6.2M144.1 264.98h3.2M150.1 264.98h3.2M192.2 264.98h3.2M207.2 264.98h3.2M225.2 264.98h3.2M255.2 264.98h9.2M54.0 266.47h6.2M66.0 266.47h3.2M81.1 266.47h3.2M159.1 266.47h3.2M177.2 266.47h3.2M228.2 266.47h3.2M240.2 266.47h3.2M246.2 266.47h3.2M252.2 266.47h3.2M261.2 266.47h3.2M270.3 266.47h6.2M285.3 266.47h3.2M30.0 267.97h3.2M42.0 267.97h3.2M54.0 267.97h3.2M72.0 267.97h3.2M87.1 267.97h6.2M96.1 267.97h3.2M132.1 267.97h3.2M165.1 267.97h3.2M171.2 267.97h3.2M186.2 267.97h3.2M285.3 267.97h3.2M291.3 267.97h3.2M309.3 267.97h6.2M57.0 269.46h3.2M108.1 269.46h3.2M135.1 269.46h3.2M156.1 269.46h3.2M183.2 269.46h9.2M261.2 269.46h3.2M288.3 269.46h3.2M27.0 270.95h3.2M72.0 270.95h3.2M78.1 270.95h3.2M87.1 270.95h3.2M93.1 270.95h3.2M117.1 270.95h3.2M123.1 270.95h3.2M156.1 270.95h6.2M180.2 270.95h9.2M216.2 270.95h3.2M225.2 270.95h3.2M243.2 270.95h3.2M282.3 270.95h3.2M315.3 270.95h3.2"/><path stroke="#feffc0" d="M105.1 48.35h3.2M126.1 48.35h6.2M156.1 48.35h3.2M207.2 48.35h3.2M222.2 48.35h3.2M261.2 48.35h3.2M27.0 60.30h3.2M78.1 60.30h3.2M141.1 60.30h3.2M273.3 60.30h6.2M36.0 61.79h3.2M48.0 61.79h3.2M54.0 61.79h3.2M69.0 61.79h6.2M84.1 61.79h3.2M99.1 61.79h3.2M123.1 61.79h3.2M129.1 61.79h3.2M147.1 61.79h3.2M54.0 63.29h3.2M78.1 63.29h3.2M111.1 63.29h3.2M123.1 63.29h3.2M135.1 63.29h3.2M144.1 63.29h6.2M207.2 63.29h3.2M219.2 63.29h3.2M24.0 64.78h3.2M39.0 64.78h3.2M48.0 64.78h3.2M258.2 64.78h3.2M306.3 64.78h3.2M27.0 66.28h3.2M60.0 66.28h6.2M72.0 66.28h3.2M81.1 66.28h3.2M102.1 66.28h3.2M129.1 66.28h3.2M144.1 66.28h3.2M261.2 66.28h3.2M306.3 66.28h3.2M315.3 66.28h3.2M60.0 67.77h3.2M69.0 67.77h12.2M96.1 67.77h3.2M27.0 69.26h15.2M45.0 69.26h3.2M75.1 69.26h3.2M81.1 69.26h3.2M102.1 69.26h3.2M111.1 69.26h3.2M120.1 69.26h3.2M147.1 69.26h3.2M153.1 69.26h3.2M186.2 69.26h6.2M204.2 69.26h3.2M27.0 70.76h3.2M51.0 70.76h3.2M87.1 70.76h3.2M96.1 70.76h3.2M114.1 70.76h6.2M135.1 70.76h3.2M147.1 70.76h3.2M162.1 70.76h3.2M183.2 70.76h3.2M192.2 70.76h3.2M201.2 70.76h3.2M207.2 70.76h6.2M219.2 70.76h9.2M240.2 70.76h3.2M252.2 70.76h6.2M264.2 70.76h9.2M294.3 70.76h3.2M300.3 70.76h3.2M309.3 70.76h3.2M90.1 72.25h3.2M132.1 72.25h3.2M153.1 72.25h6.2M198.2 72.25h3.2M219.2 72.25h3.2M228.2 72.25h3.2M234.2 72.25h3.2M264.2 72.25h3.2M306.3 72.25h3.2M153.1 73.75h3.2M159.1 73.75h9.2M195.2 73.75h3.2M219.2 73.75h3.2M261.2 73.75h3.2M270.3 73.75h6.2M279.3 73.75h12.2M294.3 73.75h6.2M315.3 73.75h3.2M150.1 75.24h3.2M171.2 75.24h3.2M180.2 75.24h3.2M186.2 75.24h6.2M195.2 75.24h3.2M204.2 75.24h3.2M228.2 75.24h9.2M255.2 75.24h3.2M282.3 75.24h3.2M315.3 75.24h3.2M153.1 76.73h3.2M207.2 76.73h9.2M174.2 78.23h3.2M183.2 78.23h3.2M204.2 78.23h3.2M210.2 78.23h3.2M216.2 78.23h3.2M222.2 78.23h3.2M93.1 79.72h3.2M186.2 79.72h3.2M192.2 79.72h3.2M216.2 79.72h6.2M237.2 79.72h3.2M153.1 81.22h3.2M168.1 81.22h3.2M210.2 81.22h6.2M282.3 81.22h3.2M186.2 82.71h3.2M315.3 82.71h3.2M171.2 84.20h6.2M261.2 84.20h3.2M264.2 85.70h3.2M207.2 87.19h3.2M177.2 90.18h6.2M156.1 91.67h3.2M162.1 91.67h3.2M168.1 93.17h6.2M183.2 93.17h3.2M207.2 96.16h3.2M216.2 96.16h3.2M207.2 109.60h3.2M219.2 109.60h3.2M213.2 111.09h3.2M45.0 114.08h3.2M126.1 115.58h3.2M255.2 123.05h6.2M150.1 127.53h3.2M66.0 133.50h3.2M297.3 140.97h3.2M210.2 143.96h3.2M270.3 143.96h3.2M168.1 145.46h3.2M189.2 145.46h3.2M315.3 151.43h3.2M33.0 152.93h6.2M42.0 152.93h3.2M48.0 152.93h3.2M66.0 152.93h9.2M102.1 152.93h3.2M117.1 152.93h3.2M123.1 152.93h3.2M138.1 152.93h3.2M144.1 152.93h3.2M162.1 152.93h3.2M174.2 152.93h3.2M258.2 152.93h3.2M276.3 152.93h3.2M291.3 152.93h3.2M315.3 152.93h3.2M27.0 154.42h3.2M48.0 154.42h3.2M63.0 154.42h9.2M75.1 154.42h3.2M84.1 154.42h3.2M123.1 154.42h3.2M150.1 154.42h3.2M156.1 154.42h6.2M171.2 154.42h6.2M195.2 154.42h3.2M228.2 154.42h3.2M240.2 154.42h3.2M264.2 154.42h3.2M27.0 155.91h3.2M75.1 155.91h3.2M84.1 155.91h3.2M99.1 155.91h3.2M117.1 155.91h6.2M126.1 155.91h3.2M297.3 155.91h3.2M45.0 157.41h3.2M63.0 157.41h6.2M102.1 157.41h3.2M108.1 157.41h3.2M156.1 157.41h3.2M171.2 157.41h3.2M177.2 157.41h3.2M195.2 157.41h3.2M267.2 157.41h6.2M300.3 157.41h3.2M312.3 157.41h3.2M39.0 158.90h6.2M54.0 158.90h6.2M63.0 158.90h3.2M75.1 158.90h3.2M84.1 158.90h3.2M105.1 158.90h3.2M141.1 158.90h3.2M180.2 158.90h12.2M312.3 158.90h3.2M27.0 160.40h3.2M42.0 160.40h3.2M48.0 160.40h3.2M54.0 160.40h3.2M108.1 160.40h3.2M171.2 160.40h3.2M177.2 160.40h6.2M201.2 160.40h6.2M219.2 160.40h3.2M231.2 160.40h3.2M243.2 160.40h6.2M261.2 160.40h9.2M312.3 160.40h3.2M33.0 161.89h3.2M45.0 161.89h6.2M60.0 161.89h3.2M84.1 161.89h6.2M96.1 161.89h3.2M114.1 161.89h3.2M132.1 161.89h6.2M141.1 161.89h3.2M147.1 161.89h3.2M165.1 161.89h3.2M171.2 161.89h3.2M180.2 161.89h3.2M186.2 161.89h3.2M195.2 161.89h3.2M210.2 161.89h3.2M222.2 161.89h6.2M258.2 161.89h3.2M267.2 161.89h6.2M291.3 161.89h3.2M303.3 161.89h6.2M24.0 163.38h6.2M33.0 163.38h3.2M57.0 163.38h6.2M108.1 163.38h3.2M114.1 163.38h3.2M135.1 163.38h9.2M150.1 163.38h6.2M168.1 163.38h3.2M183.2 163.38h3.2M219.2 163.38h3.2M231.2 163.38h3.2M255.2 163.38h3.2M273.3 163.38h3.2M294.3 163.38h3.2M315.3 163.38h3.2M24.0 164.88h3.2M66.0 164.88h3.2M72.0 164.88h3.2M87.1 164.88h3.2M129.1 164.88h6.2M153.1 164.88h9.2M165.1 164.88h3.2M174.2 164.88h3.2M180.2 164.88h3.2M201.2 164.88h3.2M234.2 164.88h6.2M258.2 164.88h3.2M279.3 164.88h6.2M288.3 164.88h9.2M303.3 164.88h15.2M66.0 166.37h3.2M114.1 166.37h9.2M129.1 166.37h3.2M135.1 166.37h3.2M165.1 166.37h3.2M180.2 166.37h3.2M228.2 166.37h6.2M258.2 166.37h3.2M270.3 166.37h3.2M282.3 166.37h3.2M300.3 166.37h9.2M312.3 166.37h3.2M135.1 167.87h3.2M144.1 167.87h3.2M156.1 167.87h6.2M180.2 167.87h3.2M189.2 167.87h3.2M264.2 167.87h6.2M288.3 167.87h3.2M69.0 169.36h3.2M144.1 169.36h3.2M150.1 169.36h6.2M213.2 169.36h3.2M267.2 169.36h3.2M273.3 169.36h3.2M282.3 169.36h9.2M300.3 169.36h3.2M48.0 170.85h3.2M57.0 170.85h3.2M63.0 170.85h3.2M75.1 170.85h3.2M84.1 170.85h6.2M102.1 170.85h6.2M117.1 170.85h6.2M144.1 170.85h12.2M171.2 170.85h3.2M258.2 170.85h3.2M264.2 170.85h3.2M273.3 170.85h3.2M312.3 170.85h3.2M27.0 172.35h3.2M36.0 172.35h3.2M75.1 172.35h3.2M96.1 172.35h3.2M123.1 172.35h6.2M156.1 172.35h6.2M183.2 172.35h3.2M267.2 172.35h3.2M273.3 172.35h3.2M294.3 172.35h3.2M303.3 172.35h3.2M24.0 173.84h15.2M48.0 173.84h3.2M63.0 173.84h3.2M69.0 173.84h6.2M84.1 173.84h3.2M90.1 173.84h3.2M96.1 173.84h3.2M102.1 173.84h6.2M114.1 173.84h3.2M156.1 173.84h3.2M174.2 173.84h3.2M192.2 173.84h3.2M240.2 173.84h3.2M264.2 173.84h6.2M297.3 173.84h3.2M57.0 175.34h3.2M78.1 175.34h3.2M84.1 175.34h3.2M90.1 175.34h6.2M99.1 175.34h3.2M114.1 175.34h3.2M120.1 175.34h9.2M147.1 175.34h9.2M165.1 175.34h3.2M252.2 175.34h3.2M261.2 175.34h3.2M288.3 175.34h6.2M300.3 175.34h3.2M309.3 175.34h3.2M315.3 175.34h3.2M48.0 176.83h3.2M75.1 176.83h3.2M84.1 176.83h3.2M90.1 176.83h3.2M99.1 176.83h3.2M117.1 176.83h6.2M141.1 176.83h3.2M147.1 176.83h3.2M270.3 176.83h3.2M291.3 176.83h3.2M309.3 176.83h3.2M39.0 178.32h6.2M63.0 178.32h3.2M126.1 178.32h3.2M135.1 178.32h3.2M144.1 178.32h6.2M219.2 178.32h6.2M228.2 178.32h6.2M255.2 178.32h6.2M270.3 178.32h3.2M282.3 178.32h3.2M300.3 178.32h3.2M30.0 179.82h3.2M42.0 179.82h9.2M60.0 179.82h3.2M78.1 179.82h3.2M84.1 179.82h6.2M96.1 179.82h3.2M111.1 179.82h3.2M117.1 179.82h3.2M147.1 179.82h3.2M312.3 179.82h6.2M60.0 181.31h6.2M96.1 181.31h3.2M114.1 181.31h3.2M147.1 181.31h3.2M219.2 181.31h3.2M261.2 181.31h3.2M288.3 181.31h3.2M297.3 181.31h3.2M54.0 182.81h3.2M72.0 182.81h3.2M156.1 182.81h3.2M171.2 182.81h3.2M177.2 182.81h3.2M198.2 182.81h6.2M258.2 182.81h3.2M267.2 182.81h3.2M294.3 182.81h3.2M300.3 182.81h3.2M39.0 184.30h3.2M63.0 184.30h3.2M90.1 184.30h3.2M117.1 184.30h3.2M192.2 184.30h3.2M267.2 184.30h3.2M279.3 184.30h3.2M285.3 184.30h6.2M51.0 185.79h3.2M114.1 185.79h3.2M120.1 185.79h3.2M144.1 185.79h3.2M150.1 185.79h6.2M162.1 185.79h6.2M192.2 185.79h3.2M246.2 185.79h6.2M276.3 185.79h3.2M288.3 185.79h3.2M300.3 185.79h3.2M306.3 185.79h6.2M39.0 187.29h6.2M48.0 187.29h6.2M87.1 187.29h3.2M156.1 187.29h3.2M195.2 187.29h3.2M219.2 187.29h3.2M246.2 187.29h3.2M261.2 187.29h3.2M300.3 187.29h3.2M306.3 187.29h6.2M24.0 188.78h6.2M39.0 188.78h3.2M138.1 188.78h3.2M42.0 190.28h12.2M141.1 190.28h3.2M30.0 191.77h3.2M39.0 191.77h9.2M51.0 191.77h3.2M51.0 193.26h3.2M267.2 193.26h3.2M51.0 194.76h3.2M291.3 194.76h3.2M36.0 196.25h3.2M198.2 196.25h3.2M228.2 196.25h3.2M27.0 197.75h3.2M33.0 197.75h9.2M24.0 199.24h3.2M39.0 199.24h3.2M57.0 199.24h6.2M72.0 199.24h6.2M87.1 199.24h3.2M123.1 199.24h3.2M156.1 199.24h3.2M117.1 200.73h12.2M30.0 202.23h3.2M81.1 202.23h3.2M93.1 202.23h3.2M99.1 202.23h3.2M111.1 202.23h6.2M126.1 202.23h3.2M297.3 202.23h3.2M309.3 202.23h3.2M36.0 203.72h6.2M48.0 203.72h6.2M102.1 203.72h3.2M111.1 203.72h3.2M132.1 203.72h3.2M42.0 205.22h3.2M78.1 205.22h3.2M111.1 205.22h3.2M195.2 205.22h3.2M258.2 206.71h3.2M153.1 212.69h3.2M159.1 212.69h3.2M150.1 214.18h9.2M171.2 214.18h3.2M183.2 214.18h3.2M192.2 214.18h9.2M177.2 215.67h6.2M195.2 215.67h3.2M159.1 217.17h3.2M177.2 217.17h6.2M186.2 217.17h3.2M150.1 218.66h6.2M165.1 218.66h6.2M219.2 218.66h3.2M156.1 220.16h3.2M165.1 220.16h3.2M192.2 220.16h3.2M174.2 221.65h6.2M219.2 221.65h6.2M312.3 223.14h3.2M42.0 224.64h3.2M177.2 226.13h3.2M198.2 226.13h3.2M243.2 226.13h3.2M150.1 227.63h3.2M72.0 230.61h3.2M99.1 230.61h3.2M117.1 230.61h3.2M33.0 232.11h3.2M165.1 232.11h3.2M27.0 233.60h3.2M63.0 233.60h3.2M225.2 233.60h3.2M84.1 235.10h6.2M105.1 236.59h6.2M39.0 238.08h3.2M90.1 238.08h3.2M192.2 238.08h3.2M219.2 238.08h3.2M240.2 238.08h6.2M33.0 239.58h3.2M156.1 239.58h3.2M228.2 239.58h3.2M171.2 241.07h3.2M222.2 241.07h3.2M276.3 241.07h15.2M111.1 242.57h3.2M189.2 242.57h3.2M219.2 242.57h3.2M162.1 244.06h3.2M168.1 244.06h3.2M210.2 244.06h3.2M216.2 244.06h6.2M273.3 244.06h3.2M42.0 245.56h6.2M195.2 245.56h3.2M219.2 245.56h3.2M279.3 245.56h3.2M315.3 245.56h3.2M204.2 247.05h3.2M222.2 247.05h3.2M36.0 248.54h3.2M105.1 248.54h3.2M126.1 248.54h3.2M168.1 248.54h3.2M189.2 248.54h3.2M90.1 250.04h6.2M111.1 250.04h3.2M144.1 250.04h3.2M204.2 250.04h6.2M285.3 250.04h6.2M255.2 251.53h3.2M285.3 251.53h3.2M114.1 253.03h3.2M138.1 253.03h3.2M189.2 253.03h3.2M195.2 253.03h3.2M267.2 253.03h3.2M276.3 253.03h6.2M90.1 254.52h3.2M171.2 254.52h3.2M258.2 254.52h3.2M270.3 254.52h3.2M285.3 254.52h3.2M309.3 254.52h9.2M72.0 256.01h3.2M135.1 256.01h3.2M201.2 256.01h6.2M255.2 256.01h6.2M264.2 256.01h3.2M276.3 256.01h3.2M294.3 256.01h3.2M24.0 257.51h3.2M66.0 257.51h3.2M81.1 257.51h3.2M138.1 257.51h3.2M210.2 257.51h3.2M45.0 259.00h3.2M114.1 259.00h6.2M123.1 259.00h3.2M141.1 259.00h3.2M165.1 259.00h3.2M186.2 259.00h3.2M207.2 259.00h6.2M195.2 260.50h6.2M282.3 260.50h6.2M297.3 260.50h6.2M306.3 260.50h9.2M147.1 261.99h3.2M177.2 261.99h3.2M204.2 261.99h3.2M216.2 261.99h3.2M249.2 261.99h3.2M297.3 261.99h3.2M33.0 263.48h6.2M54.0 263.48h3.2M87.1 263.48h3.2M144.1 263.48h3.2M228.2 263.48h3.2M255.2 263.48h3.2M276.3 263.48h6.2M297.3 263.48h3.2M36.0 264.98h6.2M129.1 264.98h3.2M147.1 264.98h3.2M174.2 264.98h3.2M204.2 264.98h3.2M219.2 264.98h3.2M279.3 264.98h6.2M288.3 264.98h3.2M315.3 264.98h3.2M51.0 266.47h3.2M63.0 266.47h3.2M162.1 266.47h3.2M243.2 266.47h3.2M258.2 266.47h3.2M276.3 266.47h3.2M57.0 267.97h9.2M99.1 267.97h6.2M126.1 267.97h3.2M234.2 267.97h6.2M261.2 267.97h3.2M279.3 267.97h3.2M297.3 267.97h3.2M258.2 269.46h3.2M270.3 269.46h9.2M294.3 269.46h3.2M75.1 270.95h3.2M90.1 270.95h3.2M108.1 270.95h3.2M222.2 270.95h3.2M246.2 270.95h3.2M261.2 270.95h3.2M312.3 270.95h3.2"/><path stroke="#fffab7" d="M45.0 48.35h3.2M69.0 48.35h3.2M99.1 48.35h6.2M159.1 48.35h3.2M219.2 48.35h3.2M225.2 48.35h3.2M24.0 60.30h3.2M30.0 60.30h9.2M51.0 60.30h9.2M75.1 60.30h3.2M93.1 60.30h3.2M129.1 60.30h9.2M144.1 60.30h3.2M240.2 60.30h3.2M24.0 61.79h6.2M57.0 61.79h9.2M78.1 61.79h3.2M87.1 61.79h3.2M105.1 61.79h3.2M114.1 61.79h3.2M120.1 61.79h3.2M132.1 61.79h6.2M219.2 61.79h3.2M291.3 61.79h3.2M297.3 61.79h3.2M30.0 63.29h6.2M81.1 63.29h3.2M102.1 63.29h6.2M114.1 63.29h3.2M126.1 63.29h3.2M204.2 63.29h3.2M210.2 63.29h3.2M216.2 63.29h3.2M222.2 63.29h3.2M231.2 63.29h6.2M258.2 63.29h3.2M312.3 63.29h3.2M54.0 64.78h3.2M78.1 64.78h6.2M102.1 64.78h3.2M135.1 64.78h3.2M255.2 64.78h3.2M264.2 64.78h6.2M309.3 64.78h3.2M315.3 64.78h3.2M36.0 66.28h3.2M51.0 66.28h6.2M66.0 66.28h6.2M75.1 66.28h3.2M84.1 66.28h3.2M93.1 66.28h3.2M105.1 66.28h15.2M126.1 66.28h3.2M132.1 66.28h3.2M141.1 66.28h3.2M150.1 66.28h3.2M165.1 66.28h3.2M207.2 66.28h3.2M270.3 66.28h3.2M297.3 66.28h6.2M309.3 66.28h3.2M63.0 67.77h3.2M93.1 67.77h3.2M105.1 67.77h3.2M114.1 67.77h3.2M147.1 67.77h3.2M186.2 67.77h3.2M219.2 67.77h3.2M66.0 69.26h3.2M84.1 69.26h3.2M93.1 69.26h3.2M117.1 69.26h3.2M132.1 69.26h6.2M150.1 69.26h3.2M156.1 69.26h3.2M210.2 69.26h3.2M219.2 69.26h3.2M240.2 69.26h3.2M306.3 69.26h6.2M33.0 70.76h3.2M39.0 70.76h6.2M66.0 70.76h6.2M75.1 70.76h6.2M84.1 70.76h3.2M90.1 70.76h3.2M102.1 70.76h3.2M111.1 70.76h3.2M123.1 70.76h3.2M144.1 70.76h3.2M186.2 70.76h3.2M198.2 70.76h3.2M213.2 70.76h3.2M249.2 70.76h3.2M258.2 70.76h6.2M273.3 70.76h6.2M297.3 70.76h3.2M306.3 70.76h3.2M45.0 72.25h6.2M57.0 72.25h3.2M78.1 72.25h3.2M99.1 72.25h3.2M108.1 72.25h3.2M114.1 72.25h3.2M120.1 72.25h3.2M129.1 72.25h3.2M135.1 72.25h3.2M147.1 72.25h3.2M159.1 72.25h3.2M201.2 72.25h9.2M216.2 72.25h3.2M225.2 72.25h3.2M240.2 72.25h3.2M246.2 72.25h3.2M252.2 72.25h3.2M267.2 72.25h6.2M276.3 72.25h3.2M297.3 72.25h9.2M135.1 73.75h3.2M150.1 73.75h3.2M156.1 73.75h3.2M168.1 73.75h3.2M183.2 73.75h3.2M207.2 73.75h6.2M225.2 73.75h3.2M237.2 73.75h3.2M243.2 73.75h9.2M255.2 73.75h6.2M264.2 73.75h6.2M312.3 73.75h3.2M123.1 75.24h3.2M162.1 75.24h3.2M222.2 75.24h6.2M243.2 75.24h12.2M261.2 75.24h3.2M267.2 75.24h6.2M279.3 75.24h3.2M306.3 75.24h3.2M81.1 76.73h3.2M150.1 76.73h3.2M156.1 76.73h15.2M240.2 76.73h3.2M171.2 78.23h3.2M180.2 78.23h3.2M186.2 78.23h6.2M207.2 78.23h3.2M225.2 78.23h3.2M261.2 78.23h9.2M24.0 79.72h3.2M30.0 79.72h3.2M96.1 79.72h3.2M174.2 79.72h3.2M213.2 79.72h3.2M249.2 79.72h6.2M267.2 79.72h3.2M282.3 79.72h3.2M297.3 79.72h3.2M306.3 79.72h3.2M75.1 81.22h3.2M159.1 81.22h6.2M171.2 81.22h3.2M261.2 81.22h3.2M303.3 81.22h3.2M75.1 82.71h3.2M174.2 82.71h6.2M189.2 82.71h3.2M210.2 82.71h3.2M219.2 82.71h6.2M234.2 82.71h3.2M312.3 82.71h3.2M162.1 84.20h6.2M186.2 84.20h3.2M207.2 84.20h9.2M219.2 84.20h12.2M258.2 84.20h3.2M264.2 84.20h3.2M207.2 85.70h3.2M252.2 85.70h3.2M267.2 85.70h3.2M156.1 87.19h9.2M180.2 87.19h6.2M249.2 87.19h3.2M261.2 87.19h3.2M159.1 91.67h3.2M267.2 91.67h3.2M177.2 93.17h6.2M204.2 96.16h3.2M219.2 96.16h6.2M222.2 97.65h3.2M204.2 102.13h3.2M213.2 103.62h9.2M204.2 105.12h12.2M216.2 106.61h3.2M207.2 108.11h3.2M213.2 108.11h6.2M210.2 109.60h6.2M219.2 111.09h3.2M255.2 115.58h3.2M147.1 127.53h3.2M78.1 130.52h3.2M204.2 137.99h3.2M204.2 146.95h3.2M66.0 148.44h3.2M24.0 152.93h6.2M45.0 152.93h3.2M93.1 152.93h3.2M108.1 152.93h3.2M141.1 152.93h3.2M150.1 152.93h3.2M168.1 152.93h6.2M177.2 152.93h3.2M264.2 152.93h6.2M24.0 154.42h3.2M36.0 154.42h3.2M78.1 154.42h3.2M96.1 154.42h12.2M135.1 154.42h3.2M141.1 154.42h3.2M189.2 154.42h6.2M273.3 154.42h3.2M57.0 155.91h6.2M105.1 155.91h3.2M123.1 155.91h3.2M138.1 155.91h3.2M27.0 157.41h3.2M48.0 157.41h3.2M60.0 157.41h3.2M69.0 157.41h3.2M75.1 157.41h3.2M99.1 157.41h3.2M105.1 157.41h3.2M114.1 157.41h3.2M120.1 157.41h3.2M126.1 157.41h3.2M138.1 157.41h3.2M159.1 157.41h6.2M168.1 157.41h3.2M180.2 157.41h3.2M186.2 157.41h6.2M33.0 158.90h6.2M45.0 158.90h3.2M60.0 158.90h3.2M66.0 158.90h3.2M87.1 158.90h3.2M114.1 158.90h3.2M120.1 158.90h3.2M126.1 158.90h3.2M159.1 158.90h6.2M168.1 158.90h6.2M36.0 160.40h3.2M57.0 160.40h3.2M72.0 160.40h6.2M90.1 160.40h3.2M102.1 160.40h6.2M147.1 160.40h3.2M162.1 160.40h3.2M174.2 160.40h3.2M183.2 160.40h3.2M192.2 160.40h6.2M270.3 160.40h12.2M291.3 160.40h3.2M36.0 161.89h9.2M51.0 161.89h3.2M78.1 161.89h3.2M99.1 161.89h3.2M159.1 161.89h3.2M177.2 161.89h3.2M183.2 161.89h3.2M219.2 161.89h3.2M261.2 161.89h6.2M276.3 161.89h3.2M297.3 161.89h3.2M309.3 161.89h9.2M36.0 163.38h3.2M72.0 163.38h6.2M87.1 163.38h3.2M126.1 163.38h3.2M162.1 163.38h3.2M174.2 163.38h3.2M207.2 163.38h3.2M216.2 163.38h3.2M264.2 163.38h3.2M270.3 163.38h3.2M282.3 163.38h6.2M312.3 163.38h3.2M33.0 164.88h3.2M39.0 164.88h3.2M54.0 164.88h3.2M63.0 164.88h3.2M99.1 164.88h3.2M138.1 164.88h3.2M147.1 164.88h6.2M171.2 164.88h3.2M186.2 164.88h3.2M207.2 164.88h3.2M213.2 164.88h3.2M219.2 164.88h3.2M267.2 164.88h3.2M273.3 164.88h3.2M285.3 164.88h3.2M300.3 164.88h3.2M57.0 166.37h3.2M69.0 166.37h3.2M90.1 166.37h3.2M153.1 166.37h6.2M183.2 166.37h6.2M195.2 166.37h3.2M201.2 166.37h3.2M207.2 166.37h6.2M264.2 166.37h6.2M276.3 166.37h3.2M285.3 166.37h12.2M309.3 166.37h3.2M315.3 166.37h3.2M141.1 167.87h3.2M177.2 167.87h3.2M186.2 167.87h3.2M195.2 167.87h3.2M204.2 167.87h12.2M219.2 167.87h3.2M261.2 167.87h3.2M270.3 167.87h3.2M282.3 167.87h6.2M297.3 167.87h3.2M315.3 167.87h3.2M138.1 169.36h6.2M147.1 169.36h3.2M156.1 169.36h3.2M168.1 169.36h3.2M210.2 169.36h3.2M219.2 169.36h3.2M258.2 169.36h3.2M270.3 169.36h3.2M279.3 169.36h3.2M297.3 169.36h3.2M315.3 169.36h3.2M33.0 170.85h9.2M45.0 170.85h3.2M51.0 170.85h6.2M81.1 170.85h3.2M90.1 170.85h9.2M186.2 170.85h6.2M255.2 170.85h3.2M285.3 170.85h3.2M291.3 170.85h3.2M300.3 170.85h3.2M306.3 170.85h6.2M24.0 172.35h3.2M33.0 172.35h3.2M39.0 172.35h3.2M48.0 172.35h3.2M54.0 172.35h3.2M72.0 172.35h3.2M87.1 172.35h3.2M99.1 172.35h3.2M117.1 172.35h6.2M129.1 172.35h6.2M141.1 172.35h3.2M162.1 172.35h6.2M219.2 172.35h3.2M255.2 172.35h6.2M264.2 172.35h3.2M270.3 172.35h3.2M288.3 172.35h3.2M297.3 172.35h3.2M306.3 172.35h3.2M51.0 173.84h6.2M66.0 173.84h3.2M99.1 173.84h3.2M120.1 173.84h3.2M138.1 173.84h6.2M159.1 173.84h3.2M183.2 173.84h9.2M195.2 173.84h3.2M210.2 173.84h9.2M225.2 173.84h3.2M255.2 173.84h6.2M270.3 173.84h3.2M294.3 173.84h3.2M315.3 173.84h3.2M24.0 175.34h3.2M33.0 175.34h6.2M42.0 175.34h3.2M54.0 175.34h3.2M63.0 175.34h3.2M96.1 175.34h3.2M117.1 175.34h3.2M132.1 175.34h3.2M138.1 175.34h9.2M159.1 175.34h3.2M201.2 175.34h3.2M294.3 175.34h3.2M312.3 175.34h3.2M45.0 176.83h3.2M81.1 176.83h3.2M132.1 176.83h3.2M138.1 176.83h3.2M150.1 176.83h6.2M165.1 176.83h3.2M177.2 176.83h3.2M192.2 176.83h3.2M264.2 176.83h6.2M273.3 176.83h3.2M306.3 176.83h3.2M27.0 178.32h3.2M96.1 178.32h12.2M207.2 178.32h3.2M216.2 178.32h3.2M264.2 178.32h3.2M273.3 178.32h3.2M285.3 178.32h9.2M309.3 178.32h3.2M57.0 179.82h3.2M63.0 179.82h3.2M90.1 179.82h6.2M105.1 179.82h3.2M114.1 179.82h3.2M126.1 179.82h3.2M135.1 179.82h3.2M144.1 179.82h3.2M192.2 179.82h3.2M219.2 179.82h3.2M261.2 179.82h3.2M285.3 179.82h3.2M33.0 181.31h3.2M51.0 181.31h3.2M69.0 181.31h6.2M81.1 181.31h3.2M93.1 181.31h3.2M99.1 181.31h3.2M126.1 181.31h3.2M138.1 181.31h3.2M144.1 181.31h3.2M153.1 181.31h3.2M198.2 181.31h3.2M210.2 181.31h3.2M222.2 181.31h3.2M228.2 181.31h9.2M258.2 181.31h3.2M282.3 181.31h6.2M312.3 181.31h6.2M51.0 182.81h3.2M159.1 182.81h6.2M168.1 182.81h3.2M270.3 182.81h3.2M291.3 182.81h3.2M24.0 184.30h3.2M45.0 184.30h3.2M120.1 184.30h3.2M150.1 184.30h3.2M159.1 184.30h6.2M174.2 184.30h3.2M180.2 184.30h3.2M195.2 184.30h3.2M210.2 184.30h3.2M219.2 184.30h3.2M255.2 184.30h3.2M264.2 184.30h3.2M270.3 184.30h6.2M294.3 184.30h3.2M24.0 185.79h3.2M33.0 185.79h3.2M45.0 185.79h3.2M117.1 185.79h3.2M168.1 185.79h6.2M213.2 185.79h3.2M222.2 185.79h3.2M258.2 185.79h6.2M267.2 185.79h9.2M279.3 185.79h6.2M291.3 185.79h3.2M312.3 185.79h6.2M75.1 187.29h3.2M81.1 187.29h3.2M147.1 187.29h9.2M162.1 187.29h3.2M192.2 187.29h3.2M198.2 187.29h3.2M222.2 187.29h3.2M285.3 187.29h3.2M294.3 187.29h3.2M303.3 187.29h3.2M312.3 187.29h3.2M36.0 188.78h3.2M24.0 190.28h3.2M39.0 190.28h3.2M33.0 191.77h3.2M30.0 193.26h6.2M45.0 193.26h3.2M24.0 194.76h3.2M27.0 196.25h9.2M39.0 196.25h3.2M24.0 197.75h3.2M42.0 197.75h3.2M48.0 197.75h3.2M30.0 199.24h9.2M42.0 199.24h3.2M54.0 199.24h3.2M69.0 199.24h3.2M78.1 199.24h6.2M105.1 199.24h3.2M24.0 200.73h3.2M33.0 200.73h9.2M69.0 200.73h3.2M81.1 200.73h6.2M99.1 200.73h6.2M27.0 202.23h3.2M78.1 202.23h3.2M84.1 202.23h3.2M96.1 202.23h3.2M120.1 202.23h6.2M42.0 203.72h3.2M60.0 203.72h3.2M75.1 203.72h9.2M87.1 203.72h3.2M120.1 203.72h6.2M24.0 205.22h3.2M45.0 205.22h3.2M60.0 205.22h3.2M75.1 205.22h3.2M81.1 205.22h3.2M96.1 205.22h3.2M108.1 205.22h3.2M156.1 212.69h3.2M168.1 212.69h3.2M183.2 212.69h3.2M150.1 215.67h3.2M159.1 215.67h3.2M165.1 215.67h3.2M171.2 215.67h6.2M168.1 217.17h3.2M174.2 217.17h3.2M84.1 218.66h3.2M156.1 218.66h6.2M171.2 218.66h9.2M150.1 220.16h3.2M174.2 220.16h9.2M168.1 221.65h6.2M183.2 221.65h3.2M240.2 226.13h3.2M171.2 230.61h3.2M111.1 233.60h6.2M264.2 236.59h3.2M33.0 238.08h3.2M207.2 238.08h3.2M213.2 238.08h3.2M222.2 238.08h3.2M231.2 239.58h3.2M168.1 241.07h3.2M210.2 241.07h3.2M219.2 241.07h3.2M57.0 242.57h6.2M210.2 242.57h3.2M216.2 242.57h3.2M222.2 242.57h3.2M213.2 244.06h3.2M222.2 244.06h3.2M207.2 245.56h6.2M222.2 245.56h3.2M210.2 247.05h3.2M291.3 250.04h3.2M132.1 256.01h3.2M267.2 256.01h3.2M291.3 256.01h3.2M141.1 257.51h3.2M261.2 259.00h3.2M267.2 259.00h6.2M288.3 259.00h3.2M294.3 259.00h3.2M255.2 260.50h3.2M267.2 260.50h9.2M252.2 261.99h3.2M264.2 261.99h3.2M294.3 261.99h3.2M225.2 263.48h3.2M258.2 263.48h3.2M264.2 263.48h3.2M273.3 263.48h3.2M126.1 264.98h3.2M222.2 264.98h3.2M264.2 264.98h9.2M276.3 264.98h3.2M231.2 266.47h3.2M237.2 266.47h3.2M255.2 266.47h3.2M279.3 266.47h3.2M66.0 267.97h6.2M258.2 267.97h3.2M264.2 267.97h6.2M126.1 269.46h3.2M255.2 269.46h3.2M267.2 269.46h3.2M279.3 269.46h3.2M291.3 269.46h3.2M120.1 270.95h3.2M267.2 270.95h9.2"/><path stroke="#fff4af" d="M66.0 48.35h3.2M81.1 48.35h3.2M120.1 48.35h6.2M132.1 48.35h3.2M192.2 48.35h3.2M228.2 48.35h6.2M273.3 48.35h9.2M306.3 48.35h3.2M39.0 60.30h3.2M48.0 60.30h3.2M60.0 60.30h9.2M72.0 60.30h3.2M81.1 60.30h3.2M87.1 60.30h6.2M96.1 60.30h9.2M108.1 60.30h3.2M114.1 60.30h6.2M138.1 60.30h3.2M147.1 60.30h3.2M213.2 60.30h3.2M222.2 60.30h3.2M237.2 60.30h3.2M270.3 60.30h3.2M285.3 60.30h15.2M309.3 60.30h3.2M30.0 61.79h3.2M45.0 61.79h3.2M66.0 61.79h3.2M90.1 61.79h9.2M111.1 61.79h3.2M117.1 61.79h3.2M216.2 61.79h3.2M225.2 61.79h3.2M231.2 61.79h6.2M276.3 61.79h6.2M288.3 61.79h3.2M294.3 61.79h3.2M300.3 61.79h3.2M306.3 61.79h6.2M27.0 63.29h3.2M57.0 63.29h3.2M66.0 63.29h12.2M87.1 63.29h3.2M93.1 63.29h3.2M108.1 63.29h3.2M117.1 63.29h6.2M213.2 63.29h3.2M225.2 63.29h6.2M255.2 63.29h3.2M261.2 63.29h3.2M285.3 63.29h3.2M300.3 63.29h3.2M42.0 64.78h6.2M105.1 64.78h9.2M126.1 64.78h9.2M144.1 64.78h6.2M153.1 64.78h3.2M162.1 64.78h3.2M192.2 64.78h3.2M204.2 64.78h6.2M219.2 64.78h3.2M231.2 64.78h6.2M297.3 64.78h6.2M24.0 66.28h3.2M30.0 66.28h6.2M39.0 66.28h3.2M87.1 66.28h3.2M120.1 66.28h6.2M153.1 66.28h3.2M162.1 66.28h3.2M204.2 66.28h3.2M219.2 66.28h9.2M234.2 66.28h9.2M249.2 66.28h6.2M258.2 66.28h3.2M267.2 66.28h3.2M273.3 66.28h3.2M288.3 66.28h6.2M303.3 66.28h3.2M312.3 66.28h3.2M24.0 67.77h6.2M33.0 67.77h3.2M51.0 67.77h3.2M102.1 67.77h3.2M111.1 67.77h3.2M117.1 67.77h3.2M129.1 67.77h6.2M144.1 67.77h3.2M171.2 67.77h6.2M213.2 67.77h6.2M255.2 67.77h3.2M273.3 67.77h3.2M291.3 67.77h6.2M312.3 67.77h3.2M69.0 69.26h6.2M90.1 69.26h3.2M105.1 69.26h6.2M129.1 69.26h3.2M144.1 69.26h3.2M159.1 69.26h3.2M234.2 69.26h3.2M243.2 69.26h3.2M252.2 69.26h3.2M261.2 69.26h15.2M303.3 69.26h3.2M312.3 69.26h3.2M24.0 70.76h3.2M36.0 70.76h3.2M45.0 70.76h6.2M72.0 70.76h3.2M81.1 70.76h3.2M93.1 70.76h3.2M126.1 70.76h3.2M141.1 70.76h3.2M195.2 70.76h3.2M243.2 70.76h6.2M312.3 70.76h6.2M27.0 72.25h3.2M33.0 72.25h12.2M51.0 72.25h6.2M81.1 72.25h3.2M87.1 72.25h3.2M93.1 72.25h6.2M117.1 72.25h3.2M123.1 72.25h6.2M171.2 72.25h3.2M177.2 72.25h3.2M213.2 72.25h3.2M237.2 72.25h3.2M243.2 72.25h3.2M48.0 73.75h3.2M138.1 73.75h3.2M180.2 73.75h3.2M198.2 73.75h9.2M213.2 73.75h6.2M231.2 73.75h3.2M240.2 73.75h3.2M276.3 73.75h3.2M303.3 73.75h3.2M309.3 73.75h3.2M57.0 75.24h12.2M93.1 75.24h3.2M120.1 75.24h3.2M126.1 75.24h3.2M138.1 75.24h3.2M165.1 75.24h3.2M183.2 75.24h3.2M198.2 75.24h3.2M237.2 75.24h6.2M258.2 75.24h3.2M264.2 75.24h3.2M273.3 75.24h3.2M285.3 75.24h3.2M312.3 75.24h3.2M57.0 76.73h3.2M171.2 76.73h6.2M192.2 76.73h3.2M216.2 76.73h12.2M234.2 76.73h6.2M243.2 76.73h3.2M252.2 76.73h6.2M261.2 76.73h6.2M270.3 76.73h3.2M291.3 76.73h3.2M306.3 76.73h3.2M312.3 76.73h6.2M78.1 78.23h6.2M150.1 78.23h3.2M177.2 78.23h3.2M219.2 78.23h3.2M237.2 78.23h6.2M249.2 78.23h3.2M276.3 78.23h3.2M282.3 78.23h3.2M303.3 78.23h6.2M33.0 79.72h3.2M78.1 79.72h3.2M90.1 79.72h3.2M123.1 79.72h3.2M153.1 79.72h6.2M171.2 79.72h3.2M183.2 79.72h3.2M210.2 79.72h3.2M228.2 79.72h9.2M240.2 79.72h9.2M255.2 79.72h3.2M264.2 79.72h3.2M300.3 79.72h3.2M30.0 81.22h6.2M54.0 81.22h3.2M78.1 81.22h3.2M117.1 81.22h6.2M150.1 81.22h3.2M180.2 81.22h3.2M186.2 81.22h3.2M225.2 81.22h3.2M237.2 81.22h9.2M249.2 81.22h3.2M294.3 81.22h3.2M300.3 81.22h3.2M306.3 81.22h3.2M42.0 82.71h3.2M48.0 82.71h3.2M57.0 82.71h6.2M72.0 82.71h3.2M87.1 82.71h3.2M117.1 82.71h3.2M135.1 82.71h6.2M159.1 82.71h9.2M192.2 82.71h3.2M207.2 82.71h3.2M231.2 82.71h3.2M246.2 82.71h3.2M258.2 82.71h6.2M267.2 82.71h6.2M300.3 82.71h6.2M42.0 84.20h3.2M72.0 84.20h9.2M111.1 84.20h6.2M153.1 84.20h3.2M159.1 84.20h3.2M183.2 84.20h3.2M198.2 84.20h3.2M267.2 84.20h3.2M273.3 84.20h3.2M303.3 84.20h6.2M48.0 85.70h3.2M54.0 85.70h3.2M117.1 85.70h6.2M159.1 85.70h3.2M174.2 85.70h6.2M186.2 85.70h3.2M192.2 85.70h3.2M210.2 85.70h6.2M249.2 85.70h3.2M255.2 85.70h3.2M177.2 87.19h3.2M186.2 87.19h3.2M192.2 87.19h3.2M198.2 87.19h3.2M204.2 87.19h3.2M210.2 87.19h3.2M222.2 87.19h3.2M237.2 87.19h12.2M258.2 87.19h3.2M273.3 87.19h3.2M213.2 96.16h3.2M216.2 97.65h3.2M216.2 99.14h3.2M204.2 100.64h6.2M207.2 102.13h9.2M222.2 103.62h3.2M216.2 105.12h3.2M204.2 106.61h6.2M213.2 106.61h3.2M210.2 108.11h3.2M219.2 108.11h3.2M204.2 109.60h3.2M216.2 109.60h3.2M204.2 111.09h3.2M210.2 111.09h3.2M216.2 111.09h3.2M222.2 111.09h3.2M90.1 152.93h3.2M99.1 152.93h3.2M105.1 152.93h3.2M126.1 152.93h3.2M297.3 152.93h3.2M72.0 154.42h3.2M81.1 154.42h3.2M63.0 155.91h12.2M102.1 155.91h3.2M135.1 155.91h3.2M51.0 157.41h9.2M72.0 157.41h3.2M117.1 157.41h3.2M123.1 157.41h3.2M183.2 157.41h3.2M51.0 158.90h3.2M33.0 160.40h3.2M45.0 160.40h3.2M51.0 160.40h3.2M66.0 160.40h3.2M84.1 160.40h3.2M114.1 160.40h6.2M126.1 160.40h3.2M294.3 160.40h3.2M63.0 161.89h3.2M72.0 161.89h6.2M90.1 161.89h6.2M102.1 161.89h3.2M108.1 161.89h3.2M117.1 161.89h3.2M123.1 161.89h6.2M150.1 161.89h3.2M174.2 161.89h3.2M201.2 161.89h3.2M273.3 161.89h3.2M39.0 163.38h3.2M54.0 163.38h3.2M63.0 163.38h3.2M69.0 163.38h3.2M78.1 163.38h6.2M93.1 163.38h3.2M99.1 163.38h3.2M120.1 163.38h6.2M171.2 163.38h3.2M177.2 163.38h6.2M204.2 163.38h3.2M210.2 163.38h6.2M222.2 163.38h3.2M267.2 163.38h3.2M276.3 163.38h3.2M288.3 163.38h6.2M297.3 163.38h6.2M306.3 163.38h6.2M27.0 164.88h3.2M60.0 164.88h3.2M81.1 164.88h3.2M90.1 164.88h9.2M105.1 164.88h3.2M114.1 164.88h3.2M120.1 164.88h3.2M141.1 164.88h3.2M162.1 164.88h3.2M177.2 164.88h3.2M183.2 164.88h3.2M204.2 164.88h3.2M222.2 164.88h3.2M255.2 164.88h3.2M264.2 164.88h3.2M270.3 164.88h3.2M123.1 166.37h6.2M162.1 166.37h3.2M171.2 166.37h3.2M177.2 166.37h3.2M213.2 166.37h3.2M219.2 166.37h6.2M273.3 166.37h3.2M279.3 166.37h3.2M138.1 167.87h3.2M162.1 167.87h3.2M171.2 167.87h3.2M183.2 167.87h3.2M216.2 167.87h3.2M222.2 167.87h3.2M276.3 167.87h3.2M204.2 169.36h6.2M216.2 169.36h3.2M42.0 170.85h3.2M66.0 170.85h9.2M78.1 170.85h3.2M99.1 170.85h3.2M156.1 170.85h9.2M168.1 170.85h3.2M174.2 170.85h3.2M195.2 170.85h3.2M201.2 170.85h3.2M219.2 170.85h3.2M270.3 170.85h3.2M288.3 170.85h3.2M294.3 170.85h6.2M303.3 170.85h3.2M315.3 170.85h3.2M51.0 172.35h3.2M84.1 172.35h3.2M102.1 172.35h3.2M135.1 172.35h6.2M171.2 172.35h9.2M186.2 172.35h3.2M198.2 172.35h3.2M213.2 172.35h6.2M285.3 172.35h3.2M309.3 172.35h3.2M45.0 173.84h3.2M117.1 173.84h3.2M132.1 173.84h6.2M162.1 173.84h3.2M168.1 173.84h6.2M198.2 173.84h3.2M207.2 173.84h3.2M273.3 173.84h3.2M27.0 175.34h6.2M51.0 175.34h3.2M69.0 175.34h3.2M102.1 175.34h3.2M108.1 175.34h3.2M156.1 175.34h3.2M198.2 175.34h3.2M210.2 175.34h3.2M219.2 175.34h3.2M258.2 175.34h3.2M270.3 175.34h3.2M279.3 175.34h3.2M297.3 175.34h3.2M78.1 176.83h3.2M96.1 176.83h3.2M102.1 176.83h6.2M135.1 176.83h3.2M180.2 176.83h3.2M195.2 176.83h6.2M204.2 176.83h3.2M213.2 176.83h3.2M219.2 176.83h3.2M294.3 176.83h3.2M300.3 176.83h6.2M93.1 178.32h3.2M138.1 178.32h3.2M192.2 178.32h9.2M210.2 178.32h6.2M249.2 178.32h3.2M294.3 178.32h3.2M303.3 178.32h3.2M51.0 179.82h6.2M123.1 179.82h3.2M195.2 179.82h6.2M210.2 179.82h3.2M222.2 179.82h3.2M255.2 179.82h6.2M276.3 179.82h3.2M282.3 179.82h3.2M294.3 179.82h3.2M24.0 181.31h3.2M36.0 181.31h6.2M48.0 181.31h3.2M66.0 181.31h3.2M75.1 181.31h6.2M102.1 181.31h6.2M117.1 181.31h6.2M141.1 181.31h3.2M150.1 181.31h3.2M171.2 181.31h6.2M207.2 181.31h3.2M213.2 181.31h3.2M255.2 181.31h3.2M267.2 181.31h3.2M33.0 182.81h3.2M39.0 182.81h3.2M48.0 182.81h3.2M195.2 182.81h3.2M210.2 182.81h3.2M255.2 182.81h3.2M285.3 182.81h3.2M297.3 182.81h3.2M315.3 182.81h3.2M30.0 184.30h6.2M42.0 184.30h3.2M156.1 184.30h3.2M198.2 184.30h3.2M222.2 184.30h3.2M258.2 184.30h3.2M27.0 185.79h6.2M42.0 185.79h3.2M147.1 185.79h3.2M195.2 185.79h3.2M255.2 185.79h3.2M264.2 185.79h3.2M285.3 185.79h3.2M294.3 185.79h6.2M303.3 185.79h3.2M24.0 187.29h3.2M33.0 187.29h6.2M45.0 187.29h3.2M78.1 187.29h3.2M84.1 187.29h3.2M180.2 187.29h3.2M213.2 187.29h6.2M258.2 187.29h3.2M267.2 187.29h3.2M282.3 187.29h3.2M291.3 187.29h3.2M33.0 188.78h3.2M30.0 190.28h3.2M24.0 191.77h6.2M36.0 191.77h3.2M24.0 193.26h6.2M27.0 194.76h3.2M33.0 194.76h12.2M48.0 194.76h3.2M24.0 196.25h3.2M45.0 197.75h3.2M27.0 199.24h3.2M45.0 199.24h6.2M66.0 199.24h3.2M99.1 199.24h6.2M108.1 199.24h6.2M120.1 199.24h3.2M30.0 200.73h3.2M66.0 200.73h3.2M87.1 200.73h3.2M93.1 200.73h6.2M114.1 200.73h3.2M24.0 202.23h3.2M39.0 202.23h6.2M60.0 202.23h6.2M75.1 202.23h3.2M87.1 202.23h3.2M108.1 202.23h3.2M117.1 202.23h3.2M30.0 203.72h3.2M45.0 203.72h3.2M54.0 203.72h6.2M63.0 203.72h3.2M72.0 203.72h3.2M84.1 203.72h3.2M93.1 203.72h3.2M105.1 203.72h6.2M126.1 203.72h3.2M36.0 205.22h6.2M48.0 205.22h3.2M57.0 205.22h3.2M69.0 205.22h3.2M84.1 205.22h6.2M102.1 205.22h3.2M114.1 205.22h3.2M120.1 205.22h9.2M180.2 212.69h3.2M162.1 214.18h3.2M168.1 214.18h3.2M162.1 215.67h3.2M150.1 217.17h9.2M171.2 217.17h3.2M162.1 218.66h3.2M180.2 218.66h6.2M153.1 220.16h3.2M162.1 220.16h3.2M171.2 220.16h3.2M183.2 220.16h3.2M150.1 221.65h3.2M156.1 221.65h3.2M204.2 238.08h3.2M159.1 239.58h3.2M219.2 239.58h3.2M207.2 241.07h3.2M207.2 242.57h3.2M213.2 242.57h3.2M216.2 247.05h3.2M273.3 254.52h3.2M270.3 256.01h6.2M276.3 259.00h6.2M291.3 259.00h3.2M258.2 260.50h3.2M264.2 260.50h3.2M276.3 260.50h6.2M273.3 261.99h3.2M279.3 261.99h6.2M222.2 263.48h3.2M267.2 263.48h6.2M273.3 264.98h3.2M234.2 266.47h3.2M264.2 266.47h6.2M105.1 267.97h3.2M255.2 267.97h3.2M282.3 267.97h3.2M282.3 269.46h3.2M264.2 270.95h3.2M276.3 270.95h3.2"/><path stroke="#feefa6" d="M30.0 48.35h3.2M36.0 48.35h9.2M54.0 48.35h6.2M63.0 48.35h3.2M78.1 48.35h3.2M111.1 48.35h6.2M153.1 48.35h3.2M204.2 48.35h3.2M210.2 48.35h3.2M258.2 48.35h3.2M282.3 48.35h3.2M303.3 48.35h3.2M294.3 52.83h3.2M42.0 60.30h3.2M69.0 60.30h3.2M84.1 60.30h3.2M105.1 60.30h3.2M111.1 60.30h3.2M120.1 60.30h3.2M126.1 60.30h3.2M234.2 60.30h3.2M243.2 60.30h3.2M258.2 60.30h3.2M279.3 60.30h6.2M300.3 60.30h3.2M312.3 60.30h3.2M33.0 61.79h3.2M75.1 61.79h3.2M108.1 61.79h3.2M138.1 61.79h3.2M144.1 61.79h3.2M213.2 61.79h3.2M240.2 61.79h6.2M255.2 61.79h9.2M273.3 61.79h3.2M282.3 61.79h6.2M303.3 61.79h3.2M24.0 63.29h3.2M36.0 63.29h3.2M48.0 63.29h3.2M84.1 63.29h3.2M90.1 63.29h3.2M96.1 63.29h6.2M129.1 63.29h6.2M237.2 63.29h6.2M249.2 63.29h6.2M264.2 63.29h3.2M273.3 63.29h6.2M297.3 63.29h3.2M303.3 63.29h3.2M309.3 63.29h3.2M315.3 63.29h3.2M57.0 64.78h3.2M63.0 64.78h6.2M114.1 64.78h12.2M138.1 64.78h6.2M156.1 64.78h6.2M165.1 64.78h9.2M213.2 64.78h6.2M237.2 64.78h12.2M276.3 64.78h21.2M312.3 64.78h3.2M45.0 66.28h3.2M135.1 66.28h6.2M156.1 66.28h3.2M168.1 66.28h12.2M189.2 66.28h9.2M210.2 66.28h3.2M228.2 66.28h3.2M255.2 66.28h3.2M264.2 66.28h3.2M282.3 66.28h6.2M294.3 66.28h3.2M30.0 67.77h3.2M36.0 67.77h3.2M48.0 67.77h3.2M66.0 67.77h3.2M81.1 67.77h3.2M99.1 67.77h3.2M108.1 67.77h3.2M120.1 67.77h6.2M135.1 67.77h3.2M150.1 67.77h3.2M156.1 67.77h9.2M177.2 67.77h3.2M189.2 67.77h3.2M204.2 67.77h3.2M210.2 67.77h3.2M243.2 67.77h6.2M252.2 67.77h3.2M258.2 67.77h6.2M270.3 67.77h3.2M276.3 67.77h6.2M300.3 67.77h3.2M309.3 67.77h3.2M315.3 67.77h3.2M87.1 69.26h3.2M123.1 69.26h3.2M141.1 69.26h3.2M171.2 69.26h6.2M180.2 69.26h6.2M192.2 69.26h3.2M237.2 69.26h3.2M249.2 69.26h3.2M255.2 69.26h6.2M294.3 69.26h6.2M315.3 69.26h3.2M105.1 70.76h3.2M138.1 70.76h3.2M303.3 70.76h3.2M24.0 72.25h3.2M69.0 72.25h3.2M75.1 72.25h3.2M84.1 72.25h3.2M144.1 72.25h3.2M210.2 72.25h3.2M273.3 72.25h3.2M45.0 73.75h3.2M90.1 73.75h3.2M228.2 73.75h3.2M252.2 73.75h3.2M306.3 73.75h3.2M42.0 75.24h6.2M78.1 75.24h3.2M99.1 75.24h6.2M141.1 75.24h9.2M168.1 75.24h3.2M201.2 75.24h3.2M288.3 75.24h3.2M309.3 75.24h3.2M60.0 76.73h3.2M78.1 76.73h3.2M99.1 76.73h3.2M120.1 76.73h3.2M177.2 76.73h3.2M186.2 76.73h3.2M195.2 76.73h3.2M228.2 76.73h6.2M249.2 76.73h3.2M267.2 76.73h3.2M273.3 76.73h3.2M282.3 76.73h3.2M294.3 76.73h12.2M309.3 76.73h3.2M75.1 78.23h3.2M84.1 78.23h9.2M111.1 78.23h3.2M117.1 78.23h6.2M153.1 78.23h6.2M168.1 78.23h3.2M201.2 78.23h3.2M228.2 78.23h9.2M243.2 78.23h6.2M270.3 78.23h3.2M279.3 78.23h3.2M309.3 78.23h9.2M60.0 79.72h3.2M81.1 79.72h3.2M87.1 79.72h3.2M108.1 79.72h3.2M120.1 79.72h3.2M126.1 79.72h3.2M138.1 79.72h3.2M150.1 79.72h3.2M159.1 79.72h3.2M165.1 79.72h3.2M180.2 79.72h3.2M195.2 79.72h15.2M225.2 79.72h3.2M258.2 79.72h6.2M279.3 79.72h3.2M285.3 79.72h3.2M294.3 79.72h3.2M303.3 79.72h3.2M315.3 79.72h3.2M24.0 81.22h3.2M51.0 81.22h3.2M57.0 81.22h6.2M72.0 81.22h3.2M87.1 81.22h3.2M102.1 81.22h6.2M114.1 81.22h3.2M123.1 81.22h9.2M138.1 81.22h3.2M183.2 81.22h3.2M189.2 81.22h3.2M198.2 81.22h3.2M207.2 81.22h3.2M231.2 81.22h3.2M246.2 81.22h3.2M258.2 81.22h3.2M264.2 81.22h3.2M291.3 81.22h3.2M297.3 81.22h3.2M309.3 81.22h3.2M315.3 81.22h3.2M39.0 82.71h3.2M45.0 82.71h3.2M51.0 82.71h6.2M99.1 82.71h3.2M111.1 82.71h6.2M129.1 82.71h6.2M150.1 82.71h3.2M183.2 82.71h3.2M195.2 82.71h3.2M204.2 82.71h3.2M213.2 82.71h3.2M237.2 82.71h3.2M243.2 82.71h3.2M249.2 82.71h3.2M264.2 82.71h3.2M291.3 82.71h6.2M51.0 84.20h6.2M81.1 84.20h3.2M108.1 84.20h3.2M132.1 84.20h3.2M150.1 84.20h3.2M156.1 84.20h3.2M168.1 84.20h3.2M177.2 84.20h6.2M195.2 84.20h3.2M216.2 84.20h3.2M243.2 84.20h12.2M270.3 84.20h3.2M300.3 84.20h3.2M309.3 84.20h6.2M51.0 85.70h3.2M69.0 85.70h3.2M81.1 85.70h3.2M90.1 85.70h6.2M102.1 85.70h3.2M111.1 85.70h3.2M123.1 85.70h3.2M132.1 85.70h3.2M153.1 85.70h6.2M162.1 85.70h3.2M180.2 85.70h6.2M195.2 85.70h3.2M204.2 85.70h3.2M219.2 85.70h6.2M231.2 85.70h3.2M258.2 85.70h3.2M276.3 85.70h3.2M291.3 85.70h3.2M51.0 87.19h3.2M63.0 87.19h3.2M153.1 87.19h3.2M174.2 87.19h3.2M189.2 87.19h3.2M201.2 87.19h3.2M213.2 87.19h9.2M252.2 87.19h6.2M276.3 87.19h3.2M312.3 87.19h3.2M210.2 96.16h3.2M213.2 97.65h3.2M207.2 99.14h3.2M210.2 100.64h3.2M219.2 102.13h3.2M210.2 103.62h3.2M219.2 105.12h6.2M210.2 106.61h3.2M219.2 106.61h3.2M204.2 108.11h3.2M222.2 108.11h3.2M207.2 111.09h3.2M96.1 152.93h3.2M147.1 152.93h3.2M45.0 154.42h3.2M138.1 154.42h3.2M141.1 157.41h3.2M69.0 158.90h6.2M117.1 158.90h3.2M69.0 160.40h3.2M87.1 160.40h3.2M66.0 161.89h6.2M105.1 161.89h3.2M120.1 161.89h3.2M162.1 161.89h3.2M204.2 161.89h3.2M213.2 161.89h3.2M66.0 163.38h3.2M84.1 163.38h3.2M90.1 163.38h3.2M96.1 163.38h3.2M117.1 163.38h3.2M201.2 163.38h3.2M279.3 163.38h3.2M36.0 164.88h3.2M42.0 164.88h3.2M51.0 164.88h3.2M57.0 164.88h3.2M84.1 164.88h3.2M102.1 164.88h3.2M168.1 164.88h3.2M216.2 164.88h3.2M297.3 164.88h3.2M168.1 166.37h3.2M255.2 166.37h3.2M297.3 166.37h3.2M168.1 167.87h3.2M255.2 167.87h6.2M273.3 167.87h3.2M279.3 167.87h3.2M162.1 169.36h3.2M255.2 169.36h3.2M135.1 170.85h3.2M141.1 170.85h3.2M180.2 170.85h6.2M198.2 170.85h3.2M210.2 170.85h3.2M42.0 172.35h3.2M66.0 172.35h6.2M105.1 172.35h3.2M189.2 172.35h3.2M312.3 172.35h3.2M201.2 173.84h3.2M222.2 173.84h3.2M45.0 175.34h6.2M66.0 175.34h3.2M135.1 175.34h3.2M162.1 175.34h3.2M171.2 175.34h3.2M195.2 175.34h3.2M207.2 175.34h3.2M213.2 175.34h3.2M255.2 175.34h3.2M273.3 175.34h6.2M303.3 175.34h3.2M159.1 176.83h3.2M174.2 176.83h3.2M201.2 176.83h3.2M216.2 176.83h3.2M222.2 176.83h3.2M297.3 176.83h3.2M204.2 178.32h3.2M27.0 179.82h3.2M138.1 179.82h6.2M207.2 179.82h3.2M213.2 179.82h3.2M264.2 179.82h6.2M273.3 179.82h3.2M279.3 179.82h3.2M297.3 179.82h3.2M27.0 181.31h3.2M84.1 181.31h3.2M123.1 181.31h3.2M168.1 181.31h3.2M177.2 181.31h6.2M201.2 181.31h6.2M216.2 181.31h3.2M264.2 181.31h3.2M270.3 181.31h3.2M276.3 181.31h6.2M24.0 182.81h3.2M30.0 182.81h3.2M45.0 182.81h3.2M180.2 182.81h6.2M192.2 182.81h3.2M207.2 182.81h3.2M273.3 182.81h3.2M288.3 182.81h3.2M309.3 182.81h6.2M27.0 184.30h3.2M186.2 184.30h3.2M201.2 184.30h3.2M213.2 184.30h3.2M291.3 184.30h3.2M174.2 185.79h6.2M189.2 185.79h3.2M210.2 185.79h3.2M216.2 185.79h3.2M30.0 187.29h3.2M177.2 187.29h3.2M186.2 187.29h3.2M201.2 187.29h3.2M207.2 187.29h6.2M264.2 187.29h3.2M270.3 187.29h9.2M288.3 187.29h3.2M297.3 187.29h3.2M36.0 190.28h3.2M36.0 193.26h3.2M30.0 194.76h3.2M45.0 194.76h3.2M42.0 196.25h3.2M51.0 199.24h3.2M63.0 199.24h3.2M84.1 199.24h3.2M90.1 199.24h3.2M114.1 199.24h3.2M27.0 200.73h3.2M42.0 200.73h3.2M48.0 200.73h3.2M57.0 200.73h9.2M72.0 200.73h3.2M108.1 200.73h6.2M33.0 202.23h6.2M51.0 202.23h3.2M66.0 202.23h9.2M90.1 202.23h3.2M102.1 202.23h3.2M24.0 203.72h3.2M33.0 203.72h3.2M66.0 203.72h6.2M27.0 205.22h9.2M51.0 205.22h6.2M63.0 205.22h3.2M72.0 205.22h3.2M105.1 205.22h3.2M117.1 205.22h3.2M177.2 212.69h3.2M153.1 215.67h3.2M168.1 215.67h3.2M183.2 215.67h3.2M183.2 217.17h3.2M168.1 220.16h3.2M153.1 221.65h3.2M216.2 238.08h3.2M204.2 239.58h6.2M204.2 241.07h3.2M207.2 244.06h3.2M213.2 247.05h3.2M216.2 257.51h3.2M255.2 259.00h3.2M264.2 259.00h3.2M273.3 259.00h3.2M282.3 259.00h3.2M267.2 261.99h3.2M282.3 266.47h3.2M279.3 270.95h3.2"/><path stroke="#fee99e" d="M27.0 48.35h3.2M33.0 48.35h3.2M48.0 48.35h3.2M60.0 48.35h3.2M72.0 48.35h6.2M90.1 48.35h3.2M96.1 48.35h3.2M108.1 48.35h3.2M117.1 48.35h3.2M147.1 48.35h3.2M189.2 48.35h3.2M216.2 48.35h3.2M237.2 48.35h6.2M249.2 48.35h3.2M264.2 48.35h3.2M300.3 48.35h3.2M309.3 48.35h3.2M210.2 52.83h3.2M249.2 52.83h3.2M297.3 52.83h3.2M105.1 54.32h3.2M219.2 54.32h3.2M45.0 60.30h3.2M123.1 60.30h3.2M159.1 60.30h3.2M204.2 60.30h3.2M225.2 60.30h3.2M231.2 60.30h3.2M246.2 60.30h3.2M261.2 60.30h3.2M306.3 60.30h3.2M141.1 61.79h3.2M204.2 61.79h9.2M237.2 61.79h3.2M249.2 61.79h6.2M312.3 61.79h3.2M60.0 63.29h6.2M138.1 63.29h6.2M243.2 63.29h3.2M279.3 63.29h6.2M288.3 63.29h6.2M306.3 63.29h3.2M60.0 64.78h3.2M69.0 64.78h3.2M75.1 64.78h3.2M84.1 64.78h3.2M90.1 64.78h3.2M150.1 64.78h3.2M174.2 64.78h3.2M189.2 64.78h3.2M195.2 64.78h3.2M210.2 64.78h3.2M222.2 64.78h3.2M228.2 64.78h3.2M249.2 64.78h6.2M270.3 64.78h6.2M90.1 66.28h3.2M159.1 66.28h3.2M180.2 66.28h3.2M186.2 66.28h3.2M198.2 66.28h3.2M213.2 66.28h6.2M231.2 66.28h3.2M246.2 66.28h3.2M276.3 66.28h3.2M39.0 67.77h3.2M84.1 67.77h3.2M126.1 67.77h3.2M138.1 67.77h6.2M153.1 67.77h3.2M165.1 67.77h3.2M183.2 67.77h3.2M207.2 67.77h3.2M222.2 67.77h3.2M228.2 67.77h3.2M240.2 67.77h3.2M249.2 67.77h3.2M282.3 67.77h3.2M288.3 67.77h3.2M306.3 67.77h3.2M126.1 69.26h3.2M138.1 69.26h3.2M162.1 69.26h9.2M177.2 69.26h3.2M213.2 69.26h6.2M246.2 69.26h3.2M276.3 69.26h6.2M291.3 69.26h3.2M300.3 69.26h3.2M108.1 70.76h3.2M141.1 72.25h3.2M174.2 72.25h3.2M30.0 73.75h3.2M60.0 73.75h9.2M87.1 73.75h3.2M93.1 73.75h3.2M105.1 73.75h3.2M114.1 73.75h3.2M126.1 73.75h3.2M132.1 73.75h3.2M141.1 73.75h3.2M24.0 75.24h9.2M36.0 75.24h6.2M48.0 75.24h3.2M54.0 75.24h3.2M69.0 75.24h3.2M75.1 75.24h3.2M81.1 75.24h3.2M96.1 75.24h3.2M105.1 75.24h9.2M129.1 75.24h3.2M63.0 76.73h3.2M69.0 76.73h3.2M84.1 76.73h3.2M123.1 76.73h6.2M138.1 76.73h3.2M183.2 76.73h3.2M189.2 76.73h3.2M198.2 76.73h6.2M246.2 76.73h3.2M288.3 76.73h3.2M42.0 78.23h6.2M57.0 78.23h3.2M93.1 78.23h3.2M114.1 78.23h3.2M159.1 78.23h3.2M192.2 78.23h3.2M198.2 78.23h3.2M252.2 78.23h9.2M273.3 78.23h3.2M285.3 78.23h9.2M300.3 78.23h3.2M36.0 79.72h3.2M63.0 79.72h3.2M84.1 79.72h3.2M99.1 79.72h3.2M111.1 79.72h9.2M162.1 79.72h3.2M168.1 79.72h3.2M177.2 79.72h3.2M270.3 79.72h3.2M276.3 79.72h3.2M288.3 79.72h3.2M312.3 79.72h3.2M27.0 81.22h3.2M36.0 81.22h6.2M81.1 81.22h6.2M99.1 81.22h3.2M108.1 81.22h6.2M192.2 81.22h6.2M228.2 81.22h3.2M234.2 81.22h3.2M252.2 81.22h3.2M267.2 81.22h15.2M285.3 81.22h6.2M312.3 81.22h3.2M24.0 82.71h3.2M66.0 82.71h6.2M78.1 82.71h3.2M102.1 82.71h3.2M108.1 82.71h3.2M120.1 82.71h3.2M153.1 82.71h6.2M168.1 82.71h3.2M180.2 82.71h3.2M198.2 82.71h3.2M216.2 82.71h3.2M273.3 82.71h3.2M285.3 82.71h3.2M297.3 82.71h3.2M306.3 82.71h6.2M24.0 84.20h3.2M36.0 84.20h6.2M45.0 84.20h6.2M57.0 84.20h3.2M66.0 84.20h6.2M84.1 84.20h6.2M99.1 84.20h6.2M117.1 84.20h3.2M129.1 84.20h3.2M135.1 84.20h3.2M189.2 84.20h6.2M201.2 84.20h6.2M231.2 84.20h3.2M255.2 84.20h3.2M276.3 84.20h3.2M291.3 84.20h9.2M315.3 84.20h3.2M45.0 85.70h3.2M57.0 85.70h3.2M66.0 85.70h3.2M72.0 85.70h9.2M96.1 85.70h6.2M105.1 85.70h6.2M114.1 85.70h3.2M129.1 85.70h3.2M135.1 85.70h12.2M171.2 85.70h3.2M189.2 85.70h3.2M198.2 85.70h6.2M216.2 85.70h3.2M228.2 85.70h3.2M243.2 85.70h6.2M270.3 85.70h6.2M294.3 85.70h21.2M54.0 87.19h3.2M123.1 87.19h3.2M132.1 87.19h3.2M165.1 87.19h9.2M195.2 87.19h3.2M225.2 87.19h9.2M264.2 87.19h3.2M270.3 87.19h3.2M288.3 87.19h3.2M300.3 87.19h12.2M219.2 97.65h3.2M204.2 99.14h3.2M210.2 99.14h6.2M219.2 99.14h6.2M219.2 100.64h6.2M222.2 102.13h3.2M204.2 103.62h6.2M297.3 160.40h3.2M216.2 161.89h3.2M42.0 163.38h3.2M48.0 163.38h3.2M105.1 163.38h3.2M303.3 163.38h3.2M48.0 164.88h3.2M117.1 164.88h3.2M204.2 166.37h3.2M216.2 166.37h3.2M159.1 169.36h3.2M222.2 169.36h3.2M177.2 170.85h3.2M213.2 170.85h6.2M222.2 170.85h3.2M168.1 172.35h3.2M201.2 172.35h3.2M222.2 172.35h3.2M315.3 172.35h3.2M105.1 175.34h3.2M168.1 175.34h3.2M174.2 175.34h9.2M186.2 175.34h9.2M204.2 175.34h3.2M216.2 175.34h3.2M264.2 175.34h6.2M156.1 176.83h3.2M162.1 176.83h3.2M186.2 176.83h6.2M150.1 178.32h6.2M201.2 178.32h3.2M297.3 178.32h3.2M306.3 178.32h3.2M204.2 179.82h3.2M216.2 179.82h3.2M270.3 179.82h3.2M42.0 181.31h6.2M54.0 181.31h6.2M87.1 181.31h6.2M156.1 181.31h6.2M192.2 181.31h3.2M273.3 181.31h3.2M27.0 182.81h3.2M42.0 182.81h3.2M186.2 182.81h6.2M204.2 182.81h3.2M183.2 184.30h3.2M189.2 184.30h3.2M204.2 184.30h6.2M216.2 184.30h3.2M180.2 185.79h3.2M186.2 185.79h3.2M198.2 185.79h6.2M27.0 187.29h3.2M168.1 187.29h9.2M189.2 187.29h3.2M255.2 187.29h3.2M315.3 187.29h3.2M27.0 190.28h3.2M33.0 190.28h3.2M39.0 193.26h6.2M45.0 196.25h6.2M51.0 197.75h3.2M96.1 199.24h3.2M117.1 199.24h3.2M51.0 200.73h6.2M75.1 200.73h6.2M105.1 200.73h3.2M45.0 202.23h6.2M54.0 202.23h6.2M27.0 203.72h3.2M90.1 203.72h3.2M90.1 205.22h3.2M210.2 239.58h6.2M213.2 241.07h3.2M204.2 242.57h3.2M213.2 245.56h3.2M258.2 259.00h3.2M270.3 261.99h3.2M264.2 269.46h3.2"/><path stroke="#fee395" d="M51.0 48.35h3.2M87.1 48.35h3.2M141.1 48.35h6.2M150.1 48.35h3.2M171.2 48.35h3.2M180.2 48.35h3.2M186.2 48.35h3.2M195.2 48.35h3.2M234.2 48.35h3.2M252.2 48.35h6.2M270.3 48.35h3.2M294.3 48.35h6.2M132.1 49.84h6.2M144.1 49.84h3.2M219.2 49.84h3.2M237.2 49.84h3.2M285.3 49.84h3.2M48.0 52.83h3.2M69.0 52.83h6.2M108.1 52.83h6.2M120.1 52.83h3.2M204.2 52.83h6.2M219.2 52.83h3.2M234.2 52.83h6.2M291.3 52.83h3.2M87.1 54.32h3.2M108.1 54.32h6.2M120.1 54.32h3.2M207.2 54.32h6.2M222.2 54.32h3.2M234.2 54.32h6.2M225.2 55.82h3.2M237.2 57.31h6.2M225.2 58.80h3.2M237.2 58.80h3.2M156.1 60.30h3.2M210.2 60.30h3.2M216.2 60.30h6.2M255.2 60.30h3.2M264.2 60.30h6.2M303.3 60.30h3.2M315.3 60.30h3.2M150.1 61.79h9.2M228.2 61.79h3.2M246.2 61.79h3.2M264.2 61.79h9.2M315.3 61.79h3.2M39.0 63.29h9.2M246.2 63.29h3.2M267.2 63.29h6.2M294.3 63.29h3.2M72.0 64.78h3.2M87.1 64.78h3.2M177.2 64.78h6.2M186.2 64.78h3.2M225.2 64.78h3.2M42.0 66.28h3.2M183.2 66.28h3.2M243.2 66.28h3.2M279.3 66.28h3.2M42.0 67.77h6.2M87.1 67.77h6.2M168.1 67.77h3.2M180.2 67.77h3.2M201.2 67.77h3.2M225.2 67.77h3.2M231.2 67.77h3.2M264.2 67.77h6.2M285.3 67.77h3.2M297.3 67.77h3.2M303.3 67.77h3.2M195.2 69.26h3.2M282.3 69.26h3.2M288.3 69.26h3.2M138.1 72.25h3.2M27.0 73.75h3.2M33.0 73.75h12.2M51.0 73.75h3.2M69.0 73.75h9.2M96.1 73.75h9.2M111.1 73.75h3.2M117.1 73.75h9.2M129.1 73.75h3.2M144.1 73.75h3.2M33.0 75.24h3.2M51.0 75.24h3.2M72.0 75.24h3.2M84.1 75.24h3.2M90.1 75.24h3.2M114.1 75.24h6.2M135.1 75.24h3.2M276.3 75.24h3.2M36.0 76.73h3.2M54.0 76.73h3.2M66.0 76.73h3.2M96.1 76.73h3.2M111.1 76.73h3.2M117.1 76.73h3.2M132.1 76.73h6.2M141.1 76.73h9.2M276.3 76.73h6.2M285.3 76.73h3.2M24.0 78.23h3.2M39.0 78.23h3.2M60.0 78.23h3.2M72.0 78.23h3.2M123.1 78.23h3.2M138.1 78.23h12.2M165.1 78.23h3.2M297.3 78.23h3.2M51.0 79.72h9.2M75.1 79.72h3.2M105.1 79.72h3.2M129.1 79.72h3.2M135.1 79.72h3.2M141.1 79.72h9.2M273.3 79.72h3.2M42.0 81.22h9.2M63.0 81.22h6.2M93.1 81.22h6.2M135.1 81.22h3.2M141.1 81.22h3.2M204.2 81.22h3.2M255.2 81.22h3.2M27.0 82.71h12.2M63.0 82.71h3.2M84.1 82.71h3.2M90.1 82.71h3.2M171.2 82.71h3.2M201.2 82.71h3.2M225.2 82.71h6.2M240.2 82.71h3.2M252.2 82.71h3.2M276.3 82.71h9.2M288.3 82.71h3.2M27.0 84.20h3.2M60.0 84.20h3.2M90.1 84.20h3.2M96.1 84.20h3.2M105.1 84.20h3.2M120.1 84.20h9.2M147.1 84.20h3.2M237.2 84.20h6.2M279.3 84.20h6.2M24.0 85.70h15.2M42.0 85.70h3.2M126.1 85.70h3.2M165.1 85.70h3.2M225.2 85.70h3.2M237.2 85.70h6.2M279.3 85.70h6.2M315.3 85.70h3.2M60.0 87.19h3.2M66.0 87.19h3.2M96.1 87.19h3.2M108.1 87.19h3.2M135.1 87.19h6.2M234.2 87.19h3.2M267.2 87.19h3.2M285.3 87.19h3.2M291.3 87.19h6.2M315.3 87.19h3.2M204.2 97.65h3.2M213.2 100.64h3.2M216.2 102.13h3.2M222.2 106.61h3.2M45.0 163.38h3.2M51.0 163.38h3.2M138.1 170.85h3.2M204.2 170.85h6.2M45.0 172.35h3.2M204.2 172.35h9.2M204.2 173.84h3.2M183.2 175.34h3.2M222.2 175.34h3.2M168.1 176.83h6.2M183.2 176.83h3.2M156.1 178.32h6.2M180.2 178.32h3.2M150.1 179.82h6.2M201.2 179.82h3.2M189.2 181.31h3.2M195.2 181.31h3.2M219.2 182.81h6.2M204.2 185.79h3.2M183.2 187.29h3.2M204.2 187.29h3.2M279.3 187.29h3.2M51.0 196.25h3.2M93.1 199.24h3.2M45.0 200.73h3.2M90.1 200.73h3.2M105.1 202.23h3.2M66.0 205.22h3.2M93.1 205.22h3.2M156.1 215.67h3.2M216.2 239.58h3.2M204.2 244.06h3.2M204.2 245.56h3.2M216.2 245.56h3.2"/><path stroke="#feda8c" d="M24.0 48.35h3.2M84.1 48.35h3.2M162.1 48.35h3.2M177.2 48.35h3.2M183.2 48.35h3.2M198.2 48.35h3.2M213.2 48.35h3.2M267.2 48.35h3.2M291.3 48.35h3.2M315.3 48.35h3.2M24.0 49.84h9.2M39.0 49.84h3.2M60.0 49.84h3.2M72.0 49.84h3.2M81.1 49.84h3.2M120.1 49.84h12.2M141.1 49.84h3.2M147.1 49.84h3.2M159.1 49.84h3.2M210.2 49.84h3.2M222.2 49.84h3.2M234.2 49.84h3.2M240.2 49.84h3.2M252.2 49.84h3.2M288.3 49.84h3.2M309.3 49.84h6.2M24.0 51.34h3.2M36.0 51.34h3.2M42.0 51.34h6.2M66.0 51.34h3.2M108.1 51.34h3.2M207.2 51.34h6.2M222.2 51.34h3.2M234.2 51.34h3.2M270.3 51.34h3.2M279.3 51.34h9.2M297.3 51.34h6.2M24.0 52.83h3.2M45.0 52.83h3.2M66.0 52.83h3.2M75.1 52.83h3.2M84.1 52.83h3.2M96.1 52.83h3.2M129.1 52.83h3.2M138.1 52.83h6.2M147.1 52.83h3.2M201.2 52.83h3.2M213.2 52.83h6.2M222.2 52.83h3.2M231.2 52.83h3.2M246.2 52.83h3.2M252.2 52.83h6.2M267.2 52.83h6.2M288.3 52.83h3.2M300.3 52.83h3.2M24.0 54.32h9.2M54.0 54.32h3.2M63.0 54.32h3.2M84.1 54.32h3.2M102.1 54.32h3.2M117.1 54.32h3.2M123.1 54.32h15.2M204.2 54.32h3.2M231.2 54.32h3.2M249.2 54.32h3.2M303.3 54.32h9.2M207.2 55.82h12.2M228.2 55.82h3.2M237.2 55.82h9.2M315.3 57.31h3.2M129.1 58.80h6.2M156.1 58.80h6.2M198.2 58.80h3.2M210.2 58.80h6.2M222.2 58.80h3.2M228.2 58.80h3.2M240.2 58.80h3.2M270.3 58.80h6.2M285.3 58.80h6.2M153.1 60.30h3.2M162.1 60.30h3.2M174.2 60.30h3.2M207.2 60.30h3.2M228.2 60.30h3.2M249.2 60.30h3.2M159.1 61.79h3.2M174.2 61.79h3.2M186.2 61.79h9.2M153.1 63.29h3.2M198.2 64.78h6.2M201.2 66.28h3.2M192.2 67.77h3.2M234.2 67.77h6.2M285.3 69.26h3.2M72.0 72.25h3.2M24.0 73.75h3.2M57.0 73.75h3.2M108.1 73.75h3.2M147.1 73.75h3.2M87.1 75.24h3.2M132.1 75.24h3.2M24.0 76.73h3.2M33.0 76.73h3.2M39.0 76.73h3.2M45.0 76.73h3.2M87.1 76.73h3.2M93.1 76.73h3.2M102.1 76.73h3.2M108.1 76.73h3.2M114.1 76.73h3.2M129.1 76.73h3.2M180.2 76.73h3.2M258.2 76.73h3.2M27.0 78.23h6.2M48.0 78.23h3.2M69.0 78.23h3.2M96.1 78.23h6.2M108.1 78.23h3.2M126.1 78.23h3.2M135.1 78.23h3.2M162.1 78.23h3.2M195.2 78.23h3.2M294.3 78.23h3.2M39.0 79.72h3.2M45.0 79.72h6.2M66.0 79.72h3.2M72.0 79.72h3.2M132.1 79.72h3.2M291.3 79.72h3.2M69.0 81.22h3.2M90.1 81.22h3.2M132.1 81.22h3.2M147.1 81.22h3.2M201.2 81.22h3.2M81.1 82.71h3.2M96.1 82.71h3.2M123.1 82.71h6.2M141.1 82.71h3.2M255.2 82.71h3.2M30.0 84.20h6.2M63.0 84.20h3.2M138.1 84.20h3.2M144.1 84.20h3.2M234.2 84.20h3.2M285.3 84.20h3.2M39.0 85.70h3.2M84.1 85.70h6.2M147.1 85.70h3.2M168.1 85.70h3.2M234.2 85.70h3.2M285.3 85.70h6.2M24.0 87.19h6.2M48.0 87.19h3.2M69.0 87.19h6.2M99.1 87.19h6.2M111.1 87.19h3.2M120.1 87.19h3.2M129.1 87.19h3.2M141.1 87.19h3.2M150.1 87.19h3.2M297.3 87.19h3.2M207.2 97.65h6.2M216.2 100.64h3.2M102.1 163.38h3.2M45.0 164.88h3.2M165.1 178.32h3.2M177.2 178.32h3.2M156.1 179.82h6.2M162.1 181.31h6.2M183.2 181.31h6.2M213.2 182.81h3.2M183.2 185.79h3.2M207.2 185.79h3.2M216.2 241.07h3.2"/><path stroke="#fdca82" d="M93.1 48.35h3.2M135.1 48.35h3.2M168.1 48.35h3.2M201.2 48.35h3.2M243.2 48.35h6.2M285.3 48.35h6.2M33.0 49.84h6.2M42.0 49.84h6.2M57.0 49.84h3.2M63.0 49.84h3.2M69.0 49.84h3.2M75.1 49.84h6.2M84.1 49.84h3.2M90.1 49.84h6.2M99.1 49.84h6.2M138.1 49.84h3.2M156.1 49.84h3.2M162.1 49.84h3.2M177.2 49.84h3.2M183.2 49.84h3.2M207.2 49.84h3.2M213.2 49.84h3.2M228.2 49.84h6.2M243.2 49.84h9.2M264.2 49.84h3.2M282.3 49.84h3.2M291.3 49.84h6.2M300.3 49.84h9.2M39.0 51.34h3.2M48.0 51.34h3.2M60.0 51.34h6.2M69.0 51.34h9.2M81.1 51.34h9.2M105.1 51.34h3.2M111.1 51.34h3.2M117.1 51.34h6.2M129.1 51.34h3.2M147.1 51.34h3.2M159.1 51.34h3.2M204.2 51.34h3.2M219.2 51.34h3.2M231.2 51.34h3.2M237.2 51.34h6.2M267.2 51.34h3.2M276.3 51.34h3.2M291.3 51.34h6.2M315.3 51.34h3.2M39.0 52.83h6.2M51.0 52.83h3.2M57.0 52.83h9.2M81.1 52.83h3.2M87.1 52.83h3.2M93.1 52.83h3.2M99.1 52.83h3.2M105.1 52.83h3.2M114.1 52.83h6.2M132.1 52.83h6.2M144.1 52.83h3.2M153.1 52.83h3.2M165.1 52.83h12.2M228.2 52.83h3.2M240.2 52.83h6.2M285.3 52.83h3.2M303.3 52.83h12.2M48.0 54.32h6.2M57.0 54.32h6.2M66.0 54.32h12.2M90.1 54.32h12.2M114.1 54.32h3.2M138.1 54.32h3.2M144.1 54.32h6.2M195.2 54.32h9.2M213.2 54.32h6.2M225.2 54.32h6.2M240.2 54.32h3.2M246.2 54.32h3.2M252.2 54.32h3.2M264.2 54.32h9.2M279.3 54.32h3.2M285.3 54.32h3.2M294.3 54.32h3.2M300.3 54.32h3.2M312.3 54.32h6.2M87.1 55.82h6.2M105.1 55.82h6.2M186.2 55.82h3.2M219.2 55.82h6.2M231.2 55.82h3.2M291.3 55.82h6.2M66.0 57.31h3.2M243.2 57.31h3.2M267.2 57.31h3.2M285.3 57.31h3.2M312.3 57.31h3.2M36.0 58.80h3.2M57.0 58.80h3.2M75.1 58.80h3.2M117.1 58.80h3.2M126.1 58.80h3.2M141.1 58.80h3.2M153.1 58.80h3.2M219.2 58.80h3.2M231.2 58.80h6.2M243.2 58.80h12.2M258.2 58.80h3.2M276.3 58.80h3.2M282.3 58.80h3.2M291.3 58.80h3.2M300.3 58.80h3.2M309.3 58.80h3.2M315.3 58.80h3.2M150.1 60.30h3.2M165.1 60.30h9.2M177.2 60.30h3.2M183.2 60.30h6.2M195.2 60.30h9.2M252.2 60.30h3.2M162.1 61.79h12.2M177.2 61.79h3.2M195.2 61.79h3.2M150.1 63.29h3.2M156.1 63.29h3.2M162.1 63.29h6.2M192.2 63.29h6.2M201.2 63.29h3.2M183.2 64.78h3.2M198.2 67.77h3.2M201.2 69.26h3.2M54.0 73.75h3.2M78.1 73.75h9.2M27.0 76.73h6.2M42.0 76.73h3.2M105.1 76.73h3.2M33.0 78.23h6.2M51.0 78.23h6.2M63.0 78.23h3.2M102.1 78.23h3.2M129.1 78.23h3.2M42.0 79.72h3.2M69.0 79.72h3.2M102.1 79.72h3.2M144.1 81.22h3.2M93.1 82.71h3.2M105.1 82.71h3.2M147.1 82.71h3.2M93.1 84.20h3.2M141.1 84.20h3.2M288.3 84.20h3.2M60.0 85.70h6.2M150.1 85.70h3.2M42.0 87.19h6.2M57.0 87.19h3.2M81.1 87.19h9.2M93.1 87.19h3.2M105.1 87.19h3.2M114.1 87.19h6.2M126.1 87.19h3.2M144.1 87.19h3.2M279.3 87.19h6.2M168.1 178.32h3.2M174.2 178.32h3.2M177.2 179.82h6.2"/><path stroke="#fdbb78" d="M138.1 48.35h3.2M174.2 48.35h3.2M312.3 48.35h3.2M48.0 49.84h6.2M66.0 49.84h3.2M87.1 49.84h3.2M96.1 49.84h3.2M105.1 49.84h15.2M150.1 49.84h3.2M165.1 49.84h12.2M180.2 49.84h3.2M186.2 49.84h3.2M198.2 49.84h3.2M204.2 49.84h3.2M216.2 49.84h3.2M225.2 49.84h3.2M255.2 49.84h3.2M261.2 49.84h3.2M267.2 49.84h12.2M297.3 49.84h3.2M315.3 49.84h3.2M27.0 51.34h3.2M33.0 51.34h3.2M51.0 51.34h3.2M57.0 51.34h3.2M78.1 51.34h3.2M90.1 51.34h9.2M102.1 51.34h3.2M114.1 51.34h3.2M123.1 51.34h6.2M132.1 51.34h9.2M144.1 51.34h3.2M150.1 51.34h3.2M156.1 51.34h3.2M171.2 51.34h3.2M180.2 51.34h6.2M213.2 51.34h3.2M225.2 51.34h3.2M243.2 51.34h15.2M264.2 51.34h3.2M288.3 51.34h3.2M303.3 51.34h12.2M27.0 52.83h3.2M33.0 52.83h6.2M54.0 52.83h3.2M78.1 52.83h3.2M102.1 52.83h3.2M123.1 52.83h6.2M150.1 52.83h3.2M156.1 52.83h3.2M177.2 52.83h3.2M198.2 52.83h3.2M225.2 52.83h3.2M258.2 52.83h3.2M264.2 52.83h3.2M276.3 52.83h9.2M315.3 52.83h3.2M33.0 54.32h9.2M81.1 54.32h3.2M141.1 54.32h3.2M153.1 54.32h3.2M165.1 54.32h6.2M243.2 54.32h3.2M255.2 54.32h3.2M261.2 54.32h3.2M282.3 54.32h3.2M288.3 54.32h6.2M297.3 54.32h3.2M36.0 55.82h3.2M48.0 55.82h3.2M57.0 55.82h3.2M63.0 55.82h6.2M72.0 55.82h3.2M84.1 55.82h3.2M93.1 55.82h3.2M102.1 55.82h3.2M111.1 55.82h6.2M123.1 55.82h3.2M150.1 55.82h6.2M168.1 55.82h3.2M183.2 55.82h3.2M204.2 55.82h3.2M234.2 55.82h3.2M249.2 55.82h6.2M264.2 55.82h3.2M276.3 55.82h6.2M288.3 55.82h3.2M297.3 55.82h3.2M309.3 55.82h9.2M63.0 57.31h3.2M69.0 57.31h3.2M207.2 57.31h15.2M225.2 57.31h9.2M252.2 57.31h6.2M264.2 57.31h3.2M270.3 57.31h3.2M282.3 57.31h3.2M288.3 57.31h6.2M300.3 57.31h6.2M33.0 58.80h3.2M39.0 58.80h3.2M45.0 58.80h12.2M60.0 58.80h9.2M96.1 58.80h6.2M114.1 58.80h3.2M135.1 58.80h3.2M144.1 58.80h3.2M165.1 58.80h3.2M174.2 58.80h3.2M189.2 58.80h3.2M195.2 58.80h3.2M201.2 58.80h6.2M216.2 58.80h3.2M255.2 58.80h3.2M261.2 58.80h3.2M267.2 58.80h3.2M279.3 58.80h3.2M294.3 58.80h6.2M303.3 58.80h6.2M312.3 58.80h3.2M180.2 60.30h3.2M192.2 60.30h3.2M183.2 61.79h3.2M198.2 61.79h6.2M159.1 63.29h3.2M168.1 63.29h3.2M180.2 63.29h3.2M198.2 63.29h3.2M195.2 67.77h3.2M198.2 69.26h3.2M48.0 76.73h6.2M72.0 76.73h6.2M90.1 76.73h3.2M105.1 78.23h3.2M132.1 78.23h3.2M144.1 82.71h3.2M30.0 87.19h3.2M36.0 87.19h6.2M90.1 87.19h3.2M147.1 87.19h3.2M162.1 178.32h3.2M171.2 178.32h3.2M183.2 178.32h3.2M165.1 179.82h12.2M183.2 179.82h3.2M216.2 182.81h3.2"/><path stroke="#fdac6e" d="M165.1 48.35h3.2M54.0 49.84h3.2M153.1 49.84h3.2M258.2 49.84h3.2M279.3 49.84h3.2M30.0 51.34h3.2M54.0 51.34h3.2M99.1 51.34h3.2M141.1 51.34h3.2M153.1 51.34h3.2M165.1 51.34h6.2M174.2 51.34h6.2M186.2 51.34h6.2M216.2 51.34h3.2M228.2 51.34h3.2M258.2 51.34h6.2M273.3 51.34h3.2M30.0 52.83h3.2M90.1 52.83h3.2M159.1 52.83h3.2M180.2 52.83h3.2M261.2 52.83h3.2M273.3 52.83h3.2M42.0 54.32h6.2M78.1 54.32h3.2M150.1 54.32h3.2M156.1 54.32h6.2M177.2 54.32h9.2M192.2 54.32h3.2M258.2 54.32h3.2M273.3 54.32h6.2M24.0 55.82h3.2M33.0 55.82h3.2M45.0 55.82h3.2M60.0 55.82h3.2M69.0 55.82h3.2M75.1 55.82h3.2M99.1 55.82h3.2M120.1 55.82h3.2M126.1 55.82h3.2M135.1 55.82h6.2M147.1 55.82h3.2M156.1 55.82h6.2M165.1 55.82h3.2M171.2 55.82h6.2M189.2 55.82h6.2M246.2 55.82h3.2M255.2 55.82h3.2M261.2 55.82h3.2M267.2 55.82h6.2M282.3 55.82h6.2M306.3 55.82h3.2M42.0 57.31h6.2M60.0 57.31h3.2M72.0 57.31h6.2M129.1 57.31h3.2M144.1 57.31h3.2M165.1 57.31h9.2M186.2 57.31h6.2M204.2 57.31h3.2M222.2 57.31h3.2M234.2 57.31h3.2M246.2 57.31h6.2M258.2 57.31h6.2M273.3 57.31h9.2M294.3 57.31h6.2M309.3 57.31h3.2M24.0 58.80h9.2M42.0 58.80h3.2M69.0 58.80h6.2M78.1 58.80h9.2M111.1 58.80h3.2M120.1 58.80h3.2M138.1 58.80h3.2M150.1 58.80h3.2M162.1 58.80h3.2M177.2 58.80h3.2M186.2 58.80h3.2M192.2 58.80h3.2M207.2 58.80h3.2M189.2 60.30h3.2M180.2 61.79h3.2M171.2 63.29h3.2M183.2 63.29h3.2M189.2 63.29h3.2M66.0 78.23h3.2M33.0 87.19h3.2M75.1 87.19h6.2M186.2 178.32h6.2M162.1 179.82h3.2M186.2 179.82h3.2"/><path stroke="#fc9d63" d="M189.2 49.84h9.2M201.2 49.84h3.2M162.1 51.34h3.2M192.2 51.34h12.2M162.1 52.83h3.2M183.2 52.83h9.2M162.1 54.32h3.2M171.2 54.32h3.2M186.2 54.32h6.2M27.0 55.82h6.2M39.0 55.82h3.2M51.0 55.82h6.2M81.1 55.82h3.2M96.1 55.82h3.2M117.1 55.82h3.2M141.1 55.82h6.2M177.2 55.82h6.2M195.2 55.82h9.2M258.2 55.82h3.2M273.3 55.82h3.2M300.3 55.82h6.2M36.0 57.31h6.2M48.0 57.31h3.2M57.0 57.31h3.2M96.1 57.31h27.2M126.1 57.31h3.2M132.1 57.31h3.2M138.1 57.31h6.2M150.1 57.31h6.2M159.1 57.31h3.2M174.2 57.31h3.2M192.2 57.31h3.2M198.2 57.31h3.2M306.3 57.31h3.2M87.1 58.80h9.2M102.1 58.80h3.2M108.1 58.80h3.2M123.1 58.80h3.2M147.1 58.80h3.2M168.1 58.80h6.2M180.2 58.80h6.2M264.2 58.80h3.2M174.2 63.29h6.2M186.2 63.29h3.2M189.2 179.82h3.2"/><path stroke="#fc8e59" d="M195.2 52.83h3.2M174.2 54.32h3.2M42.0 55.82h3.2M78.1 55.82h3.2M129.1 55.82h6.2M162.1 55.82h3.2M27.0 57.31h9.2M51.0 57.31h3.2M78.1 57.31h3.2M84.1 57.31h12.2M123.1 57.31h3.2M135.1 57.31h3.2M147.1 57.31h3.2M156.1 57.31h3.2M162.1 57.31h3.2M177.2 57.31h9.2M195.2 57.31h3.2M201.2 57.31h3.2M105.1 58.80h3.2"/><path stroke="#f67d50" d="M192.2 52.83h3.2M24.0 57.31h3.2M54.0 57.31h3.2M81.1 57.31h3.2"/></g><rect x="24.0" y="44" width="46.8" height="3.6" fill="#6495ed"/><rect x="70.8" y="44" width="2.9" height="3.6" fill="#ffb000"/><rect x="73.7" y="44" width="61.8" height="3.6" fill="#6495ed"/><rect x="135.5" y="44" width="3.0" height="3.6" fill="#ffb000"/><rect x="138.5" y="44" width="12.4" height="3.6" fill="#6495ed"/><rect x="150.9" y="44" width="40.1" height="3.6" fill="#9a32cd"/><rect x="191.0" y="44" width="6.6" height="3.6" fill="#6495ed"/><rect x="197.6" y="44" width="5.6" height="3.6" fill="#9a32cd"/><rect x="203.2" y="44" width="3.4" height="3.6" fill="#ffb000"/><rect x="206.6" y="44" width="18.2" height="3.6" fill="#0000cd"/><rect x="224.8" y="44" width="3.2" height="3.6" fill="#6495ed"/><rect x="228.0" y="44" width="3.0" height="3.6" fill="#ffb000"/><rect x="231.0" y="44" width="6.7" height="3.6" fill="#6495ed"/><rect x="237.7" y="44" width="6.1" height="3.6" fill="#ffb000"/><rect x="243.8" y="44" width="2.6" height="3.6" fill="#6495ed"/><rect x="246.4" y="44" width="3.2" height="3.6" fill="#ffb000"/><rect x="249.6" y="44" width="6.6" height="3.6" fill="#6495ed"/><rect x="256.2" y="44" width="5.9" height="3.6" fill="#0000cd"/><rect x="262.1" y="44" width="2.9" height="3.6" fill="#ffb000"/><rect x="265.0" y="44" width="3.2" height="3.6" fill="#9a32cd"/><rect x="268.2" y="44" width="6.2" height="3.6" fill="#6495ed"/><rect x="274.4" y="44" width="3.3" height="3.6" fill="#9a32cd"/><rect x="277.7" y="44" width="3.1" height="3.6" fill="#6495ed"/><rect x="280.8" y="44" width="6.2" height="3.6" fill="#0000cd"/><rect x="287.0" y="44" width="5.9" height="3.6" fill="#ffb000"/><rect x="292.9" y="44" width="3.3" height="3.6" fill="#0000cd"/><rect x="296.2" y="44" width="22.1" height="3.6" fill="#ffb000"/><path d="M27.50 40.50L29.50 40.50M27.50 40.50L27.50 43.30M29.50 40.50L29.50 43.30M28.50 39.50L31.50 39.50M28.50 39.50L28.50 40.50M31.50 39.50L31.50 43.30M25.50 39.50L30.00 39.50M25.50 39.50L25.50 43.30M30.00 39.50L30.00 39.50M35.50 40.50L37.50 40.50M35.50 40.50L35.50 43.30M37.50 40.50L37.50 43.30M33.50 39.50L36.50 39.50M33.50 39.50L33.50 43.30M36.50 39.50L36.50 40.50M39.50 40.50L41.50 40.50M39.50 40.50L39.50 43.30M41.50 40.50L41.50 43.30M47.50 40.50L49.50 40.50M47.50 40.50L47.50 43.30M49.50 40.50L49.50 43.30M45.50 39.50L48.50 39.50M45.50 39.50L45.50 43.30M48.50 39.50L48.50 40.50M43.50 39.50L47.00 39.50M43.50 39.50L43.50 43.30M47.00 39.50L47.00 39.50M40.50 39.50L45.25 39.50M40.50 39.50L40.50 40.50M45.25 39.50L45.25 39.50M35.00 39.50L42.88 39.50M35.00 39.50L35.00 39.50M42.88 39.50L42.88 39.50M27.75 38.50L38.94 38.50M27.75 38.50L27.75 39.50M38.94 38.50L38.94 39.50M51.50 40.50L53.50 40.50M51.50 40.50L51.50 43.30M53.50 40.50L53.50 43.30M55.50 40.50L57.50 40.50M55.50 40.50L55.50 43.30M57.50 40.50L57.50 43.30M59.50 40.50L61.50 40.50M59.50 40.50L59.50 43.30M61.50 40.50L61.50 43.30M56.50 39.50L60.50 39.50M56.50 39.50L56.50 40.50M60.50 39.50L60.50 40.50M52.50 39.50L58.50 39.50M52.50 39.50L52.50 40.50M58.50 39.50L58.50 39.50M63.50 40.50L65.50 40.50M63.50 40.50L63.50 43.30M65.50 40.50L65.50 43.30M67.50 40.50L69.50 40.50M67.50 40.50L67.50 43.30M69.50 40.50L69.50 43.30M64.50 39.50L68.50 39.50M64.50 39.50L64.50 40.50M68.50 39.50L68.50 40.50M55.50 39.50L66.50 39.50M55.50 39.50L55.50 39.50M66.50 39.50L66.50 39.50M33.34 37.50L61.00 37.50M33.34 37.50L33.34 38.50M61.00 37.50L61.00 39.50M71.50 40.50L73.50 40.50M71.50 40.50L71.50 43.30M73.50 40.50L73.50 43.30M77.50 40.50L79.50 40.50M77.50 40.50L77.50 43.30M79.50 40.50L79.50 43.30M75.50 39.50L78.50 39.50M75.50 39.50L75.50 43.30M78.50 39.50L78.50 40.50M72.50 39.50L77.00 39.50M72.50 39.50L72.50 40.50M77.00 39.50L77.00 39.50M81.50 40.50L83.50 40.50M81.50 40.50L81.50 43.30M83.50 40.50L83.50 43.30M85.50 40.50L87.50 40.50M85.50 40.50L85.50 43.30M87.50 40.50L87.50 43.30M82.50 39.50L86.50 39.50M82.50 39.50L82.50 40.50M86.50 39.50L86.50 40.50M74.75 39.50L84.50 39.50M74.75 39.50L74.75 39.50M84.50 39.50L84.50 39.50M89.50 40.50L91.50 40.50M89.50 40.50L89.50 43.30M91.50 40.50L91.50 43.30M90.50 39.50L93.50 39.50M90.50 39.50L90.50 40.50M93.50 39.50L93.50 43.30M97.50 40.50L99.50 40.50M97.50 40.50L97.50 43.30M99.50 40.50L99.50 43.30M95.50 39.50L98.50 39.50M95.50 39.50L95.50 43.30M98.50 39.50L98.50 40.50M92.00 39.50L97.00 39.50M92.00 39.50L92.00 39.50M97.00 39.50L97.00 39.50M103.50 40.50L105.50 40.50M103.50 40.50L103.50 43.30M105.50 40.50L105.50 43.30M101.50 39.50L104.50 39.50M101.50 39.50L101.50 43.30M104.50 39.50L104.50 40.50M107.50 40.50L109.50 40.50M107.50 40.50L107.50 43.30M109.50 40.50L109.50 43.30M103.00 39.50L108.50 39.50M103.00 39.50L103.00 39.50M108.50 39.50L108.50 40.50M94.50 39.50L105.75 39.50M94.50 39.50L94.50 39.50M105.75 39.50L105.75 39.50M79.62 39.50L100.12 39.50M79.62 39.50L79.62 39.50M100.12 39.50L100.12 39.50M113.50 40.50L115.50 40.50M113.50 40.50L113.50 43.30M115.50 40.50L115.50 43.30M111.50 39.50L114.50 39.50M111.50 39.50L111.50 43.30M114.50 39.50L114.50 40.50M117.50 40.50L119.50 40.50M117.50 40.50L117.50 43.30M119.50 40.50L119.50 43.30M121.50 40.50L123.50 40.50M121.50 40.50L121.50 43.30M123.50 40.50L123.50 43.30M125.50 40.50L127.50 40.50M125.50 40.50L125.50 43.30M127.50 40.50L127.50 43.30M126.50 39.50L129.50 39.50M126.50 39.50L126.50 40.50M129.50 39.50L129.50 43.30M122.50 39.50L128.00 39.50M122.50 39.50L122.50 40.50M128.00 39.50L128.00 39.50M118.50 39.50L125.25 39.50M118.50 39.50L118.50 40.50M125.25 39.50L125.25 39.50M113.00 39.50L121.88 39.50M113.00 39.50L113.00 39.50M121.88 39.50L121.88 39.50M89.88 38.50L117.44 38.50M89.88 38.50L89.88 39.50M117.44 38.50L117.44 39.50M47.17 36.50L103.66 36.50M47.17 36.50L47.17 37.50M103.66 36.50L103.66 38.50M131.50 40.50L133.50 40.50M131.50 40.50L131.50 43.30M133.50 40.50L133.50 43.30M135.50 40.50L137.50 40.50M135.50 40.50L135.50 43.30M137.50 40.50L137.50 43.30M132.50 39.50L136.50 39.50M132.50 39.50L132.50 40.50M136.50 39.50L136.50 40.50M141.50 40.50L143.50 40.50M141.50 40.50L141.50 43.30M143.50 40.50L143.50 43.30M139.50 39.50L142.50 39.50M139.50 39.50L139.50 43.30M142.50 39.50L142.50 40.50M145.50 40.50L147.50 40.50M145.50 40.50L145.50 43.30M147.50 40.50L147.50 43.30M146.50 39.50L149.50 39.50M146.50 39.50L146.50 40.50M149.50 39.50L149.50 43.30M141.00 39.50L148.00 39.50M141.00 39.50L141.00 39.50M148.00 39.50L148.00 39.50M134.50 39.50L144.50 39.50M134.50 39.50L134.50 39.50M144.50 39.50L144.50 39.50M151.50 40.50L153.50 40.50M151.50 40.50L151.50 43.30M153.50 40.50L153.50 43.30M152.50 39.50L155.50 39.50M152.50 39.50L152.50 40.50M155.50 39.50L155.50 43.30M154.00 39.50L157.50 39.50M154.00 39.50L154.00 39.50M157.50 39.50L157.50 43.30M159.50 40.50L161.50 40.50M159.50 40.50L159.50 43.30M161.50 40.50L161.50 43.30M163.50 40.50L165.50 40.50M163.50 40.50L163.50 43.30M165.50 40.50L165.50 43.30M160.50 39.50L164.50 39.50M160.50 39.50L160.50 40.50M164.50 39.50L164.50 40.50M155.75 39.50L162.50 39.50M155.75 39.50L155.75 39.50M162.50 39.50L162.50 39.50M139.50 38.50L159.12 38.50M139.50 38.50L139.50 39.50M159.12 38.50L159.12 39.50M169.50 40.50L171.50 40.50M169.50 40.50L169.50 43.30M171.50 40.50L171.50 43.30M167.50 39.50L170.50 39.50M167.50 39.50L167.50 43.30M170.50 39.50L170.50 40.50M175.50 40.50L177.50 40.50M175.50 40.50L175.50 43.30M177.50 40.50L177.50 43.30M176.50 39.50L179.50 39.50M176.50 39.50L176.50 40.50M179.50 39.50L179.50 43.30M173.50 39.50L178.00 39.50M173.50 39.50L173.50 43.30M178.00 39.50L178.00 39.50M169.00 39.50L175.75 39.50M169.00 39.50L169.00 39.50M175.75 39.50L175.75 39.50M181.50 40.50L183.50 40.50M181.50 40.50L181.50 43.30M183.50 40.50L183.50 43.30M185.50 40.50L187.50 40.50M185.50 40.50L185.50 43.30M187.50 40.50L187.50 43.30M182.50 39.50L186.50 39.50M182.50 39.50L182.50 40.50M186.50 39.50L186.50 40.50M189.50 40.50L191.50 40.50M189.50 40.50L189.50 43.30M191.50 40.50L191.50 43.30M190.50 39.50L193.50 39.50M190.50 39.50L190.50 40.50M193.50 39.50L193.50 43.30M184.50 39.50L192.00 39.50M184.50 39.50L184.50 39.50M192.00 39.50L192.00 39.50M172.38 39.50L188.25 39.50M172.38 39.50L172.38 39.50M188.25 39.50L188.25 39.50M195.50 40.50L197.50 40.50M195.50 40.50L195.50 43.30M197.50 40.50L197.50 43.30M196.50 39.50L199.50 39.50M196.50 39.50L196.50 40.50M199.50 39.50L199.50 43.30M201.50 40.50L203.50 40.50M201.50 40.50L201.50 43.30M203.50 40.50L203.50 43.30M202.50 39.50L205.50 39.50M202.50 39.50L202.50 40.50M205.50 39.50L205.50 43.30M198.00 39.50L204.00 39.50M198.00 39.50L198.00 39.50M204.00 39.50L204.00 39.50M180.31 39.50L201.00 39.50M180.31 39.50L180.31 39.50M201.00 39.50L201.00 39.50M149.31 37.50L190.66 37.50M149.31 37.50L149.31 38.50M190.66 37.50L190.66 39.50M207.50 40.50L209.50 40.50M207.50 40.50L207.50 43.30M209.50 40.50L209.50 43.30M211.50 40.50L213.50 40.50M211.50 40.50L211.50 43.30M213.50 40.50L213.50 43.30M208.50 39.50L212.50 39.50M208.50 39.50L208.50 40.50M212.50 39.50L212.50 40.50M215.50 40.50L217.50 40.50M215.50 40.50L215.50 43.30M217.50 40.50L217.50 43.30M216.50 39.50L219.50 39.50M216.50 39.50L216.50 40.50M219.50 39.50L219.50 43.30M218.00 39.50L221.50 39.50M218.00 39.50L218.00 39.50M221.50 39.50L221.50 43.30M210.50 38.50L219.75 38.50M210.50 38.50L210.50 39.50M219.75 38.50L219.75 39.50M223.50 40.50L225.50 40.50M223.50 40.50L223.50 43.30M225.50 40.50L225.50 43.30M224.50 39.50L227.50 39.50M224.50 39.50L224.50 40.50M227.50 39.50L227.50 43.30M226.00 39.50L229.50 39.50M226.00 39.50L226.00 39.50M229.50 39.50L229.50 43.30M231.50 40.50L233.50 40.50M231.50 40.50L231.50 43.30M233.50 40.50L233.50 43.30M235.50 40.50L237.50 40.50M235.50 40.50L235.50 43.30M237.50 40.50L237.50 43.30M232.50 39.50L236.50 39.50M232.50 39.50L232.50 40.50M236.50 39.50L236.50 40.50M227.75 39.50L234.50 39.50M227.75 39.50L227.75 39.50M234.50 39.50L234.50 39.50M239.50 40.50L241.50 40.50M239.50 40.50L239.50 43.30M241.50 40.50L241.50 43.30M243.50 40.50L245.50 40.50M243.50 40.50L243.50 43.30M245.50 40.50L245.50 43.30M249.50 40.50L251.50 40.50M249.50 40.50L249.50 43.30M251.50 40.50L251.50 43.30M247.50 39.50L250.50 39.50M247.50 39.50L247.50 43.30M250.50 39.50L250.50 40.50M244.50 39.50L249.00 39.50M244.50 39.50L244.50 40.50M249.00 39.50L249.00 39.50M240.50 39.50L246.75 39.50M240.50 39.50L240.50 40.50M246.75 39.50L246.75 39.50M255.50 40.50L257.50 40.50M255.50 40.50L255.50 43.30M257.50 40.50L257.50 43.30M253.50 39.50L256.50 39.50M253.50 39.50L253.50 43.30M256.50 39.50L256.50 40.50M263.50 40.50L265.50 40.50M263.50 40.50L263.50 43.30M265.50 40.50L265.50 43.30M261.50 39.50L264.50 39.50M261.50 39.50L261.50 43.30M264.50 39.50L264.50 40.50M259.50 39.50L263.00 39.50M259.50 39.50L259.50 43.30M263.00 39.50L263.00 39.50M267.50 40.50L269.50 40.50M267.50 40.50L267.50 43.30M269.50 40.50L269.50 43.30M261.25 39.50L268.50 39.50M261.25 39.50L261.25 39.50M268.50 39.50L268.50 40.50M255.00 38.50L264.88 38.50M255.00 38.50L255.00 39.50M264.88 38.50L264.88 39.50M243.62 37.50L259.94 37.50M243.62 37.50L243.62 39.50M259.94 37.50L259.94 38.50M231.12 36.50L251.78 36.50M231.12 36.50L231.12 39.50M251.78 36.50L251.78 37.50M271.50 40.50L273.50 40.50M271.50 40.50L271.50 43.30M273.50 40.50L273.50 43.30M275.50 40.50L277.50 40.50M275.50 40.50L275.50 43.30M277.50 40.50L277.50 43.30M272.50 37.50L276.50 37.50M272.50 37.50L272.50 40.50M276.50 37.50L276.50 40.50M279.50 40.50L281.50 40.50M279.50 40.50L279.50 43.30M281.50 40.50L281.50 43.30M280.50 39.50L283.50 39.50M280.50 39.50L280.50 40.50M283.50 39.50L283.50 43.30M285.50 40.50L287.50 40.50M285.50 40.50L285.50 43.30M287.50 40.50L287.50 43.30M282.00 39.50L286.50 39.50M282.00 39.50L282.00 39.50M286.50 39.50L286.50 40.50M289.50 40.50L291.50 40.50M289.50 40.50L289.50 43.30M291.50 40.50L291.50 43.30M284.25 38.50L290.50 38.50M284.25 38.50L284.25 39.50M290.50 38.50L290.50 40.50M274.50 36.50L287.38 36.50M274.50 36.50L274.50 37.50M287.38 36.50L287.38 38.50M293.50 40.50L295.50 40.50M293.50 40.50L293.50 43.30M295.50 40.50L295.50 43.30M294.50 37.50L297.50 37.50M294.50 37.50L294.50 40.50M297.50 37.50L297.50 43.30M299.50 40.50L301.50 40.50M299.50 40.50L299.50 43.30M301.50 40.50L301.50 43.30M296.00 36.50L300.50 36.50M296.00 36.50L296.00 37.50M300.50 36.50L300.50 40.50M303.50 40.50L305.50 40.50M303.50 40.50L303.50 43.30M305.50 40.50L305.50 43.30M307.50 40.50L309.50 40.50M307.50 40.50L307.50 43.30M309.50 40.50L309.50 43.30M304.50 38.50L308.50 38.50M304.50 38.50L304.50 40.50M308.50 38.50L308.50 40.50M315.50 40.50L317.50 40.50M315.50 40.50L315.50 43.30M317.50 40.50L317.50 43.30M313.50 39.50L316.50 39.50M313.50 39.50L313.50 43.30M316.50 39.50L316.50 40.50M311.50 38.50L315.00 38.50M311.50 38.50L311.50 43.30M315.00 38.50L315.00 39.50M306.50 37.50L313.25 37.50M306.50 37.50L306.50 38.50M313.25 37.50L313.25 38.50M298.25 35.50L309.88 35.50M298.25 35.50L298.25 36.50M309.88 35.50L309.88 37.50M280.94 34.50L304.06 34.50M280.94 34.50L280.94 36.50M304.06 34.50L304.06 35.50M241.45 33.50L292.50 33.50M241.45 33.50L241.45 36.50M292.50 33.50L292.50 34.50M67.50 24.50L204.50 24.50M67.50 24.50L67.50 36.50M204.50 24.50L204.50 29.50M178.50 29.50L231.50 29.50M178.50 29.50L178.50 37.50M231.50 29.50L231.50 31.50M213.50 31.50L249.50 31.50M213.50 31.50L213.50 38.50M249.50 31.50L249.50 33.50" stroke="#3a3a3a" stroke-width="0.95" fill="none" stroke-linecap="square"/><path d="M21.95 48.35L21.95 49.84M21.95 48.35L24.00 48.35M21.95 49.84L24.00 49.84M22.38 51.34L22.38 52.83M22.38 51.34L24.00 51.34M22.38 52.83L24.00 52.83M21.88 52.08L21.88 54.32M21.88 52.08L22.38 52.08M21.88 54.32L24.00 54.32M21.61 49.09L21.61 53.20M21.61 49.09L21.95 49.09M21.61 53.20L21.88 53.20M22.28 55.82L22.28 57.31M22.28 55.82L24.00 55.82M22.28 57.31L24.00 57.31M22.65 58.80L22.65 60.30M22.65 58.80L24.00 58.80M22.65 60.30L24.00 60.30M22.02 56.56L22.02 59.55M22.02 56.56L22.28 56.56M22.02 59.55L22.65 59.55M21.40 51.15L21.40 58.06M21.40 51.15L21.61 51.15M21.40 58.06L22.02 58.06M23.28 63.29L23.28 64.78M23.28 63.29L24.00 63.29M23.28 64.78L24.00 64.78M22.84 61.79L22.84 64.03M22.84 61.79L24.00 61.79M22.84 64.03L23.28 64.03M23.06 67.77L23.06 69.26M23.06 67.77L24.00 67.77M23.06 69.26L24.00 69.26M22.76 66.28L22.76 68.52M22.76 66.28L24.00 66.28M22.76 68.52L23.06 68.52M22.36 62.91L22.36 67.40M22.36 62.91L22.84 62.91M22.36 67.40L22.76 67.40M23.07 70.76L23.07 72.25M23.07 70.76L24.00 70.76M23.07 72.25L24.00 72.25M23.30 73.75L23.30 75.24M23.30 73.75L24.00 73.75M23.30 75.24L24.00 75.24M22.82 71.50L22.82 74.49M22.82 71.50L23.07 71.50M22.82 74.49L23.30 74.49M22.66 76.73L22.66 78.23M22.66 76.73L24.00 76.73M22.66 78.23L24.00 78.23M22.40 73.00L22.40 77.48M22.40 73.00L22.82 73.00M22.40 77.48L22.66 77.48M21.73 65.15L21.73 75.24M21.73 65.15L22.36 65.15M21.73 75.24L22.40 75.24M22.75 81.22L22.75 82.71M22.75 81.22L24.00 81.22M22.75 82.71L24.00 82.71M22.44 79.72L22.44 81.96M22.44 79.72L24.00 79.72M22.44 81.96L22.75 81.96M22.79 85.70L22.79 87.19M22.79 85.70L24.00 85.70M22.79 87.19L24.00 87.19M22.28 84.20L22.28 86.44M22.28 84.20L24.00 84.20M22.28 86.44L22.79 86.44M21.77 80.84L21.77 85.32M21.77 80.84L22.44 80.84M21.77 85.32L22.28 85.32M21.20 70.20L21.20 83.08M21.20 70.20L21.73 70.20M21.20 83.08L21.77 83.08M20.40 54.60L20.40 76.64M20.40 54.60L21.40 54.60M20.40 76.64L21.20 76.64M22.50 90.18L22.50 91.67M22.50 90.18L24.00 90.18M22.50 91.67L24.00 91.67M22.15 88.69L22.15 90.93M22.15 88.69L24.00 88.69M22.15 90.93L22.50 90.93M22.96 93.17L22.96 94.66M22.96 93.17L24.00 93.17M22.96 94.66L24.00 94.66M23.30 96.16L23.30 97.65M23.30 96.16L24.00 96.16M23.30 97.65L24.00 97.65M23.30 99.14L23.30 100.64M23.30 99.14L24.00 99.14M23.30 100.64L24.00 100.64M22.96 96.90L22.96 99.89M22.96 96.90L23.30 96.90M22.96 99.89L23.30 99.89M22.39 93.91L22.39 98.40M22.39 93.91L22.96 93.91M22.39 98.40L22.96 98.40M21.70 89.81L21.70 96.16M21.70 89.81L22.15 89.81M21.70 96.16L22.39 96.16M22.31 102.13L22.31 103.62M22.31 102.13L24.00 102.13M22.31 103.62L24.00 103.62M22.02 105.12L22.02 106.61M22.02 105.12L24.00 105.12M22.02 106.61L24.00 106.61M21.64 102.88L21.64 105.87M21.64 102.88L22.31 102.88M21.64 105.87L22.02 105.87M21.20 92.98L21.20 104.37M21.20 92.98L21.70 92.98M21.20 104.37L21.64 104.37M22.75 108.11L22.75 109.60M22.75 108.11L24.00 108.11M22.75 109.60L24.00 109.60M22.91 111.09L22.91 112.59M22.91 111.09L24.00 111.09M22.91 112.59L24.00 112.59M22.44 108.85L22.44 111.84M22.44 108.85L22.75 108.85M22.44 111.84L22.91 111.84M23.15 114.08L23.15 115.58M23.15 114.08L24.00 114.08M23.15 115.58L24.00 115.58M22.63 114.83L22.63 117.07M22.63 114.83L23.15 114.83M22.63 117.07L24.00 117.07M21.98 110.35L21.98 115.95M21.98 110.35L22.44 110.35M21.98 115.95L22.63 115.95M22.62 118.56L22.62 120.06M22.62 118.56L24.00 118.56M22.62 120.06L24.00 120.06M23.00 121.55L23.00 123.05M23.00 121.55L24.00 121.55M23.00 123.05L24.00 123.05M22.70 122.30L22.70 124.54M22.70 122.30L23.00 122.30M22.70 124.54L24.00 124.54M22.30 119.31L22.30 123.42M22.30 119.31L22.62 119.31M22.30 123.42L22.70 123.42M22.85 126.03L22.85 127.53M22.85 126.03L24.00 126.03M22.85 127.53L24.00 127.53M23.30 129.02L23.30 130.52M23.30 129.02L24.00 129.02M23.30 130.52L24.00 130.52M22.98 129.77L22.98 132.01M22.98 129.77L23.30 129.77M22.98 132.01L24.00 132.01M22.28 126.78L22.28 130.89M22.28 126.78L22.85 126.78M22.28 130.89L22.98 130.89M21.70 121.37L21.70 128.84M21.70 121.37L22.30 121.37M21.70 128.84L22.28 128.84M21.46 113.15L21.46 125.10M21.46 113.15L21.98 113.15M21.46 125.10L21.70 125.10M22.68 133.50L22.68 135.00M22.68 133.50L24.00 133.50M22.68 135.00L24.00 135.00M22.44 134.25L22.44 136.49M22.44 134.25L22.68 134.25M22.44 136.49L24.00 136.49M22.26 137.99L22.26 139.48M22.26 137.99L24.00 137.99M22.26 139.48L24.00 139.48M21.88 135.37L21.88 138.73M21.88 135.37L22.44 135.37M21.88 138.73L22.26 138.73M22.19 140.97L22.19 142.47M22.19 140.97L24.00 140.97M22.19 142.47L24.00 142.47M22.81 143.96L22.81 145.46M22.81 143.96L24.00 143.96M22.81 145.46L24.00 145.46M23.28 148.44L23.28 149.94M23.28 148.44L24.00 148.44M23.28 149.94L24.00 149.94M22.63 146.95L22.63 149.19M22.63 146.95L24.00 146.95M22.63 149.19L23.28 149.19M22.12 144.71L22.12 148.07M22.12 144.71L22.81 144.71M22.12 148.07L22.63 148.07M21.75 141.72L21.75 146.39M21.75 141.72L22.19 141.72M21.75 146.39L22.12 146.39M21.38 137.05L21.38 144.06M21.38 137.05L21.88 137.05M21.38 144.06L21.75 144.06M20.80 119.13L20.80 140.55M20.80 119.13L21.46 119.13M20.80 140.55L21.38 140.55M19.70 98.68L19.70 129.84M19.70 98.68L21.20 98.68M19.70 129.84L20.80 129.84M22.56 152.93L22.56 154.42M22.56 152.93L24.00 152.93M22.56 154.42L24.00 154.42M21.92 151.43L21.92 153.67M21.92 151.43L24.00 151.43M21.92 153.67L22.56 153.67M23.16 155.91L23.16 157.41M23.16 155.91L24.00 155.91M23.16 157.41L24.00 157.41M22.60 156.66L22.60 158.90M22.60 156.66L23.16 156.66M22.60 158.90L24.00 158.90M22.89 160.40L22.89 161.89M22.89 160.40L24.00 160.40M22.89 161.89L24.00 161.89M22.56 163.38L22.56 164.88M22.56 163.38L24.00 163.38M22.56 164.88L24.00 164.88M22.32 161.14L22.32 164.13M22.32 161.14L22.89 161.14M22.32 164.13L22.56 164.13M22.08 157.78L22.08 162.64M22.08 157.78L22.60 157.78M22.08 162.64L22.32 162.64M21.52 152.55L21.52 160.21M21.52 152.55L21.92 152.55M21.52 160.21L22.08 160.21M23.24 166.37L23.24 167.87M23.24 166.37L24.00 166.37M23.24 167.87L24.00 167.87M22.75 167.12L22.75 169.36M22.75 167.12L23.24 167.12M22.75 169.36L24.00 169.36M22.84 170.85L22.84 172.35M22.84 170.85L24.00 170.85M22.84 172.35L24.00 172.35M22.31 168.24L22.31 171.60M22.31 168.24L22.75 168.24M22.31 171.60L22.84 171.60M22.71 173.84L22.71 175.34M22.71 173.84L24.00 173.84M22.71 175.34L24.00 175.34M23.10 176.83L23.10 178.32M23.10 176.83L24.00 176.83M23.10 178.32L24.00 178.32M22.50 174.59L22.50 177.58M22.50 174.59L22.71 174.59M22.50 177.58L23.10 177.58M22.36 179.82L22.36 181.31M22.36 179.82L24.00 179.82M22.36 181.31L24.00 181.31M22.68 182.81L22.68 184.30M22.68 182.81L24.00 182.81M22.68 184.30L24.00 184.30M22.11 180.57L22.11 183.55M22.11 180.57L22.36 180.57M22.11 183.55L22.68 183.55M21.83 176.08L21.83 182.06M21.83 176.08L22.50 176.08M21.83 182.06L22.11 182.06M21.62 169.92L21.62 179.07M21.62 169.92L22.31 169.92M21.62 179.07L21.83 179.07M21.00 156.38L21.00 174.50M21.00 156.38L21.52 156.38M21.00 174.50L21.62 174.50M23.30 185.79L23.30 187.29M23.30 185.79L24.00 185.79M23.30 187.29L24.00 187.29M23.24 188.78L23.24 190.28M23.24 188.78L24.00 188.78M23.24 190.28L24.00 190.28M22.71 186.54L22.71 189.53M22.71 186.54L23.30 186.54M22.71 189.53L23.24 189.53M22.78 191.77L22.78 193.26M22.78 191.77L24.00 191.77M22.78 193.26L24.00 193.26M22.32 192.52L22.32 194.76M22.32 192.52L22.78 192.52M22.32 194.76L24.00 194.76M22.09 188.04L22.09 193.64M22.09 188.04L22.71 188.04M22.09 193.64L22.32 193.64M23.30 197.75L23.30 199.24M23.30 197.75L24.00 197.75M23.30 199.24L24.00 199.24M22.96 198.49L22.96 200.73M22.96 198.49L23.30 198.49M22.96 200.73L24.00 200.73M22.51 196.25L22.51 199.61M22.51 196.25L24.00 196.25M22.51 199.61L22.96 199.61M22.72 202.23L22.72 203.72M22.72 202.23L24.00 202.23M22.72 203.72L24.00 203.72M22.14 202.98L22.14 205.22M22.14 202.98L22.72 202.98M22.14 205.22L24.00 205.22M21.87 197.93L21.87 204.10M21.87 197.93L22.51 197.93M21.87 204.10L22.14 204.10M21.51 190.84L21.51 201.02M21.51 190.84L22.09 190.84M21.51 201.02L21.87 201.02M22.10 208.20L22.10 209.70M22.10 208.20L24.00 208.20M22.10 209.70L24.00 209.70M21.87 206.71L21.87 208.95M21.87 206.71L24.00 206.71M21.87 208.95L22.10 208.95M22.57 211.19L22.57 212.69M22.57 211.19L24.00 211.19M22.57 212.69L24.00 212.69M22.55 214.18L22.55 215.67M22.55 214.18L24.00 214.18M22.55 215.67L24.00 215.67M22.11 211.94L22.11 214.93M22.11 211.94L22.57 211.94M22.11 214.93L22.55 214.93M21.60 207.83L21.60 213.43M21.60 207.83L21.87 207.83M21.60 213.43L22.11 213.43M21.29 195.93L21.29 210.63M21.29 195.93L21.51 195.93M21.29 210.63L21.60 210.63M22.84 218.66L22.84 220.16M22.84 218.66L24.00 218.66M22.84 220.16L24.00 220.16M22.34 219.41L22.34 221.65M22.34 219.41L22.84 219.41M22.34 221.65L24.00 221.65M21.97 217.17L21.97 220.53M21.97 217.17L24.00 217.17M21.97 220.53L22.34 220.53M22.75 223.14L22.75 224.64M22.75 223.14L24.00 223.14M22.75 224.64L24.00 224.64M23.30 226.13L23.30 227.63M23.30 226.13L24.00 226.13M23.30 227.63L24.00 227.63M22.86 226.88L22.86 229.12M22.86 226.88L23.30 226.88M22.86 229.12L24.00 229.12M22.41 223.89L22.41 228.00M22.41 223.89L22.75 223.89M22.41 228.00L22.86 228.00M21.76 218.85L21.76 225.95M21.76 218.85L21.97 218.85M21.76 225.95L22.41 225.95M23.30 230.61L23.30 232.11M23.30 230.61L24.00 230.61M23.30 232.11L24.00 232.11M23.30 233.60L23.30 235.10M23.30 233.60L24.00 233.60M23.30 235.10L24.00 235.10M22.91 231.36L22.91 234.35M22.91 231.36L23.30 231.36M22.91 234.35L23.30 234.35M22.90 236.59L22.90 238.08M22.90 236.59L24.00 236.59M22.90 238.08L24.00 238.08M22.25 232.86L22.25 237.34M22.25 232.86L22.91 232.86M22.25 237.34L22.90 237.34M23.09 239.58L23.09 241.07M23.09 239.58L24.00 239.58M23.09 241.07L24.00 241.07M23.14 242.57L23.14 244.06M23.14 242.57L24.00 242.57M23.14 244.06L24.00 244.06M22.78 240.33L22.78 243.31M22.78 240.33L23.09 240.33M22.78 243.31L23.14 243.31M23.50 247.05L23.50 248.54M23.50 247.05L24.00 247.05M23.50 248.54L24.00 248.54M23.30 247.80L23.30 250.04M23.30 247.80L23.50 247.80M23.30 250.04L24.00 250.04M22.96 245.56L22.96 248.92M22.96 245.56L24.00 245.56M22.96 248.92L23.30 248.92M22.43 241.82L22.43 247.24M22.43 241.82L22.78 241.82M22.43 247.24L22.96 247.24M21.79 235.10L21.79 244.53M21.79 235.10L22.25 235.10M21.79 244.53L22.43 244.53M21.54 222.40L21.54 239.81M21.54 222.40L21.76 222.40M21.54 239.81L21.79 239.81M22.31 251.53L22.31 253.03M22.31 251.53L24.00 251.53M22.31 253.03L24.00 253.03M22.03 252.28L22.03 254.52M22.03 252.28L22.31 252.28M22.03 254.52L24.00 254.52M22.01 256.01L22.01 257.51M22.01 256.01L24.00 256.01M22.01 257.51L24.00 257.51M21.70 256.76L21.70 259.00M21.70 256.76L22.01 256.76M21.70 259.00L24.00 259.00M21.45 253.40L21.45 257.88M21.45 253.40L22.03 253.40M21.45 257.88L21.70 257.88M22.47 260.50L22.47 261.99M22.47 260.50L24.00 260.50M22.47 261.99L24.00 261.99M22.71 264.98L22.71 266.47M22.71 264.98L24.00 264.98M22.71 266.47L24.00 266.47M22.34 263.48L22.34 265.72M22.34 263.48L24.00 263.48M22.34 265.72L22.71 265.72M22.09 261.24L22.09 264.60M22.09 261.24L22.47 261.24M22.09 264.60L22.34 264.60M22.35 269.46L22.35 270.95M22.35 269.46L24.00 269.46M22.35 270.95L24.00 270.95M21.80 267.97L21.80 270.21M21.80 267.97L24.00 267.97M21.80 270.21L22.35 270.21M21.39 262.92L21.39 269.09M21.39 262.92L22.09 262.92M21.39 269.09L21.80 269.09M21.13 255.64L21.13 266.00M21.13 255.64L21.45 255.64M21.13 266.00L21.39 266.00M20.90 231.11L20.90 260.82M20.90 231.11L21.54 231.11M20.90 260.82L21.13 260.82M20.60 203.28L20.60 245.96M20.60 203.28L21.29 203.28M20.60 245.96L20.90 245.96M18.30 165.44L18.30 224.62M18.30 165.44L21.00 165.44M18.30 224.62L20.60 224.62M14.10 114.26L14.10 195.03M14.10 114.26L19.70 114.26M14.10 195.03L18.30 195.03M5.40 65.62L5.40 154.64M5.40 65.62L20.40 65.62M5.40 154.64L14.10 154.64" stroke="#222" stroke-width="0.9" fill="none"/><defs><linearGradient id="cs" x1="0" y1="1" x2="0" y2="0"><stop offset="0.000" stop-color="#4575b4"/><stop offset="0.167" stop-color="#91bfdb"/><stop offset="0.333" stop-color="#e0f3f8"/><stop offset="0.500" stop-color="#ffffbf"/><stop offset="0.667" stop-color="#fee090"/><stop offset="0.833" stop-color="#fc8d59"/><stop offset="1.000" stop-color="#d73027"/></linearGradient></defs><rect x="319.7" y="48" width="3.7" height="53.7" fill="url(#cs)"/><text x="324.6" y="59.6" font-size="9.6">5</text><text x="324.6" y="69.8" font-size="9.6">0</text><text x="324.6" y="80.3" font-size="9.6">−5</text><text x="324.6" y="90.5" font-size="9.6">−10</text><text x="324.6" y="100.6" font-size="9.6">−15</text><text x="325.6" y="130.2" font-size="9.6">Cohort</text><rect x="325.4" y="136.0" width="10.2" height="10" fill="#6f3f97"/><text x="338.6" y="144.4" font-size="9.6">CCC</text><rect x="325.4" y="146.0" width="10.2" height="10" fill="#f7b21b"/><text x="338.6" y="154.4" font-size="9.6">EC</text><rect x="325.4" y="156.0" width="10.2" height="10" fill="#6a8fd0"/><text x="338.6" y="164.4" font-size="9.6">HGSC</text><rect x="325.4" y="166.0" width="10.2" height="10" fill="#25408f"/><text x="338.6" y="174.4" font-size="9.6">MC</text><path d="M468.00 26.50L467.80 60.00L466.80 72.00L464.30 85.00L462.30 95.00L459.50 105.60L456.10 114.40L453.10 123.20L451.10 132.00L450.60 140.00L450.50 160.00L450.50 170.00L451.00 178.80L453.30 184.10L456.80 189.40L460.60 194.60L464.30 200.00L466.50 206.00L467.50 212.00L468.00 218.00L468.60 218.00L469.10 212.00L470.10 206.00L472.30 200.00L476.00 194.60L479.80 189.40L483.30 184.10L485.60 178.80L486.10 170.00L486.10 160.00L486.00 140.00L485.50 132.00L483.50 123.20L480.50 114.40L477.10 105.60L474.30 95.00L472.30 85.00L469.80 72.00L468.80 60.00L468.60 26.50Z" fill="#a98cc1" stroke="#555" stroke-width="0.7"/><path d="M526.90 26.50L526.70 60.00L525.40 75.00L522.60 88.00L521.00 98.60L518.60 105.60L516.00 114.40L512.80 123.20L511.60 130.30L510.70 140.00L509.70 160.00L509.20 170.00L509.90 178.80L513.50 187.60L517.50 192.90L521.90 198.20L525.00 204.00L526.20 210.00L526.90 218.00L527.50 218.00L528.20 210.00L529.40 204.00L532.50 198.20L536.90 192.90L540.90 187.60L544.50 178.80L545.20 170.00L544.70 160.00L543.70 140.00L542.80 130.30L541.60 123.20L538.40 114.40L535.80 105.60L533.40 98.60L531.80 88.00L529.00 75.00L527.70 60.00L527.50 26.50Z" fill="#f9d377" stroke="#555" stroke-width="0.7"/><path d="M585.50 35.60L585.30 60.00L583.30 78.00L580.80 92.00L578.80 102.00L575.80 109.10L573.00 117.90L570.60 126.70L569.10 138.00L568.70 150.00L568.60 170.00L569.30 178.80L570.20 184.10L573.40 189.40L577.80 194.60L580.80 198.00L583.80 205.00L584.80 212.00L585.50 218.00L586.10 218.00L586.80 212.00L587.80 205.00L590.80 198.00L593.80 194.60L598.20 189.40L601.40 184.10L602.30 178.80L603.00 170.00L602.90 150.00L602.50 138.00L601.00 126.70L598.60 117.90L595.80 109.10L592.80 102.00L590.80 92.00L588.30 78.00L586.30 60.00L586.10 35.60Z" fill="#a6bce0" stroke="#555" stroke-width="0.7"/><path d="M644.50 31.30L644.40 60.00L643.80 75.00L641.90 85.00L639.90 91.50L637.60 98.60L635.60 105.60L631.60 114.40L628.60 123.20L627.20 132.00L626.90 140.00L626.90 160.00L627.80 170.00L628.60 178.50L631.60 186.90L635.80 193.30L640.00 198.50L642.30 202.00L644.00 210.00L644.50 224.00L645.10 224.00L645.60 210.00L647.30 202.00L649.60 198.50L653.80 193.30L658.00 186.90L661.00 178.50L661.80 170.00L662.70 160.00L662.70 140.00L662.40 132.00L661.00 123.20L658.00 114.40L654.00 105.60L652.00 98.60L649.70 91.50L647.70 85.00L645.80 75.00L645.20 60.00L645.10 31.30Z" fill="#7b8cbe" stroke="#555" stroke-width="0.7"/><linearGradient id="jt0" x1="0" y1="28.0" x2="0" y2="49.0" gradientUnits="userSpaceOnUse"><stop offset="0" stop-color="#444" stop-opacity="0.15"/><stop offset="0.6" stop-color="#444" stop-opacity="0.5"/><stop offset="1" stop-color="#444" stop-opacity="1"/></linearGradient><path d="M467.0 28.0L466.7 29.2L466.3 30.4L466.3 31.6L465.9 32.8L466.8 34.0L466.4 35.2L466.4 36.4L466.3 37.6L465.6 38.8L465.4 40.0L465.0 41.2L464.7 42.4L464.7 43.6L464.3 44.8L464.8 46.0L464.3 47.2L463.9 48.4L464.2 49.6L464.4 50.8L464.4 52.0L464.6 53.2L463.5 54.4L464.0 55.6L463.4 56.8L463.8 58.0L463.9 59.2L462.9 60.4L463.4 61.6L463.3 62.8L463.1 64.0L463.3 65.2L463.1 66.4L463.5 67.6L462.5 68.8L462.4 70.0L462.9 71.2L463.2 72.4L463.0 73.6L462.8 74.8L462.5 76.0L462.8 77.2L462.6 78.4L462.7 79.6L462.1 80.8L462.3 82.0L462.4 83.2L463.2 84.4L462.0 85.6L462.3 86.8L462.4 88.0L462.3 89.2L462.3 90.4L462.1 91.6L462.2 92.8L462.5 94.0L462.8 95.2L463.1 96.4L462.2 97.6L462.9 98.8L462.9 100.0L462.6 101.2L462.7 102.4L463.0 103.6L462.6 104.8L462.8 106.0L463.1 107.2L462.7 108.4L462.0 109.6L463.0 110.8L463.1 112.0L462.1 113.2L462.8 114.4L462.5 115.6L462.1 116.8L462.6 118.0L462.3 119.2L462.1 120.4L463.1 121.6L462.6 122.8L462.6 124.0L463.0 125.2L462.9 126.4L462.8 127.6L463.0 128.8L463.1 130.0L462.1 131.2L462.2 132.4L462.4 133.6L462.8 134.8L462.2 136.0L462.6 137.2L462.1 138.4L462.6 139.6L462.3 140.8L462.9 142.0L462.7 143.2L462.1 144.4L462.3 145.6L462.6 146.8L463.2 148.0L463.1 149.2L462.1 150.4L462.9 151.6L462.4 152.8L462.8 154.0L462.1 155.2L462.6 156.4L462.5 157.6L463.1 158.8L462.5 160.0L462.5 161.2L462.1 162.4L462.4 163.6L462.5 164.8L462.2 166.0L462.9 167.2L462.1 168.4L463.0 169.6L463.1 170.8L463.0 172.0L462.1 173.2L462.8 174.4L463.2 175.6L462.4 176.8L462.9 178.0L462.0 179.2L462.5 180.4L462.7 181.6L462.1 182.8L462.5 184.0L462.2 185.2L462.6 186.4L462.7 187.6L462.5 188.8L462.3 190.0L462.8 191.2L462.3 192.4L462.8 193.6L462.8 194.8L462.6 196.0L462.7 197.2L473.9 197.2L474.4 196.0L473.5 194.8L473.5 193.6L474.0 192.4L473.9 191.2L474.3 190.0L473.7 188.8L473.6 187.6L474.5 186.4L474.4 185.2L474.1 184.0L474.5 182.8L473.6 181.6L474.5 180.4L474.3 179.2L473.9 178.0L474.3 176.8L473.9 175.6L473.6 174.4L474.2 173.2L473.7 172.0L474.3 170.8L473.5 169.6L473.9 168.4L473.7 167.2L473.4 166.0L474.5 164.8L473.8 163.6L473.8 162.4L473.9 161.2L474.3 160.0L474.2 158.8L473.6 157.6L474.5 156.4L473.8 155.2L473.7 154.0L474.1 152.8L473.7 151.6L473.5 150.4L474.5 149.2L473.9 148.0L474.6 146.8L473.5 145.6L474.0 144.4L473.8 143.2L474.6 142.0L474.0 140.8L474.3 139.6L473.7 138.4L474.6 137.2L474.0 136.0L474.1 134.8L474.2 133.6L474.1 132.4L474.2 131.2L473.7 130.0L473.5 128.8L474.0 127.6L473.7 126.4L473.7 125.2L474.4 124.0L474.3 122.8L473.5 121.6L474.5 120.4L473.9 119.2L473.7 118.0L473.4 116.8L473.9 115.6L474.6 114.4L473.5 113.2L474.2 112.0L474.3 110.8L474.2 109.6L474.4 108.4L474.3 107.2L474.0 106.0L473.9 104.8L474.3 103.6L473.6 102.4L473.7 101.2L474.3 100.0L474.1 98.8L474.5 97.6L474.4 96.4L473.5 95.2L473.8 94.0L474.1 92.8L474.4 91.6L474.3 90.4L474.2 89.2L473.5 88.0L473.6 86.8L474.5 85.6L473.8 84.4L473.8 83.2L473.4 82.0L473.6 80.8L474.2 79.6L474.6 78.4L473.9 77.2L473.5 76.0L474.5 74.8L473.4 73.6L474.6 72.4L473.5 71.2L474.3 70.0L473.5 68.8L473.5 67.6L474.1 66.4L473.7 65.2L473.6 64.0L473.0 62.8L473.8 61.6L472.6 60.4L473.7 59.2L472.7 58.0L472.8 56.8L472.8 55.6L473.2 54.4L472.3 53.2L473.0 52.0L471.8 50.8L472.8 49.6L472.8 48.4L471.6 47.2L471.6 46.0L471.5 44.8L471.1 43.6L472.0 42.4L471.7 41.2L471.0 40.0L471.0 38.8L470.7 37.6L470.9 36.4L470.9 35.2L469.9 34.0L469.9 32.8L470.5 31.6L470.3 30.4L470.2 29.2L469.5 28.0Z" fill="url(#jt0)"/><linearGradient id="jg0" x1="0" y1="198.0" x2="0" y2="217.5" gradientUnits="userSpaceOnUse"><stop offset="0" stop-color="#444" stop-opacity="0.95"/><stop offset="0.5" stop-color="#444" stop-opacity="0.6"/><stop offset="1" stop-color="#444" stop-opacity="0.3"/></linearGradient><path d="M463.6 196.5L463.2 197.5L463.6 198.5L463.6 199.5L464.1 200.5L464.3 201.5L464.1 202.5L464.4 203.5L464.5 204.5L464.2 205.5L465.0 206.5L465.3 207.5L464.6 208.5L465.3 209.5L465.0 210.5L465.7 211.5L465.8 212.5L465.5 213.5L465.9 214.5L465.9 215.5L466.3 216.5L466.1 217.5L470.5 217.5L470.3 216.5L470.7 215.5L470.7 214.5L471.1 213.5L470.8 212.5L470.9 211.5L471.6 210.5L471.3 209.5L472.0 208.5L471.3 207.5L471.6 206.5L472.4 205.5L472.1 204.5L472.2 203.5L472.5 202.5L472.3 201.5L472.5 200.5L473.0 199.5L473.0 198.5L473.4 197.5L473.0 196.5Z" fill="url(#jg0)"/><path stroke="#4a4a4a" stroke-opacity="0.65" stroke-width="1.1" d="M469.3 43.3h1.1M463.3 34.4h1.1M464.3 47.9h1.1M470.8 41.8h1.1M470.9 39.7h1.1M461.7 35.5h1.1M468.2 41.7h1.1M462.0 48.7h1.1M474.4 42.7h1.1M471.0 48.2h1.1M464.3 43.3h1.1M468.4 46.6h1.1M472.1 37.9h1.1M473.1 34.9h1.1M465.9 47.1h1.1M461.8 47.9h1.1M467.8 34.1h1.1M467.6 35.4h1.1M472.7 43.8h1.1M468.9 48.6h1.1M464.4 44.6h1.1M467.1 46.4h1.1M465.9 34.6h1.1M474.0 37.2h1.1M467.8 38.7h1.1M467.6 43.4h1.1M467.3 49.0h1.1M470.5 47.2h1.1M464.2 38.3h1.1M467.3 31.6h1.1M467.1 41.5h1.1M467.0 37.3h1.1M467.0 47.8h1.1M466.8 38.0h1.1M465.2 41.7h1.1M470.5 45.5h1.1M465.7 45.8h1.1M469.1 29.7h1.1M468.4 39.3h1.1M466.8 42.8h1.1M467.9 37.4h1.1M465.7 42.3h1.1M468.8 38.8h1.1M466.8 44.6h1.1M470.7 44.4h1.1M465.5 48.0h1.1M463.6 33.0h1.1M465.0 32.9h1.1M466.0 31.2h1.1M465.9 45.7h1.1M463.7 37.0h1.1M469.2 39.8h1.1M469.1 35.1h1.1M468.5 37.2h1.1M464.2 45.0h1.1M467.2 39.7h1.1M472.7 45.9h1.1M459.9 42.0h1.1M468.6 34.9h1.1M468.4 41.6h1.1M462.7 47.8h1.1M465.7 40.9h1.1M465.7 46.4h1.1M471.7 34.2h1.1M469.1 45.6h1.1M471.5 42.0h1.1M467.5 39.9h1.1M464.1 44.7h1.1M465.7 38.5h1.1M465.5 40.9h1.1M469.9 27.2h1.1M465.6 26.6h1.1M468.5 26.6h1.1M466.6 27.0h1.1M464.6 27.9h1.1M469.1 27.6h1.1M466.3 27.9h1.1M468.4 27.6h1.1M470.8 213.4h1.1M471.4 199.0h1.1M470.1 199.7h1.1M470.2 206.4h1.1M470.6 213.0h1.1M465.2 213.6h1.1M463.4 207.0h1.1M466.5 216.0h1.1M465.1 211.0h1.1M471.4 202.0h1.1M470.3 206.3h1.1M467.8 209.0h1.1M464.6 205.0h1.1M469.1 205.3h1.1M468.1 206.7h1.1M467.0 200.6h1.1M463.1 199.6h1.1M465.4 209.6h1.1M472.2 205.5h1.1M465.8 216.9h1.1M467.3 200.1h1.1M466.1 215.2h1.1M470.1 207.9h1.1M469.8 212.4h1.1M465.6 203.1h1.1M465.3 202.6h1.1M467.1 202.4h1.1M465.0 201.1h1.1M471.8 202.8h1.1M463.2 201.1h1.1M465.2 202.3h1.1M469.0 207.6h1.1M467.4 199.6h1.1M462.2 198.5h1.1M466.0 215.0h1.1M466.6 206.1h1.1M466.0 214.9h1.1M468.9 198.7h1.1M465.7 213.8h1.1M467.9 199.1h1.1M468.8 200.9h1.1M468.9 212.7h1.1M469.3 198.1h1.1M466.6 211.4h1.1M466.0 198.5h1.1M473.4 198.6h1.1M470.4 198.5h1.1M469.7 215.7h1.1M467.1 213.7h1.1M468.9 204.6h1.1M462.6 199.2h1.1M467.6 207.0h1.1M470.5 205.3h1.1M465.1 210.4h1.1M469.1 207.8h1.1M465.6 205.1h1.1M468.7 217.2h1.1M463.6 205.5h1.1M470.5 212.1h1.1M463.3 205.4h1.1M469.9 212.6h1.1M466.9 210.0h1.1M471.9 205.2h1.1M464.6 205.8h1.1M463.3 199.8h1.1M466.6 208.7h1.1M465.1 212.7h1.1M463.8 198.7h1.1M467.0 213.4h1.1M471.3 208.6h1.1M461.7 156.7h1.1M461.5 122.8h1.1M473.5 58.1h1.1M474.9 167.3h1.1M461.1 60.9h1.1M473.6 49.4h1.1M461.0 54.5h1.1M460.8 138.5h1.1M461.8 171.2h1.1M462.0 188.4h1.1M460.8 101.2h1.1M460.3 169.1h1.1M461.7 47.5h1.1M474.1 102.2h1.1M473.9 127.4h1.1M474.0 80.1h1.1M474.0 144.4h1.1M473.5 41.6h1.1M473.6 114.0h1.1M460.7 113.0h1.1M473.8 168.3h1.1M461.8 108.6h1.1M461.6 167.0h1.1M473.6 185.8h1.1M461.2 163.1h1.1M461.7 100.3h1.1M460.8 45.1h1.1M462.0 169.0h1.1M473.8 61.7h1.1M460.6 165.8h1.1M473.9 51.3h1.1M473.8 91.8h1.1M474.0 183.1h1.1M461.3 185.4h1.1M462.0 133.9h1.1M461.9 69.6h1.1M474.2 140.9h1.1M475.0 67.5h1.1M461.6 59.1h1.1M461.5 178.1h1.1M473.5 80.6h1.1M474.2 100.0h1.1M473.6 131.6h1.1M461.8 77.1h1.1M474.2 87.5h1.1M475.4 177.6h1.1M461.9 156.1h1.1M474.1 139.2h1.1M461.7 121.5h1.1M461.6 143.5h1.1M473.8 49.5h1.1M474.4 124.9h1.1M461.7 132.6h1.1M461.0 115.6h1.1M461.8 43.2h1.1M461.2 51.0h1.1M474.0 177.8h1.1M473.8 42.8h1.1M474.2 134.4h1.1M461.5 118.4h1.1"/><line x1="468.30" y1="26.50" x2="468.30" y2="41.00" stroke="#444" stroke-width="0.8"/><rect x="465.1" y="215.3" width="6.4" height="2" fill="#444" fill-opacity="0.85"/><linearGradient id="jt1" x1="0" y1="37.0" x2="0" y2="68.0" gradientUnits="userSpaceOnUse"><stop offset="0" stop-color="#444" stop-opacity="0.15"/><stop offset="0.6" stop-color="#444" stop-opacity="0.5"/><stop offset="1" stop-color="#444" stop-opacity="1"/></linearGradient><path d="M526.3 37.0L525.7 38.2L525.3 39.4L525.9 40.6L525.5 41.8L524.9 43.0L525.4 44.2L525.3 45.4L524.7 46.6L524.7 47.8L525.3 49.0L525.0 50.2L525.1 51.4L524.5 52.6L524.4 53.8L523.9 55.0L523.7 56.2L524.5 57.4L524.5 58.6L523.7 59.8L523.8 61.0L523.8 62.2L523.8 63.4L523.2 64.6L522.8 65.8L523.0 67.0L523.8 68.2L522.9 69.4L522.8 70.6L523.4 71.8L523.1 73.0L523.4 74.2L523.1 75.4L523.1 76.6L522.8 77.8L522.2 79.0L522.5 80.2L522.8 81.4L521.7 82.6L522.7 83.8L521.7 85.0L521.5 86.2L522.1 87.4L522.2 88.6L521.9 89.8L522.1 91.0L522.1 92.2L522.0 93.4L522.1 94.6L521.1 95.8L520.9 97.0L521.9 98.2L521.9 99.4L521.2 100.6L521.0 101.8L521.1 103.0L521.4 104.2L521.2 105.4L521.8 106.6L521.3 107.8L521.5 109.0L521.6 110.2L521.4 111.4L521.8 112.6L521.7 113.8L521.2 115.0L521.0 116.2L521.1 117.4L521.1 118.6L522.1 119.8L521.5 121.0L521.9 122.2L521.5 123.4L521.9 124.6L522.0 125.8L521.2 127.0L521.5 128.2L521.7 129.4L521.8 130.6L521.8 131.8L521.3 133.0L521.4 134.2L521.0 135.4L520.9 136.6L521.2 137.8L521.5 139.0L522.0 140.2L521.5 141.4L521.8 142.6L521.7 143.8L521.3 145.0L521.9 146.2L521.8 147.4L521.4 148.6L521.6 149.8L521.5 151.0L521.2 152.2L521.3 153.4L521.9 154.6L521.1 155.8L521.3 157.0L521.1 158.2L521.1 159.4L521.8 160.6L522.1 161.8L521.4 163.0L521.9 164.2L521.4 165.4L521.7 166.6L521.1 167.8L520.9 169.0L521.8 170.2L521.5 171.4L521.5 172.6L521.6 173.8L521.8 175.0L521.4 176.2L521.8 177.4L521.2 178.6L522.0 179.8L521.7 181.0L521.7 182.2L521.4 183.4L521.7 184.6L521.4 185.8L521.8 187.0L521.2 188.2L521.4 189.4L521.4 190.6L522.0 191.8L521.7 193.0L521.4 194.2L522.1 195.4L521.6 196.6L521.8 197.8L521.5 199.0L532.0 199.0L533.0 197.8L532.1 196.6L531.9 195.4L532.5 194.2L532.8 193.0L532.1 191.8L532.7 190.6L532.6 189.4L532.4 188.2L532.7 187.0L532.8 185.8L532.0 184.6L532.3 183.4L532.7 182.2L532.9 181.0L532.8 179.8L532.8 178.6L532.4 177.4L532.6 176.2L533.0 175.0L532.4 173.8L532.1 172.6L532.7 171.4L532.7 170.2L532.4 169.0L532.4 167.8L532.0 166.6L532.1 165.4L532.8 164.2L533.1 163.0L532.0 161.8L532.0 160.6L533.1 159.4L532.3 158.2L532.5 157.0L532.2 155.8L532.1 154.6L532.7 153.4L532.1 152.2L533.0 151.0L532.1 149.8L532.8 148.6L532.1 147.4L532.7 146.2L532.1 145.0L532.3 143.8L532.8 142.6L532.5 141.4L532.2 140.2L532.4 139.0L533.0 137.8L532.1 136.6L533.0 135.4L533.0 134.2L532.4 133.0L532.7 131.8L532.7 130.6L532.0 129.4L532.0 128.2L532.7 127.0L532.2 125.8L532.2 124.6L532.3 123.4L532.1 122.2L532.5 121.0L531.9 119.8L532.8 118.6L531.9 117.4L532.9 116.2L532.9 115.0L532.5 113.8L532.3 112.6L532.4 111.4L531.9 110.2L532.9 109.0L533.1 107.8L532.3 106.6L532.2 105.4L531.9 104.2L532.3 103.0L532.8 101.8L532.0 100.6L532.7 99.4L532.7 98.2L532.9 97.0L532.0 95.8L532.0 94.6L532.9 93.4L531.8 92.2L532.7 91.0L532.0 89.8L531.6 88.6L532.3 87.4L532.2 86.2L531.3 85.0L531.7 83.8L531.3 82.6L531.3 81.4L531.1 80.2L531.2 79.0L531.5 77.8L531.3 76.6L531.5 75.4L531.2 74.2L531.3 73.0L531.2 71.8L530.6 70.6L531.3 69.4L531.1 68.2L531.0 67.0L530.3 65.8L530.9 64.6L530.9 63.4L530.0 62.2L530.5 61.0L530.0 59.8L530.1 58.6L530.0 57.4L529.5 56.2L529.3 55.0L529.2 53.8L529.7 52.6L529.6 51.4L528.6 50.2L529.5 49.0L528.5 47.8L528.7 46.6L529.2 45.4L528.8 44.2L528.3 43.0L529.1 41.8L527.9 40.6L527.9 39.4L528.2 38.2L527.7 37.0Z" fill="url(#jt1)"/><linearGradient id="jg1" x1="0" y1="199.0" x2="0" y2="217.5" gradientUnits="userSpaceOnUse"><stop offset="0" stop-color="#444" stop-opacity="0.95"/><stop offset="0.5" stop-color="#444" stop-opacity="0.6"/><stop offset="1" stop-color="#444" stop-opacity="0.3"/></linearGradient><path d="M522.3 197.5L522.3 198.5L522.2 199.5L522.5 200.5L522.6 201.5L522.5 202.5L523.0 203.5L523.2 204.5L522.8 205.5L523.7 206.5L523.4 207.5L523.8 208.5L523.6 209.5L524.4 210.5L523.7 211.5L524.5 212.5L524.9 213.5L524.9 214.5L524.9 215.5L525.4 216.5L525.2 217.5L528.8 217.5L528.6 216.5L529.1 215.5L529.1 214.5L529.1 213.5L529.5 212.5L530.3 211.5L529.6 210.5L530.4 209.5L530.2 208.5L530.6 207.5L530.3 206.5L531.2 205.5L530.8 204.5L531.0 203.5L531.5 202.5L531.4 201.5L531.5 200.5L531.8 199.5L531.7 198.5L531.7 197.5Z" fill="url(#jg1)"/><path stroke="#4a4a4a" stroke-opacity="0.65" stroke-width="1.1" d="M525.6 57.1h1.1M524.1 53.0h1.1M526.1 51.7h1.1M519.0 59.5h1.1M527.3 51.5h1.1M524.0 51.3h1.1M527.2 48.1h1.1M520.7 61.7h1.1M524.4 58.2h1.1M525.6 67.4h1.1M523.0 55.4h1.1M521.9 65.0h1.1M525.4 58.2h1.1M529.3 48.0h1.1M522.6 65.3h1.1M530.6 53.0h1.1M526.4 56.0h1.1M529.1 50.4h1.1M526.2 38.6h1.1M524.3 52.3h1.1M523.5 54.0h1.1M526.9 61.7h1.1M521.7 62.2h1.1M532.0 65.7h1.1M528.6 44.4h1.1M520.3 64.4h1.1M528.1 48.6h1.1M524.1 40.8h1.1M529.0 40.3h1.1M525.3 52.5h1.1M527.5 46.9h1.1M528.3 64.3h1.1M530.0 55.2h1.1M532.1 64.6h1.1M529.1 49.7h1.1M523.7 64.4h1.1M530.9 62.3h1.1M523.0 65.4h1.1M525.3 50.8h1.1M522.8 63.7h1.1M529.3 57.5h1.1M524.1 52.9h1.1M528.4 52.0h1.1M528.3 44.5h1.1M528.7 58.2h1.1M529.3 58.9h1.1M526.7 59.8h1.1M526.2 65.4h1.1M522.2 58.2h1.1M524.6 65.4h1.1M520.0 56.0h1.1M529.2 45.5h1.1M525.9 61.7h1.1M525.9 61.2h1.1M529.1 62.6h1.1M525.3 67.7h1.1M519.8 59.2h1.1M526.9 42.7h1.1M524.4 63.3h1.1M524.4 65.8h1.1M522.9 55.8h1.1M527.1 64.2h1.1M524.0 51.2h1.1M527.8 60.1h1.1M524.9 65.2h1.1M531.8 56.7h1.1M525.9 59.0h1.1M530.2 67.6h1.1M527.2 62.1h1.1M524.0 54.5h1.1M527.1 29.3h1.1M528.4 33.0h1.1M528.0 26.4h1.1M526.8 35.7h1.1M525.1 26.5h1.1M524.3 26.1h1.1M527.2 36.1h1.1M528.5 33.2h1.1M527.1 215.7h1.1M527.4 209.9h1.1M527.2 211.4h1.1M524.3 211.1h1.1M526.1 210.8h1.1M523.7 212.7h1.1M521.7 201.8h1.1M529.3 213.0h1.1M525.5 210.6h1.1M528.3 213.9h1.1M524.5 208.8h1.1M525.7 204.0h1.1M525.8 204.3h1.1M529.8 210.4h1.1M527.2 199.8h1.1M522.3 199.5h1.1M526.9 213.7h1.1M526.1 215.9h1.1M525.2 199.2h1.1M529.9 209.4h1.1M526.3 217.1h1.1M522.9 206.0h1.1M524.3 210.4h1.1M521.5 201.3h1.1M528.5 199.1h1.1M531.3 200.8h1.1M530.4 200.3h1.1M521.4 200.9h1.1M524.6 211.9h1.1M524.2 212.2h1.1M529.4 199.7h1.1M529.0 211.8h1.1M523.5 212.1h1.1M528.1 210.1h1.1M530.2 206.9h1.1M531.0 203.1h1.1M522.9 211.8h1.1M528.1 199.2h1.1M523.7 213.8h1.1M528.6 204.1h1.1M530.1 201.6h1.1M522.7 207.4h1.1M527.1 205.2h1.1M528.0 206.5h1.1M529.5 201.2h1.1M527.8 205.1h1.1M525.8 210.1h1.1M529.0 205.5h1.1M528.1 216.4h1.1M524.8 208.9h1.1M531.5 199.8h1.1M528.8 211.6h1.1M527.4 204.5h1.1M528.3 217.0h1.1M524.9 209.6h1.1M529.9 206.3h1.1M528.1 205.3h1.1M529.6 209.6h1.1M525.0 213.6h1.1M523.8 199.0h1.1M527.2 206.2h1.1M529.0 213.8h1.1M530.1 199.6h1.1M528.9 213.7h1.1M524.6 209.0h1.1M528.4 214.5h1.1M529.5 211.2h1.1M522.6 204.8h1.1M528.9 208.7h1.1M529.0 202.2h1.1M520.8 189.5h1.1M520.7 115.0h1.1M520.7 188.7h1.1M532.8 72.2h1.1M520.2 167.3h1.1M532.5 96.1h1.1M520.8 126.2h1.1M532.4 85.1h1.1M532.7 110.4h1.1M520.4 80.7h1.1M532.2 188.2h1.1M520.7 148.0h1.1M520.4 81.7h1.1M520.1 62.9h1.1M532.4 88.4h1.1M532.2 188.6h1.1M532.1 119.2h1.1M533.4 193.9h1.1M532.1 177.3h1.1M520.5 71.6h1.1M532.6 64.8h1.1M520.3 191.7h1.1M533.1 180.0h1.1M532.5 72.5h1.1M519.8 138.5h1.1M532.3 114.6h1.1M534.4 178.1h1.1M520.4 90.8h1.1M532.9 190.9h1.1M520.6 63.9h1.1M532.4 95.8h1.1M520.8 164.9h1.1M532.7 154.1h1.1M532.4 150.7h1.1M532.5 105.0h1.1M532.4 112.8h1.1M519.5 93.1h1.1M520.1 125.0h1.1M520.4 171.0h1.1M532.2 189.8h1.1M520.6 183.5h1.1M533.9 188.7h1.1M520.3 177.1h1.1M532.2 174.4h1.1M532.3 76.1h1.1M532.4 67.9h1.1M520.5 136.9h1.1M520.8 118.1h1.1M532.6 81.6h1.1M532.2 171.8h1.1M532.8 128.2h1.1M520.7 81.3h1.1M519.5 147.7h1.1M520.4 76.6h1.1M534.8 194.9h1.1M520.8 188.6h1.1M532.2 114.2h1.1M532.1 161.0h1.1M520.1 80.1h1.1M532.3 131.0h1.1"/><line x1="527.00" y1="26.00" x2="527.00" y2="60.00" stroke="#444" stroke-width="0.8"/><rect x="523.4" y="215.3" width="7.2" height="2" fill="#444" fill-opacity="0.85"/><linearGradient id="jt2" x1="0" y1="36.5" x2="0" y2="51.0" gradientUnits="userSpaceOnUse"><stop offset="0" stop-color="#444" stop-opacity="0.15"/><stop offset="0.6" stop-color="#444" stop-opacity="0.5"/><stop offset="1" stop-color="#444" stop-opacity="1"/></linearGradient><path d="M584.1 36.5L584.3 37.7L583.7 38.9L582.9 40.1L582.3 41.3L582.6 42.5L581.6 43.7L581.3 44.9L581.7 46.1L581.2 47.3L581.7 48.5L581.4 49.7L580.7 50.9L581.0 52.1L580.4 53.3L580.7 54.5L581.2 55.7L580.1 56.9L580.5 58.1L580.2 59.3L580.8 60.5L579.9 61.7L580.3 62.9L580.1 64.1L580.0 65.3L580.2 66.5L580.3 67.7L580.1 68.9L580.1 70.1L580.2 71.3L579.8 72.5L579.8 73.7L579.2 74.9L579.5 76.1L579.3 77.3L580.2 78.5L579.3 79.7L579.4 80.9L579.9 82.1L579.8 83.3L579.3 84.5L580.1 85.7L579.3 86.9L579.8 88.1L579.3 89.3L579.4 90.5L580.2 91.7L579.9 92.9L579.4 94.1L580.3 95.3L579.7 96.5L579.8 97.7L580.3 98.9L579.6 100.1L579.6 101.3L580.4 102.5L580.3 103.7L580.2 104.9L579.8 106.1L580.3 107.3L579.7 108.5L579.6 109.7L579.3 110.9L579.8 112.1L579.4 113.3L580.1 114.5L580.0 115.7L580.3 116.9L579.2 118.1L579.5 119.3L579.5 120.5L580.3 121.7L579.5 122.9L579.7 124.1L579.5 125.3L580.0 126.5L579.9 127.7L579.8 128.9L579.8 130.1L579.4 131.3L579.4 132.5L579.7 133.7L579.5 134.9L579.9 136.1L579.9 137.3L580.0 138.5L580.1 139.7L579.9 140.9L579.8 142.1L579.5 143.3L579.8 144.5L579.9 145.7L579.6 146.9L579.5 148.1L579.8 149.3L580.4 150.5L580.1 151.7L579.3 152.9L579.7 154.1L579.7 155.3L580.1 156.5L579.5 157.7L580.1 158.9L579.6 160.1L580.0 161.3L580.2 162.5L579.8 163.7L580.1 164.9L579.8 166.1L580.1 167.3L579.4 168.5L579.2 169.7L579.9 170.9L580.4 172.1L579.7 173.3L580.2 174.5L579.7 175.7L579.7 176.9L579.6 178.1L579.9 179.3L579.6 180.5L580.2 181.7L579.7 182.9L579.6 184.1L579.9 185.3L579.3 186.5L579.6 187.7L580.2 188.9L579.4 190.1L580.3 191.3L579.3 192.5L579.8 193.7L580.1 194.9L580.4 196.1L579.8 197.3L579.7 198.5L579.9 199.7L591.8 199.7L591.8 198.5L592.2 197.3L592.0 196.1L592.0 194.9L592.5 193.7L592.1 192.5L591.4 191.3L591.9 190.1L592.6 188.9L592.4 187.7L592.5 186.5L592.1 185.3L591.6 184.1L591.6 182.9L592.0 181.7L592.3 180.5L591.9 179.3L591.9 178.1L592.3 176.9L591.9 175.7L592.1 174.5L592.3 173.3L592.1 172.1L592.0 170.9L592.3 169.7L592.4 168.5L592.5 167.3L592.3 166.1L592.3 164.9L592.3 163.7L592.4 162.5L592.1 161.3L591.8 160.1L591.6 158.9L592.6 157.7L591.5 156.5L591.9 155.3L591.5 154.1L592.4 152.9L591.6 151.7L591.8 150.5L591.7 149.3L592.1 148.1L592.4 146.9L591.4 145.7L591.9 144.5L591.7 143.3L591.8 142.1L592.1 140.9L592.0 139.7L591.6 138.5L592.1 137.3L592.4 136.1L591.5 134.9L591.7 133.7L591.8 132.5L591.5 131.3L592.0 130.1L591.7 128.9L592.5 127.7L591.5 126.5L591.8 125.3L592.5 124.1L592.0 122.9L592.1 121.7L592.1 120.5L592.2 119.3L592.2 118.1L592.5 116.9L592.4 115.7L592.5 114.5L592.6 113.3L591.4 112.1L591.9 110.9L592.0 109.7L592.2 108.5L591.7 107.3L592.5 106.1L591.5 104.9L592.4 103.7L592.4 102.5L591.9 101.3L591.7 100.1L592.3 98.9L591.9 97.7L592.4 96.5L591.9 95.3L592.4 94.1L592.3 92.9L591.6 91.7L592.1 90.5L591.9 89.3L591.7 88.1L592.0 86.9L591.5 85.7L592.4 84.5L592.2 83.3L592.1 82.1L591.4 80.9L592.2 79.7L591.4 78.5L591.7 77.3L591.6 76.1L592.6 74.9L592.0 73.7L592.0 72.5L592.5 71.3L591.5 70.1L591.9 68.9L591.8 67.7L592.3 66.5L591.3 65.3L591.6 64.1L591.0 62.9L591.4 61.7L591.3 60.5L591.0 59.3L591.7 58.1L591.6 56.9L591.0 55.7L591.3 54.5L591.2 53.3L591.0 52.1L590.9 50.9L590.1 49.7L590.8 48.5L590.4 47.3L589.9 46.1L590.1 44.9L589.3 43.7L589.8 42.5L588.6 41.3L588.6 40.1L588.6 38.9L587.2 37.7L587.5 36.5Z" fill="url(#jt2)"/><linearGradient id="jg2" x1="0" y1="200.0" x2="0" y2="217.5" gradientUnits="userSpaceOnUse"><stop offset="0" stop-color="#444" stop-opacity="0.95"/><stop offset="0.5" stop-color="#444" stop-opacity="0.6"/><stop offset="1" stop-color="#444" stop-opacity="0.3"/></linearGradient><path d="M580.3 198.5L580.5 199.5L580.8 200.5L581.4 201.5L581.3 202.5L581.4 203.5L581.4 204.5L581.6 205.5L581.5 206.5L581.6 207.5L582.2 208.5L582.4 209.5L582.4 210.5L582.2 211.5L583.1 212.5L583.0 213.5L582.9 214.5L583.7 215.5L583.8 216.5L583.3 217.5L588.5 217.5L588.0 216.5L588.1 215.5L588.9 214.5L588.8 213.5L588.7 212.5L589.6 211.5L589.4 210.5L589.4 209.5L589.6 208.5L590.2 207.5L590.3 206.5L590.2 205.5L590.4 204.5L590.4 203.5L590.5 202.5L590.4 201.5L591.0 200.5L591.3 199.5L591.5 198.5Z" fill="url(#jg2)"/><path stroke="#4a4a4a" stroke-opacity="0.65" stroke-width="1.1" d="M583.8 49.7h1.1M585.2 50.2h1.1M589.5 48.5h1.1M576.6 50.2h1.1M586.8 45.9h1.1M587.6 46.9h1.1M586.1 46.8h1.1M587.2 48.0h1.1M579.2 47.8h1.1M593.5 48.1h1.1M581.9 39.5h1.1M588.3 44.5h1.1M588.1 48.6h1.1M585.4 49.8h1.1M584.3 47.6h1.1M583.5 46.7h1.1M584.9 47.3h1.1M589.9 47.1h1.1M582.4 51.0h1.1M584.0 41.6h1.1M585.4 42.2h1.1M584.1 41.1h1.1M579.7 42.5h1.1M584.5 47.9h1.1M585.8 49.5h1.1M585.5 49.2h1.1M584.7 44.7h1.1M582.5 42.5h1.1M591.0 44.0h1.1M589.4 47.6h1.1M582.3 45.1h1.1M586.1 39.9h1.1M578.3 50.2h1.1M581.3 46.1h1.1M585.4 47.9h1.1M586.3 50.5h1.1M582.6 49.9h1.1M591.6 49.6h1.1M578.9 44.5h1.1M580.5 46.7h1.1M585.5 50.6h1.1M588.5 48.8h1.1M583.0 43.3h1.1M591.4 46.6h1.1M585.4 49.4h1.1M587.3 45.2h1.1M587.9 42.8h1.1M584.9 47.4h1.1M582.6 41.4h1.1M584.7 45.7h1.1M588.7 40.2h1.1M589.5 45.1h1.1M586.3 43.7h1.1M587.8 43.6h1.1M584.3 39.2h1.1M583.0 42.2h1.1M587.5 48.7h1.1M586.7 49.7h1.1M580.2 41.7h1.1M587.5 49.5h1.1M582.4 42.3h1.1M589.4 45.4h1.1M587.4 50.7h1.1M592.9 46.8h1.1M583.7 43.4h1.1M585.8 48.7h1.1M588.8 43.9h1.1M582.8 45.3h1.1M583.6 43.7h1.1M584.0 50.0h1.1M585.4 35.4h1.1M583.7 36.0h1.1M584.5 36.2h1.1M585.8 36.1h1.1M584.6 35.7h1.1M583.1 35.4h1.1M584.1 36.3h1.1M582.6 36.1h1.1M584.1 209.3h1.1M583.5 208.2h1.1M583.1 200.9h1.1M581.2 203.4h1.1M583.6 212.1h1.1M589.4 206.4h1.1M588.3 213.2h1.1M582.8 214.8h1.1M580.3 204.3h1.1M586.7 211.4h1.1M584.5 205.5h1.1M587.0 211.1h1.1M589.1 203.8h1.1M586.7 205.6h1.1M581.0 202.7h1.1M586.9 215.8h1.1M581.7 212.1h1.1M581.3 200.5h1.1M583.1 202.9h1.1M580.7 206.0h1.1M586.8 204.8h1.1M589.2 202.6h1.1M587.3 209.4h1.1M584.6 203.9h1.1M584.1 211.5h1.1M589.4 200.0h1.1M583.7 213.2h1.1M589.6 200.5h1.1M581.4 210.1h1.1M581.1 203.7h1.1M583.2 213.5h1.1M587.0 215.9h1.1M587.6 201.2h1.1M587.8 206.3h1.1M583.8 214.2h1.1M590.6 201.2h1.1M589.6 206.8h1.1M587.3 211.7h1.1M586.3 214.3h1.1M581.0 207.3h1.1M584.8 211.8h1.1M589.3 208.4h1.1M588.4 201.8h1.1M587.8 200.6h1.1M583.6 213.8h1.1M589.6 209.0h1.1M585.7 210.7h1.1M580.6 203.8h1.1M584.4 205.7h1.1M583.2 203.0h1.1M587.7 202.0h1.1M583.2 211.3h1.1M585.5 203.7h1.1M589.6 207.2h1.1M583.3 205.5h1.1M582.9 215.3h1.1M583.9 209.3h1.1M585.7 214.0h1.1M582.8 212.9h1.1M586.2 211.2h1.1M587.9 207.5h1.1M582.6 214.3h1.1M583.9 204.5h1.1M580.5 203.1h1.1M582.1 204.3h1.1M584.9 211.9h1.1M583.3 201.6h1.1M584.0 207.6h1.1M580.5 202.5h1.1M591.3 200.1h1.1M579.2 160.8h1.1M592.2 159.0h1.1M592.3 60.1h1.1M591.7 166.1h1.1M578.6 44.3h1.1M592.3 189.8h1.1M579.1 145.5h1.1M579.1 164.6h1.1M578.3 89.5h1.1M579.0 183.6h1.1M591.5 59.0h1.1M592.2 72.0h1.1M592.6 93.3h1.1M592.8 174.5h1.1M578.1 80.6h1.1M592.3 187.6h1.1M578.3 185.1h1.1M591.5 67.7h1.1M578.9 137.6h1.1M591.9 64.7h1.1M578.7 57.1h1.1M592.2 77.3h1.1M591.6 43.4h1.1M591.7 51.7h1.1M578.2 182.8h1.1M578.8 172.7h1.1M578.3 102.5h1.1M578.9 97.7h1.1M592.3 116.6h1.1M579.2 126.9h1.1M579.1 196.0h1.1M591.7 149.2h1.1M592.3 131.7h1.1M591.7 144.6h1.1M578.9 178.8h1.1M578.8 159.1h1.1M593.3 66.1h1.1M578.6 99.5h1.1M591.5 131.7h1.1M578.7 195.1h1.1M579.0 129.1h1.1M577.8 145.0h1.1M591.6 126.3h1.1M578.7 114.9h1.1M578.5 158.5h1.1M578.3 168.7h1.1M577.8 178.6h1.1M592.9 123.9h1.1M593.5 173.3h1.1M592.0 73.1h1.1M578.5 164.7h1.1M578.5 106.5h1.1M578.7 101.5h1.1M577.3 115.2h1.1M591.7 154.1h1.1M579.1 198.2h1.1M592.1 131.4h1.1M578.1 96.6h1.1M579.2 172.6h1.1M592.4 125.4h1.1"/><line x1="585.90" y1="35.30" x2="585.90" y2="43.00" stroke="#444" stroke-width="0.8"/><rect x="581.1" y="215.3" width="9.6" height="2" fill="#444" fill-opacity="0.85"/><linearGradient id="jt3" x1="0" y1="45.0" x2="0" y2="80.0" gradientUnits="userSpaceOnUse"><stop offset="0" stop-color="#444" stop-opacity="0.15"/><stop offset="0.6" stop-color="#444" stop-opacity="0.5"/><stop offset="1" stop-color="#444" stop-opacity="1"/></linearGradient><path d="M644.4 45.0L644.2 46.2L644.0 47.4L643.4 48.6L644.1 49.8L643.4 51.0L644.1 52.2L643.2 53.4L643.1 54.6L643.2 55.8L643.2 57.0L643.3 58.2L643.8 59.4L643.5 60.6L643.8 61.8L643.0 63.0L643.1 64.2L643.4 65.4L642.6 66.6L643.1 67.8L642.8 69.0L643.2 70.2L643.2 71.4L642.1 72.6L642.1 73.8L642.4 75.0L641.8 76.2L642.0 77.4L641.8 78.6L641.3 79.8L641.5 81.0L641.6 82.2L641.0 83.4L641.7 84.6L641.1 85.8L641.0 87.0L641.2 88.2L641.7 89.4L641.1 90.6L641.4 91.8L641.0 93.0L640.6 94.2L641.0 95.4L641.1 96.6L640.2 97.8L640.7 99.0L640.5 100.2L640.3 101.4L639.6 102.6L639.9 103.8L640.0 105.0L639.7 106.2L639.8 107.4L639.4 108.6L639.9 109.8L640.1 111.0L639.6 112.2L639.8 113.4L640.3 114.6L640.5 115.8L640.5 117.0L639.5 118.2L640.1 119.4L639.8 120.6L639.9 121.8L639.5 123.0L640.5 124.2L639.7 125.4L639.6 126.6L640.2 127.8L639.9 129.0L640.1 130.2L640.2 131.4L640.3 132.6L640.1 133.8L640.4 135.0L639.8 136.2L639.6 137.4L640.5 138.6L640.5 139.8L639.8 141.0L640.2 142.2L640.2 143.4L639.5 144.6L639.5 145.8L639.8 147.0L640.1 148.2L640.0 149.4L640.5 150.6L640.6 151.8L640.1 153.0L639.8 154.2L639.6 155.4L640.3 156.6L640.4 157.8L640.0 159.0L640.1 160.2L640.1 161.4L640.3 162.6L640.3 163.8L640.3 165.0L640.3 166.2L639.9 167.4L640.0 168.6L639.6 169.8L640.0 171.0L640.3 172.2L640.6 173.4L640.3 174.6L639.4 175.8L639.5 177.0L640.1 178.2L640.5 179.4L639.6 180.6L640.3 181.8L639.6 183.0L640.3 184.2L640.6 185.4L640.2 186.6L640.4 187.8L639.8 189.0L639.5 190.2L639.5 191.4L639.9 192.6L639.5 193.8L639.9 195.0L651.1 195.0L650.7 193.8L651.0 192.6L650.8 191.4L650.9 190.2L651.1 189.0L650.6 187.8L650.4 186.6L650.6 185.4L650.3 184.2L650.0 183.0L651.1 181.8L650.2 180.6L650.4 179.4L650.2 178.2L650.6 177.0L650.2 175.8L650.1 174.6L650.3 173.4L650.4 172.2L650.8 171.0L650.0 169.8L651.1 168.6L650.3 167.4L651.2 166.2L650.4 165.0L650.9 163.8L650.3 162.6L650.4 161.4L650.8 160.2L650.7 159.0L650.5 157.8L650.1 156.6L650.2 155.4L650.1 154.2L650.9 153.0L650.1 151.8L650.7 150.6L650.0 149.4L650.3 148.2L650.6 147.0L650.8 145.8L650.5 144.6L650.4 143.4L650.5 142.2L650.9 141.0L650.3 139.8L650.8 138.6L650.6 137.4L650.2 136.2L651.1 135.0L650.1 133.8L651.2 132.6L650.2 131.4L651.0 130.2L650.2 129.0L650.3 127.8L650.3 126.6L650.0 125.4L650.3 124.2L650.6 123.0L651.0 121.8L650.9 120.6L651.2 119.4L650.2 118.2L650.7 117.0L650.4 115.8L650.7 114.6L650.4 113.4L650.1 112.2L650.4 111.0L650.5 109.8L651.0 108.6L650.2 107.4L650.3 106.2L650.4 105.0L651.1 103.8L650.2 102.6L650.2 101.4L650.1 100.2L650.2 99.0L650.4 97.8L650.3 96.6L650.4 95.4L649.6 94.2L649.9 93.0L650.0 91.8L649.9 90.6L649.0 89.4L650.0 88.2L649.4 87.0L649.2 85.8L648.9 84.6L648.6 83.4L649.5 82.2L648.3 81.0L648.8 79.8L648.5 78.6L648.6 77.4L648.3 76.2L647.7 75.0L648.6 73.8L647.8 72.6L648.0 71.4L647.7 70.2L647.3 69.0L647.6 67.8L648.0 66.6L647.0 65.4L647.9 64.2L647.0 63.0L646.8 61.8L647.7 60.6L647.3 59.4L646.8 58.2L647.3 57.0L647.1 55.8L647.4 54.6L646.4 53.4L647.0 52.2L646.7 51.0L646.5 49.8L647.2 48.6L647.0 47.4L646.1 46.2L646.0 45.0Z" fill="url(#jt3)"/><linearGradient id="jg3" x1="0" y1="196.0" x2="0" y2="224.0" gradientUnits="userSpaceOnUse"><stop offset="0" stop-color="#444" stop-opacity="0.95"/><stop offset="0.5" stop-color="#444" stop-opacity="0.6"/><stop offset="1" stop-color="#444" stop-opacity="0.3"/></linearGradient><path d="M640.4 194.5L640.7 195.5L641.1 196.5L641.2 197.5L641.3 198.5L641.2 199.5L641.5 200.5L641.6 201.5L641.2 202.5L641.4 203.5L641.8 204.5L641.2 205.5L642.1 206.5L641.8 207.5L642.3 208.5L641.7 209.5L641.8 210.5L642.5 211.5L642.1 212.5L642.1 213.5L642.8 214.5L642.8 215.5L642.7 216.5L642.4 217.5L643.3 218.5L642.8 219.5L643.0 220.5L643.3 221.5L643.2 222.5L643.0 223.5L647.6 223.5L647.4 222.5L647.3 221.5L647.6 220.5L647.8 219.5L647.3 218.5L648.2 217.5L647.9 216.5L647.8 215.5L647.8 214.5L648.5 213.5L648.5 212.5L648.1 211.5L648.8 210.5L648.9 209.5L648.3 208.5L648.8 207.5L648.5 206.5L649.4 205.5L648.8 204.5L649.2 203.5L649.4 202.5L649.0 201.5L649.1 200.5L649.4 199.5L649.3 198.5L649.4 197.5L649.5 196.5L649.9 195.5L650.2 194.5Z" fill="url(#jg3)"/><path stroke="#4a4a4a" stroke-opacity="0.65" stroke-width="1.1" d="M646.5 61.0h1.1M642.7 75.9h1.1M647.4 77.5h1.1M650.6 79.9h1.1M646.1 64.1h1.1M645.0 79.5h1.1M645.6 48.4h1.1M643.8 75.0h1.1M646.4 55.9h1.1M647.7 55.5h1.1M648.6 65.4h1.1M642.3 77.9h1.1M647.0 79.6h1.1M645.2 76.2h1.1M648.4 74.1h1.1M645.5 61.8h1.1M645.2 68.0h1.1M645.1 79.8h1.1M645.8 64.7h1.1M643.7 69.4h1.1M643.4 57.9h1.1M645.6 74.0h1.1M644.5 58.5h1.1M642.1 56.7h1.1M638.4 65.8h1.1M644.9 65.7h1.1M649.9 61.2h1.1M643.4 74.9h1.1M645.7 63.3h1.1M646.3 54.2h1.1M642.7 52.3h1.1M644.6 71.1h1.1M649.1 66.1h1.1M645.1 73.3h1.1M640.2 70.8h1.1M643.3 79.7h1.1M644.1 77.7h1.1M642.0 64.7h1.1M647.6 67.7h1.1M644.3 66.7h1.1M651.3 67.4h1.1M649.7 47.5h1.1M646.9 72.3h1.1M643.7 72.4h1.1M644.9 66.5h1.1M646.3 56.9h1.1M646.2 77.1h1.1M640.3 52.8h1.1M642.7 74.2h1.1M648.8 70.9h1.1M644.9 64.7h1.1M644.7 75.2h1.1M640.5 77.3h1.1M644.5 79.9h1.1M641.8 61.9h1.1M641.3 66.5h1.1M641.7 74.5h1.1M647.2 72.4h1.1M642.8 73.8h1.1M648.7 70.8h1.1M643.2 61.5h1.1M643.1 78.4h1.1M644.1 69.1h1.1M641.1 69.2h1.1M648.4 61.5h1.1M650.3 70.5h1.1M639.2 70.3h1.1M643.9 62.1h1.1M645.9 59.5h1.1M641.6 73.0h1.1M647.5 42.5h1.1M641.6 43.1h1.1M647.1 36.2h1.1M642.1 42.4h1.1M643.0 33.0h1.1M643.7 32.3h1.1M644.9 42.2h1.1M641.9 37.2h1.1M649.1 206.1h1.1M644.4 214.8h1.1M647.2 208.4h1.1M642.4 216.7h1.1M643.8 214.3h1.1M642.6 209.7h1.1M643.3 205.4h1.1M640.5 205.7h1.1M645.4 200.8h1.1M641.4 197.2h1.1M643.2 215.5h1.1M642.4 204.1h1.1M642.2 218.9h1.1M647.4 213.0h1.1M644.0 200.8h1.1M645.5 217.7h1.1M640.7 205.4h1.1M643.6 207.4h1.1M643.3 215.3h1.1M646.0 206.4h1.1M643.8 218.2h1.1M645.4 205.8h1.1M643.0 221.7h1.1M645.9 223.1h1.1M646.2 205.4h1.1M640.9 204.3h1.1M643.9 216.6h1.1M644.7 209.8h1.1M646.3 221.0h1.1M645.7 196.5h1.1M644.4 208.0h1.1M644.2 219.1h1.1M648.0 208.3h1.1M644.7 207.3h1.1M647.4 209.4h1.1M646.5 214.0h1.1M640.8 206.3h1.1M645.1 214.3h1.1M646.5 217.0h1.1M641.9 198.7h1.1M648.0 197.7h1.1M640.6 198.3h1.1M645.2 216.5h1.1M646.6 197.2h1.1M644.6 215.2h1.1M646.7 197.1h1.1M645.5 206.7h1.1M646.4 223.9h1.1M642.6 220.1h1.1M644.9 204.4h1.1M649.9 196.1h1.1M642.5 202.8h1.1M642.5 203.8h1.1M645.1 219.7h1.1M644.1 209.4h1.1M642.7 197.1h1.1M646.6 219.9h1.1M643.3 219.6h1.1M640.4 200.8h1.1M643.7 210.1h1.1M644.7 208.0h1.1M643.7 211.5h1.1M642.8 217.9h1.1M645.1 221.5h1.1M642.8 197.1h1.1M644.0 210.0h1.1M643.4 210.9h1.1M647.5 202.7h1.1M646.7 203.2h1.1M645.3 218.0h1.1M650.2 128.4h1.1M638.9 94.3h1.1M639.1 78.1h1.1M638.6 73.8h1.1M650.4 133.8h1.1M638.5 91.7h1.1M651.2 136.0h1.1M650.8 189.9h1.1M650.3 99.7h1.1M638.6 124.6h1.1M638.0 186.6h1.1M639.1 108.4h1.1M650.4 180.5h1.1M651.3 110.4h1.1M638.6 112.2h1.1M651.2 193.5h1.1M650.9 192.8h1.1M638.7 99.7h1.1M639.3 96.6h1.1M638.6 156.2h1.1M651.4 76.8h1.1M638.2 195.5h1.1M651.4 108.1h1.1M639.3 182.3h1.1M650.8 96.9h1.1M638.6 139.0h1.1M650.3 97.0h1.1M637.8 176.8h1.1M651.1 143.8h1.1M650.3 192.0h1.1M639.3 96.1h1.1M650.3 113.3h1.1M650.1 131.6h1.1M650.6 169.7h1.1M650.9 172.3h1.1M650.6 169.7h1.1M638.4 129.2h1.1M639.2 123.2h1.1M651.2 123.5h1.1M650.6 163.0h1.1M638.7 93.0h1.1M651.4 180.3h1.1M651.4 109.6h1.1M651.0 86.5h1.1M639.2 105.5h1.1M638.9 142.5h1.1M650.7 134.8h1.1M639.2 140.9h1.1M639.3 184.6h1.1M650.1 189.0h1.1M639.2 170.2h1.1M638.9 165.0h1.1M638.5 176.3h1.1M638.9 85.6h1.1M639.3 82.5h1.1M638.4 169.2h1.1M637.6 173.8h1.1M638.1 77.1h1.1M651.2 173.0h1.1M638.8 145.4h1.1"/><line x1="645.30" y1="30.80" x2="645.30" y2="72.00" stroke="#444" stroke-width="0.8"/><line x1="442.60" y1="146.80" x2="493.60" y2="146.80" stroke="#000" stroke-width="2.1" stroke-linecap="round"/><line x1="501.80" y1="150.10" x2="552.80" y2="150.10" stroke="#000" stroke-width="2.1" stroke-linecap="round"/><line x1="560.20" y1="148.20" x2="611.60" y2="148.20" stroke="#000" stroke-width="2.1" stroke-linecap="round"/><line x1="619.70" y1="146.40" x2="670.60" y2="146.40" stroke="#000" stroke-width="2.1" stroke-linecap="round"/><rect x="429.5" y="18.5" width="254" height="228" fill="none" stroke="#555" stroke-width="1"/><line x1="424.3" y1="26.40" x2="429.5" y2="26.40" stroke="#666" stroke-width="1"/><text x="422.8" y="29.50" text-anchor="end" font-size="10">10</text><line x1="424.3" y1="41.47" x2="429.5" y2="41.47" stroke="#666" stroke-width="1"/><text x="422.8" y="44.57" text-anchor="end" font-size="10">8</text><line x1="424.3" y1="56.54" x2="429.5" y2="56.54" stroke="#666" stroke-width="1"/><text x="422.8" y="59.64" text-anchor="end" font-size="10">6</text><line x1="424.3" y1="71.61" x2="429.5" y2="71.61" stroke="#666" stroke-width="1"/><text x="422.8" y="74.71" text-anchor="end" font-size="10">4</text><line x1="424.3" y1="86.68" x2="429.5" y2="86.68" stroke="#666" stroke-width="1"/><text x="422.8" y="89.78" text-anchor="end" font-size="10">2</text><line x1="424.3" y1="101.75" x2="429.5" y2="101.75" stroke="#666" stroke-width="1"/><text x="422.8" y="104.85" text-anchor="end" font-size="10">0</text><line x1="424.3" y1="116.82" x2="429.5" y2="116.82" stroke="#666" stroke-width="1"/><text x="422.8" y="119.92" text-anchor="end" font-size="10">−2</text><line x1="424.3" y1="131.89" x2="429.5" y2="131.89" stroke="#666" stroke-width="1"/><text x="422.8" y="134.99" text-anchor="end" font-size="10">−4</text><line x1="424.3" y1="146.96" x2="429.5" y2="146.96" stroke="#666" stroke-width="1"/><text x="422.8" y="150.06" text-anchor="end" font-size="10">−6</text><line x1="424.3" y1="162.03" x2="429.5" y2="162.03" stroke="#666" stroke-width="1"/><text x="422.8" y="165.13" text-anchor="end" font-size="10">−8</text><line x1="424.3" y1="177.10" x2="429.5" y2="177.10" stroke="#666" stroke-width="1"/><text x="422.8" y="180.20" text-anchor="end" font-size="10">−10</text><line x1="424.3" y1="192.17" x2="429.5" y2="192.17" stroke="#666" stroke-width="1"/><text x="422.8" y="195.27" text-anchor="end" font-size="10">−12</text><line x1="424.3" y1="207.24" x2="429.5" y2="207.24" stroke="#666" stroke-width="1"/><text x="422.8" y="210.34" text-anchor="end" font-size="10">−14</text><line x1="424.3" y1="222.31" x2="429.5" y2="222.31" stroke="#666" stroke-width="1"/><text x="422.8" y="225.41" text-anchor="end" font-size="10">−16</text><line x1="424.3" y1="237.38" x2="429.5" y2="237.38" stroke="#666" stroke-width="1"/><text x="422.8" y="240.48" text-anchor="end" font-size="10">−18</text><line x1="468.3" y1="246.5" x2="468.3" y2="250.5" stroke="#555" stroke-width="1"/><text x="469.1" y="261.7" text-anchor="middle" font-size="9.7">CCC</text><line x1="527.3" y1="246.5" x2="527.3" y2="250.5" stroke="#555" stroke-width="1"/><text x="528.1" y="261.7" text-anchor="middle" font-size="9.7">EC</text><line x1="585.9" y1="246.5" x2="585.9" y2="250.5" stroke="#555" stroke-width="1"/><text x="587.5" y="261.7" text-anchor="middle" font-size="9.7">HGSC</text><line x1="644.9" y1="246.5" x2="644.9" y2="250.5" stroke="#555" stroke-width="1"/><text x="645.9" y="261.7" text-anchor="middle" font-size="9.7">MC</text><text x="558" y="280.5" text-anchor="middle" font-size="9.6">Histotype</text><text transform="translate(401.3 128.3) rotate(-90)" text-anchor="middle" font-size="9.9">RNA−seq counts vs normal (log2)</text><text x="0" y="11.6" font-size="17">a</text><text x="384.6" y="11.6" font-size="17">b</text><text x="60.8" y="23.9" font-size="8.8">1</text><text x="208.0" y="23.9" font-size="9">2</text><text x="163.6" y="34.8" font-size="8.4">2.1</text><text x="235.3" y="28.5" font-size="8.4">2.2</text></svg></div>
</body></html>
